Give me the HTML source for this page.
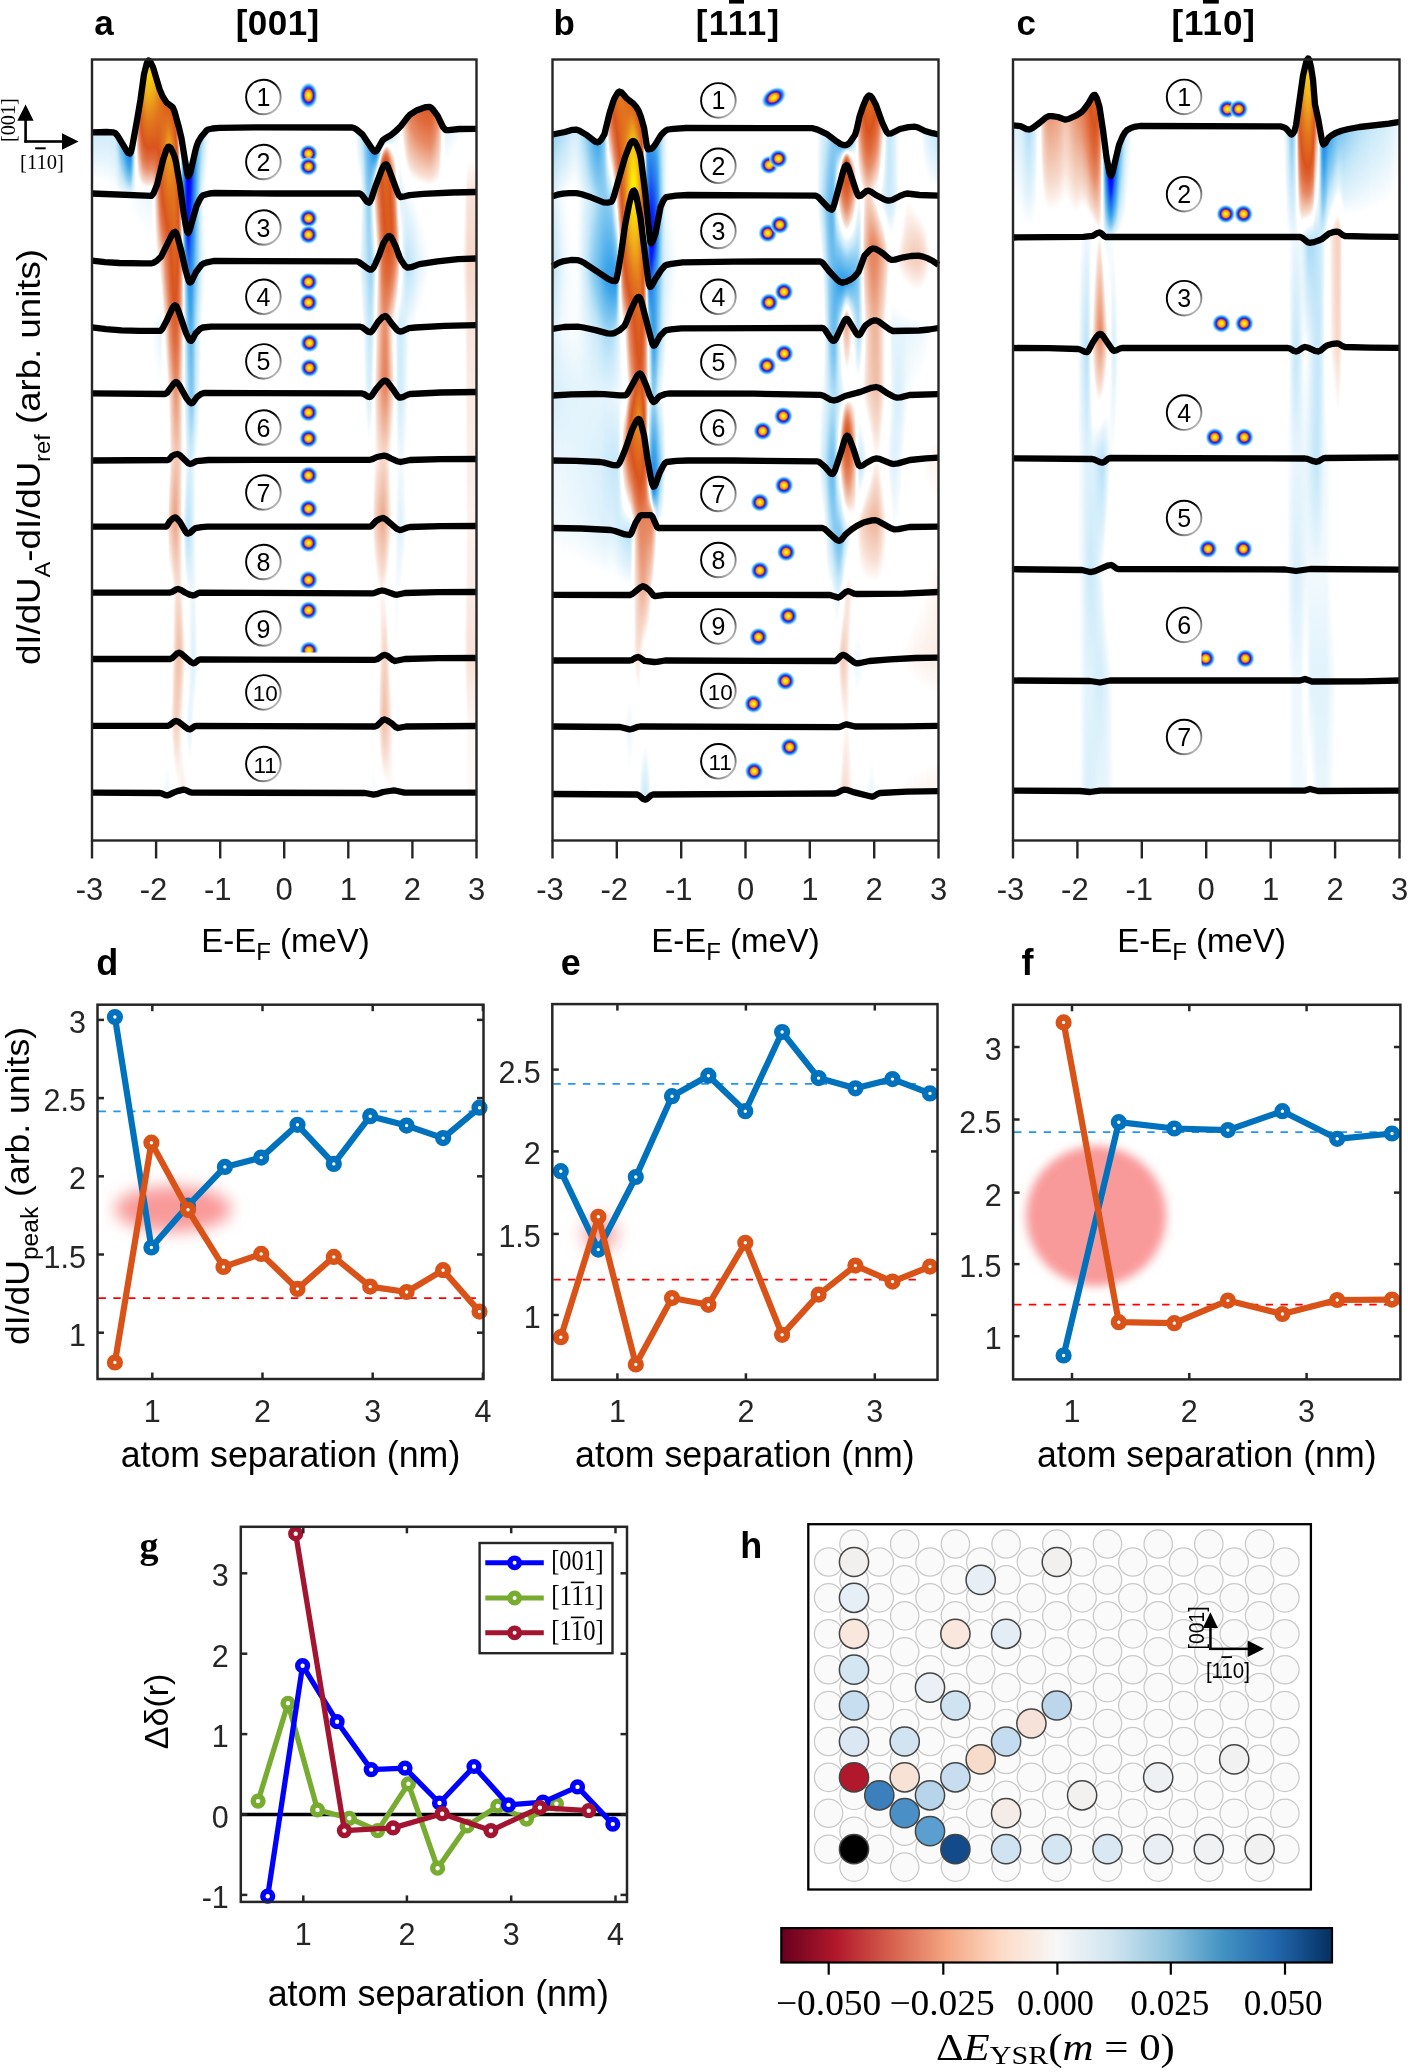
<!DOCTYPE html><html><head><meta charset="utf-8"><style>html,body{margin:0;padding:0;background:#fff}body{width:1408px;height:2072px;position:relative;overflow:hidden}</style></head><body><svg width="1408" height="880" style="position:absolute;left:0;top:0"><defs><clipPath id="fbc0_0"><path d="M93 132.3 L99 132.1 L105 132 L111 132.2 L117 135 L123 144.5 L129 153.5 L135 131 L141 95.9 L147 62.9 L153 67.1 L159 87.3 L165 100.5 L171 105.5 L177 120.2 L183 146.3 L189 175.5 L195 152.1 L201 137.1 L207 130 L213 128.4 L219 127.8 L225 127.7 L231 127.6 L237 127.5 L243 127.4 L249 127.3 L255 127.3 L261 127.2 L267 127.2 L273 127.2 L279 127.2 L285 127.2 L291 127.2 L297 127.2 L303 127.2 L309 127.2 L315 127.2 L321 127.2 L327 127.3 L333 127.3 L339 127.3 L345 127.4 L351 127.4 L357 129.9 L363 135 L369 144 L375 151.6 L381 142.9 L387 137.4 L393 133.5 L399 128 L405 120.6 L411 113.8 L417 110.2 L423 108 L429 106.8 L435 112.3 L441 122.8 L447 130.3 L453 129.7 L459 129 L465 128.9 L471 128.8 L474 128.8 L474 192 L468 192.1 L462 192.2 L456 192.4 L450 192.6 L444 192.8 L438 193.1 L432 193.3 L426 193.7 L420 194.1 L414 194.6 L408 195.4 L402 196.9 L396 188.2 L390 171.9 L384 165.5 L378 179.9 L372 197.1 L366 200.7 L360 193.6 L354 193.5 L348 193.5 L342 193.5 L336 193.5 L330 193.5 L324 193.5 L318 193.5 L312 193.5 L306 193.5 L300 193.5 L294 193.5 L288 193.5 L282 193.5 L276 193.5 L270 193.5 L264 193.4 L258 193.4 L252 193.3 L246 193.2 L240 193.2 L234 193.1 L228 193.1 L222 193 L216 193 L210 193.4 L204 194.9 L198 202.9 L192 222 L186 226.8 L180 185 L174 155 L168 147 L162 163.6 L156 187.6 L150 196 L144 195.8 L138 195.5 L132 195.1 L126 194.8 L120 194.6 L114 194.3 L108 194.1 L102 193.9 L96 193.6 L93 193.5 Z"/></clipPath><linearGradient id="fb0" gradientUnits="userSpaceOnUse" x1="92" x2="476.5" y1="0" y2="0"><stop offset="0.002601" stop-color="#cdebfa"/><stop offset="0.05722" stop-color="#cbeafa"/><stop offset="0.08843" stop-color="#308ced"/><stop offset="0.09623" stop-color="#2777ef"/><stop offset="0.104" stop-color="#3697ec"/><stop offset="0.1118" stop-color="#dbf0fb"/><stop offset="0.1196" stop-color="#e6845c"/><stop offset="0.1274" stop-color="#df6e1e"/><stop offset="0.1352" stop-color="#f2be15"/><stop offset="0.1586" stop-color="#f7cf0e"/><stop offset="0.1899" stop-color="#dc611e"/><stop offset="0.2133" stop-color="#df6738"/><stop offset="0.2211" stop-color="#f0bca5"/><stop offset="0.2289" stop-color="#d5eefb"/><stop offset="0.2367" stop-color="#399fec"/><stop offset="0.2445" stop-color="#0925fa"/><stop offset="0.2523" stop-color="#0000ff"/><stop offset="0.2601" stop-color="#0b29fa"/><stop offset="0.2757" stop-color="#59b4ee"/><stop offset="0.2991" stop-color="#e7f5fc"/><stop offset="0.3069" stop-color="#ffffff"/><stop offset="0.6814" stop-color="#ffffff"/><stop offset="0.7048" stop-color="#aadbf6"/><stop offset="0.7282" stop-color="#3392ed"/><stop offset="0.7438" stop-color="#3391ed"/><stop offset="0.7984" stop-color="#ffffff"/><stop offset="0.8062" stop-color="#fdf6f3"/><stop offset="0.8218" stop-color="#e99371"/><stop offset="0.8687" stop-color="#db5c28"/><stop offset="0.8921" stop-color="#e27348"/><stop offset="0.8999" stop-color="#e9926e"/><stop offset="0.9155" stop-color="#ffffff"/><stop offset="0.9233" stop-color="#e3f4fc"/><stop offset="0.9623" stop-color="#ffffff"/><stop offset="0.9935" stop-color="#ffffff"/></linearGradient><linearGradient id="fb1" gradientUnits="userSpaceOnUse" x1="92" x2="476.5" y1="0" y2="0"><stop offset="0.002601" stop-color="#cdebfa"/><stop offset="0.05722" stop-color="#cbeafa"/><stop offset="0.08843" stop-color="#308ced"/><stop offset="0.09623" stop-color="#2777ef"/><stop offset="0.104" stop-color="#3697ec"/><stop offset="0.1118" stop-color="#dbf0fb"/><stop offset="0.1196" stop-color="#e6845c"/><stop offset="0.1274" stop-color="#df6e1e"/><stop offset="0.143" stop-color="#f1b718"/><stop offset="0.1743" stop-color="#e6891d"/><stop offset="0.2055" stop-color="#d95520"/><stop offset="0.2133" stop-color="#df6738"/><stop offset="0.2211" stop-color="#f0bca5"/><stop offset="0.2289" stop-color="#d5eefb"/><stop offset="0.2367" stop-color="#399fec"/><stop offset="0.2445" stop-color="#0925fa"/><stop offset="0.2523" stop-color="#0000ff"/><stop offset="0.2601" stop-color="#0b29fa"/><stop offset="0.2757" stop-color="#59b4ee"/><stop offset="0.2991" stop-color="#e7f5fc"/><stop offset="0.3069" stop-color="#ffffff"/><stop offset="0.6814" stop-color="#ffffff"/><stop offset="0.7048" stop-color="#aadbf6"/><stop offset="0.7282" stop-color="#3392ed"/><stop offset="0.7438" stop-color="#3391ed"/><stop offset="0.7984" stop-color="#ffffff"/><stop offset="0.8062" stop-color="#fdf6f3"/><stop offset="0.8218" stop-color="#e99371"/><stop offset="0.8687" stop-color="#db5c28"/><stop offset="0.8921" stop-color="#e27348"/><stop offset="0.8999" stop-color="#e9926e"/><stop offset="0.9155" stop-color="#ffffff"/><stop offset="0.9233" stop-color="#e3f4fc"/><stop offset="0.9623" stop-color="#ffffff"/><stop offset="0.9935" stop-color="#ffffff"/></linearGradient><linearGradient id="fb2" gradientUnits="userSpaceOnUse" x1="92" x2="476.5" y1="0" y2="0"><stop offset="0.002601" stop-color="#cdebfa"/><stop offset="0.05722" stop-color="#cbeafa"/><stop offset="0.08843" stop-color="#308ced"/><stop offset="0.09623" stop-color="#2777ef"/><stop offset="0.104" stop-color="#3697ec"/><stop offset="0.1118" stop-color="#dbf0fb"/><stop offset="0.1196" stop-color="#e6845c"/><stop offset="0.1274" stop-color="#dc621e"/><stop offset="0.1508" stop-color="#e8931c"/><stop offset="0.2055" stop-color="#da581e"/><stop offset="0.2133" stop-color="#df6738"/><stop offset="0.2211" stop-color="#f0bca5"/><stop offset="0.2289" stop-color="#d5eefb"/><stop offset="0.2367" stop-color="#399fec"/><stop offset="0.2445" stop-color="#0925fa"/><stop offset="0.2523" stop-color="#0000ff"/><stop offset="0.2601" stop-color="#0b29fa"/><stop offset="0.2757" stop-color="#59b4ee"/><stop offset="0.2991" stop-color="#e7f5fc"/><stop offset="0.3069" stop-color="#ffffff"/><stop offset="0.6814" stop-color="#ffffff"/><stop offset="0.7048" stop-color="#aadbf6"/><stop offset="0.7282" stop-color="#3392ed"/><stop offset="0.7438" stop-color="#3391ed"/><stop offset="0.7984" stop-color="#ffffff"/><stop offset="0.8062" stop-color="#fdf6f3"/><stop offset="0.8218" stop-color="#e99371"/><stop offset="0.8609" stop-color="#dc602e"/><stop offset="0.8921" stop-color="#e27348"/><stop offset="0.8999" stop-color="#e9926e"/><stop offset="0.9155" stop-color="#ffffff"/><stop offset="0.9233" stop-color="#e3f4fc"/><stop offset="0.9623" stop-color="#ffffff"/><stop offset="0.9935" stop-color="#ffffff"/></linearGradient><linearGradient id="fb3" gradientUnits="userSpaceOnUse" x1="92" x2="476.5" y1="0" y2="0"><stop offset="0.002601" stop-color="#cdebfa"/><stop offset="0.05722" stop-color="#cbeafa"/><stop offset="0.08843" stop-color="#308ced"/><stop offset="0.09623" stop-color="#2777ef"/><stop offset="0.104" stop-color="#3697ec"/><stop offset="0.1118" stop-color="#dbf0fb"/><stop offset="0.1196" stop-color="#ea9776"/><stop offset="0.1274" stop-color="#db5a25"/><stop offset="0.2055" stop-color="#e1741e"/><stop offset="0.2133" stop-color="#db5e1e"/><stop offset="0.2289" stop-color="#d5eefb"/><stop offset="0.2367" stop-color="#399fec"/><stop offset="0.2445" stop-color="#0925fa"/><stop offset="0.2523" stop-color="#0000ff"/><stop offset="0.2601" stop-color="#0b29fa"/><stop offset="0.2757" stop-color="#59b4ee"/><stop offset="0.2991" stop-color="#e7f5fc"/><stop offset="0.3069" stop-color="#ffffff"/><stop offset="0.6814" stop-color="#ffffff"/><stop offset="0.7048" stop-color="#aadbf6"/><stop offset="0.7282" stop-color="#3392ed"/><stop offset="0.7438" stop-color="#3391ed"/><stop offset="0.7984" stop-color="#ffffff"/><stop offset="0.8062" stop-color="#ffffff"/><stop offset="0.8296" stop-color="#e88f6c"/><stop offset="0.8843" stop-color="#e2764b"/><stop offset="0.8999" stop-color="#eca385"/><stop offset="0.9155" stop-color="#ffffff"/><stop offset="0.9233" stop-color="#e3f4fc"/><stop offset="0.9623" stop-color="#ffffff"/><stop offset="0.9935" stop-color="#ffffff"/></linearGradient><linearGradient id="fb4" gradientUnits="userSpaceOnUse" x1="92" x2="476.5" y1="0" y2="0"><stop offset="0.002601" stop-color="#daf0fb"/><stop offset="0.05722" stop-color="#d6eefb"/><stop offset="0.08843" stop-color="#308ced"/><stop offset="0.09623" stop-color="#2777ef"/><stop offset="0.104" stop-color="#3697ec"/><stop offset="0.1118" stop-color="#e1f3fc"/><stop offset="0.1274" stop-color="#e3784d"/><stop offset="0.1508" stop-color="#d9551e"/><stop offset="0.1821" stop-color="#df6b1e"/><stop offset="0.1977" stop-color="#eda51a"/><stop offset="0.2211" stop-color="#de6534"/><stop offset="0.2289" stop-color="#ffffff"/><stop offset="0.2367" stop-color="#399fec"/><stop offset="0.2445" stop-color="#0925fa"/><stop offset="0.2523" stop-color="#0000ff"/><stop offset="0.2601" stop-color="#0b29fa"/><stop offset="0.2757" stop-color="#5db6ee"/><stop offset="0.2991" stop-color="#f0f9fd"/><stop offset="0.3069" stop-color="#ffffff"/><stop offset="0.6814" stop-color="#ffffff"/><stop offset="0.697" stop-color="#dbf0fb"/><stop offset="0.7282" stop-color="#3392ed"/><stop offset="0.7438" stop-color="#3391ed"/><stop offset="0.7594" stop-color="#ffffff"/><stop offset="0.7672" stop-color="#fdf3ef"/><stop offset="0.775" stop-color="#ffffff"/><stop offset="0.8062" stop-color="#ffffff"/><stop offset="0.8375" stop-color="#edab8f"/><stop offset="0.8843" stop-color="#e99574"/><stop offset="0.9155" stop-color="#ffffff"/><stop offset="0.9233" stop-color="#f2fafe"/><stop offset="0.9389" stop-color="#ffffff"/><stop offset="0.9935" stop-color="#ffffff"/></linearGradient><linearGradient id="fb5" gradientUnits="userSpaceOnUse" x1="92" x2="476.5" y1="0" y2="0"><stop offset="0.002601" stop-color="#eef8fd"/><stop offset="0.05722" stop-color="#e5f5fc"/><stop offset="0.08062" stop-color="#87caf2"/><stop offset="0.09623" stop-color="#399fec"/><stop offset="0.104" stop-color="#6abcef"/><stop offset="0.1118" stop-color="#e8f6fc"/><stop offset="0.1196" stop-color="#fae8e0"/><stop offset="0.1352" stop-color="#e78b66"/><stop offset="0.1743" stop-color="#dc602d"/><stop offset="0.1977" stop-color="#eda61a"/><stop offset="0.2211" stop-color="#db5e1e"/><stop offset="0.2289" stop-color="#f9e1d6"/><stop offset="0.2367" stop-color="#3fa6eb"/><stop offset="0.2445" stop-color="#0925fa"/><stop offset="0.2523" stop-color="#0000ff"/><stop offset="0.2601" stop-color="#0b2afa"/><stop offset="0.2757" stop-color="#6fbeef"/><stop offset="0.2913" stop-color="#ddf1fb"/><stop offset="0.2991" stop-color="#ffffff"/><stop offset="0.6892" stop-color="#ffffff"/><stop offset="0.7048" stop-color="#caeafa"/><stop offset="0.7204" stop-color="#64b9ef"/><stop offset="0.736" stop-color="#72c0f0"/><stop offset="0.7438" stop-color="#ebf7fd"/><stop offset="0.7516" stop-color="#e3794f"/><stop offset="0.7594" stop-color="#dd651e"/><stop offset="0.775" stop-color="#e06a3c"/><stop offset="0.7906" stop-color="#ffffff"/><stop offset="0.814" stop-color="#ffffff"/><stop offset="0.8531" stop-color="#f3cbb8"/><stop offset="0.8921" stop-color="#f5d0bf"/><stop offset="0.9077" stop-color="#ffffff"/><stop offset="0.9935" stop-color="#ffffff"/></linearGradient><linearGradient id="fb6" gradientUnits="userSpaceOnUse" x1="92" x2="476.5" y1="0" y2="0"><stop offset="0.002601" stop-color="#ffffff"/><stop offset="0.05722" stop-color="#ffffff"/><stop offset="0.09623" stop-color="#acdcf6"/><stop offset="0.1118" stop-color="#f1f9fd"/><stop offset="0.1196" stop-color="#ffffff"/><stop offset="0.1274" stop-color="#ffffff"/><stop offset="0.1586" stop-color="#f8e0d5"/><stop offset="0.1664" stop-color="#f0baa3"/><stop offset="0.1743" stop-color="#e06d3f"/><stop offset="0.1977" stop-color="#eda61a"/><stop offset="0.2211" stop-color="#dc601e"/><stop offset="0.2289" stop-color="#edac91"/><stop offset="0.2367" stop-color="#4cadec"/><stop offset="0.2445" stop-color="#0c2ef9"/><stop offset="0.2523" stop-color="#0105fe"/><stop offset="0.2679" stop-color="#3595ec"/><stop offset="0.2835" stop-color="#cceafa"/><stop offset="0.2913" stop-color="#f1f9fd"/><stop offset="0.2991" stop-color="#ffffff"/><stop offset="0.697" stop-color="#ffffff"/><stop offset="0.7204" stop-color="#7dc5f1"/><stop offset="0.7282" stop-color="#a4d8f5"/><stop offset="0.736" stop-color="#fbeae2"/><stop offset="0.7438" stop-color="#e47c53"/><stop offset="0.7516" stop-color="#d9541f"/><stop offset="0.775" stop-color="#d95520"/><stop offset="0.7828" stop-color="#e47d54"/><stop offset="0.7906" stop-color="#f6d6c7"/><stop offset="0.7984" stop-color="#f6fbfe"/><stop offset="0.8062" stop-color="#edf8fd"/><stop offset="0.814" stop-color="#ffffff"/><stop offset="0.9701" stop-color="#ffffff"/><stop offset="0.9779" stop-color="#fbebe3"/><stop offset="0.9935" stop-color="#fae9e1"/></linearGradient><linearGradient id="fb7" gradientUnits="userSpaceOnUse" x1="92" x2="476.5" y1="0" y2="0"><stop offset="0.002601" stop-color="#ffffff"/><stop offset="0.1118" stop-color="#ffffff"/><stop offset="0.143" stop-color="#edf7fd"/><stop offset="0.1508" stop-color="#ecf7fd"/><stop offset="0.1586" stop-color="#ffffff"/><stop offset="0.1664" stop-color="#f3c8b5"/><stop offset="0.1743" stop-color="#e06d3f"/><stop offset="0.1977" stop-color="#eda61a"/><stop offset="0.2211" stop-color="#dc601e"/><stop offset="0.2289" stop-color="#edab8f"/><stop offset="0.2367" stop-color="#59b3ee"/><stop offset="0.2445" stop-color="#103af7"/><stop offset="0.2523" stop-color="#0513fd"/><stop offset="0.2679" stop-color="#3ba2eb"/><stop offset="0.2835" stop-color="#daf0fb"/><stop offset="0.2913" stop-color="#ffffff"/><stop offset="0.697" stop-color="#ffffff"/><stop offset="0.7204" stop-color="#98d2f3"/><stop offset="0.7282" stop-color="#ddf1fb"/><stop offset="0.7438" stop-color="#e47c53"/><stop offset="0.7516" stop-color="#d9541f"/><stop offset="0.775" stop-color="#d95520"/><stop offset="0.7828" stop-color="#e47d54"/><stop offset="0.7984" stop-color="#f3fafe"/><stop offset="0.814" stop-color="#e8f6fc"/><stop offset="0.8296" stop-color="#ffffff"/><stop offset="0.9701" stop-color="#ffffff"/><stop offset="0.9779" stop-color="#f9e5db"/><stop offset="0.9935" stop-color="#f9e3d9"/></linearGradient><linearGradient id="fb8" gradientUnits="userSpaceOnUse" x1="92" x2="476.5" y1="0" y2="0"><stop offset="0.002601" stop-color="#ffffff"/><stop offset="0.1118" stop-color="#ffffff"/><stop offset="0.143" stop-color="#edf7fd"/><stop offset="0.1508" stop-color="#ecf7fd"/><stop offset="0.1586" stop-color="#ffffff"/><stop offset="0.1664" stop-color="#f3c8b5"/><stop offset="0.1743" stop-color="#e06d3f"/><stop offset="0.1977" stop-color="#eda61a"/><stop offset="0.2211" stop-color="#dc601e"/><stop offset="0.2289" stop-color="#edab8f"/><stop offset="0.2367" stop-color="#5cb5ee"/><stop offset="0.2445" stop-color="#1546f6"/><stop offset="0.2523" stop-color="#0820fb"/><stop offset="0.2679" stop-color="#40a7eb"/><stop offset="0.2835" stop-color="#daf0fb"/><stop offset="0.2913" stop-color="#ffffff"/><stop offset="0.697" stop-color="#ffffff"/><stop offset="0.7204" stop-color="#98d2f3"/><stop offset="0.7282" stop-color="#ddf1fb"/><stop offset="0.7438" stop-color="#e47c53"/><stop offset="0.7516" stop-color="#d9541f"/><stop offset="0.775" stop-color="#d95520"/><stop offset="0.7828" stop-color="#e47d54"/><stop offset="0.7984" stop-color="#f3fafe"/><stop offset="0.814" stop-color="#e8f6fc"/><stop offset="0.8296" stop-color="#ffffff"/><stop offset="0.9701" stop-color="#ffffff"/><stop offset="0.9779" stop-color="#f9e5db"/><stop offset="0.9935" stop-color="#f9e3d9"/></linearGradient><clipPath id="fbc0_1"><path d="M93 193.5 L99 193.7 L105 194 L111 194.2 L117 194.4 L123 194.7 L129 195 L135 195.3 L141 195.6 L147 195.9 L153 194.3 L159 177.6 L165 153.8 L171 148.5 L177 167.2 L183 208.3 L189 231.8 L195 211.1 L201 197.4 L207 194 L213 193.1 L219 193 L225 193 L231 193.1 L237 193.1 L243 193.2 L249 193.3 L255 193.3 L261 193.4 L267 193.4 L273 193.5 L279 193.5 L285 193.5 L291 193.5 L297 193.5 L303 193.5 L309 193.5 L315 193.5 L321 193.5 L327 193.5 L333 193.5 L339 193.5 L345 193.5 L351 193.5 L357 193.5 L363 196.4 L369 202.7 L375 187.6 L381 171.6 L387 165.1 L393 180 L399 195.5 L405 196.2 L411 194.9 L417 194.3 L423 193.9 L429 193.5 L435 193.2 L441 193 L447 192.7 L453 192.5 L459 192.3 L465 192.2 L471 192.1 L474 192 L474 258.5 L468 258.7 L462 258.9 L456 259.4 L450 259.9 L444 260.6 L438 261.3 L432 262.1 L426 263 L420 264 L414 266.1 L408 267.7 L402 261.6 L396 247.2 L390 236.2 L384 242 L378 258 L372 269.4 L366 267.4 L360 262.8 L354 261.3 L348 261.3 L342 261.2 L336 261.2 L330 261.2 L324 261.1 L318 261.1 L312 261.1 L306 261.1 L300 261.1 L294 261.1 L288 261 L282 261 L276 261 L270 261 L264 261 L258 261 L252 261 L246 261 L240 261 L234 261 L228 261 L222 261 L216 261 L210 261.5 L204 263.3 L198 269.2 L192 280.5 L186 272 L180 246.1 L174 232.2 L168 243.1 L162 255.2 L156 261.4 L150 263.4 L144 263.4 L138 263.4 L132 263.3 L126 263.2 L120 263 L114 262.7 L108 262.3 L102 261.8 L96 261.1 L93 260.7 Z"/></clipPath><linearGradient id="fb9" gradientUnits="userSpaceOnUse" x1="92" x2="476.5" y1="0" y2="0"><stop offset="0.002601" stop-color="#ffffff"/><stop offset="0.1118" stop-color="#ffffff"/><stop offset="0.143" stop-color="#edf7fd"/><stop offset="0.1508" stop-color="#ecf7fd"/><stop offset="0.1586" stop-color="#ffffff"/><stop offset="0.1664" stop-color="#f3c8b5"/><stop offset="0.1743" stop-color="#e06d3f"/><stop offset="0.1977" stop-color="#ea9b1b"/><stop offset="0.2211" stop-color="#dc601e"/><stop offset="0.2289" stop-color="#edab8f"/><stop offset="0.2367" stop-color="#5cb5ee"/><stop offset="0.2445" stop-color="#1649f5"/><stop offset="0.2523" stop-color="#0a27fa"/><stop offset="0.2679" stop-color="#40a7eb"/><stop offset="0.2835" stop-color="#daf0fb"/><stop offset="0.2913" stop-color="#ffffff"/><stop offset="0.697" stop-color="#ffffff"/><stop offset="0.7204" stop-color="#98d2f3"/><stop offset="0.7282" stop-color="#ddf1fb"/><stop offset="0.7438" stop-color="#e47c53"/><stop offset="0.7516" stop-color="#d9541f"/><stop offset="0.775" stop-color="#d95520"/><stop offset="0.7828" stop-color="#e47d54"/><stop offset="0.7984" stop-color="#f3fafe"/><stop offset="0.814" stop-color="#e8f6fc"/><stop offset="0.8296" stop-color="#ffffff"/><stop offset="0.9701" stop-color="#ffffff"/><stop offset="0.9779" stop-color="#f9e5db"/><stop offset="0.9935" stop-color="#f9e3d9"/></linearGradient><linearGradient id="fb10" gradientUnits="userSpaceOnUse" x1="92" x2="476.5" y1="0" y2="0"><stop offset="0.002601" stop-color="#ffffff"/><stop offset="0.1118" stop-color="#ffffff"/><stop offset="0.143" stop-color="#edf7fd"/><stop offset="0.1508" stop-color="#ecf7fd"/><stop offset="0.1586" stop-color="#ffffff"/><stop offset="0.1664" stop-color="#f3c8b5"/><stop offset="0.1743" stop-color="#e06d3f"/><stop offset="0.1977" stop-color="#e5841d"/><stop offset="0.2211" stop-color="#dc601e"/><stop offset="0.2289" stop-color="#edab8f"/><stop offset="0.2367" stop-color="#5cb5ee"/><stop offset="0.2445" stop-color="#1649f5"/><stop offset="0.2523" stop-color="#0a27fa"/><stop offset="0.2679" stop-color="#40a7eb"/><stop offset="0.2835" stop-color="#daf0fb"/><stop offset="0.2913" stop-color="#ffffff"/><stop offset="0.697" stop-color="#ffffff"/><stop offset="0.7204" stop-color="#98d2f3"/><stop offset="0.7282" stop-color="#ddf1fb"/><stop offset="0.7438" stop-color="#e47c53"/><stop offset="0.7516" stop-color="#da5722"/><stop offset="0.775" stop-color="#d9551f"/><stop offset="0.7828" stop-color="#e47d54"/><stop offset="0.7984" stop-color="#f3fafe"/><stop offset="0.814" stop-color="#e8f6fc"/><stop offset="0.8296" stop-color="#ffffff"/><stop offset="0.9701" stop-color="#ffffff"/><stop offset="0.9779" stop-color="#f9e5db"/><stop offset="0.9935" stop-color="#f9e3d9"/></linearGradient><linearGradient id="fb11" gradientUnits="userSpaceOnUse" x1="92" x2="476.5" y1="0" y2="0"><stop offset="0.002601" stop-color="#ffffff"/><stop offset="0.1118" stop-color="#ffffff"/><stop offset="0.143" stop-color="#edf7fd"/><stop offset="0.1508" stop-color="#ecf7fd"/><stop offset="0.1586" stop-color="#ffffff"/><stop offset="0.1821" stop-color="#d9551f"/><stop offset="0.2133" stop-color="#e1741e"/><stop offset="0.2211" stop-color="#dc601e"/><stop offset="0.2289" stop-color="#eb9f7f"/><stop offset="0.2367" stop-color="#5cb5ee"/><stop offset="0.2445" stop-color="#1649f5"/><stop offset="0.2523" stop-color="#0a27fa"/><stop offset="0.2679" stop-color="#40a7eb"/><stop offset="0.2835" stop-color="#daf0fb"/><stop offset="0.2913" stop-color="#ffffff"/><stop offset="0.697" stop-color="#ffffff"/><stop offset="0.7204" stop-color="#98d2f3"/><stop offset="0.7282" stop-color="#ddf1fb"/><stop offset="0.7438" stop-color="#e78a65"/><stop offset="0.7594" stop-color="#db5b1e"/><stop offset="0.775" stop-color="#da561e"/><stop offset="0.7828" stop-color="#e17245"/><stop offset="0.7984" stop-color="#f3fafe"/><stop offset="0.814" stop-color="#e8f6fc"/><stop offset="0.8296" stop-color="#ffffff"/><stop offset="0.9701" stop-color="#ffffff"/><stop offset="0.9779" stop-color="#f9e4da"/><stop offset="0.9935" stop-color="#f9e2d8"/></linearGradient><linearGradient id="fb12" gradientUnits="userSpaceOnUse" x1="92" x2="476.5" y1="0" y2="0"><stop offset="0.002601" stop-color="#ffffff"/><stop offset="0.1352" stop-color="#ffffff"/><stop offset="0.1508" stop-color="#f4fbfe"/><stop offset="0.1586" stop-color="#ffffff"/><stop offset="0.1664" stop-color="#f8ddd1"/><stop offset="0.1821" stop-color="#df693a"/><stop offset="0.2133" stop-color="#df6d1e"/><stop offset="0.2211" stop-color="#dc601e"/><stop offset="0.2289" stop-color="#e78a65"/><stop offset="0.2367" stop-color="#70bff0"/><stop offset="0.2445" stop-color="#1649f5"/><stop offset="0.2523" stop-color="#0a27fa"/><stop offset="0.2679" stop-color="#43a8ec"/><stop offset="0.2835" stop-color="#d9f0fb"/><stop offset="0.2913" stop-color="#ffffff"/><stop offset="0.697" stop-color="#ffffff"/><stop offset="0.7204" stop-color="#9ad3f4"/><stop offset="0.736" stop-color="#fdf5f2"/><stop offset="0.7516" stop-color="#e06b3d"/><stop offset="0.775" stop-color="#da591e"/><stop offset="0.7828" stop-color="#de6737"/><stop offset="0.7984" stop-color="#ffffff"/><stop offset="0.814" stop-color="#e1f3fc"/><stop offset="0.8453" stop-color="#ffffff"/><stop offset="0.9623" stop-color="#ffffff"/><stop offset="0.9701" stop-color="#fdf6f3"/><stop offset="0.9857" stop-color="#f8ded2"/><stop offset="0.9935" stop-color="#f8ded2"/></linearGradient><linearGradient id="fb13" gradientUnits="userSpaceOnUse" x1="92" x2="476.5" y1="0" y2="0"><stop offset="0.002601" stop-color="#ffffff"/><stop offset="0.1586" stop-color="#ffffff"/><stop offset="0.1664" stop-color="#fcf2ee"/><stop offset="0.1899" stop-color="#df6a3b"/><stop offset="0.2211" stop-color="#dc5f1e"/><stop offset="0.2289" stop-color="#e47c53"/><stop offset="0.2367" stop-color="#c0e5f9"/><stop offset="0.2445" stop-color="#1e60f2"/><stop offset="0.2523" stop-color="#0b2afa"/><stop offset="0.2679" stop-color="#52b0ed"/><stop offset="0.2835" stop-color="#d8effb"/><stop offset="0.2913" stop-color="#f5fbfe"/><stop offset="0.2991" stop-color="#ffffff"/><stop offset="0.697" stop-color="#ffffff"/><stop offset="0.7204" stop-color="#9ed5f4"/><stop offset="0.736" stop-color="#ffffff"/><stop offset="0.7516" stop-color="#e47c53"/><stop offset="0.7672" stop-color="#da591e"/><stop offset="0.7828" stop-color="#dc5e2c"/><stop offset="0.7906" stop-color="#e78863"/><stop offset="0.7984" stop-color="#fdf3ef"/><stop offset="0.8062" stop-color="#ffffff"/><stop offset="0.8218" stop-color="#d5eefb"/><stop offset="0.8609" stop-color="#ffffff"/><stop offset="0.9623" stop-color="#ffffff"/><stop offset="0.9857" stop-color="#f7dbce"/><stop offset="0.9935" stop-color="#f7dacd"/></linearGradient><linearGradient id="fb14" gradientUnits="userSpaceOnUse" x1="92" x2="476.5" y1="0" y2="0"><stop offset="0.002601" stop-color="#ffffff"/><stop offset="0.1664" stop-color="#ffffff"/><stop offset="0.1977" stop-color="#de6434"/><stop offset="0.2211" stop-color="#dc5f1e"/><stop offset="0.2289" stop-color="#e27448"/><stop offset="0.2367" stop-color="#ffffff"/><stop offset="0.2445" stop-color="#3697ec"/><stop offset="0.2523" stop-color="#1c5af3"/><stop offset="0.2679" stop-color="#61b7ee"/><stop offset="0.2835" stop-color="#d7effb"/><stop offset="0.2991" stop-color="#ffffff"/><stop offset="0.697" stop-color="#ffffff"/><stop offset="0.7204" stop-color="#a1d7f5"/><stop offset="0.7282" stop-color="#b2dff7"/><stop offset="0.736" stop-color="#f1f9fd"/><stop offset="0.7438" stop-color="#f9e2d8"/><stop offset="0.7516" stop-color="#e78b66"/><stop offset="0.7672" stop-color="#da581e"/><stop offset="0.7828" stop-color="#db5b27"/><stop offset="0.7906" stop-color="#e47b51"/><stop offset="0.7984" stop-color="#f5d1c1"/><stop offset="0.8062" stop-color="#ffffff"/><stop offset="0.8218" stop-color="#c8e8f9"/><stop offset="0.8687" stop-color="#ffffff"/><stop offset="0.9623" stop-color="#ffffff"/><stop offset="0.9857" stop-color="#f6d7c9"/><stop offset="0.9935" stop-color="#f6d7c8"/></linearGradient><linearGradient id="fb15" gradientUnits="userSpaceOnUse" x1="92" x2="476.5" y1="0" y2="0"><stop offset="0.002601" stop-color="#ffffff"/><stop offset="0.1664" stop-color="#ffffff"/><stop offset="0.1743" stop-color="#fcf0ea"/><stop offset="0.1977" stop-color="#de6434"/><stop offset="0.2211" stop-color="#dc5f1e"/><stop offset="0.2289" stop-color="#e27448"/><stop offset="0.2367" stop-color="#ffffff"/><stop offset="0.2523" stop-color="#2d84ee"/><stop offset="0.2601" stop-color="#3596ec"/><stop offset="0.2835" stop-color="#d6eefb"/><stop offset="0.2991" stop-color="#ffffff"/><stop offset="0.697" stop-color="#ffffff"/><stop offset="0.7204" stop-color="#a5d8f5"/><stop offset="0.7282" stop-color="#a3d8f5"/><stop offset="0.7438" stop-color="#fbeee8"/><stop offset="0.7516" stop-color="#e78b66"/><stop offset="0.7672" stop-color="#da581e"/><stop offset="0.7828" stop-color="#db5b27"/><stop offset="0.7906" stop-color="#e47b51"/><stop offset="0.8062" stop-color="#ffffff"/><stop offset="0.8218" stop-color="#bbe3f8"/><stop offset="0.8765" stop-color="#ffffff"/><stop offset="0.9623" stop-color="#ffffff"/><stop offset="0.9857" stop-color="#f6d6c8"/><stop offset="0.9935" stop-color="#f6d6c7"/></linearGradient><clipPath id="fbc0_2"><path d="M93 260.7 L99 261.5 L105 262.1 L111 262.5 L117 262.9 L123 263.1 L129 263.3 L135 263.3 L141 263.4 L147 263.4 L153 263 L159 258.9 L165 249 L171 236.7 L177 234.9 L183 258.8 L189 281.6 L195 273.8 L201 265.3 L207 262.3 L213 261.1 L219 261 L225 261 L231 261 L237 261 L243 261 L249 261 L255 261 L261 261 L267 261 L273 261 L279 261 L285 261 L291 261.1 L297 261.1 L303 261.1 L309 261.1 L315 261.1 L321 261.1 L327 261.2 L333 261.2 L339 261.2 L345 261.2 L351 261.3 L357 261.3 L363 265.3 L369 269.3 L375 264.7 L381 249.6 L387 237.6 L393 240.8 L399 255.6 L405 265.9 L411 267.2 L417 264.8 L423 263.5 L429 262.6 L435 261.7 L441 260.9 L447 260.2 L453 259.6 L459 259.1 L465 258.8 L471 258.6 L474 258.5 L474 325.2 L468 325.2 L462 325.3 L456 325.4 L450 325.6 L444 325.8 L438 326.1 L432 326.4 L426 326.7 L420 327.2 L414 327.6 L408 328.5 L402 331.3 L396 328.8 L390 321.3 L384 316.2 L378 322 L372 331.2 L366 330.2 L360 326.6 L354 326.6 L348 326.6 L342 326.6 L336 326.6 L330 326.6 L324 326.6 L318 326.6 L312 326.6 L306 326.6 L300 326.6 L294 326.6 L288 326.6 L282 326.6 L276 326.6 L270 326.6 L264 326.6 L258 326.6 L252 326.6 L246 326.6 L240 326.6 L234 326.6 L228 326.6 L222 326.6 L216 326.6 L210 326.8 L204 327.4 L198 330.9 L192 340.2 L186 333 L180 315.3 L174 305.9 L168 318 L162 329.4 L156 331 L150 331 L144 331 L138 330.9 L132 330.7 L126 330.6 L120 330.3 L114 329.9 L108 329.4 L102 328.8 L96 328 L93 327.6 Z"/></clipPath><linearGradient id="fb16" gradientUnits="userSpaceOnUse" x1="92" x2="476.5" y1="0" y2="0"><stop offset="0.002601" stop-color="#ffffff"/><stop offset="0.1664" stop-color="#ffffff"/><stop offset="0.1743" stop-color="#fcf0ea"/><stop offset="0.1977" stop-color="#de6434"/><stop offset="0.2211" stop-color="#db5e1e"/><stop offset="0.2289" stop-color="#e27448"/><stop offset="0.2367" stop-color="#ffffff"/><stop offset="0.2445" stop-color="#82c8f1"/><stop offset="0.2523" stop-color="#3697ec"/><stop offset="0.2601" stop-color="#389dec"/><stop offset="0.2835" stop-color="#d6eefb"/><stop offset="0.2991" stop-color="#ffffff"/><stop offset="0.697" stop-color="#ffffff"/><stop offset="0.7204" stop-color="#a5d8f5"/><stop offset="0.7282" stop-color="#a3d8f5"/><stop offset="0.7438" stop-color="#fbeee8"/><stop offset="0.7516" stop-color="#e78b66"/><stop offset="0.7672" stop-color="#da561e"/><stop offset="0.7828" stop-color="#db5b28"/><stop offset="0.7906" stop-color="#e47b51"/><stop offset="0.8062" stop-color="#ffffff"/><stop offset="0.8218" stop-color="#bbe3f8"/><stop offset="0.8765" stop-color="#ffffff"/><stop offset="0.9623" stop-color="#ffffff"/><stop offset="0.9857" stop-color="#f6d6c8"/><stop offset="0.9935" stop-color="#f6d6c7"/></linearGradient><linearGradient id="fb17" gradientUnits="userSpaceOnUse" x1="92" x2="476.5" y1="0" y2="0"><stop offset="0.002601" stop-color="#ffffff"/><stop offset="0.1664" stop-color="#ffffff"/><stop offset="0.1743" stop-color="#fcf0eb"/><stop offset="0.1977" stop-color="#e06c3e"/><stop offset="0.2211" stop-color="#da591e"/><stop offset="0.2289" stop-color="#e3784e"/><stop offset="0.2367" stop-color="#ffffff"/><stop offset="0.2445" stop-color="#82c8f1"/><stop offset="0.2523" stop-color="#3697ec"/><stop offset="0.2601" stop-color="#389dec"/><stop offset="0.2835" stop-color="#d6eefb"/><stop offset="0.2991" stop-color="#ffffff"/><stop offset="0.697" stop-color="#ffffff"/><stop offset="0.7204" stop-color="#a5d8f5"/><stop offset="0.7282" stop-color="#a3d8f5"/><stop offset="0.7438" stop-color="#fbede7"/><stop offset="0.7516" stop-color="#e88f6b"/><stop offset="0.7672" stop-color="#dc5d2a"/><stop offset="0.7906" stop-color="#e78b66"/><stop offset="0.8062" stop-color="#ffffff"/><stop offset="0.8218" stop-color="#bbe3f8"/><stop offset="0.8765" stop-color="#ffffff"/><stop offset="0.9623" stop-color="#ffffff"/><stop offset="0.9857" stop-color="#f6d6c8"/><stop offset="0.9935" stop-color="#f6d6c7"/></linearGradient><linearGradient id="fb18" gradientUnits="userSpaceOnUse" x1="92" x2="476.5" y1="0" y2="0"><stop offset="0.002601" stop-color="#ffffff"/><stop offset="0.1743" stop-color="#ffffff"/><stop offset="0.2055" stop-color="#dc5d2a"/><stop offset="0.2211" stop-color="#d9541e"/><stop offset="0.2289" stop-color="#e47e56"/><stop offset="0.2367" stop-color="#ffffff"/><stop offset="0.2523" stop-color="#3697ec"/><stop offset="0.2601" stop-color="#389dec"/><stop offset="0.2835" stop-color="#dbf0fb"/><stop offset="0.2913" stop-color="#f5fbfe"/><stop offset="0.2991" stop-color="#ffffff"/><stop offset="0.697" stop-color="#ffffff"/><stop offset="0.7282" stop-color="#aadbf6"/><stop offset="0.736" stop-color="#e6f5fc"/><stop offset="0.7438" stop-color="#fae6dd"/><stop offset="0.7516" stop-color="#ea9978"/><stop offset="0.7672" stop-color="#df6a3b"/><stop offset="0.7828" stop-color="#e68660"/><stop offset="0.7984" stop-color="#fdf6f3"/><stop offset="0.8062" stop-color="#ffffff"/><stop offset="0.8218" stop-color="#c5e7f9"/><stop offset="0.8687" stop-color="#ffffff"/><stop offset="0.9623" stop-color="#ffffff"/><stop offset="0.9857" stop-color="#f7dacc"/><stop offset="0.9935" stop-color="#f7d9cc"/></linearGradient><linearGradient id="fb19" gradientUnits="userSpaceOnUse" x1="92" x2="476.5" y1="0" y2="0"><stop offset="0.002601" stop-color="#ffffff"/><stop offset="0.1821" stop-color="#ffffff"/><stop offset="0.2055" stop-color="#de6636"/><stop offset="0.2211" stop-color="#db5a26"/><stop offset="0.2289" stop-color="#e6855e"/><stop offset="0.2367" stop-color="#ffffff"/><stop offset="0.2523" stop-color="#3aa1eb"/><stop offset="0.2601" stop-color="#3ca5eb"/><stop offset="0.2835" stop-color="#e3f4fc"/><stop offset="0.2913" stop-color="#ffffff"/><stop offset="0.697" stop-color="#ffffff"/><stop offset="0.7282" stop-color="#b9e2f8"/><stop offset="0.736" stop-color="#f6fbfe"/><stop offset="0.7594" stop-color="#e5825a"/><stop offset="0.775" stop-color="#e88c67"/><stop offset="0.7984" stop-color="#ffffff"/><stop offset="0.8218" stop-color="#d4edfa"/><stop offset="0.8531" stop-color="#ffffff"/><stop offset="0.9623" stop-color="#ffffff"/><stop offset="0.9701" stop-color="#fdf5f1"/><stop offset="0.9857" stop-color="#f8ddd1"/><stop offset="0.9935" stop-color="#f8ddd0"/></linearGradient><linearGradient id="fb20" gradientUnits="userSpaceOnUse" x1="92" x2="476.5" y1="0" y2="0"><stop offset="0.002601" stop-color="#ffffff"/><stop offset="0.1821" stop-color="#ffffff"/><stop offset="0.2055" stop-color="#e06e40"/><stop offset="0.2211" stop-color="#dc5f2c"/><stop offset="0.2289" stop-color="#e78b66"/><stop offset="0.2367" stop-color="#fdf7f5"/><stop offset="0.2523" stop-color="#4eaeed"/><stop offset="0.2601" stop-color="#4eaeed"/><stop offset="0.2835" stop-color="#eef8fd"/><stop offset="0.2913" stop-color="#ffffff"/><stop offset="0.697" stop-color="#ffffff"/><stop offset="0.7048" stop-color="#f4fbfe"/><stop offset="0.7204" stop-color="#c0e5f8"/><stop offset="0.7282" stop-color="#c7e8f9"/><stop offset="0.736" stop-color="#ffffff"/><stop offset="0.7594" stop-color="#e9916e"/><stop offset="0.775" stop-color="#f0baa3"/><stop offset="0.7906" stop-color="#ffffff"/><stop offset="0.814" stop-color="#dcf1fb"/><stop offset="0.8453" stop-color="#ffffff"/><stop offset="0.9701" stop-color="#ffffff"/><stop offset="0.9779" stop-color="#f9e2d8"/><stop offset="0.9935" stop-color="#f9e1d6"/></linearGradient><linearGradient id="fb21" gradientUnits="userSpaceOnUse" x1="92" x2="476.5" y1="0" y2="0"><stop offset="0.002601" stop-color="#ffffff"/><stop offset="0.1586" stop-color="#ffffff"/><stop offset="0.1743" stop-color="#e9f6fd"/><stop offset="0.1821" stop-color="#ffffff"/><stop offset="0.1899" stop-color="#fbebe3"/><stop offset="0.2055" stop-color="#e06e40"/><stop offset="0.2211" stop-color="#dc5f2c"/><stop offset="0.2289" stop-color="#e78c67"/><stop offset="0.2367" stop-color="#fdf7f4"/><stop offset="0.2523" stop-color="#67baef"/><stop offset="0.2601" stop-color="#60b7ee"/><stop offset="0.2835" stop-color="#ffffff"/><stop offset="0.7048" stop-color="#ffffff"/><stop offset="0.7204" stop-color="#c9e9f9"/><stop offset="0.736" stop-color="#ffffff"/><stop offset="0.7594" stop-color="#e99573"/><stop offset="0.7672" stop-color="#eb9f80"/><stop offset="0.7828" stop-color="#ffffff"/><stop offset="0.8062" stop-color="#d2edfa"/><stop offset="0.8296" stop-color="#ffffff"/><stop offset="0.9701" stop-color="#ffffff"/><stop offset="0.9779" stop-color="#fae5dc"/><stop offset="0.9935" stop-color="#f9e5db"/></linearGradient><clipPath id="fbc0_3"><path d="M93 327.6 L99 328.4 L105 329.1 L111 329.7 L117 330.1 L123 330.4 L129 330.7 L135 330.8 L141 330.9 L147 331 L153 331 L159 331 L165 323.8 L171 310.9 L177 307.2 L183 324.1 L189 339.2 L195 334.5 L201 328.3 L207 327 L213 326.6 L219 326.6 L225 326.6 L231 326.6 L237 326.6 L243 326.6 L249 326.6 L255 326.6 L261 326.6 L267 326.6 L273 326.6 L279 326.6 L285 326.6 L291 326.6 L297 326.6 L303 326.6 L309 326.6 L315 326.6 L321 326.6 L327 326.6 L333 326.6 L339 326.6 L345 326.6 L351 326.6 L357 326.6 L363 327.8 L369 332.1 L375 326.6 L381 318.7 L387 317.1 L393 325.1 L399 331.4 L405 329.9 L411 327.9 L417 327.4 L423 326.9 L429 326.5 L435 326.2 L441 325.9 L447 325.7 L453 325.5 L459 325.4 L465 325.3 L471 325.2 L474 325.2 L474 392 L468 392 L462 392.1 L456 392.1 L450 392.3 L444 392.4 L438 392.6 L432 392.8 L426 393.1 L420 393.4 L414 393.7 L408 394.5 L402 397.3 L396 394 L390 385.3 L384 380.8 L378 386.9 L372 395.2 L366 395.4 L360 393.4 L354 393.3 L348 393.3 L342 393.3 L336 393.2 L330 393.2 L324 393.2 L318 393.2 L312 393.1 L306 393.1 L300 393.1 L294 393.1 L288 393.1 L282 393.1 L276 393 L270 393 L264 393 L258 393 L252 393 L246 393 L240 393 L234 393 L228 393 L222 393 L216 393 L210 393 L204 393 L198 396.2 L192 403.3 L186 397.5 L180 386.6 L174 383.3 L168 391.5 L162 394 L156 394 L150 394 L144 394 L138 394 L132 393.9 L126 393.9 L120 393.9 L114 393.8 L108 393.7 L102 393.6 L96 393.5 L93 393.4 Z"/></clipPath><linearGradient id="fb22" gradientUnits="userSpaceOnUse" x1="92" x2="476.5" y1="0" y2="0"><stop offset="0.002601" stop-color="#ffffff"/><stop offset="0.1586" stop-color="#ffffff"/><stop offset="0.1743" stop-color="#e9f6fd"/><stop offset="0.1821" stop-color="#ffffff"/><stop offset="0.1899" stop-color="#fbebe3"/><stop offset="0.2055" stop-color="#e17246"/><stop offset="0.2211" stop-color="#dd6231"/><stop offset="0.2289" stop-color="#e78c67"/><stop offset="0.2367" stop-color="#fdf7f4"/><stop offset="0.2523" stop-color="#72c0f0"/><stop offset="0.2601" stop-color="#68bbef"/><stop offset="0.2835" stop-color="#ffffff"/><stop offset="0.7048" stop-color="#ffffff"/><stop offset="0.7204" stop-color="#cae9fa"/><stop offset="0.736" stop-color="#ffffff"/><stop offset="0.7594" stop-color="#e99573"/><stop offset="0.7672" stop-color="#eb9f80"/><stop offset="0.7828" stop-color="#ffffff"/><stop offset="0.8062" stop-color="#d2edfa"/><stop offset="0.8296" stop-color="#ffffff"/><stop offset="0.9701" stop-color="#ffffff"/><stop offset="0.9779" stop-color="#fae5dc"/><stop offset="0.9935" stop-color="#f9e5db"/></linearGradient><linearGradient id="fb23" gradientUnits="userSpaceOnUse" x1="92" x2="476.5" y1="0" y2="0"><stop offset="0.002601" stop-color="#ffffff"/><stop offset="0.1586" stop-color="#ffffff"/><stop offset="0.1743" stop-color="#eaf7fd"/><stop offset="0.1821" stop-color="#ffffff"/><stop offset="0.1899" stop-color="#fdf6f2"/><stop offset="0.2055" stop-color="#e6845d"/><stop offset="0.2211" stop-color="#e06b3d"/><stop offset="0.2289" stop-color="#ea9a79"/><stop offset="0.2367" stop-color="#ffffff"/><stop offset="0.2523" stop-color="#72c0f0"/><stop offset="0.2601" stop-color="#68bbef"/><stop offset="0.2835" stop-color="#ffffff"/><stop offset="0.7048" stop-color="#ffffff"/><stop offset="0.7204" stop-color="#caeafa"/><stop offset="0.736" stop-color="#ffffff"/><stop offset="0.7594" stop-color="#e88f6b"/><stop offset="0.7672" stop-color="#ea9978"/><stop offset="0.7828" stop-color="#ffffff"/><stop offset="0.7906" stop-color="#f1f9fd"/><stop offset="0.8062" stop-color="#d3edfa"/><stop offset="0.8296" stop-color="#ffffff"/><stop offset="0.9701" stop-color="#ffffff"/><stop offset="0.9779" stop-color="#fae6dd"/><stop offset="0.9935" stop-color="#fae5dc"/></linearGradient><linearGradient id="fb24" gradientUnits="userSpaceOnUse" x1="92" x2="476.5" y1="0" y2="0"><stop offset="0.002601" stop-color="#ffffff"/><stop offset="0.1664" stop-color="#ffffff"/><stop offset="0.1743" stop-color="#f2fafe"/><stop offset="0.1821" stop-color="#ffffff"/><stop offset="0.1899" stop-color="#ffffff"/><stop offset="0.2133" stop-color="#e47b51"/><stop offset="0.2211" stop-color="#e37a51"/><stop offset="0.2289" stop-color="#eda98c"/><stop offset="0.2367" stop-color="#ffffff"/><stop offset="0.2523" stop-color="#7cc5f1"/><stop offset="0.2601" stop-color="#70bff0"/><stop offset="0.2835" stop-color="#ffffff"/><stop offset="0.7048" stop-color="#ffffff"/><stop offset="0.7204" stop-color="#cfecfa"/><stop offset="0.736" stop-color="#ffffff"/><stop offset="0.7594" stop-color="#e78b66"/><stop offset="0.7672" stop-color="#e9926f"/><stop offset="0.7828" stop-color="#fdf6f3"/><stop offset="0.7906" stop-color="#ffffff"/><stop offset="0.7984" stop-color="#d3edfa"/><stop offset="0.814" stop-color="#e2f3fc"/><stop offset="0.8218" stop-color="#ffffff"/><stop offset="0.9701" stop-color="#ffffff"/><stop offset="0.9779" stop-color="#fae8df"/><stop offset="0.9935" stop-color="#fae7de"/></linearGradient><linearGradient id="fb25" gradientUnits="userSpaceOnUse" x1="92" x2="476.5" y1="0" y2="0"><stop offset="0.002601" stop-color="#ffffff"/><stop offset="0.1899" stop-color="#ffffff"/><stop offset="0.1977" stop-color="#fbebe4"/><stop offset="0.2133" stop-color="#e88e6a"/><stop offset="0.2211" stop-color="#e78a64"/><stop offset="0.2367" stop-color="#ffffff"/><stop offset="0.2523" stop-color="#89cbf2"/><stop offset="0.2601" stop-color="#7ac4f0"/><stop offset="0.2835" stop-color="#ffffff"/><stop offset="0.7048" stop-color="#ffffff"/><stop offset="0.7204" stop-color="#d4eefb"/><stop offset="0.736" stop-color="#ffffff"/><stop offset="0.7594" stop-color="#e68761"/><stop offset="0.7672" stop-color="#e88c67"/><stop offset="0.7828" stop-color="#fbebe3"/><stop offset="0.7906" stop-color="#ffffff"/><stop offset="0.7984" stop-color="#d4edfa"/><stop offset="0.814" stop-color="#e4f4fc"/><stop offset="0.8218" stop-color="#ffffff"/><stop offset="0.9701" stop-color="#ffffff"/><stop offset="0.9779" stop-color="#fae9e1"/><stop offset="0.9935" stop-color="#fae9e1"/></linearGradient><linearGradient id="fb26" gradientUnits="userSpaceOnUse" x1="92" x2="476.5" y1="0" y2="0"><stop offset="0.002601" stop-color="#ffffff"/><stop offset="0.1977" stop-color="#ffffff"/><stop offset="0.2133" stop-color="#eb9d7d"/><stop offset="0.2211" stop-color="#e9926f"/><stop offset="0.2367" stop-color="#ffffff"/><stop offset="0.2601" stop-color="#84c9f1"/><stop offset="0.2835" stop-color="#ffffff"/><stop offset="0.7048" stop-color="#ffffff"/><stop offset="0.7204" stop-color="#daf0fb"/><stop offset="0.736" stop-color="#ffffff"/><stop offset="0.7516" stop-color="#ea9c7c"/><stop offset="0.7672" stop-color="#e78a65"/><stop offset="0.7906" stop-color="#ffffff"/><stop offset="0.7984" stop-color="#d5eefb"/><stop offset="0.8218" stop-color="#ffffff"/><stop offset="0.9701" stop-color="#ffffff"/><stop offset="0.9779" stop-color="#fbebe3"/><stop offset="0.9935" stop-color="#fbeae3"/></linearGradient><clipPath id="fbc0_4"><path d="M93 393.4 L99 393.6 L105 393.7 L111 393.8 L117 393.8 L123 393.9 L129 393.9 L135 394 L141 394 L147 394 L153 394 L159 394 L165 394 L171 387.7 L177 382.4 L183 391.7 L189 401.6 L195 399.6 L201 394 L207 393 L213 393 L219 393 L225 393 L231 393 L237 393 L243 393 L249 393 L255 393 L261 393 L267 393 L273 393 L279 393.1 L285 393.1 L291 393.1 L297 393.1 L303 393.1 L309 393.1 L315 393.1 L321 393.2 L327 393.2 L333 393.2 L339 393.3 L345 393.3 L351 393.3 L357 393.4 L363 393.6 L369 397 L375 390.7 L381 383.3 L387 381.5 L393 389.3 L399 397.4 L405 395.9 L411 393.9 L417 393.5 L423 393.2 L429 392.9 L435 392.7 L441 392.5 L447 392.3 L453 392.2 L459 392.1 L465 392 L471 392 L474 392 L474 459 L468 459 L462 459 L456 459.1 L450 459.1 L444 459.2 L438 459.3 L432 459.4 L426 459.5 L420 459.7 L414 459.9 L408 460.3 L402 461.9 L396 460.8 L390 458 L384 455.6 L378 456.7 L372 459.3 L366 459.8 L360 459.8 L354 459.8 L348 459.9 L342 459.9 L336 459.9 L330 459.9 L324 459.9 L318 459.9 L312 459.9 L306 459.9 L300 459.9 L294 459.9 L288 459.9 L282 459.9 L276 459.9 L270 459.9 L264 459.9 L258 459.9 L252 459.9 L246 459.9 L240 459.9 L234 459.9 L228 460 L222 460 L216 460 L210 460 L204 460.2 L198 460.9 L192 463.5 L186 461.1 L180 455.3 L174 454.9 L168 460 L162 460.1 L156 460.2 L150 460.3 L144 460.3 L138 460.4 L132 460.4 L126 460.4 L120 460.5 L114 460.5 L108 460.5 L102 460.5 L96 460.5 L93 460.5 Z"/></clipPath><linearGradient id="fb27" gradientUnits="userSpaceOnUse" x1="92" x2="476.5" y1="0" y2="0"><stop offset="0.002601" stop-color="#ffffff"/><stop offset="0.1977" stop-color="#ffffff"/><stop offset="0.2133" stop-color="#eba183"/><stop offset="0.2211" stop-color="#ea9775"/><stop offset="0.2367" stop-color="#ffffff"/><stop offset="0.2601" stop-color="#89ccf2"/><stop offset="0.2835" stop-color="#ffffff"/><stop offset="0.7048" stop-color="#ffffff"/><stop offset="0.7204" stop-color="#daf0fb"/><stop offset="0.736" stop-color="#ffffff"/><stop offset="0.7516" stop-color="#eba283"/><stop offset="0.7672" stop-color="#e9916e"/><stop offset="0.7906" stop-color="#ffffff"/><stop offset="0.7984" stop-color="#d6eefb"/><stop offset="0.8218" stop-color="#ffffff"/><stop offset="0.9701" stop-color="#ffffff"/><stop offset="0.9779" stop-color="#fbebe3"/><stop offset="0.9935" stop-color="#fbeae3"/></linearGradient><linearGradient id="fb28" gradientUnits="userSpaceOnUse" x1="92" x2="476.5" y1="0" y2="0"><stop offset="0.002601" stop-color="#ffffff"/><stop offset="0.1977" stop-color="#ffffff"/><stop offset="0.2133" stop-color="#eeae93"/><stop offset="0.2211" stop-color="#eca486"/><stop offset="0.2367" stop-color="#ffffff"/><stop offset="0.2601" stop-color="#8ccdf2"/><stop offset="0.2757" stop-color="#e7f5fc"/><stop offset="0.2835" stop-color="#ffffff"/><stop offset="0.7048" stop-color="#ffffff"/><stop offset="0.7204" stop-color="#e0f3fc"/><stop offset="0.7282" stop-color="#ffffff"/><stop offset="0.736" stop-color="#ffffff"/><stop offset="0.7516" stop-color="#eeb197"/><stop offset="0.7672" stop-color="#eca588"/><stop offset="0.7828" stop-color="#fbeee8"/><stop offset="0.7906" stop-color="#ffffff"/><stop offset="0.7984" stop-color="#d9f0fb"/><stop offset="0.8218" stop-color="#ffffff"/><stop offset="0.9701" stop-color="#ffffff"/><stop offset="0.9779" stop-color="#fbebe4"/><stop offset="0.9935" stop-color="#fbebe3"/></linearGradient><linearGradient id="fb29" gradientUnits="userSpaceOnUse" x1="92" x2="476.5" y1="0" y2="0"><stop offset="0.002601" stop-color="#ffffff"/><stop offset="0.1977" stop-color="#ffffff"/><stop offset="0.2133" stop-color="#f0baa3"/><stop offset="0.2211" stop-color="#eeb096"/><stop offset="0.2367" stop-color="#ffffff"/><stop offset="0.2601" stop-color="#a6d9f5"/><stop offset="0.2757" stop-color="#eff9fd"/><stop offset="0.2835" stop-color="#ffffff"/><stop offset="0.7126" stop-color="#ffffff"/><stop offset="0.7204" stop-color="#eff8fd"/><stop offset="0.7282" stop-color="#ffffff"/><stop offset="0.736" stop-color="#ffffff"/><stop offset="0.7594" stop-color="#eeb299"/><stop offset="0.775" stop-color="#f6d5c7"/><stop offset="0.7828" stop-color="#ffffff"/><stop offset="0.7906" stop-color="#ffffff"/><stop offset="0.7984" stop-color="#e0f2fc"/><stop offset="0.8218" stop-color="#ffffff"/><stop offset="0.9701" stop-color="#ffffff"/><stop offset="0.9779" stop-color="#fbece5"/><stop offset="0.9935" stop-color="#fbebe4"/></linearGradient><linearGradient id="fb30" gradientUnits="userSpaceOnUse" x1="92" x2="476.5" y1="0" y2="0"><stop offset="0.002601" stop-color="#ffffff"/><stop offset="0.1977" stop-color="#ffffff"/><stop offset="0.2211" stop-color="#f0bda6"/><stop offset="0.2367" stop-color="#ffffff"/><stop offset="0.2445" stop-color="#eef8fd"/><stop offset="0.2601" stop-color="#c0e5f8"/><stop offset="0.2757" stop-color="#ffffff"/><stop offset="0.736" stop-color="#ffffff"/><stop offset="0.7594" stop-color="#f2c7b3"/><stop offset="0.7828" stop-color="#ffffff"/><stop offset="0.7906" stop-color="#ffffff"/><stop offset="0.7984" stop-color="#e7f5fc"/><stop offset="0.8218" stop-color="#ffffff"/><stop offset="0.9701" stop-color="#ffffff"/><stop offset="0.9779" stop-color="#fbece5"/><stop offset="0.9935" stop-color="#fbece5"/></linearGradient><linearGradient id="fb31" gradientUnits="userSpaceOnUse" x1="92" x2="476.5" y1="0" y2="0"><stop offset="0.002601" stop-color="#ffffff"/><stop offset="0.1977" stop-color="#ffffff"/><stop offset="0.2211" stop-color="#f3c9b6"/><stop offset="0.2367" stop-color="#ffffff"/><stop offset="0.2445" stop-color="#ffffff"/><stop offset="0.2523" stop-color="#d4eefb"/><stop offset="0.2757" stop-color="#ffffff"/><stop offset="0.736" stop-color="#ffffff"/><stop offset="0.7594" stop-color="#f7dacd"/><stop offset="0.775" stop-color="#ffffff"/><stop offset="0.7906" stop-color="#ffffff"/><stop offset="0.8062" stop-color="#f0f9fd"/><stop offset="0.814" stop-color="#ffffff"/><stop offset="0.9701" stop-color="#ffffff"/><stop offset="0.9779" stop-color="#fbede6"/><stop offset="0.9935" stop-color="#fbede6"/></linearGradient><clipPath id="fbc0_5"><path d="M93 460.5 L99 460.5 L105 460.5 L111 460.5 L117 460.5 L123 460.5 L129 460.4 L135 460.4 L141 460.4 L147 460.3 L153 460.2 L159 460.1 L165 460.1 L171 456.9 L177 454 L183 458 L189 463.8 L195 461.7 L201 460.5 L207 460.1 L213 460 L219 460 L225 460 L231 459.9 L237 459.9 L243 459.9 L249 459.9 L255 459.9 L261 459.9 L267 459.9 L273 459.9 L279 459.9 L285 459.9 L291 459.9 L297 459.9 L303 459.9 L309 459.9 L315 459.9 L321 459.9 L327 459.9 L333 459.9 L339 459.9 L345 459.9 L351 459.9 L357 459.8 L363 459.8 L369 459.8 L375 457.8 L381 456 L387 456.3 L393 459.4 L399 461.8 L405 461.2 L411 460 L417 459.8 L423 459.6 L429 459.5 L435 459.3 L441 459.2 L447 459.2 L453 459.1 L459 459 L465 459 L471 459 L474 459 L474 526 L468 526 L462 526 L456 526.1 L450 526.1 L444 526.2 L438 526.3 L432 526.4 L426 526.5 L420 526.7 L414 526.9 L408 527.4 L402 529.7 L396 528.2 L390 523 L384 518.2 L378 519.8 L372 525.4 L366 526.6 L360 526.6 L354 526.6 L348 526.6 L342 526.6 L336 526.6 L330 526.6 L324 526.6 L318 526.6 L312 526.6 L306 526.6 L300 526.6 L294 526.6 L288 526.6 L282 526.6 L276 526.6 L270 526.6 L264 526.6 L258 526.6 L252 526.6 L246 526.6 L240 526.6 L234 526.6 L228 526.6 L222 526.6 L216 526.6 L210 526.6 L204 526.9 L198 527.6 L192 531 L186 532.3 L180 522 L174 517.7 L168 524.3 L162 526.6 L156 526.6 L150 526.6 L144 526.6 L138 526.6 L132 526.6 L126 526.6 L120 526.6 L114 526.6 L108 526.6 L102 526.6 L96 526.6 L93 526.6 Z"/></clipPath><linearGradient id="fb32" gradientUnits="userSpaceOnUse" x1="92" x2="476.5" y1="0" y2="0"><stop offset="0.002601" stop-color="#ffffff"/><stop offset="0.1977" stop-color="#ffffff"/><stop offset="0.2211" stop-color="#f2c5b0"/><stop offset="0.2367" stop-color="#ffffff"/><stop offset="0.2445" stop-color="#ffffff"/><stop offset="0.2523" stop-color="#dbf0fb"/><stop offset="0.2757" stop-color="#ffffff"/><stop offset="0.736" stop-color="#ffffff"/><stop offset="0.7516" stop-color="#f7d9cb"/><stop offset="0.7672" stop-color="#f8dfd4"/><stop offset="0.775" stop-color="#ffffff"/><stop offset="0.7906" stop-color="#ffffff"/><stop offset="0.8062" stop-color="#f3fafe"/><stop offset="0.814" stop-color="#ffffff"/><stop offset="0.9701" stop-color="#ffffff"/><stop offset="0.9779" stop-color="#fbede7"/><stop offset="0.9935" stop-color="#fbede7"/></linearGradient><linearGradient id="fb33" gradientUnits="userSpaceOnUse" x1="92" x2="476.5" y1="0" y2="0"><stop offset="0.002601" stop-color="#ffffff"/><stop offset="0.1977" stop-color="#ffffff"/><stop offset="0.2133" stop-color="#f1bea8"/><stop offset="0.2289" stop-color="#f6d7c9"/><stop offset="0.2367" stop-color="#ffffff"/><stop offset="0.2523" stop-color="#d2edfa"/><stop offset="0.2757" stop-color="#ffffff"/><stop offset="0.7282" stop-color="#ffffff"/><stop offset="0.7594" stop-color="#f2c6b2"/><stop offset="0.775" stop-color="#fdf5f2"/><stop offset="0.7828" stop-color="#ffffff"/><stop offset="0.7906" stop-color="#ffffff"/><stop offset="0.8062" stop-color="#eef8fd"/><stop offset="0.814" stop-color="#ffffff"/><stop offset="0.9701" stop-color="#ffffff"/><stop offset="0.9779" stop-color="#fcefe9"/><stop offset="0.9935" stop-color="#fcefe9"/></linearGradient><linearGradient id="fb34" gradientUnits="userSpaceOnUse" x1="92" x2="476.5" y1="0" y2="0"><stop offset="0.002601" stop-color="#ffffff"/><stop offset="0.1977" stop-color="#ffffff"/><stop offset="0.2133" stop-color="#eeb096"/><stop offset="0.2289" stop-color="#f6d7c9"/><stop offset="0.2367" stop-color="#ffffff"/><stop offset="0.2523" stop-color="#c8e9f9"/><stop offset="0.2679" stop-color="#f6fbfe"/><stop offset="0.2757" stop-color="#ffffff"/><stop offset="0.7282" stop-color="#ffffff"/><stop offset="0.7516" stop-color="#f0b9a2"/><stop offset="0.7672" stop-color="#f4ccba"/><stop offset="0.7828" stop-color="#ffffff"/><stop offset="0.7906" stop-color="#ffffff"/><stop offset="0.7984" stop-color="#e8f6fc"/><stop offset="0.814" stop-color="#ffffff"/><stop offset="0.9701" stop-color="#ffffff"/><stop offset="0.9857" stop-color="#fcf0eb"/><stop offset="0.9935" stop-color="#fcf0eb"/></linearGradient><linearGradient id="fb35" gradientUnits="userSpaceOnUse" x1="92" x2="476.5" y1="0" y2="0"><stop offset="0.002601" stop-color="#ffffff"/><stop offset="0.1977" stop-color="#ffffff"/><stop offset="0.2055" stop-color="#f1c1ac"/><stop offset="0.2133" stop-color="#eca689"/><stop offset="0.2289" stop-color="#f6d7c9"/><stop offset="0.2367" stop-color="#ffffff"/><stop offset="0.2523" stop-color="#bee4f8"/><stop offset="0.2679" stop-color="#ffffff"/><stop offset="0.7282" stop-color="#ffffff"/><stop offset="0.7516" stop-color="#eeae93"/><stop offset="0.7672" stop-color="#f2c4b0"/><stop offset="0.7828" stop-color="#ffffff"/><stop offset="0.7906" stop-color="#ffffff"/><stop offset="0.7984" stop-color="#e2f3fc"/><stop offset="0.8218" stop-color="#ffffff"/><stop offset="0.9701" stop-color="#ffffff"/><stop offset="0.9857" stop-color="#fcf2ed"/><stop offset="0.9935" stop-color="#fcf2ed"/></linearGradient><clipPath id="fbc0_6"><path d="M93 526.6 L99 526.6 L105 526.6 L111 526.6 L117 526.6 L123 526.6 L129 526.6 L135 526.6 L141 526.6 L147 526.6 L153 526.6 L159 526.6 L165 526.6 L171 520 L177 518.4 L183 527 L189 533.5 L195 528.4 L201 527.2 L207 526.7 L213 526.6 L219 526.6 L225 526.6 L231 526.6 L237 526.6 L243 526.6 L249 526.6 L255 526.6 L261 526.6 L267 526.6 L273 526.6 L279 526.6 L285 526.6 L291 526.6 L297 526.6 L303 526.6 L309 526.6 L315 526.6 L321 526.6 L327 526.6 L333 526.6 L339 526.6 L345 526.6 L351 526.6 L357 526.6 L363 526.6 L369 526.6 L375 521.8 L381 518.4 L387 520.3 L393 525.6 L399 529.9 L405 528.5 L411 527 L417 526.8 L423 526.6 L429 526.4 L435 526.3 L441 526.2 L447 526.1 L453 526.1 L459 526 L465 526 L471 526 L474 526 L474 592 L468 592 L462 592 L456 592.1 L450 592.1 L444 592.2 L438 592.2 L432 592.3 L426 592.4 L420 592.6 L414 592.7 L408 592.9 L402 593.6 L396 594.7 L390 593 L384 590.8 L378 591.5 L372 593.4 L366 593.4 L360 593.4 L354 593.4 L348 593.4 L342 593.3 L336 593.3 L330 593.3 L324 593.2 L318 593.2 L312 593.2 L306 593.1 L300 593.1 L294 593.1 L288 593 L282 593 L276 592.9 L270 592.9 L264 592.8 L258 592.8 L252 592.8 L246 592.7 L240 592.7 L234 592.7 L228 592.7 L222 592.6 L216 592.6 L210 592.6 L204 592.6 L198 593.2 L192 595.4 L186 593 L180 589.5 L174 590.8 L168 592.6 L162 592.6 L156 592.6 L150 592.6 L144 592.6 L138 592.6 L132 592.6 L126 592.6 L120 592.6 L114 592.6 L108 592.6 L102 592.6 L96 592.6 L93 592.6 Z"/></clipPath><linearGradient id="fb36" gradientUnits="userSpaceOnUse" x1="92" x2="476.5" y1="0" y2="0"><stop offset="0.002601" stop-color="#ffffff"/><stop offset="0.1977" stop-color="#ffffff"/><stop offset="0.2133" stop-color="#eeb096"/><stop offset="0.2289" stop-color="#f7d8ca"/><stop offset="0.2367" stop-color="#ffffff"/><stop offset="0.2523" stop-color="#b8e1f7"/><stop offset="0.2679" stop-color="#ffffff"/><stop offset="0.7282" stop-color="#ffffff"/><stop offset="0.7516" stop-color="#efb69d"/><stop offset="0.7672" stop-color="#f3cab8"/><stop offset="0.7828" stop-color="#ffffff"/><stop offset="0.7906" stop-color="#ffffff"/><stop offset="0.7984" stop-color="#e1f3fc"/><stop offset="0.8218" stop-color="#ffffff"/><stop offset="0.9701" stop-color="#ffffff"/><stop offset="0.9857" stop-color="#fcf2ed"/><stop offset="0.9935" stop-color="#fcf2ed"/></linearGradient><linearGradient id="fb37" gradientUnits="userSpaceOnUse" x1="92" x2="476.5" y1="0" y2="0"><stop offset="0.002601" stop-color="#ffffff"/><stop offset="0.1977" stop-color="#ffffff"/><stop offset="0.2133" stop-color="#f2c5b1"/><stop offset="0.2289" stop-color="#f7dccf"/><stop offset="0.2367" stop-color="#ffffff"/><stop offset="0.2523" stop-color="#c7e8f9"/><stop offset="0.2679" stop-color="#f6fbfe"/><stop offset="0.2757" stop-color="#ffffff"/><stop offset="0.7282" stop-color="#ffffff"/><stop offset="0.7594" stop-color="#f3c8b5"/><stop offset="0.775" stop-color="#ffffff"/><stop offset="0.7906" stop-color="#ffffff"/><stop offset="0.7984" stop-color="#e7f5fc"/><stop offset="0.814" stop-color="#ffffff"/><stop offset="0.9701" stop-color="#ffffff"/><stop offset="0.9779" stop-color="#fcf0ea"/><stop offset="0.9935" stop-color="#fcf0ea"/></linearGradient><linearGradient id="fb38" gradientUnits="userSpaceOnUse" x1="92" x2="476.5" y1="0" y2="0"><stop offset="0.002601" stop-color="#ffffff"/><stop offset="0.1977" stop-color="#ffffff"/><stop offset="0.2055" stop-color="#fcf3ef"/><stop offset="0.2211" stop-color="#f5d0bf"/><stop offset="0.2367" stop-color="#ffffff"/><stop offset="0.2523" stop-color="#daf0fb"/><stop offset="0.2757" stop-color="#ffffff"/><stop offset="0.736" stop-color="#ffffff"/><stop offset="0.7516" stop-color="#f7dacc"/><stop offset="0.775" stop-color="#ffffff"/><stop offset="0.7906" stop-color="#ffffff"/><stop offset="0.7984" stop-color="#eff8fd"/><stop offset="0.8062" stop-color="#ffffff"/><stop offset="0.9701" stop-color="#ffffff"/><stop offset="0.9779" stop-color="#fbeee8"/><stop offset="0.9935" stop-color="#fbeee8"/></linearGradient><linearGradient id="fb39" gradientUnits="userSpaceOnUse" x1="92" x2="476.5" y1="0" y2="0"><stop offset="0.002601" stop-color="#ffffff"/><stop offset="0.2055" stop-color="#ffffff"/><stop offset="0.2211" stop-color="#f8ddd1"/><stop offset="0.2367" stop-color="#ffffff"/><stop offset="0.2445" stop-color="#ffffff"/><stop offset="0.2601" stop-color="#e8f6fc"/><stop offset="0.2757" stop-color="#ffffff"/><stop offset="0.7438" stop-color="#ffffff"/><stop offset="0.7516" stop-color="#fcf2ed"/><stop offset="0.7672" stop-color="#ffffff"/><stop offset="0.9701" stop-color="#ffffff"/><stop offset="0.9779" stop-color="#fbece5"/><stop offset="0.9935" stop-color="#fbece5"/></linearGradient><clipPath id="fbc0_7"><path d="M93 592.6 L99 592.6 L105 592.6 L111 592.6 L117 592.6 L123 592.6 L129 592.6 L135 592.6 L141 592.6 L147 592.6 L153 592.6 L159 592.6 L165 592.6 L171 592.4 L177 589.2 L183 591.2 L189 594.4 L195 594.9 L201 592.6 L207 592.6 L213 592.6 L219 592.6 L225 592.6 L231 592.7 L237 592.7 L243 592.7 L249 592.8 L255 592.8 L261 592.8 L267 592.9 L273 592.9 L279 593 L285 593 L291 593 L297 593.1 L303 593.1 L309 593.2 L315 593.2 L321 593.2 L327 593.3 L333 593.3 L339 593.3 L345 593.3 L351 593.4 L357 593.4 L363 593.4 L369 593.4 L375 592.8 L381 590.6 L387 591.9 L393 594 L399 594.5 L405 593 L411 592.8 L417 592.6 L423 592.5 L429 592.4 L435 592.3 L441 592.2 L447 592.1 L453 592.1 L459 592 L465 592 L471 592 L474 592 L474 658 L468 658 L462 658 L456 658.1 L450 658.1 L444 658.2 L438 658.2 L432 658.3 L426 658.4 L420 658.6 L414 658.7 L408 658.9 L402 659.5 L396 660.9 L390 658 L384 654.9 L378 658.7 L372 659.8 L366 659.8 L360 659.8 L354 659.8 L348 659.8 L342 659.8 L336 659.8 L330 659.8 L324 659.7 L318 659.7 L312 659.7 L306 659.7 L300 659.7 L294 659.7 L288 659.7 L282 659.6 L276 659.6 L270 659.6 L264 659.6 L258 659.6 L252 659.6 L246 659.6 L240 659.5 L234 659.5 L228 659.5 L222 659.5 L216 659.5 L210 659.5 L204 659.5 L198 660.4 L192 662.8 L186 658 L180 653 L174 656.3 L168 659 L162 659 L156 659 L150 659 L144 659 L138 659 L132 659 L126 659 L120 659 L114 659 L108 659 L102 659 L96 659 L93 659 Z"/></clipPath><linearGradient id="fb40" gradientUnits="userSpaceOnUse" x1="92" x2="476.5" y1="0" y2="0"><stop offset="0.002601" stop-color="#ffffff"/><stop offset="0.2133" stop-color="#ffffff"/><stop offset="0.2211" stop-color="#f8dccf"/><stop offset="0.2289" stop-color="#f8dfd3"/><stop offset="0.2367" stop-color="#ffffff"/><stop offset="0.2523" stop-color="#ffffff"/><stop offset="0.2601" stop-color="#ecf7fd"/><stop offset="0.2757" stop-color="#ffffff"/><stop offset="0.7438" stop-color="#ffffff"/><stop offset="0.7594" stop-color="#fdf7f4"/><stop offset="0.7672" stop-color="#ffffff"/><stop offset="0.9701" stop-color="#ffffff"/><stop offset="0.9779" stop-color="#fbebe3"/><stop offset="0.9935" stop-color="#fbeae3"/></linearGradient><linearGradient id="fb41" gradientUnits="userSpaceOnUse" x1="92" x2="476.5" y1="0" y2="0"><stop offset="0.002601" stop-color="#ffffff"/><stop offset="0.2055" stop-color="#ffffff"/><stop offset="0.2133" stop-color="#fdf4f0"/><stop offset="0.2289" stop-color="#f6d4c5"/><stop offset="0.2367" stop-color="#fcf2ed"/><stop offset="0.2445" stop-color="#ffffff"/><stop offset="0.2523" stop-color="#ffffff"/><stop offset="0.2601" stop-color="#e9f6fd"/><stop offset="0.2757" stop-color="#ffffff"/><stop offset="0.7438" stop-color="#ffffff"/><stop offset="0.7594" stop-color="#fbebe4"/><stop offset="0.7672" stop-color="#ffffff"/><stop offset="0.9701" stop-color="#ffffff"/><stop offset="0.9779" stop-color="#fae7df"/><stop offset="0.9935" stop-color="#fae7df"/></linearGradient><linearGradient id="fb42" gradientUnits="userSpaceOnUse" x1="92" x2="476.5" y1="0" y2="0"><stop offset="0.002601" stop-color="#ffffff"/><stop offset="0.2055" stop-color="#ffffff"/><stop offset="0.2133" stop-color="#fcefe9"/><stop offset="0.2289" stop-color="#f3cab7"/><stop offset="0.2445" stop-color="#ffffff"/><stop offset="0.2523" stop-color="#ffffff"/><stop offset="0.2601" stop-color="#e6f5fc"/><stop offset="0.2757" stop-color="#ffffff"/><stop offset="0.7438" stop-color="#ffffff"/><stop offset="0.7594" stop-color="#f8dfd3"/><stop offset="0.775" stop-color="#ffffff"/><stop offset="0.9701" stop-color="#ffffff"/><stop offset="0.9779" stop-color="#f9e4db"/><stop offset="0.9935" stop-color="#f9e4db"/></linearGradient><linearGradient id="fb43" gradientUnits="userSpaceOnUse" x1="92" x2="476.5" y1="0" y2="0"><stop offset="0.002601" stop-color="#ffffff"/><stop offset="0.2055" stop-color="#ffffff"/><stop offset="0.2211" stop-color="#f2c4b0"/><stop offset="0.2367" stop-color="#f7dbce"/><stop offset="0.2445" stop-color="#ffffff"/><stop offset="0.2523" stop-color="#ffffff"/><stop offset="0.2601" stop-color="#e3f4fc"/><stop offset="0.2679" stop-color="#e3f4fc"/><stop offset="0.2757" stop-color="#ffffff"/><stop offset="0.7438" stop-color="#ffffff"/><stop offset="0.7594" stop-color="#f6d7c8"/><stop offset="0.775" stop-color="#ffffff"/><stop offset="0.9623" stop-color="#ffffff"/><stop offset="0.9701" stop-color="#fdf7f5"/><stop offset="0.9857" stop-color="#f9e1d7"/><stop offset="0.9935" stop-color="#f9e1d7"/></linearGradient><clipPath id="fbc0_8"><path d="M93 659 L99 659 L105 659 L111 659 L117 659 L123 659 L129 659 L135 659 L141 659 L147 659 L153 659 L159 659 L165 659 L171 658.8 L177 653.4 L183 655.3 L189 660.6 L195 662.9 L201 659.5 L207 659.5 L213 659.5 L219 659.5 L225 659.5 L231 659.5 L237 659.5 L243 659.5 L249 659.6 L255 659.6 L261 659.6 L267 659.6 L273 659.6 L279 659.6 L285 659.6 L291 659.7 L297 659.7 L303 659.7 L309 659.7 L315 659.7 L321 659.7 L327 659.7 L333 659.8 L339 659.8 L345 659.8 L351 659.8 L357 659.8 L363 659.8 L369 659.8 L375 659.8 L381 656.6 L387 655.6 L393 660.2 L399 660.3 L405 659 L411 658.8 L417 658.6 L423 658.5 L429 658.4 L435 658.3 L441 658.2 L447 658.1 L453 658.1 L459 658 L465 658 L471 658 L474 658 L474 726 L468 726 L462 726 L456 726 L450 726 L444 726.1 L438 726.1 L432 726.2 L426 726.2 L420 726.3 L414 726.4 L408 726.5 L402 727.3 L396 727.3 L390 722.3 L384 719.4 L378 724.8 L372 726.5 L366 726.5 L360 726.5 L354 726.5 L348 726.5 L342 726.5 L336 726.4 L330 726.4 L324 726.4 L318 726.4 L312 726.4 L306 726.3 L300 726.3 L294 726.3 L288 726.3 L282 726.2 L276 726.2 L270 726.2 L264 726.2 L258 726.1 L252 726.1 L246 726.1 L240 726.1 L234 726.1 L228 726 L222 726 L216 726 L210 726 L204 726 L198 726 L192 728.2 L186 727.5 L180 722.8 L174 721.7 L168 725.8 L162 725.8 L156 725.8 L150 725.8 L144 725.8 L138 725.8 L132 725.8 L126 725.8 L120 725.8 L114 725.8 L108 725.8 L102 725.8 L96 725.8 L93 725.8 Z"/></clipPath><linearGradient id="fb44" gradientUnits="userSpaceOnUse" x1="92" x2="476.5" y1="0" y2="0"><stop offset="0.002601" stop-color="#ffffff"/><stop offset="0.2055" stop-color="#ffffff"/><stop offset="0.2211" stop-color="#f2c6b2"/><stop offset="0.2367" stop-color="#f8ded1"/><stop offset="0.2445" stop-color="#ffffff"/><stop offset="0.2523" stop-color="#ffffff"/><stop offset="0.2601" stop-color="#e2f3fc"/><stop offset="0.2679" stop-color="#e1f3fc"/><stop offset="0.2757" stop-color="#ffffff"/><stop offset="0.7438" stop-color="#ffffff"/><stop offset="0.7594" stop-color="#f5d3c4"/><stop offset="0.775" stop-color="#ffffff"/><stop offset="0.9623" stop-color="#ffffff"/><stop offset="0.9701" stop-color="#fef8f6"/><stop offset="0.9857" stop-color="#f9e2d8"/><stop offset="0.9935" stop-color="#f9e2d8"/></linearGradient><linearGradient id="fb45" gradientUnits="userSpaceOnUse" x1="92" x2="476.5" y1="0" y2="0"><stop offset="0.002601" stop-color="#ffffff"/><stop offset="0.2055" stop-color="#ffffff"/><stop offset="0.2211" stop-color="#f3c9b7"/><stop offset="0.2445" stop-color="#ffffff"/><stop offset="0.2523" stop-color="#ffffff"/><stop offset="0.2601" stop-color="#e6f5fc"/><stop offset="0.2757" stop-color="#ffffff"/><stop offset="0.7438" stop-color="#ffffff"/><stop offset="0.7594" stop-color="#f4ccba"/><stop offset="0.775" stop-color="#fdf7f4"/><stop offset="0.7828" stop-color="#ffffff"/><stop offset="0.9701" stop-color="#ffffff"/><stop offset="0.9779" stop-color="#fae9e1"/><stop offset="0.9935" stop-color="#fae9e0"/></linearGradient><linearGradient id="fb46" gradientUnits="userSpaceOnUse" x1="92" x2="476.5" y1="0" y2="0"><stop offset="0.002601" stop-color="#ffffff"/><stop offset="0.2055" stop-color="#ffffff"/><stop offset="0.2211" stop-color="#f4cdbb"/><stop offset="0.2367" stop-color="#ffffff"/><stop offset="0.2445" stop-color="#ffffff"/><stop offset="0.2601" stop-color="#ebf7fd"/><stop offset="0.2679" stop-color="#ffffff"/><stop offset="0.7438" stop-color="#ffffff"/><stop offset="0.7594" stop-color="#f2c5b1"/><stop offset="0.7828" stop-color="#ffffff"/><stop offset="0.9701" stop-color="#ffffff"/><stop offset="0.9779" stop-color="#fcefe9"/><stop offset="0.9935" stop-color="#fcefe9"/></linearGradient><linearGradient id="fb47" gradientUnits="userSpaceOnUse" x1="92" x2="476.5" y1="0" y2="0"><stop offset="0.002601" stop-color="#ffffff"/><stop offset="0.2055" stop-color="#ffffff"/><stop offset="0.2211" stop-color="#f5d0c0"/><stop offset="0.2367" stop-color="#ffffff"/><stop offset="0.2445" stop-color="#ffffff"/><stop offset="0.2523" stop-color="#e7f5fc"/><stop offset="0.2679" stop-color="#ffffff"/><stop offset="0.7438" stop-color="#ffffff"/><stop offset="0.7594" stop-color="#f1bea8"/><stop offset="0.7828" stop-color="#ffffff"/><stop offset="0.9701" stop-color="#ffffff"/><stop offset="0.9857" stop-color="#fdf6f2"/><stop offset="0.9935" stop-color="#fdf6f2"/></linearGradient><clipPath id="fbc0_9"><path d="M93 725.8 L99 725.8 L105 725.8 L111 725.8 L117 725.8 L123 725.8 L129 725.8 L135 725.8 L141 725.8 L147 725.8 L153 725.8 L159 725.8 L165 725.8 L171 724.2 L177 721 L183 725 L189 729.4 L195 726.2 L201 726 L207 726 L213 726 L219 726 L225 726 L231 726 L237 726.1 L243 726.1 L249 726.1 L255 726.1 L261 726.1 L267 726.2 L273 726.2 L279 726.2 L285 726.2 L291 726.3 L297 726.3 L303 726.3 L309 726.3 L315 726.4 L321 726.4 L327 726.4 L333 726.4 L339 726.4 L345 726.5 L351 726.5 L357 726.5 L363 726.5 L369 726.5 L375 726.5 L381 721.5 L387 720.3 L393 724.6 L399 727.9 L405 726.6 L411 726.4 L417 726.3 L423 726.2 L429 726.2 L435 726.1 L441 726.1 L447 726.1 L453 726 L459 726 L465 726 L471 726 L474 726 L474 792.6 L468 792.6 L462 792.6 L456 792.6 L450 792.6 L444 792.6 L438 792.6 L432 792.6 L426 792.6 L420 792.6 L414 792.6 L408 792.6 L402 792.2 L396 790.7 L390 790.7 L384 791.8 L378 793.7 L372 794.5 L366 793.1 L360 793 L354 792.9 L348 792.9 L342 792.9 L336 792.9 L330 792.9 L324 792.8 L318 792.8 L312 792.8 L306 792.8 L300 792.8 L294 792.8 L288 792.8 L282 792.8 L276 792.8 L270 792.8 L264 792.8 L258 792.8 L252 792.8 L246 792.8 L240 792.8 L234 792.8 L228 792.8 L222 792.7 L216 792.7 L210 792.7 L204 792.7 L198 792.6 L192 792.6 L186 790.2 L180 790.3 L174 792.4 L168 795.2 L162 793.5 L156 792.9 L150 792.9 L144 792.8 L138 792.7 L132 792.7 L126 792.7 L120 792.6 L114 792.6 L108 792.6 L102 792.6 L96 792.6 L93 792.6 Z"/></clipPath><linearGradient id="fb48" gradientUnits="userSpaceOnUse" x1="92" x2="476.5" y1="0" y2="0"><stop offset="0.002601" stop-color="#ffffff"/><stop offset="0.2055" stop-color="#ffffff"/><stop offset="0.2211" stop-color="#f6d5c6"/><stop offset="0.2367" stop-color="#ffffff"/><stop offset="0.2445" stop-color="#ffffff"/><stop offset="0.2523" stop-color="#e3f3fc"/><stop offset="0.2679" stop-color="#ffffff"/><stop offset="0.7438" stop-color="#ffffff"/><stop offset="0.7594" stop-color="#f3c7b3"/><stop offset="0.7828" stop-color="#ffffff"/><stop offset="0.9701" stop-color="#ffffff"/><stop offset="0.9857" stop-color="#fdf8f5"/><stop offset="0.9935" stop-color="#fdf8f5"/></linearGradient><linearGradient id="fb49" gradientUnits="userSpaceOnUse" x1="92" x2="476.5" y1="0" y2="0"><stop offset="0.002601" stop-color="#ffffff"/><stop offset="0.2055" stop-color="#ffffff"/><stop offset="0.2211" stop-color="#f9e2d7"/><stop offset="0.2367" stop-color="#ffffff"/><stop offset="0.2445" stop-color="#ffffff"/><stop offset="0.2523" stop-color="#f5fbfe"/><stop offset="0.2601" stop-color="#ffffff"/><stop offset="0.7438" stop-color="#ffffff"/><stop offset="0.7672" stop-color="#f7dbce"/><stop offset="0.7828" stop-color="#ffffff"/><stop offset="0.9701" stop-color="#ffffff"/><stop offset="0.9857" stop-color="#fdf8f5"/><stop offset="0.9935" stop-color="#fdf8f5"/></linearGradient><linearGradient id="fb50" gradientUnits="userSpaceOnUse" x1="92" x2="476.5" y1="0" y2="0"><stop offset="0.002601" stop-color="#ffffff"/><stop offset="0.2133" stop-color="#ffffff"/><stop offset="0.2289" stop-color="#fcf1ec"/><stop offset="0.2445" stop-color="#ffffff"/><stop offset="0.7516" stop-color="#ffffff"/><stop offset="0.7672" stop-color="#fbede6"/><stop offset="0.7828" stop-color="#ffffff"/><stop offset="0.9701" stop-color="#ffffff"/><stop offset="0.9935" stop-color="#fef8f6"/></linearGradient><linearGradient id="fb51" gradientUnits="userSpaceOnUse" x1="92" x2="476.5" y1="0" y2="0"><stop offset="0.002601" stop-color="#ffffff"/><stop offset="0.1821" stop-color="#ffffff"/><stop offset="0.1977" stop-color="#f2fafe"/><stop offset="0.2055" stop-color="#ffffff"/><stop offset="0.2211" stop-color="#ffffff"/><stop offset="0.2367" stop-color="#fcefe9"/><stop offset="0.2445" stop-color="#ffffff"/><stop offset="0.9701" stop-color="#ffffff"/><stop offset="0.9935" stop-color="#fef8f6"/></linearGradient><clipPath id="fbc1_0"><path d="M553.5 134.3 L559.5 133.2 L565.5 131.9 L571.5 130 L577.5 130 L583.5 133.2 L589.5 137.4 L595.5 141.8 L601.5 139.2 L607.5 121.8 L613.5 100.8 L619.5 91.5 L625.5 97.1 L631.5 101.9 L637.5 108.8 L643.5 125.6 L649.5 149.3 L655.5 144.2 L661.5 134.6 L667.5 129.6 L673.5 128.8 L679.5 128.3 L685.5 128.1 L691.5 128 L697.5 128 L703.5 128 L709.5 128 L715.5 128 L721.5 128 L727.5 128 L733.5 128 L739.5 128 L745.5 128 L751.5 128 L757.5 128 L763.5 128 L769.5 128 L775.5 128 L781.5 128 L787.5 128.1 L793.5 128.1 L799.5 128.1 L805.5 128.1 L811.5 128.1 L817.5 129.6 L823.5 132.3 L829.5 135.8 L835.5 140.6 L841.5 144.4 L847.5 144.4 L853.5 137.5 L859.5 116.6 L865.5 100 L871.5 97 L877.5 108.7 L883.5 125.4 L889.5 133.8 L895.5 131.1 L901.5 128.6 L907.5 127.4 L913.5 126.7 L919.5 128.2 L925.5 131.2 L931.5 132.9 L937.5 134.3 L937.5 134.3 L937.5 195.6 L931.5 195.5 L925.5 195.3 L919.5 195 L913.5 194.1 L907.5 193.5 L901.5 195.4 L895.5 198.3 L889.5 200.6 L883.5 199.1 L877.5 195.8 L871.5 192 L865.5 191.6 L859.5 196.3 L853.5 182.3 L847.5 165.8 L841.5 177.1 L835.5 199.5 L829.5 208.9 L823.5 202.6 L817.5 196.6 L811.5 195.6 L805.5 195.5 L799.5 195.4 L793.5 195.4 L787.5 195.3 L781.5 195.3 L775.5 195.2 L769.5 195.2 L763.5 195.1 L757.5 195.1 L751.5 195.1 L745.5 195.1 L739.5 195 L733.5 195 L727.5 195 L721.5 195 L715.5 195 L709.5 195 L703.5 195 L697.5 195 L691.5 195 L685.5 195.1 L679.5 195.3 L673.5 195.9 L667.5 196.8 L661.5 204.6 L655.5 233.4 L649.5 235.4 L643.5 177.5 L637.5 146.9 L631.5 141.9 L625.5 156 L619.5 177 L613.5 197.4 L607.5 202.7 L601.5 201.7 L595.5 199.2 L589.5 196.8 L583.5 194.8 L577.5 193.2 L571.5 193 L565.5 193.4 L559.5 194.2 L553.5 195.9 L553.5 195.9 Z"/></clipPath><linearGradient id="fb52" gradientUnits="userSpaceOnUse" x1="552.5" x2="938.5" y1="0" y2="0"><stop offset="0.002591" stop-color="#96d1f3"/><stop offset="0.06477" stop-color="#cfebfa"/><stop offset="0.1192" stop-color="#45aaec"/><stop offset="0.1347" stop-color="#99d3f4"/><stop offset="0.1425" stop-color="#f9e5db"/><stop offset="0.1503" stop-color="#e06c3e"/><stop offset="0.1736" stop-color="#e1751e"/><stop offset="0.2202" stop-color="#dc5f2d"/><stop offset="0.228" stop-color="#e6845d"/><stop offset="0.2358" stop-color="#fdf7f5"/><stop offset="0.2435" stop-color="#4fafed"/><stop offset="0.2591" stop-color="#379aec"/><stop offset="0.2979" stop-color="#ffffff"/><stop offset="0.6865" stop-color="#ffffff"/><stop offset="0.7565" stop-color="#44a9ec"/><stop offset="0.7798" stop-color="#93d0f3"/><stop offset="0.7876" stop-color="#eff8fd"/><stop offset="0.7953" stop-color="#e78b67"/><stop offset="0.8031" stop-color="#db5b27"/><stop offset="0.842" stop-color="#dc5f2c"/><stop offset="0.8575" stop-color="#fdf4f0"/><stop offset="0.8731" stop-color="#c7e8f9"/><stop offset="0.8964" stop-color="#ffffff"/><stop offset="0.9508" stop-color="#ffffff"/><stop offset="0.9974" stop-color="#c0e5f8"/></linearGradient><linearGradient id="fb53" gradientUnits="userSpaceOnUse" x1="552.5" x2="938.5" y1="0" y2="0"><stop offset="0.002591" stop-color="#96d1f3"/><stop offset="0.06477" stop-color="#cfebfa"/><stop offset="0.1192" stop-color="#45aaec"/><stop offset="0.1347" stop-color="#99d3f4"/><stop offset="0.1425" stop-color="#f9e5db"/><stop offset="0.1503" stop-color="#e47e55"/><stop offset="0.1658" stop-color="#db5d1e"/><stop offset="0.2124" stop-color="#e27a1e"/><stop offset="0.228" stop-color="#e17246"/><stop offset="0.2358" stop-color="#fdf7f5"/><stop offset="0.2435" stop-color="#4fafed"/><stop offset="0.2591" stop-color="#379aec"/><stop offset="0.2979" stop-color="#ffffff"/><stop offset="0.6865" stop-color="#ffffff"/><stop offset="0.7565" stop-color="#44a9ec"/><stop offset="0.7798" stop-color="#93d0f3"/><stop offset="0.7876" stop-color="#eff8fd"/><stop offset="0.7953" stop-color="#e88f6b"/><stop offset="0.8109" stop-color="#da561e"/><stop offset="0.842" stop-color="#df693a"/><stop offset="0.8497" stop-color="#eb9d7d"/><stop offset="0.8575" stop-color="#fdf4f0"/><stop offset="0.8731" stop-color="#c7e8f9"/><stop offset="0.8964" stop-color="#ffffff"/><stop offset="0.9508" stop-color="#ffffff"/><stop offset="0.9974" stop-color="#c0e5f8"/></linearGradient><linearGradient id="fb54" gradientUnits="userSpaceOnUse" x1="552.5" x2="938.5" y1="0" y2="0"><stop offset="0.002591" stop-color="#9bd4f4"/><stop offset="0.06477" stop-color="#d4eefb"/><stop offset="0.1192" stop-color="#45aaec"/><stop offset="0.1347" stop-color="#98d2f3"/><stop offset="0.1425" stop-color="#ffffff"/><stop offset="0.158" stop-color="#e3794f"/><stop offset="0.1736" stop-color="#dc5f1e"/><stop offset="0.2124" stop-color="#f1b718"/><stop offset="0.228" stop-color="#dd621e"/><stop offset="0.2358" stop-color="#f2c5b1"/><stop offset="0.2435" stop-color="#4fafed"/><stop offset="0.2591" stop-color="#379aec"/><stop offset="0.2979" stop-color="#ffffff"/><stop offset="0.6865" stop-color="#ffffff"/><stop offset="0.7565" stop-color="#44a9ec"/><stop offset="0.7798" stop-color="#99d3f4"/><stop offset="0.7876" stop-color="#ffffff"/><stop offset="0.8031" stop-color="#e47e56"/><stop offset="0.8264" stop-color="#dd612f"/><stop offset="0.842" stop-color="#e6845d"/><stop offset="0.8575" stop-color="#ffffff"/><stop offset="0.8731" stop-color="#c7e8f9"/><stop offset="0.8964" stop-color="#ffffff"/><stop offset="0.9585" stop-color="#ffffff"/><stop offset="0.9896" stop-color="#cceafa"/><stop offset="0.9974" stop-color="#c5e7f9"/></linearGradient><linearGradient id="fb55" gradientUnits="userSpaceOnUse" x1="552.5" x2="938.5" y1="0" y2="0"><stop offset="0.002591" stop-color="#b2dff7"/><stop offset="0.06477" stop-color="#e1f3fc"/><stop offset="0.1192" stop-color="#5bb5ee"/><stop offset="0.1347" stop-color="#92d0f3"/><stop offset="0.1425" stop-color="#edf8fd"/><stop offset="0.1503" stop-color="#fbece5"/><stop offset="0.1658" stop-color="#e27347"/><stop offset="0.1736" stop-color="#d9551f"/><stop offset="0.2124" stop-color="#f3c014"/><stop offset="0.228" stop-color="#e6871d"/><stop offset="0.2358" stop-color="#e78a65"/><stop offset="0.2435" stop-color="#5cb5ee"/><stop offset="0.2513" stop-color="#2f89ee"/><stop offset="0.2668" stop-color="#389dec"/><stop offset="0.2902" stop-color="#def1fb"/><stop offset="0.2979" stop-color="#ffffff"/><stop offset="0.6865" stop-color="#ffffff"/><stop offset="0.7254" stop-color="#80c7f1"/><stop offset="0.7409" stop-color="#a7daf5"/><stop offset="0.7487" stop-color="#e3f4fc"/><stop offset="0.7642" stop-color="#e8906d"/><stop offset="0.772" stop-color="#fbebe4"/><stop offset="0.7798" stop-color="#ffffff"/><stop offset="0.7876" stop-color="#ffffff"/><stop offset="0.8109" stop-color="#e5825b"/><stop offset="0.8342" stop-color="#e88e6a"/><stop offset="0.8575" stop-color="#ffffff"/><stop offset="0.8731" stop-color="#c7e8f9"/><stop offset="0.8964" stop-color="#ffffff"/><stop offset="0.9585" stop-color="#ffffff"/><stop offset="0.9974" stop-color="#d8effb"/></linearGradient><linearGradient id="fb56" gradientUnits="userSpaceOnUse" x1="552.5" x2="938.5" y1="0" y2="0"><stop offset="0.002591" stop-color="#c8e9f9"/><stop offset="0.05699" stop-color="#f5fbfe"/><stop offset="0.08808" stop-color="#c6e8f9"/><stop offset="0.1192" stop-color="#77c3f0"/><stop offset="0.1347" stop-color="#8dcef2"/><stop offset="0.1503" stop-color="#f3fafe"/><stop offset="0.158" stop-color="#fdf4f0"/><stop offset="0.1658" stop-color="#ea9c7c"/><stop offset="0.1736" stop-color="#de6535"/><stop offset="0.2124" stop-color="#f3c014"/><stop offset="0.2358" stop-color="#df6838"/><stop offset="0.2435" stop-color="#6fbfef"/><stop offset="0.2513" stop-color="#2573f0"/><stop offset="0.2668" stop-color="#2d84ee"/><stop offset="0.2746" stop-color="#4eaeed"/><stop offset="0.2902" stop-color="#def1fb"/><stop offset="0.2979" stop-color="#ffffff"/><stop offset="0.6865" stop-color="#ffffff"/><stop offset="0.7254" stop-color="#76c2f0"/><stop offset="0.7409" stop-color="#ffffff"/><stop offset="0.7487" stop-color="#df693b"/><stop offset="0.772" stop-color="#da5721"/><stop offset="0.7876" stop-color="#ffffff"/><stop offset="0.7953" stop-color="#ffffff"/><stop offset="0.8109" stop-color="#efb49b"/><stop offset="0.8264" stop-color="#eeb399"/><stop offset="0.8497" stop-color="#ffffff"/><stop offset="0.8575" stop-color="#f4fbfe"/><stop offset="0.8731" stop-color="#c8e9f9"/><stop offset="0.8964" stop-color="#ffffff"/><stop offset="0.9741" stop-color="#ffffff"/><stop offset="0.9974" stop-color="#edf8fd"/></linearGradient><linearGradient id="fb57" gradientUnits="userSpaceOnUse" x1="552.5" x2="938.5" y1="0" y2="0"><stop offset="0.002591" stop-color="#daf0fb"/><stop offset="0.02591" stop-color="#ffffff"/><stop offset="0.07254" stop-color="#ffffff"/><stop offset="0.1347" stop-color="#89ccf2"/><stop offset="0.158" stop-color="#e3f4fc"/><stop offset="0.1736" stop-color="#de6636"/><stop offset="0.2124" stop-color="#f3c014"/><stop offset="0.2358" stop-color="#de6636"/><stop offset="0.2435" stop-color="#82c8f1"/><stop offset="0.2513" stop-color="#1b57f3"/><stop offset="0.2668" stop-color="#2169f1"/><stop offset="0.2746" stop-color="#3aa1eb"/><stop offset="0.2902" stop-color="#def1fb"/><stop offset="0.2979" stop-color="#ffffff"/><stop offset="0.6865" stop-color="#ffffff"/><stop offset="0.7176" stop-color="#72c0f0"/><stop offset="0.7254" stop-color="#6cbdef"/><stop offset="0.7332" stop-color="#cdebfa"/><stop offset="0.7409" stop-color="#f1c0aa"/><stop offset="0.7487" stop-color="#de6434"/><stop offset="0.772" stop-color="#da5721"/><stop offset="0.7798" stop-color="#e5825a"/><stop offset="0.7876" stop-color="#fbece5"/><stop offset="0.7953" stop-color="#ffffff"/><stop offset="0.8031" stop-color="#ffffff"/><stop offset="0.8187" stop-color="#f7d9cc"/><stop offset="0.8342" stop-color="#ffffff"/><stop offset="0.842" stop-color="#ffffff"/><stop offset="0.8731" stop-color="#c9e9f9"/><stop offset="0.8964" stop-color="#ffffff"/><stop offset="0.9974" stop-color="#ffffff"/></linearGradient><linearGradient id="fb58" gradientUnits="userSpaceOnUse" x1="552.5" x2="938.5" y1="0" y2="0"><stop offset="0.002591" stop-color="#dbf0fb"/><stop offset="0.02591" stop-color="#ffffff"/><stop offset="0.07254" stop-color="#ffffff"/><stop offset="0.1425" stop-color="#8accf2"/><stop offset="0.1503" stop-color="#98d2f3"/><stop offset="0.158" stop-color="#daf0fb"/><stop offset="0.1736" stop-color="#de6636"/><stop offset="0.2124" stop-color="#f3c014"/><stop offset="0.2358" stop-color="#de6636"/><stop offset="0.2435" stop-color="#8dcef2"/><stop offset="0.2513" stop-color="#103af7"/><stop offset="0.2591" stop-color="#0a26fa"/><stop offset="0.2746" stop-color="#3493ed"/><stop offset="0.2902" stop-color="#ddf1fb"/><stop offset="0.2979" stop-color="#ffffff"/><stop offset="0.6865" stop-color="#ffffff"/><stop offset="0.7176" stop-color="#66baef"/><stop offset="0.7254" stop-color="#64b9ef"/><stop offset="0.7332" stop-color="#d5eefb"/><stop offset="0.7409" stop-color="#f1c0aa"/><stop offset="0.7487" stop-color="#de6434"/><stop offset="0.772" stop-color="#da5721"/><stop offset="0.7798" stop-color="#e5825a"/><stop offset="0.7876" stop-color="#fbece5"/><stop offset="0.7953" stop-color="#ffffff"/><stop offset="0.8031" stop-color="#ffffff"/><stop offset="0.8187" stop-color="#f7d9cc"/><stop offset="0.8342" stop-color="#ffffff"/><stop offset="0.842" stop-color="#ffffff"/><stop offset="0.8731" stop-color="#c9e9f9"/><stop offset="0.8964" stop-color="#ffffff"/><stop offset="0.9974" stop-color="#ffffff"/></linearGradient><linearGradient id="fb59" gradientUnits="userSpaceOnUse" x1="552.5" x2="938.5" y1="0" y2="0"><stop offset="0.002591" stop-color="#dbf0fb"/><stop offset="0.02591" stop-color="#ffffff"/><stop offset="0.07254" stop-color="#ffffff"/><stop offset="0.1425" stop-color="#8accf2"/><stop offset="0.1503" stop-color="#98d2f3"/><stop offset="0.158" stop-color="#daf0fb"/><stop offset="0.1736" stop-color="#de6636"/><stop offset="0.2124" stop-color="#f3c014"/><stop offset="0.2358" stop-color="#de6636"/><stop offset="0.2435" stop-color="#8dcef2"/><stop offset="0.2513" stop-color="#0822fb"/><stop offset="0.2668" stop-color="#0a28fa"/><stop offset="0.2746" stop-color="#3290ed"/><stop offset="0.2902" stop-color="#ddf1fb"/><stop offset="0.2979" stop-color="#ffffff"/><stop offset="0.6865" stop-color="#ffffff"/><stop offset="0.7176" stop-color="#66baef"/><stop offset="0.7254" stop-color="#64b9ef"/><stop offset="0.7332" stop-color="#d5eefb"/><stop offset="0.7409" stop-color="#f1c0aa"/><stop offset="0.7487" stop-color="#de6434"/><stop offset="0.772" stop-color="#da5721"/><stop offset="0.7798" stop-color="#e5825a"/><stop offset="0.7876" stop-color="#fbece5"/><stop offset="0.7953" stop-color="#ffffff"/><stop offset="0.8031" stop-color="#ffffff"/><stop offset="0.8187" stop-color="#f7d9cc"/><stop offset="0.8342" stop-color="#ffffff"/><stop offset="0.842" stop-color="#ffffff"/><stop offset="0.8731" stop-color="#c9e9f9"/><stop offset="0.8964" stop-color="#ffffff"/><stop offset="0.9974" stop-color="#ffffff"/></linearGradient><clipPath id="fbc1_1"><path d="M553.5 195.9 L559.5 194.2 L565.5 193.4 L571.5 193 L577.5 193.2 L583.5 194.8 L589.5 196.8 L595.5 199.2 L601.5 201.7 L607.5 202.7 L613.5 197.4 L619.5 177 L625.5 156 L631.5 141.9 L637.5 146.9 L643.5 177.5 L649.5 235.4 L655.5 233.4 L661.5 204.6 L667.5 196.8 L673.5 195.9 L679.5 195.3 L685.5 195.1 L691.5 195 L697.5 195 L703.5 195 L709.5 195 L715.5 195 L721.5 195 L727.5 195 L733.5 195 L739.5 195 L745.5 195.1 L751.5 195.1 L757.5 195.1 L763.5 195.1 L769.5 195.2 L775.5 195.2 L781.5 195.3 L787.5 195.3 L793.5 195.4 L799.5 195.4 L805.5 195.5 L811.5 195.6 L817.5 196.6 L823.5 202.6 L829.5 208.9 L835.5 199.5 L841.5 177.1 L847.5 165.8 L853.5 182.3 L859.5 196.3 L865.5 191.6 L871.5 192 L877.5 195.8 L883.5 199.1 L889.5 200.6 L895.5 198.3 L901.5 195.4 L907.5 193.5 L913.5 194.1 L919.5 195 L925.5 195.3 L931.5 195.5 L937.5 195.6 L937.5 195.6 L937.5 264.1 L931.5 260.2 L925.5 257.4 L919.5 255.8 L913.5 255.7 L907.5 256.6 L901.5 257.8 L895.5 259.5 L889.5 259.1 L883.5 253.9 L877.5 249.9 L871.5 249 L865.5 254.4 L859.5 269.4 L853.5 277.6 L847.5 281.2 L841.5 282.5 L835.5 278 L829.5 271.5 L823.5 263.9 L817.5 261.3 L811.5 261.3 L805.5 261.3 L799.5 261.3 L793.5 261.3 L787.5 261.3 L781.5 261.3 L775.5 261.4 L769.5 261.4 L763.5 261.4 L757.5 261.4 L751.5 261.5 L745.5 261.5 L739.5 261.5 L733.5 261.6 L727.5 261.6 L721.5 261.7 L715.5 261.7 L709.5 261.8 L703.5 261.8 L697.5 261.9 L691.5 262 L685.5 262.1 L679.5 262.6 L673.5 263.4 L667.5 264.7 L661.5 269.6 L655.5 278.8 L649.5 286.1 L643.5 242.9 L637.5 201.5 L631.5 194.4 L625.5 222.6 L619.5 262.8 L613.5 281 L607.5 278.5 L601.5 274.3 L595.5 270.3 L589.5 266.5 L583.5 262.5 L577.5 260.1 L571.5 260 L565.5 260.7 L559.5 262.5 L553.5 265.6 L553.5 265.6 Z"/></clipPath><linearGradient id="fb60" gradientUnits="userSpaceOnUse" x1="552.5" x2="938.5" y1="0" y2="0"><stop offset="0.002591" stop-color="#dbf0fb"/><stop offset="0.02591" stop-color="#ffffff"/><stop offset="0.07254" stop-color="#ffffff"/><stop offset="0.1425" stop-color="#8accf2"/><stop offset="0.1503" stop-color="#98d2f3"/><stop offset="0.158" stop-color="#daf0fb"/><stop offset="0.1736" stop-color="#de6636"/><stop offset="0.2124" stop-color="#f5ca10"/><stop offset="0.2358" stop-color="#de6636"/><stop offset="0.2435" stop-color="#8dcef2"/><stop offset="0.2513" stop-color="#081ffb"/><stop offset="0.2591" stop-color="#0206fe"/><stop offset="0.2668" stop-color="#0a27fa"/><stop offset="0.2746" stop-color="#3290ed"/><stop offset="0.2902" stop-color="#ddf1fb"/><stop offset="0.2979" stop-color="#ffffff"/><stop offset="0.6865" stop-color="#ffffff"/><stop offset="0.7176" stop-color="#66baef"/><stop offset="0.7254" stop-color="#64b9ef"/><stop offset="0.7332" stop-color="#d5eefb"/><stop offset="0.7409" stop-color="#f1c0aa"/><stop offset="0.7487" stop-color="#de6434"/><stop offset="0.772" stop-color="#da5721"/><stop offset="0.7798" stop-color="#e5825a"/><stop offset="0.7876" stop-color="#fbece5"/><stop offset="0.7953" stop-color="#ffffff"/><stop offset="0.8031" stop-color="#ffffff"/><stop offset="0.8187" stop-color="#f7d9cc"/><stop offset="0.8342" stop-color="#ffffff"/><stop offset="0.842" stop-color="#ffffff"/><stop offset="0.8731" stop-color="#c9e9f9"/><stop offset="0.8964" stop-color="#ffffff"/><stop offset="0.9974" stop-color="#ffffff"/></linearGradient><linearGradient id="fb61" gradientUnits="userSpaceOnUse" x1="552.5" x2="938.5" y1="0" y2="0"><stop offset="0.002591" stop-color="#dbf0fb"/><stop offset="0.02591" stop-color="#ffffff"/><stop offset="0.07254" stop-color="#ffffff"/><stop offset="0.1425" stop-color="#8accf2"/><stop offset="0.1503" stop-color="#98d2f3"/><stop offset="0.158" stop-color="#daf0fb"/><stop offset="0.1736" stop-color="#de6636"/><stop offset="0.1891" stop-color="#e6881d"/><stop offset="0.2124" stop-color="#fbde07"/><stop offset="0.2358" stop-color="#de6636"/><stop offset="0.2435" stop-color="#8dcef2"/><stop offset="0.2513" stop-color="#081ffb"/><stop offset="0.2591" stop-color="#0206fe"/><stop offset="0.2668" stop-color="#0a27fa"/><stop offset="0.2746" stop-color="#3290ed"/><stop offset="0.2902" stop-color="#ddf1fb"/><stop offset="0.2979" stop-color="#ffffff"/><stop offset="0.6865" stop-color="#ffffff"/><stop offset="0.7176" stop-color="#66baef"/><stop offset="0.7254" stop-color="#64b9ef"/><stop offset="0.7332" stop-color="#d5eefb"/><stop offset="0.7409" stop-color="#f1c0aa"/><stop offset="0.7487" stop-color="#de6434"/><stop offset="0.772" stop-color="#da5721"/><stop offset="0.7798" stop-color="#e5825a"/><stop offset="0.7876" stop-color="#fbece5"/><stop offset="0.7953" stop-color="#ffffff"/><stop offset="0.8031" stop-color="#ffffff"/><stop offset="0.8187" stop-color="#f7d9cc"/><stop offset="0.8342" stop-color="#ffffff"/><stop offset="0.842" stop-color="#ffffff"/><stop offset="0.8731" stop-color="#c9e9f9"/><stop offset="0.8964" stop-color="#ffffff"/><stop offset="0.9974" stop-color="#ffffff"/></linearGradient><linearGradient id="fb62" gradientUnits="userSpaceOnUse" x1="552.5" x2="938.5" y1="0" y2="0"><stop offset="0.002591" stop-color="#dbf0fb"/><stop offset="0.02591" stop-color="#ffffff"/><stop offset="0.07254" stop-color="#ffffff"/><stop offset="0.1425" stop-color="#8accf2"/><stop offset="0.1503" stop-color="#98d2f3"/><stop offset="0.158" stop-color="#daf0fb"/><stop offset="0.1736" stop-color="#e17144"/><stop offset="0.1813" stop-color="#dc601e"/><stop offset="0.2047" stop-color="#fde604"/><stop offset="0.2124" stop-color="#fff000"/><stop offset="0.2358" stop-color="#de6535"/><stop offset="0.2435" stop-color="#8dcef2"/><stop offset="0.2513" stop-color="#081ffb"/><stop offset="0.2591" stop-color="#0206fe"/><stop offset="0.2668" stop-color="#0a27fa"/><stop offset="0.2746" stop-color="#3290ed"/><stop offset="0.2902" stop-color="#ddf1fb"/><stop offset="0.2979" stop-color="#ffffff"/><stop offset="0.6865" stop-color="#ffffff"/><stop offset="0.7176" stop-color="#66baef"/><stop offset="0.7254" stop-color="#64b9ef"/><stop offset="0.7332" stop-color="#d5eefb"/><stop offset="0.7487" stop-color="#e3774c"/><stop offset="0.7642" stop-color="#db5a27"/><stop offset="0.7798" stop-color="#e78b66"/><stop offset="0.7876" stop-color="#fbece5"/><stop offset="0.7953" stop-color="#ffffff"/><stop offset="0.8031" stop-color="#ffffff"/><stop offset="0.8187" stop-color="#f7d9cc"/><stop offset="0.8342" stop-color="#ffffff"/><stop offset="0.842" stop-color="#ffffff"/><stop offset="0.8731" stop-color="#c9e9f9"/><stop offset="0.8964" stop-color="#ffffff"/><stop offset="0.9974" stop-color="#ffffff"/></linearGradient><linearGradient id="fb63" gradientUnits="userSpaceOnUse" x1="552.5" x2="938.5" y1="0" y2="0"><stop offset="0.002591" stop-color="#d6eefb"/><stop offset="0.03368" stop-color="#ffffff"/><stop offset="0.06477" stop-color="#ffffff"/><stop offset="0.1425" stop-color="#87cbf2"/><stop offset="0.1503" stop-color="#92d0f3"/><stop offset="0.1658" stop-color="#ffffff"/><stop offset="0.1736" stop-color="#e88c68"/><stop offset="0.1813" stop-color="#da591e"/><stop offset="0.2047" stop-color="#feed01"/><stop offset="0.2202" stop-color="#f8d50b"/><stop offset="0.2358" stop-color="#de6433"/><stop offset="0.2435" stop-color="#8dcef2"/><stop offset="0.2513" stop-color="#081ffb"/><stop offset="0.2591" stop-color="#0206fe"/><stop offset="0.2668" stop-color="#0a27fa"/><stop offset="0.2746" stop-color="#3290ed"/><stop offset="0.2902" stop-color="#ddf1fb"/><stop offset="0.3057" stop-color="#ffffff"/><stop offset="0.6865" stop-color="#ffffff"/><stop offset="0.7176" stop-color="#66baef"/><stop offset="0.7254" stop-color="#64b9ef"/><stop offset="0.7332" stop-color="#cceafa"/><stop offset="0.7409" stop-color="#ffffff"/><stop offset="0.7487" stop-color="#efb49b"/><stop offset="0.7565" stop-color="#e78862"/><stop offset="0.772" stop-color="#eb9d7d"/><stop offset="0.7876" stop-color="#ffffff"/><stop offset="0.7953" stop-color="#f3fafe"/><stop offset="0.8031" stop-color="#ffffff"/><stop offset="0.8187" stop-color="#f3cab7"/><stop offset="0.842" stop-color="#ffffff"/><stop offset="0.8497" stop-color="#ffffff"/><stop offset="0.8731" stop-color="#cfecfa"/><stop offset="0.8964" stop-color="#ffffff"/><stop offset="0.9974" stop-color="#ffffff"/></linearGradient><linearGradient id="fb64" gradientUnits="userSpaceOnUse" x1="552.5" x2="938.5" y1="0" y2="0"><stop offset="0.002591" stop-color="#cdebfa"/><stop offset="0.03368" stop-color="#ffffff"/><stop offset="0.06477" stop-color="#ffffff"/><stop offset="0.1425" stop-color="#71bff0"/><stop offset="0.158" stop-color="#98d2f3"/><stop offset="0.1658" stop-color="#e3f3fc"/><stop offset="0.1813" stop-color="#da5823"/><stop offset="0.2047" stop-color="#feed01"/><stop offset="0.2202" stop-color="#f8d50b"/><stop offset="0.2358" stop-color="#dd6332"/><stop offset="0.2435" stop-color="#9fd6f4"/><stop offset="0.2513" stop-color="#081ffb"/><stop offset="0.2591" stop-color="#0206fe"/><stop offset="0.2668" stop-color="#0a27fa"/><stop offset="0.2746" stop-color="#3595ec"/><stop offset="0.2902" stop-color="#daf0fb"/><stop offset="0.3057" stop-color="#ffffff"/><stop offset="0.6865" stop-color="#ffffff"/><stop offset="0.7021" stop-color="#c6e8f9"/><stop offset="0.7176" stop-color="#6ebeef"/><stop offset="0.7254" stop-color="#66baef"/><stop offset="0.7409" stop-color="#e3f4fc"/><stop offset="0.7487" stop-color="#ffffff"/><stop offset="0.7642" stop-color="#f5d2c2"/><stop offset="0.7798" stop-color="#ffffff"/><stop offset="0.7953" stop-color="#ddf1fb"/><stop offset="0.8031" stop-color="#ffffff"/><stop offset="0.8187" stop-color="#efb69d"/><stop offset="0.842" stop-color="#f4cdbc"/><stop offset="0.8575" stop-color="#ffffff"/><stop offset="0.8653" stop-color="#ffffff"/><stop offset="0.8731" stop-color="#ecf7fd"/><stop offset="0.8886" stop-color="#ffffff"/><stop offset="0.9041" stop-color="#ffffff"/><stop offset="0.9352" stop-color="#fbebe4"/><stop offset="0.9585" stop-color="#ffffff"/><stop offset="0.9974" stop-color="#ffffff"/></linearGradient><linearGradient id="fb65" gradientUnits="userSpaceOnUse" x1="552.5" x2="938.5" y1="0" y2="0"><stop offset="0.002591" stop-color="#c4e7f9"/><stop offset="0.04145" stop-color="#ffffff"/><stop offset="0.06477" stop-color="#ffffff"/><stop offset="0.1425" stop-color="#5bb4ee"/><stop offset="0.158" stop-color="#6fbfef"/><stop offset="0.1736" stop-color="#fbeee7"/><stop offset="0.1813" stop-color="#dd6231"/><stop offset="0.2047" stop-color="#feed01"/><stop offset="0.2202" stop-color="#f8d50b"/><stop offset="0.2358" stop-color="#dd6230"/><stop offset="0.2435" stop-color="#b2dff7"/><stop offset="0.2513" stop-color="#0925fa"/><stop offset="0.2591" stop-color="#0206fe"/><stop offset="0.2668" stop-color="#123ef7"/><stop offset="0.2746" stop-color="#3ca5eb"/><stop offset="0.2902" stop-color="#d7effb"/><stop offset="0.3135" stop-color="#ffffff"/><stop offset="0.6943" stop-color="#ffffff"/><stop offset="0.7254" stop-color="#68bbef"/><stop offset="0.7565" stop-color="#e0f2fc"/><stop offset="0.7642" stop-color="#eaf6fd"/><stop offset="0.7953" stop-color="#cbeafa"/><stop offset="0.8031" stop-color="#ffffff"/><stop offset="0.8187" stop-color="#eba183"/><stop offset="0.8342" stop-color="#e88d68"/><stop offset="0.8653" stop-color="#ffffff"/><stop offset="0.8964" stop-color="#ffffff"/><stop offset="0.9352" stop-color="#f6d7c9"/><stop offset="0.9663" stop-color="#fcefe9"/><stop offset="0.9741" stop-color="#ffffff"/><stop offset="0.9896" stop-color="#ffffff"/><stop offset="0.9974" stop-color="#f4fbfe"/></linearGradient><linearGradient id="fb66" gradientUnits="userSpaceOnUse" x1="552.5" x2="938.5" y1="0" y2="0"><stop offset="0.002591" stop-color="#b9e2f8"/><stop offset="0.04145" stop-color="#ffffff"/><stop offset="0.06477" stop-color="#ffffff"/><stop offset="0.1503" stop-color="#40a7eb"/><stop offset="0.1658" stop-color="#6dbeef"/><stop offset="0.1736" stop-color="#ffffff"/><stop offset="0.1813" stop-color="#de6433"/><stop offset="0.2047" stop-color="#feed01"/><stop offset="0.2202" stop-color="#f8d50b"/><stop offset="0.2358" stop-color="#dd6230"/><stop offset="0.2435" stop-color="#c4e7f9"/><stop offset="0.2513" stop-color="#164bf5"/><stop offset="0.2591" stop-color="#0d30f9"/><stop offset="0.2746" stop-color="#58b3ed"/><stop offset="0.2902" stop-color="#d4eefb"/><stop offset="0.3212" stop-color="#ffffff"/><stop offset="0.6943" stop-color="#ffffff"/><stop offset="0.7021" stop-color="#e7f5fc"/><stop offset="0.7254" stop-color="#6bbcef"/><stop offset="0.7876" stop-color="#8ccdf2"/><stop offset="0.8031" stop-color="#ffffff"/><stop offset="0.8187" stop-color="#e99674"/><stop offset="0.842" stop-color="#e78a65"/><stop offset="0.8731" stop-color="#fef8f6"/><stop offset="0.8808" stop-color="#ffffff"/><stop offset="0.8886" stop-color="#ffffff"/><stop offset="0.9352" stop-color="#f3cab7"/><stop offset="0.9741" stop-color="#fcf1ec"/><stop offset="0.9819" stop-color="#ffffff"/><stop offset="0.9896" stop-color="#ffffff"/><stop offset="0.9974" stop-color="#ecf7fd"/></linearGradient><linearGradient id="fb67" gradientUnits="userSpaceOnUse" x1="552.5" x2="938.5" y1="0" y2="0"><stop offset="0.002591" stop-color="#b4e0f7"/><stop offset="0.04145" stop-color="#ffffff"/><stop offset="0.06477" stop-color="#ffffff"/><stop offset="0.1425" stop-color="#389dec"/><stop offset="0.1658" stop-color="#3ca5eb"/><stop offset="0.1736" stop-color="#f5fbfe"/><stop offset="0.1813" stop-color="#de6433"/><stop offset="0.2047" stop-color="#feed01"/><stop offset="0.2202" stop-color="#f8d50b"/><stop offset="0.2358" stop-color="#dd6230"/><stop offset="0.2435" stop-color="#caeafa"/><stop offset="0.2513" stop-color="#2471f0"/><stop offset="0.2591" stop-color="#2573f0"/><stop offset="0.2902" stop-color="#d3edfa"/><stop offset="0.3212" stop-color="#ffffff"/><stop offset="0.6943" stop-color="#ffffff"/><stop offset="0.7021" stop-color="#edf8fd"/><stop offset="0.7332" stop-color="#4cadec"/><stop offset="0.7798" stop-color="#50afed"/><stop offset="0.7953" stop-color="#a9daf6"/><stop offset="0.8031" stop-color="#ffffff"/><stop offset="0.8187" stop-color="#e99674"/><stop offset="0.842" stop-color="#e78a65"/><stop offset="0.8731" stop-color="#fef8f6"/><stop offset="0.8808" stop-color="#ffffff"/><stop offset="0.8886" stop-color="#ffffff"/><stop offset="0.9352" stop-color="#f3cab7"/><stop offset="0.9741" stop-color="#fcf1ec"/><stop offset="0.9819" stop-color="#ffffff"/><stop offset="0.9896" stop-color="#ffffff"/><stop offset="0.9974" stop-color="#e9f6fd"/></linearGradient><clipPath id="fbc1_2"><path d="M553.5 265.6 L559.5 262.5 L565.5 260.7 L571.5 260 L577.5 260.1 L583.5 262.5 L589.5 266.5 L595.5 270.3 L601.5 274.3 L607.5 278.5 L613.5 281 L619.5 262.8 L625.5 222.6 L631.5 194.4 L637.5 201.5 L643.5 242.9 L649.5 286.1 L655.5 278.8 L661.5 269.6 L667.5 264.7 L673.5 263.4 L679.5 262.6 L685.5 262.1 L691.5 262 L697.5 261.9 L703.5 261.8 L709.5 261.8 L715.5 261.7 L721.5 261.7 L727.5 261.6 L733.5 261.6 L739.5 261.5 L745.5 261.5 L751.5 261.5 L757.5 261.4 L763.5 261.4 L769.5 261.4 L775.5 261.4 L781.5 261.3 L787.5 261.3 L793.5 261.3 L799.5 261.3 L805.5 261.3 L811.5 261.3 L817.5 261.3 L823.5 263.9 L829.5 271.5 L835.5 278 L841.5 282.5 L847.5 281.2 L853.5 277.6 L859.5 269.4 L865.5 254.4 L871.5 249 L877.5 249.9 L883.5 253.9 L889.5 259.1 L895.5 259.5 L901.5 257.8 L907.5 256.6 L913.5 255.7 L919.5 255.8 L925.5 257.4 L931.5 260.2 L937.5 264.1 L937.5 264.1 L937.5 328.2 L931.5 329.2 L925.5 329.9 L919.5 330.4 L913.5 330.7 L907.5 330.9 L901.5 331 L895.5 331 L889.5 329.3 L883.5 325 L877.5 320.9 L871.5 321.2 L865.5 325.5 L859.5 334.9 L853.5 328.4 L847.5 319.2 L841.5 326.9 L835.5 339.4 L829.5 336.8 L823.5 328.3 L817.5 328 L811.5 328 L805.5 328 L799.5 328 L793.5 328 L787.5 328 L781.5 328 L775.5 328 L769.5 328 L763.5 328 L757.5 328 L751.5 328 L745.5 328 L739.5 328 L733.5 328 L727.5 328 L721.5 328 L715.5 328 L709.5 328 L703.5 328 L697.5 328 L691.5 328 L685.5 328.1 L679.5 328.4 L673.5 329 L667.5 330 L661.5 334.3 L655.5 344.3 L649.5 333.2 L643.5 309.4 L637.5 297.4 L631.5 309 L625.5 324.1 L619.5 330.3 L613.5 333.4 L607.5 333.4 L601.5 331.8 L595.5 330.1 L589.5 328.8 L583.5 327.5 L577.5 326.7 L571.5 326.6 L565.5 326.9 L559.5 327.5 L553.5 328.6 L553.5 328.6 Z"/></clipPath><linearGradient id="fb68" gradientUnits="userSpaceOnUse" x1="552.5" x2="938.5" y1="0" y2="0"><stop offset="0.002591" stop-color="#b4e0f7"/><stop offset="0.04145" stop-color="#ffffff"/><stop offset="0.06477" stop-color="#ffffff"/><stop offset="0.1425" stop-color="#389cec"/><stop offset="0.1658" stop-color="#3ba2eb"/><stop offset="0.1736" stop-color="#f5fbfe"/><stop offset="0.1813" stop-color="#de6433"/><stop offset="0.2047" stop-color="#fce405"/><stop offset="0.2202" stop-color="#f8d50b"/><stop offset="0.2358" stop-color="#dd6230"/><stop offset="0.2435" stop-color="#caeafa"/><stop offset="0.2513" stop-color="#2b81ee"/><stop offset="0.2668" stop-color="#43a9ec"/><stop offset="0.2902" stop-color="#d3edfa"/><stop offset="0.3212" stop-color="#ffffff"/><stop offset="0.6943" stop-color="#ffffff"/><stop offset="0.7021" stop-color="#edf8fd"/><stop offset="0.7332" stop-color="#4bacec"/><stop offset="0.772" stop-color="#3ba4eb"/><stop offset="0.7876" stop-color="#6ebeef"/><stop offset="0.8031" stop-color="#ffffff"/><stop offset="0.8187" stop-color="#e99674"/><stop offset="0.842" stop-color="#e78a65"/><stop offset="0.8731" stop-color="#fef8f6"/><stop offset="0.8808" stop-color="#ffffff"/><stop offset="0.8886" stop-color="#ffffff"/><stop offset="0.9352" stop-color="#f3cab7"/><stop offset="0.9741" stop-color="#fcf1ec"/><stop offset="0.9819" stop-color="#ffffff"/><stop offset="0.9896" stop-color="#ffffff"/><stop offset="0.9974" stop-color="#e9f6fd"/></linearGradient><linearGradient id="fb69" gradientUnits="userSpaceOnUse" x1="552.5" x2="938.5" y1="0" y2="0"><stop offset="0.002591" stop-color="#b4e0f7"/><stop offset="0.04145" stop-color="#ffffff"/><stop offset="0.06477" stop-color="#ffffff"/><stop offset="0.1425" stop-color="#389cec"/><stop offset="0.1658" stop-color="#3ba2eb"/><stop offset="0.1736" stop-color="#f5fbfe"/><stop offset="0.1813" stop-color="#de6433"/><stop offset="0.2047" stop-color="#f5c910"/><stop offset="0.2202" stop-color="#f4c213"/><stop offset="0.2358" stop-color="#dd6230"/><stop offset="0.2435" stop-color="#caeafa"/><stop offset="0.2513" stop-color="#2b81ee"/><stop offset="0.2668" stop-color="#43a9ec"/><stop offset="0.2902" stop-color="#d3edfa"/><stop offset="0.3212" stop-color="#ffffff"/><stop offset="0.6943" stop-color="#ffffff"/><stop offset="0.7021" stop-color="#edf8fd"/><stop offset="0.7332" stop-color="#4bacec"/><stop offset="0.772" stop-color="#3ba4eb"/><stop offset="0.7876" stop-color="#6ebeef"/><stop offset="0.8031" stop-color="#ffffff"/><stop offset="0.8187" stop-color="#e99674"/><stop offset="0.842" stop-color="#e78a65"/><stop offset="0.8731" stop-color="#fef8f6"/><stop offset="0.8808" stop-color="#ffffff"/><stop offset="0.8886" stop-color="#ffffff"/><stop offset="0.9352" stop-color="#f3cab7"/><stop offset="0.9741" stop-color="#fcf1ec"/><stop offset="0.9819" stop-color="#ffffff"/><stop offset="0.9896" stop-color="#ffffff"/><stop offset="0.9974" stop-color="#e9f6fd"/></linearGradient><linearGradient id="fb70" gradientUnits="userSpaceOnUse" x1="552.5" x2="938.5" y1="0" y2="0"><stop offset="0.002591" stop-color="#b4e0f7"/><stop offset="0.04145" stop-color="#ffffff"/><stop offset="0.06477" stop-color="#ffffff"/><stop offset="0.1425" stop-color="#389cec"/><stop offset="0.1658" stop-color="#3ba2eb"/><stop offset="0.1736" stop-color="#f5fbfe"/><stop offset="0.1813" stop-color="#de6433"/><stop offset="0.2124" stop-color="#f1b817"/><stop offset="0.2358" stop-color="#dd6230"/><stop offset="0.2435" stop-color="#caeafa"/><stop offset="0.2513" stop-color="#2b81ee"/><stop offset="0.2668" stop-color="#43a9ec"/><stop offset="0.2902" stop-color="#d3edfa"/><stop offset="0.3212" stop-color="#ffffff"/><stop offset="0.6943" stop-color="#ffffff"/><stop offset="0.7021" stop-color="#edf8fd"/><stop offset="0.7332" stop-color="#4bacec"/><stop offset="0.772" stop-color="#3ba4eb"/><stop offset="0.7876" stop-color="#6ebeef"/><stop offset="0.8031" stop-color="#ffffff"/><stop offset="0.8187" stop-color="#e99674"/><stop offset="0.842" stop-color="#e78a65"/><stop offset="0.8731" stop-color="#fef8f6"/><stop offset="0.8808" stop-color="#ffffff"/><stop offset="0.8886" stop-color="#ffffff"/><stop offset="0.9352" stop-color="#f3cab7"/><stop offset="0.9741" stop-color="#fcf1ec"/><stop offset="0.9819" stop-color="#ffffff"/><stop offset="0.9896" stop-color="#ffffff"/><stop offset="0.9974" stop-color="#e9f6fd"/></linearGradient><linearGradient id="fb71" gradientUnits="userSpaceOnUse" x1="552.5" x2="938.5" y1="0" y2="0"><stop offset="0.002591" stop-color="#b4e0f7"/><stop offset="0.04145" stop-color="#ffffff"/><stop offset="0.06477" stop-color="#ffffff"/><stop offset="0.1425" stop-color="#389cec"/><stop offset="0.1658" stop-color="#3ba2eb"/><stop offset="0.1736" stop-color="#f5fbfe"/><stop offset="0.1813" stop-color="#e27448"/><stop offset="0.1969" stop-color="#e2761e"/><stop offset="0.2202" stop-color="#e9961b"/><stop offset="0.2358" stop-color="#dd6230"/><stop offset="0.2435" stop-color="#caeafa"/><stop offset="0.2513" stop-color="#2b81ee"/><stop offset="0.2668" stop-color="#43a9ec"/><stop offset="0.2902" stop-color="#d3edfa"/><stop offset="0.3212" stop-color="#ffffff"/><stop offset="0.6943" stop-color="#ffffff"/><stop offset="0.7021" stop-color="#edf8fd"/><stop offset="0.7332" stop-color="#4bacec"/><stop offset="0.772" stop-color="#3ba4eb"/><stop offset="0.7876" stop-color="#6ebeef"/><stop offset="0.8031" stop-color="#ffffff"/><stop offset="0.8187" stop-color="#ea9c7c"/><stop offset="0.842" stop-color="#e88d69"/><stop offset="0.8731" stop-color="#fef8f6"/><stop offset="0.8808" stop-color="#ffffff"/><stop offset="0.8886" stop-color="#ffffff"/><stop offset="0.9352" stop-color="#f4cdbb"/><stop offset="0.9741" stop-color="#fcf1ec"/><stop offset="0.9819" stop-color="#ffffff"/><stop offset="0.9896" stop-color="#ffffff"/><stop offset="0.9974" stop-color="#e9f6fd"/></linearGradient><linearGradient id="fb72" gradientUnits="userSpaceOnUse" x1="552.5" x2="938.5" y1="0" y2="0"><stop offset="0.002591" stop-color="#bde4f8"/><stop offset="0.04145" stop-color="#ffffff"/><stop offset="0.06477" stop-color="#ffffff"/><stop offset="0.1425" stop-color="#389cec"/><stop offset="0.1658" stop-color="#3ba2eb"/><stop offset="0.1736" stop-color="#f1f9fd"/><stop offset="0.1813" stop-color="#e8906d"/><stop offset="0.1891" stop-color="#db5c28"/><stop offset="0.228" stop-color="#e1721e"/><stop offset="0.2358" stop-color="#dd6230"/><stop offset="0.2435" stop-color="#e4f4fc"/><stop offset="0.2513" stop-color="#2b81ee"/><stop offset="0.2668" stop-color="#43a9ec"/><stop offset="0.2902" stop-color="#d6eefb"/><stop offset="0.3135" stop-color="#ffffff"/><stop offset="0.6943" stop-color="#ffffff"/><stop offset="0.7021" stop-color="#f3fafe"/><stop offset="0.7332" stop-color="#4bacec"/><stop offset="0.772" stop-color="#3ba4eb"/><stop offset="0.7953" stop-color="#abdbf6"/><stop offset="0.8031" stop-color="#ffffff"/><stop offset="0.8187" stop-color="#edac91"/><stop offset="0.842" stop-color="#ea9b7b"/><stop offset="0.8731" stop-color="#ffffff"/><stop offset="0.9119" stop-color="#ffffff"/><stop offset="0.943" stop-color="#fae7df"/><stop offset="0.9741" stop-color="#ffffff"/><stop offset="0.9896" stop-color="#ffffff"/><stop offset="0.9974" stop-color="#f1f9fd"/></linearGradient><linearGradient id="fb73" gradientUnits="userSpaceOnUse" x1="552.5" x2="938.5" y1="0" y2="0"><stop offset="0.002591" stop-color="#cbeafa"/><stop offset="0.04145" stop-color="#ffffff"/><stop offset="0.06477" stop-color="#ffffff"/><stop offset="0.158" stop-color="#46aaec"/><stop offset="0.1658" stop-color="#62b8ee"/><stop offset="0.1736" stop-color="#edf8fd"/><stop offset="0.1891" stop-color="#e47d54"/><stop offset="0.2047" stop-color="#db5a1e"/><stop offset="0.2358" stop-color="#dd6230"/><stop offset="0.2435" stop-color="#ffffff"/><stop offset="0.2513" stop-color="#3698ec"/><stop offset="0.2668" stop-color="#46aaec"/><stop offset="0.2902" stop-color="#daf0fb"/><stop offset="0.3135" stop-color="#ffffff"/><stop offset="0.7021" stop-color="#ffffff"/><stop offset="0.7254" stop-color="#6fbeef"/><stop offset="0.7487" stop-color="#63b8ee"/><stop offset="0.7642" stop-color="#a3d8f5"/><stop offset="0.7876" stop-color="#89ccf2"/><stop offset="0.8031" stop-color="#ffffff"/><stop offset="0.8264" stop-color="#eda88b"/><stop offset="0.8497" stop-color="#f0bea7"/><stop offset="0.8653" stop-color="#fdf4f0"/><stop offset="0.8731" stop-color="#ffffff"/><stop offset="0.9974" stop-color="#ffffff"/></linearGradient><linearGradient id="fb74" gradientUnits="userSpaceOnUse" x1="552.5" x2="938.5" y1="0" y2="0"><stop offset="0.002591" stop-color="#d6eefb"/><stop offset="0.04145" stop-color="#ffffff"/><stop offset="0.06477" stop-color="#ffffff"/><stop offset="0.1503" stop-color="#76c2f0"/><stop offset="0.1658" stop-color="#93d0f3"/><stop offset="0.1736" stop-color="#e8f6fc"/><stop offset="0.1813" stop-color="#fdf4f0"/><stop offset="0.2047" stop-color="#dc602e"/><stop offset="0.2358" stop-color="#dd6230"/><stop offset="0.2435" stop-color="#f3c7b4"/><stop offset="0.2513" stop-color="#73c0f0"/><stop offset="0.2591" stop-color="#399eec"/><stop offset="0.2746" stop-color="#80c7f1"/><stop offset="0.2902" stop-color="#def2fb"/><stop offset="0.3057" stop-color="#ffffff"/><stop offset="0.7021" stop-color="#ffffff"/><stop offset="0.7254" stop-color="#71bff0"/><stop offset="0.7409" stop-color="#8dcef2"/><stop offset="0.7487" stop-color="#d3edfa"/><stop offset="0.7565" stop-color="#f9e3d9"/><stop offset="0.7642" stop-color="#f3c7b4"/><stop offset="0.772" stop-color="#ffffff"/><stop offset="0.7876" stop-color="#aadbf6"/><stop offset="0.7953" stop-color="#b3dff7"/><stop offset="0.8031" stop-color="#ffffff"/><stop offset="0.8342" stop-color="#eeb096"/><stop offset="0.8653" stop-color="#ffffff"/><stop offset="0.8731" stop-color="#ffffff"/><stop offset="0.8886" stop-color="#f4fbfe"/><stop offset="0.8964" stop-color="#ffffff"/><stop offset="0.9974" stop-color="#ffffff"/></linearGradient><linearGradient id="fb75" gradientUnits="userSpaceOnUse" x1="552.5" x2="938.5" y1="0" y2="0"><stop offset="0.002591" stop-color="#def2fb"/><stop offset="0.04145" stop-color="#ffffff"/><stop offset="0.06477" stop-color="#ffffff"/><stop offset="0.1503" stop-color="#aadbf6"/><stop offset="0.1813" stop-color="#ffffff"/><stop offset="0.1891" stop-color="#f8dfd4"/><stop offset="0.1969" stop-color="#e78963"/><stop offset="0.2124" stop-color="#dc5e1e"/><stop offset="0.2358" stop-color="#dd6230"/><stop offset="0.2435" stop-color="#f0b9a2"/><stop offset="0.2513" stop-color="#cceafa"/><stop offset="0.2591" stop-color="#45a9ec"/><stop offset="0.2668" stop-color="#4cadec"/><stop offset="0.2902" stop-color="#e2f3fc"/><stop offset="0.3057" stop-color="#ffffff"/><stop offset="0.7021" stop-color="#ffffff"/><stop offset="0.7254" stop-color="#73c0f0"/><stop offset="0.7332" stop-color="#7ac4f0"/><stop offset="0.7487" stop-color="#ffffff"/><stop offset="0.7565" stop-color="#efb79f"/><stop offset="0.7642" stop-color="#eca88b"/><stop offset="0.7798" stop-color="#ffffff"/><stop offset="0.7953" stop-color="#b8e1f7"/><stop offset="0.8031" stop-color="#ecf7fd"/><stop offset="0.8109" stop-color="#fdf6f3"/><stop offset="0.8342" stop-color="#efb49b"/><stop offset="0.8653" stop-color="#ffffff"/><stop offset="0.8731" stop-color="#ffffff"/><stop offset="0.8886" stop-color="#e4f4fc"/><stop offset="0.9663" stop-color="#f4fbfe"/><stop offset="0.9741" stop-color="#ffffff"/><stop offset="0.9974" stop-color="#ffffff"/></linearGradient><clipPath id="fbc1_3"><path d="M553.5 328.6 L559.5 327.5 L565.5 326.9 L571.5 326.6 L577.5 326.7 L583.5 327.5 L589.5 328.8 L595.5 330.1 L601.5 331.8 L607.5 333.4 L613.5 333.4 L619.5 330.3 L625.5 324.1 L631.5 309 L637.5 297.4 L643.5 309.4 L649.5 333.2 L655.5 344.3 L661.5 334.3 L667.5 330 L673.5 329 L679.5 328.4 L685.5 328.1 L691.5 328 L697.5 328 L703.5 328 L709.5 328 L715.5 328 L721.5 328 L727.5 328 L733.5 328 L739.5 328 L745.5 328 L751.5 328 L757.5 328 L763.5 328 L769.5 328 L775.5 328 L781.5 328 L787.5 328 L793.5 328 L799.5 328 L805.5 328 L811.5 328 L817.5 328 L823.5 328.3 L829.5 336.8 L835.5 339.4 L841.5 326.9 L847.5 319.2 L853.5 328.4 L859.5 334.9 L865.5 325.5 L871.5 321.2 L877.5 320.9 L883.5 325 L889.5 329.3 L895.5 331 L901.5 331 L907.5 330.9 L913.5 330.7 L919.5 330.4 L925.5 329.9 L931.5 329.2 L937.5 328.2 L937.5 328.2 L937.5 394.1 L931.5 394.2 L925.5 394.3 L919.5 394.5 L913.5 394.8 L907.5 395.4 L901.5 397.1 L895.5 397.4 L889.5 394.4 L883.5 390.7 L877.5 387.1 L871.5 387.8 L865.5 390 L859.5 392.1 L853.5 393.7 L847.5 395.2 L841.5 397.6 L835.5 400.3 L829.5 399.2 L823.5 395.8 L817.5 394.7 L811.5 394.6 L805.5 394.5 L799.5 394.3 L793.5 394.2 L787.5 394.1 L781.5 394 L775.5 394 L769.5 393.9 L763.5 393.8 L757.5 393.7 L751.5 393.7 L745.5 393.6 L739.5 393.6 L733.5 393.6 L727.5 393.5 L721.5 393.5 L715.5 393.5 L709.5 393.4 L703.5 393.4 L697.5 393.4 L691.5 393.4 L685.5 393.4 L679.5 393.4 L673.5 393.4 L667.5 393.6 L661.5 395.4 L655.5 401 L649.5 394.9 L643.5 378.9 L637.5 375.2 L631.5 385.8 L625.5 395.4 L619.5 395.3 L613.5 394.8 L607.5 394.3 L601.5 394 L595.5 394 L589.5 394 L583.5 394.1 L577.5 394.2 L571.5 394.3 L565.5 394.6 L559.5 394.9 L553.5 395.4 L553.5 395.4 Z"/></clipPath><linearGradient id="fb76" gradientUnits="userSpaceOnUse" x1="552.5" x2="938.5" y1="0" y2="0"><stop offset="0.002591" stop-color="#def2fb"/><stop offset="0.04145" stop-color="#ffffff"/><stop offset="0.06477" stop-color="#ffffff"/><stop offset="0.1503" stop-color="#aadbf6"/><stop offset="0.1813" stop-color="#ffffff"/><stop offset="0.1891" stop-color="#f8dfd4"/><stop offset="0.1969" stop-color="#e78963"/><stop offset="0.2124" stop-color="#db5d1e"/><stop offset="0.2358" stop-color="#dd6230"/><stop offset="0.2435" stop-color="#f0b9a2"/><stop offset="0.2513" stop-color="#cceafa"/><stop offset="0.2591" stop-color="#50afed"/><stop offset="0.2668" stop-color="#4daeed"/><stop offset="0.2902" stop-color="#e2f3fc"/><stop offset="0.3057" stop-color="#ffffff"/><stop offset="0.7021" stop-color="#ffffff"/><stop offset="0.7254" stop-color="#73c1f0"/><stop offset="0.7332" stop-color="#7ec6f1"/><stop offset="0.7487" stop-color="#ffffff"/><stop offset="0.7565" stop-color="#efb79f"/><stop offset="0.7642" stop-color="#eca88b"/><stop offset="0.7798" stop-color="#ffffff"/><stop offset="0.7953" stop-color="#b8e1f7"/><stop offset="0.8031" stop-color="#ecf7fd"/><stop offset="0.8109" stop-color="#fdf6f3"/><stop offset="0.8342" stop-color="#efb49b"/><stop offset="0.8653" stop-color="#ffffff"/><stop offset="0.8731" stop-color="#ffffff"/><stop offset="0.8886" stop-color="#e4f4fc"/><stop offset="0.9663" stop-color="#f4fbfe"/><stop offset="0.9741" stop-color="#ffffff"/><stop offset="0.9974" stop-color="#ffffff"/></linearGradient><linearGradient id="fb77" gradientUnits="userSpaceOnUse" x1="552.5" x2="938.5" y1="0" y2="0"><stop offset="0.002591" stop-color="#def2fb"/><stop offset="0.04145" stop-color="#ffffff"/><stop offset="0.06477" stop-color="#ffffff"/><stop offset="0.1503" stop-color="#aadbf6"/><stop offset="0.1813" stop-color="#ffffff"/><stop offset="0.1891" stop-color="#f8dfd4"/><stop offset="0.1969" stop-color="#e8906c"/><stop offset="0.2124" stop-color="#d9551e"/><stop offset="0.2358" stop-color="#de6534"/><stop offset="0.2435" stop-color="#f0b9a1"/><stop offset="0.2513" stop-color="#cceafa"/><stop offset="0.2591" stop-color="#50afed"/><stop offset="0.2668" stop-color="#4daeed"/><stop offset="0.2902" stop-color="#e2f3fc"/><stop offset="0.3057" stop-color="#ffffff"/><stop offset="0.7021" stop-color="#ffffff"/><stop offset="0.7254" stop-color="#73c1f0"/><stop offset="0.7332" stop-color="#7ec6f1"/><stop offset="0.7487" stop-color="#ffffff"/><stop offset="0.7565" stop-color="#f0bba4"/><stop offset="0.7642" stop-color="#eeae93"/><stop offset="0.7798" stop-color="#ffffff"/><stop offset="0.7953" stop-color="#b8e1f7"/><stop offset="0.8031" stop-color="#ecf7fd"/><stop offset="0.8109" stop-color="#fdf6f3"/><stop offset="0.8342" stop-color="#efb59c"/><stop offset="0.8653" stop-color="#ffffff"/><stop offset="0.8731" stop-color="#ffffff"/><stop offset="0.8886" stop-color="#e4f4fc"/><stop offset="0.9663" stop-color="#f4fbfe"/><stop offset="0.9741" stop-color="#ffffff"/><stop offset="0.9974" stop-color="#ffffff"/></linearGradient><linearGradient id="fb78" gradientUnits="userSpaceOnUse" x1="552.5" x2="938.5" y1="0" y2="0"><stop offset="0.002591" stop-color="#dcf1fb"/><stop offset="0.06477" stop-color="#f3fafe"/><stop offset="0.1503" stop-color="#b2dff7"/><stop offset="0.1813" stop-color="#ffffff"/><stop offset="0.1891" stop-color="#fdf5f1"/><stop offset="0.2047" stop-color="#e3774c"/><stop offset="0.228" stop-color="#da591e"/><stop offset="0.2358" stop-color="#df6839"/><stop offset="0.2435" stop-color="#efb9a1"/><stop offset="0.2513" stop-color="#d1ecfa"/><stop offset="0.2591" stop-color="#50afed"/><stop offset="0.2668" stop-color="#4daeed"/><stop offset="0.2902" stop-color="#e6f5fc"/><stop offset="0.2979" stop-color="#ffffff"/><stop offset="0.7021" stop-color="#ffffff"/><stop offset="0.7254" stop-color="#73c1f0"/><stop offset="0.7332" stop-color="#7fc6f1"/><stop offset="0.7487" stop-color="#ffffff"/><stop offset="0.7642" stop-color="#f3c9b6"/><stop offset="0.7798" stop-color="#ffffff"/><stop offset="0.7953" stop-color="#c4e7f9"/><stop offset="0.8031" stop-color="#ffffff"/><stop offset="0.8109" stop-color="#fcf2ed"/><stop offset="0.8342" stop-color="#efb8a0"/><stop offset="0.8653" stop-color="#ffffff"/><stop offset="0.8731" stop-color="#ffffff"/><stop offset="0.8886" stop-color="#e3f4fc"/><stop offset="0.9585" stop-color="#f4fafe"/><stop offset="0.9663" stop-color="#ffffff"/><stop offset="0.9974" stop-color="#ffffff"/></linearGradient><linearGradient id="fb79" gradientUnits="userSpaceOnUse" x1="552.5" x2="938.5" y1="0" y2="0"><stop offset="0.002591" stop-color="#daf0fb"/><stop offset="0.07254" stop-color="#ebf7fd"/><stop offset="0.158" stop-color="#cceafa"/><stop offset="0.1813" stop-color="#ffffff"/><stop offset="0.1891" stop-color="#ffffff"/><stop offset="0.2047" stop-color="#e78862"/><stop offset="0.228" stop-color="#d9551f"/><stop offset="0.2358" stop-color="#e06d3f"/><stop offset="0.2513" stop-color="#ddf1fb"/><stop offset="0.2591" stop-color="#65b9ef"/><stop offset="0.2668" stop-color="#63b8ee"/><stop offset="0.2824" stop-color="#d4edfa"/><stop offset="0.2979" stop-color="#ffffff"/><stop offset="0.7021" stop-color="#ffffff"/><stop offset="0.7254" stop-color="#84c9f1"/><stop offset="0.7332" stop-color="#8ccdf2"/><stop offset="0.7487" stop-color="#ffffff"/><stop offset="0.7642" stop-color="#fae6dd"/><stop offset="0.772" stop-color="#ffffff"/><stop offset="0.7798" stop-color="#ffffff"/><stop offset="0.7953" stop-color="#dff2fb"/><stop offset="0.8031" stop-color="#ffffff"/><stop offset="0.8342" stop-color="#f0bca5"/><stop offset="0.8653" stop-color="#ffffff"/><stop offset="0.8731" stop-color="#ffffff"/><stop offset="0.8886" stop-color="#e1f3fc"/><stop offset="0.943" stop-color="#f4fbfe"/><stop offset="0.9508" stop-color="#ffffff"/><stop offset="0.9974" stop-color="#ffffff"/></linearGradient><linearGradient id="fb80" gradientUnits="userSpaceOnUse" x1="552.5" x2="938.5" y1="0" y2="0"><stop offset="0.002591" stop-color="#d8effb"/><stop offset="0.09585" stop-color="#e2f3fc"/><stop offset="0.1658" stop-color="#e1f3fc"/><stop offset="0.1813" stop-color="#ffffff"/><stop offset="0.1891" stop-color="#ffffff"/><stop offset="0.2124" stop-color="#e37a50"/><stop offset="0.228" stop-color="#db5c29"/><stop offset="0.2358" stop-color="#e27347"/><stop offset="0.2513" stop-color="#ebf7fd"/><stop offset="0.2591" stop-color="#7fc6f1"/><stop offset="0.2668" stop-color="#7ec6f1"/><stop offset="0.2824" stop-color="#e1f3fc"/><stop offset="0.2902" stop-color="#ffffff"/><stop offset="0.7021" stop-color="#ffffff"/><stop offset="0.7254" stop-color="#98d3f3"/><stop offset="0.7565" stop-color="#ffffff"/><stop offset="0.8031" stop-color="#ffffff"/><stop offset="0.8342" stop-color="#f1bfa9"/><stop offset="0.8653" stop-color="#ffffff"/><stop offset="0.8731" stop-color="#ffffff"/><stop offset="0.8964" stop-color="#ddf1fb"/><stop offset="0.9275" stop-color="#ffffff"/><stop offset="0.9974" stop-color="#ffffff"/></linearGradient><linearGradient id="fb81" gradientUnits="userSpaceOnUse" x1="552.5" x2="938.5" y1="0" y2="0"><stop offset="0.002591" stop-color="#d6eefb"/><stop offset="0.1813" stop-color="#f6fbfe"/><stop offset="0.1891" stop-color="#ffffff"/><stop offset="0.1969" stop-color="#ffffff"/><stop offset="0.2124" stop-color="#e57f57"/><stop offset="0.228" stop-color="#db5c29"/><stop offset="0.2358" stop-color="#e27549"/><stop offset="0.2513" stop-color="#ffffff"/><stop offset="0.2591" stop-color="#9ed5f4"/><stop offset="0.2668" stop-color="#9ed6f4"/><stop offset="0.2824" stop-color="#f4fafe"/><stop offset="0.2902" stop-color="#ffffff"/><stop offset="0.6943" stop-color="#ffffff"/><stop offset="0.7332" stop-color="#b2dff7"/><stop offset="0.7642" stop-color="#ffffff"/><stop offset="0.7953" stop-color="#ffffff"/><stop offset="0.8031" stop-color="#fdf7f5"/><stop offset="0.842" stop-color="#f1c2ac"/><stop offset="0.8653" stop-color="#ffffff"/><stop offset="0.8731" stop-color="#ffffff"/><stop offset="0.8964" stop-color="#daf0fb"/><stop offset="0.9275" stop-color="#ffffff"/><stop offset="0.9974" stop-color="#ffffff"/></linearGradient><clipPath id="fbc1_4"><path d="M553.5 395.4 L559.5 394.9 L565.5 394.6 L571.5 394.3 L577.5 394.2 L583.5 394.1 L589.5 394 L595.5 394 L601.5 394 L607.5 394.3 L613.5 394.8 L619.5 395.3 L625.5 395.4 L631.5 385.8 L637.5 375.2 L643.5 378.9 L649.5 394.9 L655.5 401 L661.5 395.4 L667.5 393.6 L673.5 393.4 L679.5 393.4 L685.5 393.4 L691.5 393.4 L697.5 393.4 L703.5 393.4 L709.5 393.4 L715.5 393.5 L721.5 393.5 L727.5 393.5 L733.5 393.6 L739.5 393.6 L745.5 393.6 L751.5 393.7 L757.5 393.7 L763.5 393.8 L769.5 393.9 L775.5 394 L781.5 394 L787.5 394.1 L793.5 394.2 L799.5 394.3 L805.5 394.5 L811.5 394.6 L817.5 394.7 L823.5 395.8 L829.5 399.2 L835.5 400.3 L841.5 397.6 L847.5 395.2 L853.5 393.7 L859.5 392.1 L865.5 390 L871.5 387.8 L877.5 387.1 L883.5 390.7 L889.5 394.4 L895.5 397.4 L901.5 397.1 L907.5 395.4 L913.5 394.8 L919.5 394.5 L925.5 394.3 L931.5 394.2 L937.5 394.1 L937.5 394.1 L937.5 457.7 L931.5 457.9 L925.5 458.3 L919.5 458.9 L913.5 459.6 L907.5 460.5 L901.5 462.3 L895.5 463.9 L889.5 463 L883.5 460.5 L877.5 458.5 L871.5 460.1 L865.5 463.5 L859.5 466 L853.5 449.3 L847.5 435.8 L841.5 450.4 L835.5 468.9 L829.5 472.2 L823.5 465.7 L817.5 461.4 L811.5 461.2 L805.5 461.1 L799.5 461 L793.5 460.9 L787.5 460.9 L781.5 460.8 L775.5 460.8 L769.5 460.7 L763.5 460.7 L757.5 460.6 L751.5 460.6 L745.5 460.6 L739.5 460.6 L733.5 460.5 L727.5 460.5 L721.5 460.5 L715.5 460.5 L709.5 460.5 L703.5 460.5 L697.5 460.5 L691.5 460.5 L685.5 460.5 L679.5 460.7 L673.5 461.2 L667.5 461.9 L661.5 469 L655.5 484.5 L649.5 470.6 L643.5 432.8 L637.5 419.6 L631.5 431.1 L625.5 448.8 L619.5 462.9 L613.5 465.2 L607.5 463.6 L601.5 462.2 L595.5 461.7 L589.5 461.4 L583.5 461.1 L577.5 460.9 L571.5 460.7 L565.5 460.6 L559.5 460.5 L553.5 460.5 L553.5 460.5 Z"/></clipPath><linearGradient id="fb82" gradientUnits="userSpaceOnUse" x1="552.5" x2="938.5" y1="0" y2="0"><stop offset="0.002591" stop-color="#d5eefb"/><stop offset="0.1813" stop-color="#f5fbfe"/><stop offset="0.1891" stop-color="#ffffff"/><stop offset="0.1969" stop-color="#ffffff"/><stop offset="0.2124" stop-color="#e2774c"/><stop offset="0.2202" stop-color="#d9551e"/><stop offset="0.2358" stop-color="#e06e40"/><stop offset="0.2513" stop-color="#ffffff"/><stop offset="0.2591" stop-color="#b0def7"/><stop offset="0.2746" stop-color="#def1fb"/><stop offset="0.2824" stop-color="#ffffff"/><stop offset="0.6943" stop-color="#ffffff"/><stop offset="0.7332" stop-color="#bbe3f8"/><stop offset="0.7642" stop-color="#ffffff"/><stop offset="0.7953" stop-color="#ffffff"/><stop offset="0.8031" stop-color="#fdf7f5"/><stop offset="0.842" stop-color="#f1c2ac"/><stop offset="0.8653" stop-color="#ffffff"/><stop offset="0.8731" stop-color="#ffffff"/><stop offset="0.8964" stop-color="#d9f0fb"/><stop offset="0.9197" stop-color="#ffffff"/><stop offset="0.9974" stop-color="#ffffff"/></linearGradient><linearGradient id="fb83" gradientUnits="userSpaceOnUse" x1="552.5" x2="938.5" y1="0" y2="0"><stop offset="0.002591" stop-color="#d7effb"/><stop offset="0.1736" stop-color="#eff9fd"/><stop offset="0.1813" stop-color="#ffffff"/><stop offset="0.1891" stop-color="#ffffff"/><stop offset="0.2047" stop-color="#e17043"/><stop offset="0.2202" stop-color="#e06f1e"/><stop offset="0.2358" stop-color="#db5b28"/><stop offset="0.2513" stop-color="#f3fafe"/><stop offset="0.2591" stop-color="#afddf6"/><stop offset="0.2902" stop-color="#ffffff"/><stop offset="0.6943" stop-color="#ffffff"/><stop offset="0.7332" stop-color="#bbe3f8"/><stop offset="0.7565" stop-color="#ffffff"/><stop offset="0.7642" stop-color="#fdf6f3"/><stop offset="0.772" stop-color="#ffffff"/><stop offset="0.8031" stop-color="#ffffff"/><stop offset="0.842" stop-color="#f4ccba"/><stop offset="0.8575" stop-color="#fdf7f4"/><stop offset="0.8653" stop-color="#ffffff"/><stop offset="0.8731" stop-color="#ffffff"/><stop offset="0.8964" stop-color="#daf0fb"/><stop offset="0.9197" stop-color="#ffffff"/><stop offset="0.9974" stop-color="#ffffff"/></linearGradient><linearGradient id="fb84" gradientUnits="userSpaceOnUse" x1="552.5" x2="938.5" y1="0" y2="0"><stop offset="0.002591" stop-color="#ddf1fb"/><stop offset="0.1658" stop-color="#ddf1fb"/><stop offset="0.1813" stop-color="#ffffff"/><stop offset="0.1891" stop-color="#f7d8ca"/><stop offset="0.1969" stop-color="#e57f57"/><stop offset="0.2047" stop-color="#db5a1e"/><stop offset="0.2202" stop-color="#e8901c"/><stop offset="0.2358" stop-color="#db5b1e"/><stop offset="0.2513" stop-color="#d8effb"/><stop offset="0.2591" stop-color="#7fc7f1"/><stop offset="0.2668" stop-color="#81c7f1"/><stop offset="0.2902" stop-color="#ffffff"/><stop offset="0.6943" stop-color="#ffffff"/><stop offset="0.7254" stop-color="#a1d7f5"/><stop offset="0.7487" stop-color="#ffffff"/><stop offset="0.7565" stop-color="#ea9a7a"/><stop offset="0.7642" stop-color="#e2754a"/><stop offset="0.7876" stop-color="#ffffff"/><stop offset="0.8187" stop-color="#ffffff"/><stop offset="0.8342" stop-color="#f7dacc"/><stop offset="0.8497" stop-color="#fae8df"/><stop offset="0.8575" stop-color="#ffffff"/><stop offset="0.8731" stop-color="#ffffff"/><stop offset="0.8886" stop-color="#def2fb"/><stop offset="0.9197" stop-color="#ffffff"/><stop offset="0.9974" stop-color="#ffffff"/></linearGradient><linearGradient id="fb85" gradientUnits="userSpaceOnUse" x1="552.5" x2="938.5" y1="0" y2="0"><stop offset="0.002591" stop-color="#e2f3fc"/><stop offset="0.1658" stop-color="#d4edfa"/><stop offset="0.1813" stop-color="#fdf7f3"/><stop offset="0.1969" stop-color="#db5b27"/><stop offset="0.228" stop-color="#e6891d"/><stop offset="0.2358" stop-color="#dd641e"/><stop offset="0.2435" stop-color="#edab8f"/><stop offset="0.2513" stop-color="#c0e5f8"/><stop offset="0.2591" stop-color="#5ab4ee"/><stop offset="0.2668" stop-color="#5cb5ee"/><stop offset="0.2902" stop-color="#f0f9fd"/><stop offset="0.2979" stop-color="#ffffff"/><stop offset="0.6865" stop-color="#ffffff"/><stop offset="0.7021" stop-color="#daf0fb"/><stop offset="0.7254" stop-color="#8accf2"/><stop offset="0.7332" stop-color="#aeddf6"/><stop offset="0.7409" stop-color="#ffffff"/><stop offset="0.7565" stop-color="#dc5e2b"/><stop offset="0.772" stop-color="#dd6332"/><stop offset="0.7876" stop-color="#ffffff"/><stop offset="0.7953" stop-color="#e6f5fc"/><stop offset="0.8109" stop-color="#ffffff"/><stop offset="0.8264" stop-color="#ffffff"/><stop offset="0.842" stop-color="#fae9e1"/><stop offset="0.8575" stop-color="#ffffff"/><stop offset="0.8653" stop-color="#ffffff"/><stop offset="0.8886" stop-color="#dff2fc"/><stop offset="0.9119" stop-color="#ffffff"/><stop offset="0.9974" stop-color="#ffffff"/></linearGradient><linearGradient id="fb86" gradientUnits="userSpaceOnUse" x1="552.5" x2="938.5" y1="0" y2="0"><stop offset="0.002591" stop-color="#eaf6fd"/><stop offset="0.1658" stop-color="#cae9fa"/><stop offset="0.1736" stop-color="#e7f5fc"/><stop offset="0.1813" stop-color="#f7dbcd"/><stop offset="0.1969" stop-color="#da5925"/><stop offset="0.228" stop-color="#e6891d"/><stop offset="0.2358" stop-color="#dd641e"/><stop offset="0.2435" stop-color="#eca88b"/><stop offset="0.2513" stop-color="#a1d7f5"/><stop offset="0.2591" stop-color="#3aa1eb"/><stop offset="0.2668" stop-color="#3ba2eb"/><stop offset="0.2902" stop-color="#e7f5fc"/><stop offset="0.2979" stop-color="#ffffff"/><stop offset="0.6865" stop-color="#ffffff"/><stop offset="0.7098" stop-color="#b2dff7"/><stop offset="0.7254" stop-color="#79c4f0"/><stop offset="0.7409" stop-color="#ffffff"/><stop offset="0.7487" stop-color="#ea9876"/><stop offset="0.7565" stop-color="#db5a27"/><stop offset="0.772" stop-color="#dc5f2c"/><stop offset="0.7798" stop-color="#e88c67"/><stop offset="0.7876" stop-color="#ffffff"/><stop offset="0.7953" stop-color="#d3edfa"/><stop offset="0.8187" stop-color="#ffffff"/><stop offset="0.8653" stop-color="#ffffff"/><stop offset="0.8886" stop-color="#e1f3fc"/><stop offset="0.9119" stop-color="#ffffff"/><stop offset="0.9663" stop-color="#ffffff"/><stop offset="0.9974" stop-color="#fcf1ec"/></linearGradient><linearGradient id="fb87" gradientUnits="userSpaceOnUse" x1="552.5" x2="938.5" y1="0" y2="0"><stop offset="0.002591" stop-color="#ebf7fd"/><stop offset="0.1658" stop-color="#c6e8f9"/><stop offset="0.1736" stop-color="#e6f5fc"/><stop offset="0.1813" stop-color="#f7dbcd"/><stop offset="0.1969" stop-color="#da5925"/><stop offset="0.228" stop-color="#e6891d"/><stop offset="0.2358" stop-color="#dd641e"/><stop offset="0.2435" stop-color="#eca88b"/><stop offset="0.2513" stop-color="#8ccdf2"/><stop offset="0.2591" stop-color="#318ced"/><stop offset="0.2746" stop-color="#58b3ed"/><stop offset="0.2902" stop-color="#e4f4fc"/><stop offset="0.2979" stop-color="#ffffff"/><stop offset="0.6865" stop-color="#ffffff"/><stop offset="0.7021" stop-color="#cdebfa"/><stop offset="0.7254" stop-color="#6abcef"/><stop offset="0.7409" stop-color="#ffffff"/><stop offset="0.7487" stop-color="#ea9876"/><stop offset="0.7565" stop-color="#db5a27"/><stop offset="0.772" stop-color="#dc5f2c"/><stop offset="0.7798" stop-color="#e88c67"/><stop offset="0.7876" stop-color="#ffffff"/><stop offset="0.7953" stop-color="#cae9fa"/><stop offset="0.8187" stop-color="#ffffff"/><stop offset="0.8653" stop-color="#ffffff"/><stop offset="0.8886" stop-color="#e1f3fc"/><stop offset="0.9041" stop-color="#ffffff"/><stop offset="0.9663" stop-color="#ffffff"/><stop offset="0.9974" stop-color="#fcf1eb"/></linearGradient><clipPath id="fbc1_5"><path d="M553.5 460.5 L559.5 460.5 L565.5 460.6 L571.5 460.7 L577.5 460.9 L583.5 461.1 L589.5 461.4 L595.5 461.7 L601.5 462.2 L607.5 463.6 L613.5 465.2 L619.5 462.9 L625.5 448.8 L631.5 431.1 L637.5 419.6 L643.5 432.8 L649.5 470.6 L655.5 484.5 L661.5 469 L667.5 461.9 L673.5 461.2 L679.5 460.7 L685.5 460.5 L691.5 460.5 L697.5 460.5 L703.5 460.5 L709.5 460.5 L715.5 460.5 L721.5 460.5 L727.5 460.5 L733.5 460.5 L739.5 460.6 L745.5 460.6 L751.5 460.6 L757.5 460.6 L763.5 460.7 L769.5 460.7 L775.5 460.8 L781.5 460.8 L787.5 460.9 L793.5 460.9 L799.5 461 L805.5 461.1 L811.5 461.2 L817.5 461.4 L823.5 465.7 L829.5 472.2 L835.5 468.9 L841.5 450.4 L847.5 435.8 L853.5 449.3 L859.5 466 L865.5 463.5 L871.5 460.1 L877.5 458.5 L883.5 460.5 L889.5 463 L895.5 463.9 L901.5 462.3 L907.5 460.5 L913.5 459.6 L919.5 458.9 L925.5 458.3 L931.5 457.9 L937.5 457.7 L937.5 457.7 L937.5 526.6 L931.5 526.6 L925.5 526.7 L919.5 526.8 L913.5 526.9 L907.5 527.2 L901.5 528.5 L895.5 529.4 L889.5 527.5 L883.5 524.2 L877.5 520.7 L871.5 520.5 L865.5 521.9 L859.5 524.4 L853.5 528.1 L847.5 532.7 L841.5 539.6 L835.5 539 L829.5 533.6 L823.5 528.2 L817.5 528 L811.5 528 L805.5 528 L799.5 528 L793.5 528 L787.5 528 L781.5 528 L775.5 528 L769.5 528 L763.5 528 L757.5 528 L751.5 528 L745.5 528 L739.5 528 L733.5 528 L727.5 528 L721.5 528 L715.5 528 L709.5 528 L703.5 528 L697.5 528 L691.5 528 L685.5 528 L679.5 528 L673.5 528 L667.5 528 L661.5 528 L655.5 523.1 L649.5 515.2 L643.5 515.2 L637.5 519.4 L631.5 532.7 L625.5 534.5 L619.5 532.6 L613.5 530.6 L607.5 529.8 L601.5 529.4 L595.5 529.1 L589.5 528.8 L583.5 528.6 L577.5 528.4 L571.5 528.2 L565.5 528.1 L559.5 528 L553.5 528 L553.5 528 Z"/></clipPath><linearGradient id="fb88" gradientUnits="userSpaceOnUse" x1="552.5" x2="938.5" y1="0" y2="0"><stop offset="0.002591" stop-color="#ebf7fd"/><stop offset="0.1658" stop-color="#c6e8f9"/><stop offset="0.1736" stop-color="#e6f5fc"/><stop offset="0.1813" stop-color="#f7dbcd"/><stop offset="0.1969" stop-color="#da5925"/><stop offset="0.228" stop-color="#e4811d"/><stop offset="0.2358" stop-color="#dd641e"/><stop offset="0.2435" stop-color="#eca88b"/><stop offset="0.2513" stop-color="#8ccdf2"/><stop offset="0.2591" stop-color="#2c82ee"/><stop offset="0.2668" stop-color="#2d84ee"/><stop offset="0.2902" stop-color="#e4f4fc"/><stop offset="0.2979" stop-color="#ffffff"/><stop offset="0.6865" stop-color="#ffffff"/><stop offset="0.7021" stop-color="#cdebfa"/><stop offset="0.7254" stop-color="#6abcef"/><stop offset="0.7409" stop-color="#ffffff"/><stop offset="0.7487" stop-color="#ea9876"/><stop offset="0.7565" stop-color="#db5a27"/><stop offset="0.772" stop-color="#dc5f2c"/><stop offset="0.7798" stop-color="#e88c67"/><stop offset="0.7876" stop-color="#ffffff"/><stop offset="0.7953" stop-color="#cae9fa"/><stop offset="0.8187" stop-color="#ffffff"/><stop offset="0.8653" stop-color="#ffffff"/><stop offset="0.8886" stop-color="#e1f3fc"/><stop offset="0.9041" stop-color="#ffffff"/><stop offset="0.9663" stop-color="#ffffff"/><stop offset="0.9974" stop-color="#fcf1eb"/></linearGradient><linearGradient id="fb89" gradientUnits="userSpaceOnUse" x1="552.5" x2="938.5" y1="0" y2="0"><stop offset="0.002591" stop-color="#ebf7fd"/><stop offset="0.1658" stop-color="#c6e8f9"/><stop offset="0.1736" stop-color="#e6f5fc"/><stop offset="0.1813" stop-color="#f7dbcd"/><stop offset="0.1891" stop-color="#e78963"/><stop offset="0.2047" stop-color="#db5b1e"/><stop offset="0.2358" stop-color="#db5e1e"/><stop offset="0.2435" stop-color="#eca88b"/><stop offset="0.2513" stop-color="#8ccdf2"/><stop offset="0.2591" stop-color="#2c82ee"/><stop offset="0.2668" stop-color="#2d84ee"/><stop offset="0.2902" stop-color="#e4f4fc"/><stop offset="0.2979" stop-color="#ffffff"/><stop offset="0.6865" stop-color="#ffffff"/><stop offset="0.7021" stop-color="#cdebfa"/><stop offset="0.7254" stop-color="#6abcef"/><stop offset="0.7409" stop-color="#ffffff"/><stop offset="0.7487" stop-color="#ea9876"/><stop offset="0.7565" stop-color="#dd612f"/><stop offset="0.772" stop-color="#dd6332"/><stop offset="0.7798" stop-color="#e88c67"/><stop offset="0.7876" stop-color="#ffffff"/><stop offset="0.7953" stop-color="#cae9fa"/><stop offset="0.8187" stop-color="#ffffff"/><stop offset="0.8653" stop-color="#ffffff"/><stop offset="0.8886" stop-color="#e1f3fc"/><stop offset="0.9041" stop-color="#ffffff"/><stop offset="0.9663" stop-color="#ffffff"/><stop offset="0.9974" stop-color="#fcf1eb"/></linearGradient><linearGradient id="fb90" gradientUnits="userSpaceOnUse" x1="552.5" x2="938.5" y1="0" y2="0"><stop offset="0.002591" stop-color="#ebf7fd"/><stop offset="0.1658" stop-color="#c6e8f9"/><stop offset="0.1736" stop-color="#e6f5fc"/><stop offset="0.1813" stop-color="#fae7df"/><stop offset="0.1969" stop-color="#e3794f"/><stop offset="0.2202" stop-color="#dc621e"/><stop offset="0.2358" stop-color="#d9551e"/><stop offset="0.2435" stop-color="#eba081"/><stop offset="0.2513" stop-color="#8ccdf2"/><stop offset="0.2591" stop-color="#2c82ee"/><stop offset="0.2668" stop-color="#2d84ee"/><stop offset="0.2902" stop-color="#e4f4fc"/><stop offset="0.2979" stop-color="#ffffff"/><stop offset="0.6865" stop-color="#ffffff"/><stop offset="0.7021" stop-color="#cdebfa"/><stop offset="0.7254" stop-color="#6abcef"/><stop offset="0.7409" stop-color="#ffffff"/><stop offset="0.7565" stop-color="#e47b52"/><stop offset="0.772" stop-color="#e3794f"/><stop offset="0.7798" stop-color="#eba182"/><stop offset="0.7876" stop-color="#ffffff"/><stop offset="0.7953" stop-color="#cae9fa"/><stop offset="0.8187" stop-color="#ffffff"/><stop offset="0.8342" stop-color="#ffffff"/><stop offset="0.842" stop-color="#fdf7f4"/><stop offset="0.8497" stop-color="#ffffff"/><stop offset="0.8653" stop-color="#ffffff"/><stop offset="0.8886" stop-color="#e1f3fc"/><stop offset="0.9041" stop-color="#ffffff"/><stop offset="0.9663" stop-color="#ffffff"/><stop offset="0.9974" stop-color="#fcf2ee"/></linearGradient><linearGradient id="fb91" gradientUnits="userSpaceOnUse" x1="552.5" x2="938.5" y1="0" y2="0"><stop offset="0.002591" stop-color="#edf8fd"/><stop offset="0.1658" stop-color="#c9e9fa"/><stop offset="0.1813" stop-color="#ffffff"/><stop offset="0.2124" stop-color="#de6535"/><stop offset="0.2358" stop-color="#dc5f2d"/><stop offset="0.2435" stop-color="#e99370"/><stop offset="0.2513" stop-color="#cdebfa"/><stop offset="0.2591" stop-color="#2c82ee"/><stop offset="0.2668" stop-color="#2d84ee"/><stop offset="0.2902" stop-color="#eff9fd"/><stop offset="0.2979" stop-color="#ffffff"/><stop offset="0.6943" stop-color="#ffffff"/><stop offset="0.7254" stop-color="#6fbfef"/><stop offset="0.7409" stop-color="#eef8fd"/><stop offset="0.7487" stop-color="#fcf0eb"/><stop offset="0.7565" stop-color="#eda98d"/><stop offset="0.7642" stop-color="#e88c67"/><stop offset="0.7798" stop-color="#f0bea7"/><stop offset="0.7876" stop-color="#ffffff"/><stop offset="0.7953" stop-color="#e2f3fc"/><stop offset="0.8109" stop-color="#ffffff"/><stop offset="0.8187" stop-color="#ffffff"/><stop offset="0.842" stop-color="#f8e0d4"/><stop offset="0.8575" stop-color="#ffffff"/><stop offset="0.8731" stop-color="#ffffff"/><stop offset="0.8808" stop-color="#e8f5fc"/><stop offset="0.9041" stop-color="#ffffff"/><stop offset="0.9974" stop-color="#ffffff"/></linearGradient><linearGradient id="fb92" gradientUnits="userSpaceOnUse" x1="552.5" x2="938.5" y1="0" y2="0"><stop offset="0.002591" stop-color="#eff9fd"/><stop offset="0.1736" stop-color="#daf0fb"/><stop offset="0.1813" stop-color="#ffffff"/><stop offset="0.1891" stop-color="#ffffff"/><stop offset="0.2202" stop-color="#e06e40"/><stop offset="0.2358" stop-color="#e06c3e"/><stop offset="0.2435" stop-color="#e78964"/><stop offset="0.2513" stop-color="#f9e3d8"/><stop offset="0.2591" stop-color="#88cbf2"/><stop offset="0.2668" stop-color="#61b8ee"/><stop offset="0.2902" stop-color="#ffffff"/><stop offset="0.6943" stop-color="#ffffff"/><stop offset="0.7098" stop-color="#cae9fa"/><stop offset="0.7254" stop-color="#7ec6f1"/><stop offset="0.7487" stop-color="#ffffff"/><stop offset="0.7642" stop-color="#f3c7b3"/><stop offset="0.7798" stop-color="#f7dacd"/><stop offset="0.7876" stop-color="#ffffff"/><stop offset="0.8109" stop-color="#ffffff"/><stop offset="0.8342" stop-color="#f4ccba"/><stop offset="0.8497" stop-color="#f8dfd3"/><stop offset="0.8575" stop-color="#ffffff"/><stop offset="0.8731" stop-color="#ffffff"/><stop offset="0.8886" stop-color="#eef8fd"/><stop offset="0.9041" stop-color="#ffffff"/><stop offset="0.9974" stop-color="#ffffff"/></linearGradient><linearGradient id="fb93" gradientUnits="userSpaceOnUse" x1="552.5" x2="938.5" y1="0" y2="0"><stop offset="0.002591" stop-color="#f1f9fd"/><stop offset="0.1813" stop-color="#e1f3fc"/><stop offset="0.1969" stop-color="#ffffff"/><stop offset="0.2047" stop-color="#ffffff"/><stop offset="0.2202" stop-color="#ea9877"/><stop offset="0.2435" stop-color="#e5825a"/><stop offset="0.2591" stop-color="#eca486"/><stop offset="0.2668" stop-color="#ffffff"/><stop offset="0.2746" stop-color="#dbf0fb"/><stop offset="0.2824" stop-color="#f4fbfe"/><stop offset="0.2902" stop-color="#ffffff"/><stop offset="0.7021" stop-color="#ffffff"/><stop offset="0.7254" stop-color="#8ccdf2"/><stop offset="0.7487" stop-color="#c9e9f9"/><stop offset="0.7565" stop-color="#ffffff"/><stop offset="0.7953" stop-color="#ffffff"/><stop offset="0.8187" stop-color="#f3c7b3"/><stop offset="0.842" stop-color="#f1bfa8"/><stop offset="0.8653" stop-color="#ffffff"/><stop offset="0.8808" stop-color="#ffffff"/><stop offset="0.8886" stop-color="#f6fbfe"/><stop offset="0.8964" stop-color="#ffffff"/><stop offset="0.9974" stop-color="#ffffff"/></linearGradient><linearGradient id="fb94" gradientUnits="userSpaceOnUse" x1="552.5" x2="938.5" y1="0" y2="0"><stop offset="0.002591" stop-color="#f3fafe"/><stop offset="0.1736" stop-color="#cfecfa"/><stop offset="0.2047" stop-color="#d4edfa"/><stop offset="0.2124" stop-color="#fcf2ed"/><stop offset="0.2202" stop-color="#eda98d"/><stop offset="0.228" stop-color="#e5835b"/><stop offset="0.2591" stop-color="#e88c67"/><stop offset="0.2746" stop-color="#ffffff"/><stop offset="0.7021" stop-color="#ffffff"/><stop offset="0.7176" stop-color="#c7e8f9"/><stop offset="0.7409" stop-color="#80c7f1"/><stop offset="0.772" stop-color="#f0f9fd"/><stop offset="0.7798" stop-color="#ffffff"/><stop offset="0.7876" stop-color="#ffffff"/><stop offset="0.8187" stop-color="#f0bda7"/><stop offset="0.842" stop-color="#efb9a1"/><stop offset="0.8653" stop-color="#ffffff"/><stop offset="0.9974" stop-color="#ffffff"/></linearGradient><clipPath id="fbc1_6"><path d="M553.5 528 L559.5 528 L565.5 528.1 L571.5 528.2 L577.5 528.4 L583.5 528.6 L589.5 528.8 L595.5 529.1 L601.5 529.4 L607.5 529.8 L613.5 530.6 L619.5 532.6 L625.5 534.5 L631.5 532.7 L637.5 519.4 L643.5 515.2 L649.5 515.2 L655.5 523.1 L661.5 528 L667.5 528 L673.5 528 L679.5 528 L685.5 528 L691.5 528 L697.5 528 L703.5 528 L709.5 528 L715.5 528 L721.5 528 L727.5 528 L733.5 528 L739.5 528 L745.5 528 L751.5 528 L757.5 528 L763.5 528 L769.5 528 L775.5 528 L781.5 528 L787.5 528 L793.5 528 L799.5 528 L805.5 528 L811.5 528 L817.5 528 L823.5 528.2 L829.5 533.6 L835.5 539 L841.5 539.6 L847.5 532.7 L853.5 528.1 L859.5 524.4 L865.5 521.9 L871.5 520.5 L877.5 520.7 L883.5 524.2 L889.5 527.5 L895.5 529.4 L901.5 528.5 L907.5 527.2 L913.5 526.9 L919.5 526.8 L925.5 526.7 L931.5 526.6 L937.5 526.6 L937.5 526.6 L937.5 592.1 L931.5 592.5 L925.5 592.8 L919.5 593.1 L913.5 593.3 L907.5 593.5 L901.5 593.7 L895.5 593.8 L889.5 593.9 L883.5 593.9 L877.5 594 L871.5 594 L865.5 594 L859.5 594 L853.5 593.4 L847.5 591.2 L841.5 595.8 L835.5 597 L829.5 595 L823.5 595 L817.5 595 L811.5 594.9 L805.5 594.9 L799.5 594.9 L793.5 594.9 L787.5 594.9 L781.5 594.9 L775.5 594.9 L769.5 594.9 L763.5 594.8 L757.5 594.8 L751.5 594.8 L745.5 594.8 L739.5 594.8 L733.5 594.8 L727.5 594.8 L721.5 594.8 L715.5 594.8 L709.5 594.8 L703.5 594.8 L697.5 594.8 L691.5 594.8 L685.5 594.8 L679.5 594.8 L673.5 594.8 L667.5 594.8 L661.5 595.2 L655.5 596.2 L649.5 590.4 L643.5 586.3 L637.5 589.6 L631.5 594.6 L625.5 595 L619.5 595 L613.5 595 L607.5 595 L601.5 595 L595.5 595 L589.5 595 L583.5 595 L577.5 594.9 L571.5 594.9 L565.5 594.9 L559.5 594.8 L553.5 594.8 L553.5 594.8 Z"/></clipPath><linearGradient id="fb95" gradientUnits="userSpaceOnUse" x1="552.5" x2="938.5" y1="0" y2="0"><stop offset="0.002591" stop-color="#f3fafe"/><stop offset="0.1736" stop-color="#cfebfa"/><stop offset="0.1969" stop-color="#b6e1f7"/><stop offset="0.2124" stop-color="#fcf2ed"/><stop offset="0.2202" stop-color="#edab90"/><stop offset="0.228" stop-color="#e68660"/><stop offset="0.2591" stop-color="#e99573"/><stop offset="0.2746" stop-color="#ffffff"/><stop offset="0.7021" stop-color="#ffffff"/><stop offset="0.7254" stop-color="#a5d9f5"/><stop offset="0.7409" stop-color="#71c0f0"/><stop offset="0.772" stop-color="#f0f9fd"/><stop offset="0.7798" stop-color="#ffffff"/><stop offset="0.7876" stop-color="#ffffff"/><stop offset="0.8187" stop-color="#f1bfa9"/><stop offset="0.8497" stop-color="#f4ccba"/><stop offset="0.8653" stop-color="#ffffff"/><stop offset="0.9974" stop-color="#ffffff"/></linearGradient><linearGradient id="fb96" gradientUnits="userSpaceOnUse" x1="552.5" x2="938.5" y1="0" y2="0"><stop offset="0.002591" stop-color="#ffffff"/><stop offset="0.04145" stop-color="#ffffff"/><stop offset="0.06477" stop-color="#f3fafe"/><stop offset="0.1736" stop-color="#d5eefb"/><stop offset="0.1969" stop-color="#bee4f8"/><stop offset="0.2124" stop-color="#fcf2ed"/><stop offset="0.228" stop-color="#e88f6b"/><stop offset="0.2591" stop-color="#eeb095"/><stop offset="0.2668" stop-color="#fae7de"/><stop offset="0.2746" stop-color="#ffffff"/><stop offset="0.7021" stop-color="#ffffff"/><stop offset="0.7098" stop-color="#eff9fd"/><stop offset="0.7409" stop-color="#71c0f0"/><stop offset="0.7487" stop-color="#7dc5f1"/><stop offset="0.772" stop-color="#ffffff"/><stop offset="0.7876" stop-color="#ffffff"/><stop offset="0.8264" stop-color="#f3cab8"/><stop offset="0.8575" stop-color="#fbece5"/><stop offset="0.8653" stop-color="#ffffff"/><stop offset="0.9974" stop-color="#ffffff"/></linearGradient><linearGradient id="fb97" gradientUnits="userSpaceOnUse" x1="552.5" x2="938.5" y1="0" y2="0"><stop offset="0.002591" stop-color="#ffffff"/><stop offset="0.1036" stop-color="#ffffff"/><stop offset="0.1347" stop-color="#f0f9fd"/><stop offset="0.1736" stop-color="#e3f3fc"/><stop offset="0.2047" stop-color="#e6f5fc"/><stop offset="0.2124" stop-color="#fcf3ee"/><stop offset="0.228" stop-color="#ea9c7c"/><stop offset="0.2513" stop-color="#eeae93"/><stop offset="0.2668" stop-color="#ffffff"/><stop offset="0.7098" stop-color="#ffffff"/><stop offset="0.7409" stop-color="#8dcdf2"/><stop offset="0.7642" stop-color="#ffffff"/><stop offset="0.7953" stop-color="#ffffff"/><stop offset="0.8187" stop-color="#f8dfd3"/><stop offset="0.8497" stop-color="#fae8e0"/><stop offset="0.8653" stop-color="#ffffff"/><stop offset="0.9974" stop-color="#ffffff"/></linearGradient><linearGradient id="fb98" gradientUnits="userSpaceOnUse" x1="552.5" x2="938.5" y1="0" y2="0"><stop offset="0.002591" stop-color="#ffffff"/><stop offset="0.1658" stop-color="#ffffff"/><stop offset="0.1969" stop-color="#e9f6fd"/><stop offset="0.2047" stop-color="#ffffff"/><stop offset="0.2124" stop-color="#fcf3ef"/><stop offset="0.228" stop-color="#edaa8d"/><stop offset="0.2435" stop-color="#eeaf94"/><stop offset="0.2668" stop-color="#ffffff"/><stop offset="0.7098" stop-color="#ffffff"/><stop offset="0.7409" stop-color="#b5e0f7"/><stop offset="0.7565" stop-color="#ffffff"/><stop offset="0.8109" stop-color="#ffffff"/><stop offset="0.8342" stop-color="#fcf1ec"/><stop offset="0.8497" stop-color="#ffffff"/><stop offset="0.9974" stop-color="#ffffff"/></linearGradient><linearGradient id="fb99" gradientUnits="userSpaceOnUse" x1="552.5" x2="938.5" y1="0" y2="0"><stop offset="0.002591" stop-color="#ffffff"/><stop offset="0.2047" stop-color="#ffffff"/><stop offset="0.2124" stop-color="#fdf4f0"/><stop offset="0.2358" stop-color="#edaa8e"/><stop offset="0.2591" stop-color="#ffffff"/><stop offset="0.7254" stop-color="#ffffff"/><stop offset="0.7409" stop-color="#d8effb"/><stop offset="0.7565" stop-color="#ffffff"/><stop offset="0.7642" stop-color="#fae9e2"/><stop offset="0.7798" stop-color="#ffffff"/><stop offset="0.9819" stop-color="#ffffff"/><stop offset="0.9974" stop-color="#fdf3ef"/></linearGradient><clipPath id="fbc1_7"><path d="M553.5 594.8 L559.5 594.8 L565.5 594.9 L571.5 594.9 L577.5 594.9 L583.5 595 L589.5 595 L595.5 595 L601.5 595 L607.5 595 L613.5 595 L619.5 595 L625.5 595 L631.5 594.6 L637.5 589.6 L643.5 586.3 L649.5 590.4 L655.5 596.2 L661.5 595.2 L667.5 594.8 L673.5 594.8 L679.5 594.8 L685.5 594.8 L691.5 594.8 L697.5 594.8 L703.5 594.8 L709.5 594.8 L715.5 594.8 L721.5 594.8 L727.5 594.8 L733.5 594.8 L739.5 594.8 L745.5 594.8 L751.5 594.8 L757.5 594.8 L763.5 594.8 L769.5 594.9 L775.5 594.9 L781.5 594.9 L787.5 594.9 L793.5 594.9 L799.5 594.9 L805.5 594.9 L811.5 594.9 L817.5 595 L823.5 595 L829.5 595 L835.5 597 L841.5 595.8 L847.5 591.2 L853.5 593.4 L859.5 594 L865.5 594 L871.5 594 L877.5 594 L883.5 593.9 L889.5 593.9 L895.5 593.8 L901.5 593.7 L907.5 593.5 L913.5 593.3 L919.5 593.1 L925.5 592.8 L931.5 592.5 L937.5 592.1 L937.5 592.1 L937.5 657.6 L931.5 657.6 L925.5 657.7 L919.5 657.9 L913.5 658.1 L907.5 658.4 L901.5 658.7 L895.5 659.1 L889.5 659.5 L883.5 659.9 L877.5 660.4 L871.5 660.9 L865.5 661.8 L859.5 663.1 L853.5 661.9 L847.5 657.1 L841.5 655.4 L835.5 660.9 L829.5 661 L823.5 661 L817.5 661 L811.5 661 L805.5 661 L799.5 660.9 L793.5 660.9 L787.5 660.9 L781.5 660.9 L775.5 660.9 L769.5 660.8 L763.5 660.8 L757.5 660.8 L751.5 660.8 L745.5 660.7 L739.5 660.7 L733.5 660.7 L727.5 660.7 L721.5 660.6 L715.5 660.6 L709.5 660.6 L703.5 660.6 L697.5 660.5 L691.5 660.5 L685.5 660.5 L679.5 660.5 L673.5 660.5 L667.5 660.5 L661.5 660.9 L655.5 662 L649.5 661.7 L643.5 660.4 L637.5 657 L631.5 660.2 L625.5 660.5 L619.5 660.5 L613.5 660.5 L607.5 660.5 L601.5 660.5 L595.5 660.5 L589.5 660.5 L583.5 660.5 L577.5 660.5 L571.5 660.5 L565.5 660.5 L559.5 660.5 L553.5 660.5 L553.5 660.5 Z"/></clipPath><linearGradient id="fb100" gradientUnits="userSpaceOnUse" x1="552.5" x2="938.5" y1="0" y2="0"><stop offset="0.002591" stop-color="#ffffff"/><stop offset="0.2047" stop-color="#ffffff"/><stop offset="0.2124" stop-color="#fdf4f0"/><stop offset="0.2358" stop-color="#efb79e"/><stop offset="0.2591" stop-color="#ffffff"/><stop offset="0.7254" stop-color="#ffffff"/><stop offset="0.7409" stop-color="#e8f6fc"/><stop offset="0.7487" stop-color="#ffffff"/><stop offset="0.7565" stop-color="#ffffff"/><stop offset="0.7642" stop-color="#f9e5db"/><stop offset="0.7798" stop-color="#ffffff"/><stop offset="0.9819" stop-color="#ffffff"/><stop offset="0.9974" stop-color="#fcf2ee"/></linearGradient><linearGradient id="fb101" gradientUnits="userSpaceOnUse" x1="552.5" x2="938.5" y1="0" y2="0"><stop offset="0.002591" stop-color="#ffffff"/><stop offset="0.2047" stop-color="#ffffff"/><stop offset="0.2124" stop-color="#fdf6f3"/><stop offset="0.228" stop-color="#f4cbb9"/><stop offset="0.2591" stop-color="#ffffff"/><stop offset="0.7487" stop-color="#ffffff"/><stop offset="0.7642" stop-color="#f9e5db"/><stop offset="0.772" stop-color="#fdf8f5"/><stop offset="0.7798" stop-color="#ffffff"/><stop offset="0.9663" stop-color="#ffffff"/><stop offset="0.9974" stop-color="#fcf0eb"/></linearGradient><linearGradient id="fb102" gradientUnits="userSpaceOnUse" x1="552.5" x2="938.5" y1="0" y2="0"><stop offset="0.002591" stop-color="#ffffff"/><stop offset="0.2047" stop-color="#ffffff"/><stop offset="0.2124" stop-color="#fdf8f5"/><stop offset="0.228" stop-color="#f7dbcd"/><stop offset="0.2435" stop-color="#ffffff"/><stop offset="0.7409" stop-color="#ffffff"/><stop offset="0.7565" stop-color="#f7dacd"/><stop offset="0.772" stop-color="#ffffff"/><stop offset="0.943" stop-color="#ffffff"/><stop offset="0.9896" stop-color="#fcf0ea"/><stop offset="0.9974" stop-color="#fcefe9"/></linearGradient><linearGradient id="fb103" gradientUnits="userSpaceOnUse" x1="552.5" x2="938.5" y1="0" y2="0"><stop offset="0.002591" stop-color="#ffffff"/><stop offset="0.2124" stop-color="#ffffff"/><stop offset="0.2202" stop-color="#f9e2d7"/><stop offset="0.2358" stop-color="#ffffff"/><stop offset="0.7409" stop-color="#ffffff"/><stop offset="0.7487" stop-color="#f5d1c0"/><stop offset="0.7642" stop-color="#f9e5db"/><stop offset="0.772" stop-color="#ffffff"/><stop offset="0.7798" stop-color="#ffffff"/><stop offset="0.7876" stop-color="#f2fafe"/><stop offset="0.8031" stop-color="#ffffff"/><stop offset="0.9197" stop-color="#ffffff"/><stop offset="0.9741" stop-color="#fcefe9"/><stop offset="0.9974" stop-color="#fbede6"/></linearGradient><clipPath id="fbc1_8"><path d="M553.5 660.5 L559.5 660.5 L565.5 660.5 L571.5 660.5 L577.5 660.5 L583.5 660.5 L589.5 660.5 L595.5 660.5 L601.5 660.5 L607.5 660.5 L613.5 660.5 L619.5 660.5 L625.5 660.5 L631.5 660.2 L637.5 657 L643.5 660.4 L649.5 661.7 L655.5 662 L661.5 660.9 L667.5 660.5 L673.5 660.5 L679.5 660.5 L685.5 660.5 L691.5 660.5 L697.5 660.5 L703.5 660.6 L709.5 660.6 L715.5 660.6 L721.5 660.6 L727.5 660.7 L733.5 660.7 L739.5 660.7 L745.5 660.7 L751.5 660.8 L757.5 660.8 L763.5 660.8 L769.5 660.8 L775.5 660.9 L781.5 660.9 L787.5 660.9 L793.5 660.9 L799.5 660.9 L805.5 661 L811.5 661 L817.5 661 L823.5 661 L829.5 661 L835.5 660.9 L841.5 655.4 L847.5 657.1 L853.5 661.9 L859.5 663.1 L865.5 661.8 L871.5 660.9 L877.5 660.4 L883.5 659.9 L889.5 659.5 L895.5 659.1 L901.5 658.7 L907.5 658.4 L913.5 658.1 L919.5 657.9 L925.5 657.7 L931.5 657.6 L937.5 657.6 L937.5 657.6 L937.5 725.8 L931.5 726 L925.5 726.1 L919.5 726.2 L913.5 726.3 L907.5 726.3 L901.5 726.4 L895.5 726.4 L889.5 726.5 L883.5 726.5 L877.5 726.5 L871.5 726.5 L865.5 726.5 L859.5 726.5 L853.5 726.3 L847.5 724.5 L841.5 726.2 L835.5 727.2 L829.5 727.2 L823.5 727.2 L817.5 727.2 L811.5 727.2 L805.5 727.1 L799.5 727.1 L793.5 727.1 L787.5 727.1 L781.5 727.1 L775.5 727 L769.5 727 L763.5 727 L757.5 726.9 L751.5 726.9 L745.5 726.9 L739.5 726.9 L733.5 726.8 L727.5 726.8 L721.5 726.8 L715.5 726.7 L709.5 726.7 L703.5 726.7 L697.5 726.6 L691.5 726.6 L685.5 726.6 L679.5 726.6 L673.5 726.6 L667.5 726.5 L661.5 726.5 L655.5 726.5 L649.5 726.5 L643.5 726.5 L637.5 726.9 L631.5 729.1 L625.5 728.5 L619.5 727 L613.5 726.9 L607.5 726.8 L601.5 726.7 L595.5 726.7 L589.5 726.6 L583.5 726.6 L577.5 726.5 L571.5 726.5 L565.5 726.5 L559.5 726.5 L553.5 726.5 L553.5 726.5 Z"/></clipPath><linearGradient id="fb104" gradientUnits="userSpaceOnUse" x1="552.5" x2="938.5" y1="0" y2="0"><stop offset="0.002591" stop-color="#ffffff"/><stop offset="0.2124" stop-color="#ffffff"/><stop offset="0.2202" stop-color="#faeae2"/><stop offset="0.2358" stop-color="#ffffff"/><stop offset="0.7409" stop-color="#ffffff"/><stop offset="0.7487" stop-color="#f6d5c7"/><stop offset="0.7642" stop-color="#fae7de"/><stop offset="0.772" stop-color="#ffffff"/><stop offset="0.7798" stop-color="#ffffff"/><stop offset="0.7876" stop-color="#ebf7fd"/><stop offset="0.8031" stop-color="#ffffff"/><stop offset="0.9275" stop-color="#ffffff"/><stop offset="0.9663" stop-color="#fcf2ee"/><stop offset="0.9974" stop-color="#fcf0ea"/></linearGradient><linearGradient id="fb105" gradientUnits="userSpaceOnUse" x1="552.5" x2="938.5" y1="0" y2="0"><stop offset="0.002591" stop-color="#ffffff"/><stop offset="0.7409" stop-color="#ffffff"/><stop offset="0.7565" stop-color="#f7dccf"/><stop offset="0.772" stop-color="#ffffff"/><stop offset="0.9974" stop-color="#ffffff"/></linearGradient><linearGradient id="fb106" gradientUnits="userSpaceOnUse" x1="552.5" x2="938.5" y1="0" y2="0"><stop offset="0.002591" stop-color="#ffffff"/><stop offset="0.7487" stop-color="#ffffff"/><stop offset="0.7565" stop-color="#fbeae3"/><stop offset="0.772" stop-color="#ffffff"/><stop offset="0.9974" stop-color="#ffffff"/></linearGradient><linearGradient id="fb107" gradientUnits="userSpaceOnUse" x1="552.5" x2="938.5" y1="0" y2="0"><stop offset="0.002591" stop-color="#ffffff"/><stop offset="0.1891" stop-color="#ffffff"/><stop offset="0.1969" stop-color="#f2fafe"/><stop offset="0.2124" stop-color="#ffffff"/><stop offset="0.7565" stop-color="#ffffff"/><stop offset="0.7642" stop-color="#fdf7f4"/><stop offset="0.772" stop-color="#ffffff"/><stop offset="0.9974" stop-color="#ffffff"/></linearGradient><clipPath id="fbc1_9"><path d="M553.5 726.5 L559.5 726.5 L565.5 726.5 L571.5 726.5 L577.5 726.5 L583.5 726.6 L589.5 726.6 L595.5 726.7 L601.5 726.7 L607.5 726.8 L613.5 726.9 L619.5 727 L625.5 728.5 L631.5 729.1 L637.5 726.9 L643.5 726.5 L649.5 726.5 L655.5 726.5 L661.5 726.5 L667.5 726.5 L673.5 726.6 L679.5 726.6 L685.5 726.6 L691.5 726.6 L697.5 726.6 L703.5 726.7 L709.5 726.7 L715.5 726.7 L721.5 726.8 L727.5 726.8 L733.5 726.8 L739.5 726.9 L745.5 726.9 L751.5 726.9 L757.5 726.9 L763.5 727 L769.5 727 L775.5 727 L781.5 727.1 L787.5 727.1 L793.5 727.1 L799.5 727.1 L805.5 727.1 L811.5 727.2 L817.5 727.2 L823.5 727.2 L829.5 727.2 L835.5 727.2 L841.5 726.2 L847.5 724.5 L853.5 726.3 L859.5 726.5 L865.5 726.5 L871.5 726.5 L877.5 726.5 L883.5 726.5 L889.5 726.5 L895.5 726.4 L901.5 726.4 L907.5 726.3 L913.5 726.3 L919.5 726.2 L925.5 726.1 L931.5 726 L937.5 725.8 L937.5 725.8 L937.5 791.2 L931.5 791.2 L925.5 791.3 L919.5 791.3 L913.5 791.5 L907.5 791.6 L901.5 791.8 L895.5 792.1 L889.5 792.4 L883.5 792.8 L877.5 794 L871.5 796.8 L865.5 795.1 L859.5 793.6 L853.5 792.1 L847.5 790.1 L841.5 790.6 L835.5 793.5 L829.5 793.6 L823.5 793.7 L817.5 793.7 L811.5 793.8 L805.5 793.8 L799.5 793.9 L793.5 793.9 L787.5 793.9 L781.5 793.9 L775.5 794 L769.5 794 L763.5 794 L757.5 794 L751.5 794 L745.5 794 L739.5 794 L733.5 794 L727.5 794 L721.5 794 L715.5 794 L709.5 794 L703.5 794.1 L697.5 794.1 L691.5 794.1 L685.5 794.1 L679.5 794.2 L673.5 794.2 L667.5 794.3 L661.5 794.4 L655.5 794.5 L649.5 796.7 L643.5 799.1 L637.5 794.6 L631.5 794.4 L625.5 794.3 L619.5 794.3 L613.5 794.2 L607.5 794.2 L601.5 794.1 L595.5 794.1 L589.5 794.1 L583.5 794 L577.5 794 L571.5 794 L565.5 794 L559.5 794 L553.5 794 L553.5 794 Z"/></clipPath><linearGradient id="fb108" gradientUnits="userSpaceOnUse" x1="552.5" x2="938.5" y1="0" y2="0"><stop offset="0.002591" stop-color="#ffffff"/><stop offset="0.1891" stop-color="#ffffff"/><stop offset="0.1969" stop-color="#eef8fd"/><stop offset="0.2124" stop-color="#ffffff"/><stop offset="0.7565" stop-color="#ffffff"/><stop offset="0.7642" stop-color="#fdf5f1"/><stop offset="0.772" stop-color="#ffffff"/><stop offset="0.9974" stop-color="#ffffff"/></linearGradient><linearGradient id="fb109" gradientUnits="userSpaceOnUse" x1="552.5" x2="938.5" y1="0" y2="0"><stop offset="0.002591" stop-color="#ffffff"/><stop offset="0.7487" stop-color="#ffffff"/><stop offset="0.7565" stop-color="#fbeee8"/><stop offset="0.7642" stop-color="#fbeee8"/><stop offset="0.772" stop-color="#ffffff"/><stop offset="0.9974" stop-color="#ffffff"/></linearGradient><linearGradient id="fb110" gradientUnits="userSpaceOnUse" x1="552.5" x2="938.5" y1="0" y2="0"><stop offset="0.002591" stop-color="#ffffff"/><stop offset="0.228" stop-color="#ffffff"/><stop offset="0.2358" stop-color="#e4f4fc"/><stop offset="0.2435" stop-color="#e3f3fc"/><stop offset="0.2513" stop-color="#ffffff"/><stop offset="0.7409" stop-color="#ffffff"/><stop offset="0.7642" stop-color="#fae7de"/><stop offset="0.7798" stop-color="#ffffff"/><stop offset="0.9974" stop-color="#ffffff"/></linearGradient><linearGradient id="fb111" gradientUnits="userSpaceOnUse" x1="552.5" x2="938.5" y1="0" y2="0"><stop offset="0.002591" stop-color="#ffffff"/><stop offset="0.2202" stop-color="#ffffff"/><stop offset="0.2435" stop-color="#d3edfa"/><stop offset="0.2591" stop-color="#ffffff"/><stop offset="0.7409" stop-color="#ffffff"/><stop offset="0.7565" stop-color="#f7dbce"/><stop offset="0.7798" stop-color="#ffffff"/><stop offset="0.8109" stop-color="#ffffff"/><stop offset="0.8264" stop-color="#ecf7fd"/><stop offset="0.8342" stop-color="#ffffff"/><stop offset="0.9197" stop-color="#ffffff"/><stop offset="0.9508" stop-color="#fdf5f1"/><stop offset="0.9974" stop-color="#fcf2ee"/></linearGradient><clipPath id="fbc2_0"><path d="M1014 125.3 L1020 126 L1026 128.9 L1032 128.3 L1038 124 L1044 119 L1050 116 L1056 116.6 L1062 118.6 L1068 119.1 L1074 116.6 L1080 113.2 L1086 106.7 L1092 97 L1098 101.7 L1104 137.5 L1110 174.4 L1116 158 L1122 137.6 L1128 129.4 L1134 127 L1140 126 L1146 126 L1152 126 L1158 126 L1164 126 L1170 126 L1176 126 L1182 126 L1188 126 L1194 126 L1200 126 L1206 126 L1212 126.1 L1218 126.1 L1224 126.1 L1230 126.1 L1236 126.1 L1242 126.2 L1248 126.2 L1254 126.2 L1260 126.3 L1266 126.3 L1272 126.3 L1278 126.4 L1284 127.5 L1290 133.4 L1296 125.3 L1302 81.5 L1308 58.5 L1314 93 L1320 129.3 L1326 142 L1332 135 L1338 131.9 L1344 130 L1350 128.7 L1356 127.6 L1362 126.7 L1368 125.9 L1374 125.1 L1380 124.6 L1386 124 L1392 123.2 L1398 122.1 L1398 122.1 L1398 236.9 L1392 236.9 L1386 236.9 L1380 236.8 L1374 236.8 L1368 236.7 L1362 236.5 L1356 236.4 L1350 236.2 L1344 235.8 L1338 231.8 L1332 232.5 L1326 235.5 L1320 240 L1314 242.1 L1308 242.5 L1302 237.7 L1296 237 L1290 237 L1284 237 L1278 237 L1272 237 L1266 237 L1260 237 L1254 237 L1248 237 L1242 237 L1236 237 L1230 237 L1224 237 L1218 237 L1212 237 L1206 237 L1200 237 L1194 237 L1188 237 L1182 237 L1176 237 L1170 237 L1164 237 L1158 237 L1152 237 L1146 237 L1140 237 L1134 237 L1128 237 L1122 237 L1116 237 L1110 237 L1104 236 L1098 232.8 L1092 236 L1086 236.7 L1080 237 L1074 237.1 L1068 237.2 L1062 237.3 L1056 237.3 L1050 237.4 L1044 237.4 L1038 237.4 L1032 237.5 L1026 237.5 L1020 237.5 L1014 237.5 L1014 237.5 Z"/></clipPath><linearGradient id="fb112" gradientUnits="userSpaceOnUse" x1="1013" x2="1399.5" y1="0" y2="0"><stop offset="0.002587" stop-color="#e1f3fc"/><stop offset="0.04916" stop-color="#c0e5f9"/><stop offset="0.06468" stop-color="#ffffff"/><stop offset="0.07245" stop-color="#fcf1eb"/><stop offset="0.08797" stop-color="#eca284"/><stop offset="0.1268" stop-color="#efb79f"/><stop offset="0.1501" stop-color="#eeaf94"/><stop offset="0.2044" stop-color="#dc601e"/><stop offset="0.2199" stop-color="#d9551f"/><stop offset="0.2277" stop-color="#efb49b"/><stop offset="0.2354" stop-color="#63b9ee"/><stop offset="0.2432" stop-color="#0e32f9"/><stop offset="0.251" stop-color="#0000ff"/><stop offset="0.2587" stop-color="#0209fe"/><stop offset="0.2743" stop-color="#3aa0eb"/><stop offset="0.2898" stop-color="#c0e5f9"/><stop offset="0.3053" stop-color="#f3fafe"/><stop offset="0.3131" stop-color="#ffffff"/><stop offset="0.6934" stop-color="#ffffff"/><stop offset="0.7012" stop-color="#f6fbfe"/><stop offset="0.7167" stop-color="#9bd4f4"/><stop offset="0.7245" stop-color="#90cff3"/><stop offset="0.7322" stop-color="#ffffff"/><stop offset="0.74" stop-color="#db5b28"/><stop offset="0.7555" stop-color="#f5c811"/><stop offset="0.771" stop-color="#f5c711"/><stop offset="0.7788" stop-color="#df6c1e"/><stop offset="0.7865" stop-color="#eb9e7e"/><stop offset="0.7943" stop-color="#bde4f8"/><stop offset="0.8021" stop-color="#318ced"/><stop offset="0.903" stop-color="#b4e0f7"/><stop offset="0.9961" stop-color="#ebf7fd"/></linearGradient><linearGradient id="fb113" gradientUnits="userSpaceOnUse" x1="1013" x2="1399.5" y1="0" y2="0"><stop offset="0.002587" stop-color="#e1f3fc"/><stop offset="0.04916" stop-color="#c0e5f9"/><stop offset="0.06468" stop-color="#ffffff"/><stop offset="0.07245" stop-color="#fcf1eb"/><stop offset="0.08797" stop-color="#eca284"/><stop offset="0.1268" stop-color="#efb79f"/><stop offset="0.1501" stop-color="#eeaf94"/><stop offset="0.2044" stop-color="#dc601e"/><stop offset="0.2199" stop-color="#d9551f"/><stop offset="0.2277" stop-color="#efb49b"/><stop offset="0.2354" stop-color="#63b9ee"/><stop offset="0.2432" stop-color="#0e32f9"/><stop offset="0.251" stop-color="#0000ff"/><stop offset="0.2587" stop-color="#0209fe"/><stop offset="0.2743" stop-color="#3aa0eb"/><stop offset="0.2898" stop-color="#c0e5f9"/><stop offset="0.3053" stop-color="#f3fafe"/><stop offset="0.3131" stop-color="#ffffff"/><stop offset="0.6934" stop-color="#ffffff"/><stop offset="0.7012" stop-color="#f6fbfe"/><stop offset="0.7167" stop-color="#9bd4f4"/><stop offset="0.7245" stop-color="#90cff3"/><stop offset="0.7322" stop-color="#ffffff"/><stop offset="0.74" stop-color="#db5b28"/><stop offset="0.7633" stop-color="#f3c014"/><stop offset="0.771" stop-color="#efb019"/><stop offset="0.7788" stop-color="#df6c1e"/><stop offset="0.7865" stop-color="#eb9e7e"/><stop offset="0.7943" stop-color="#bde4f8"/><stop offset="0.8021" stop-color="#318ced"/><stop offset="0.903" stop-color="#b4e0f7"/><stop offset="0.9961" stop-color="#ebf7fd"/></linearGradient><linearGradient id="fb114" gradientUnits="userSpaceOnUse" x1="1013" x2="1399.5" y1="0" y2="0"><stop offset="0.002587" stop-color="#e1f3fc"/><stop offset="0.04916" stop-color="#c0e5f9"/><stop offset="0.06468" stop-color="#ffffff"/><stop offset="0.07245" stop-color="#fcf1eb"/><stop offset="0.08797" stop-color="#eca284"/><stop offset="0.1268" stop-color="#efb79f"/><stop offset="0.1501" stop-color="#eeaf94"/><stop offset="0.2044" stop-color="#db5b1e"/><stop offset="0.2199" stop-color="#da5823"/><stop offset="0.2277" stop-color="#efb49b"/><stop offset="0.2354" stop-color="#63b9ee"/><stop offset="0.2432" stop-color="#0e32f9"/><stop offset="0.251" stop-color="#0000ff"/><stop offset="0.2587" stop-color="#0209fe"/><stop offset="0.2743" stop-color="#3aa0eb"/><stop offset="0.2898" stop-color="#c0e5f9"/><stop offset="0.3053" stop-color="#f3fafe"/><stop offset="0.3131" stop-color="#ffffff"/><stop offset="0.6934" stop-color="#ffffff"/><stop offset="0.7012" stop-color="#f6fbfe"/><stop offset="0.7167" stop-color="#9bd4f4"/><stop offset="0.7245" stop-color="#90cff3"/><stop offset="0.7322" stop-color="#ffffff"/><stop offset="0.74" stop-color="#dc5d2a"/><stop offset="0.7633" stop-color="#eda51a"/><stop offset="0.7788" stop-color="#dd631e"/><stop offset="0.7865" stop-color="#eb9e7e"/><stop offset="0.7943" stop-color="#bde4f8"/><stop offset="0.8021" stop-color="#318ced"/><stop offset="0.903" stop-color="#b4e0f7"/><stop offset="0.9961" stop-color="#ebf7fd"/></linearGradient><linearGradient id="fb115" gradientUnits="userSpaceOnUse" x1="1013" x2="1399.5" y1="0" y2="0"><stop offset="0.002587" stop-color="#e1f3fc"/><stop offset="0.04916" stop-color="#c0e5f9"/><stop offset="0.06468" stop-color="#ffffff"/><stop offset="0.07245" stop-color="#fcf2ed"/><stop offset="0.08797" stop-color="#eda98d"/><stop offset="0.1423" stop-color="#f1c1ab"/><stop offset="0.2122" stop-color="#d9551e"/><stop offset="0.2199" stop-color="#dd6332"/><stop offset="0.2277" stop-color="#f0baa2"/><stop offset="0.2354" stop-color="#63b9ee"/><stop offset="0.2432" stop-color="#0e32f9"/><stop offset="0.251" stop-color="#0000ff"/><stop offset="0.2587" stop-color="#0209fe"/><stop offset="0.2743" stop-color="#3aa0eb"/><stop offset="0.2898" stop-color="#c0e5f9"/><stop offset="0.3053" stop-color="#f3fafe"/><stop offset="0.3131" stop-color="#ffffff"/><stop offset="0.6934" stop-color="#ffffff"/><stop offset="0.7012" stop-color="#f6fbfe"/><stop offset="0.7167" stop-color="#9bd4f4"/><stop offset="0.7245" stop-color="#90cff3"/><stop offset="0.7322" stop-color="#ffffff"/><stop offset="0.74" stop-color="#df693a"/><stop offset="0.771" stop-color="#e37b1e"/><stop offset="0.7788" stop-color="#da561e"/><stop offset="0.7865" stop-color="#edad91"/><stop offset="0.7943" stop-color="#bde4f8"/><stop offset="0.8021" stop-color="#318ced"/><stop offset="0.903" stop-color="#b4e0f7"/><stop offset="0.9961" stop-color="#ecf7fd"/></linearGradient><linearGradient id="fb116" gradientUnits="userSpaceOnUse" x1="1013" x2="1399.5" y1="0" y2="0"><stop offset="0.002587" stop-color="#e6f5fc"/><stop offset="0.04916" stop-color="#c9e9f9"/><stop offset="0.06468" stop-color="#ffffff"/><stop offset="0.07245" stop-color="#ffffff"/><stop offset="0.08021" stop-color="#f4ccba"/><stop offset="0.1113" stop-color="#efb8a0"/><stop offset="0.1423" stop-color="#f4cdbb"/><stop offset="0.2122" stop-color="#dd612f"/><stop offset="0.2199" stop-color="#e16f42"/><stop offset="0.2277" stop-color="#f2c5b1"/><stop offset="0.2354" stop-color="#69bcef"/><stop offset="0.2432" stop-color="#0e32f9"/><stop offset="0.251" stop-color="#0000ff"/><stop offset="0.2587" stop-color="#0209fe"/><stop offset="0.2743" stop-color="#3aa0eb"/><stop offset="0.2898" stop-color="#c7e8f9"/><stop offset="0.3053" stop-color="#ffffff"/><stop offset="0.7012" stop-color="#ffffff"/><stop offset="0.7167" stop-color="#a4d8f5"/><stop offset="0.7245" stop-color="#99d3f4"/><stop offset="0.7322" stop-color="#ffffff"/><stop offset="0.74" stop-color="#e47c53"/><stop offset="0.7477" stop-color="#db5b1e"/><stop offset="0.7788" stop-color="#de6433"/><stop offset="0.7865" stop-color="#f3c7b4"/><stop offset="0.7943" stop-color="#bfe5f8"/><stop offset="0.8021" stop-color="#318ced"/><stop offset="0.8719" stop-color="#aadbf6"/><stop offset="0.9961" stop-color="#f2fafe"/></linearGradient><linearGradient id="fb117" gradientUnits="userSpaceOnUse" x1="1013" x2="1399.5" y1="0" y2="0"><stop offset="0.002587" stop-color="#edf8fd"/><stop offset="0.04916" stop-color="#d4edfa"/><stop offset="0.06468" stop-color="#ffffff"/><stop offset="0.07245" stop-color="#ffffff"/><stop offset="0.08797" stop-color="#f3cab8"/><stop offset="0.1501" stop-color="#f5d1c0"/><stop offset="0.1966" stop-color="#e88e6a"/><stop offset="0.2122" stop-color="#e27347"/><stop offset="0.2199" stop-color="#e5835b"/><stop offset="0.2277" stop-color="#f5d0c0"/><stop offset="0.2354" stop-color="#81c7f1"/><stop offset="0.2432" stop-color="#0e34f8"/><stop offset="0.251" stop-color="#0000ff"/><stop offset="0.2587" stop-color="#0209fe"/><stop offset="0.2743" stop-color="#53b0ed"/><stop offset="0.2898" stop-color="#d3edfa"/><stop offset="0.3053" stop-color="#ffffff"/><stop offset="0.7012" stop-color="#ffffff"/><stop offset="0.7245" stop-color="#acdcf6"/><stop offset="0.7322" stop-color="#ffffff"/><stop offset="0.74" stop-color="#e99371"/><stop offset="0.7477" stop-color="#dc5f2c"/><stop offset="0.771" stop-color="#d9551e"/><stop offset="0.7788" stop-color="#e47e55"/><stop offset="0.7865" stop-color="#f9e2d8"/><stop offset="0.7943" stop-color="#c2e6f9"/><stop offset="0.8021" stop-color="#399fec"/><stop offset="0.8486" stop-color="#b5e0f7"/><stop offset="0.9884" stop-color="#f3fafe"/><stop offset="0.9961" stop-color="#ffffff"/></linearGradient><linearGradient id="fb118" gradientUnits="userSpaceOnUse" x1="1013" x2="1399.5" y1="0" y2="0"><stop offset="0.002587" stop-color="#f4fafe"/><stop offset="0.04916" stop-color="#def1fb"/><stop offset="0.06468" stop-color="#ffffff"/><stop offset="0.07245" stop-color="#ffffff"/><stop offset="0.09573" stop-color="#f6d7c8"/><stop offset="0.1423" stop-color="#fae9e1"/><stop offset="0.1966" stop-color="#eeb298"/><stop offset="0.2122" stop-color="#e88c68"/><stop offset="0.2199" stop-color="#ea9b7a"/><stop offset="0.2277" stop-color="#f7dbce"/><stop offset="0.2354" stop-color="#9cd5f4"/><stop offset="0.2432" stop-color="#226df0"/><stop offset="0.251" stop-color="#0104fe"/><stop offset="0.2587" stop-color="#0820fb"/><stop offset="0.2743" stop-color="#78c3f0"/><stop offset="0.2898" stop-color="#dff2fc"/><stop offset="0.2975" stop-color="#f5fbfe"/><stop offset="0.3053" stop-color="#ffffff"/><stop offset="0.7012" stop-color="#ffffff"/><stop offset="0.7245" stop-color="#bfe5f8"/><stop offset="0.7322" stop-color="#f4fbfe"/><stop offset="0.7477" stop-color="#e3794f"/><stop offset="0.771" stop-color="#e16f42"/><stop offset="0.7865" stop-color="#ffffff"/><stop offset="0.7943" stop-color="#c5e7f9"/><stop offset="0.8021" stop-color="#56b2ed"/><stop offset="0.8409" stop-color="#d9effb"/><stop offset="0.9728" stop-color="#f3fafe"/><stop offset="0.9806" stop-color="#ffffff"/><stop offset="0.9961" stop-color="#ffffff"/></linearGradient><linearGradient id="fb119" gradientUnits="userSpaceOnUse" x1="1013" x2="1399.5" y1="0" y2="0"><stop offset="0.002587" stop-color="#ffffff"/><stop offset="0.01811" stop-color="#ffffff"/><stop offset="0.0414" stop-color="#e3f4fc"/><stop offset="0.05692" stop-color="#ffffff"/><stop offset="0.08021" stop-color="#ffffff"/><stop offset="0.09573" stop-color="#fbede7"/><stop offset="0.119" stop-color="#fcf3ee"/><stop offset="0.1268" stop-color="#ffffff"/><stop offset="0.1423" stop-color="#ffffff"/><stop offset="0.1656" stop-color="#faeae2"/><stop offset="0.1889" stop-color="#fae6dd"/><stop offset="0.2199" stop-color="#f0bba4"/><stop offset="0.2277" stop-color="#fbeae3"/><stop offset="0.2354" stop-color="#bde4f8"/><stop offset="0.2432" stop-color="#3799ec"/><stop offset="0.251" stop-color="#174cf5"/><stop offset="0.2665" stop-color="#4aacec"/><stop offset="0.2743" stop-color="#a5d9f5"/><stop offset="0.2898" stop-color="#edf8fd"/><stop offset="0.2975" stop-color="#ffffff"/><stop offset="0.7012" stop-color="#ffffff"/><stop offset="0.7245" stop-color="#ceebfa"/><stop offset="0.7322" stop-color="#f2fafe"/><stop offset="0.7477" stop-color="#eca88b"/><stop offset="0.771" stop-color="#eca78b"/><stop offset="0.7865" stop-color="#ffffff"/><stop offset="0.8021" stop-color="#7bc5f1"/><stop offset="0.8331" stop-color="#f2fafe"/><stop offset="0.8409" stop-color="#ffffff"/><stop offset="0.8642" stop-color="#e4f4fc"/><stop offset="0.934" stop-color="#f6fbfe"/><stop offset="0.9418" stop-color="#ffffff"/><stop offset="0.9961" stop-color="#ffffff"/></linearGradient><linearGradient id="fb120" gradientUnits="userSpaceOnUse" x1="1013" x2="1399.5" y1="0" y2="0"><stop offset="0.002587" stop-color="#ffffff"/><stop offset="0.03364" stop-color="#ffffff"/><stop offset="0.0414" stop-color="#f5fbfe"/><stop offset="0.04916" stop-color="#ffffff"/><stop offset="0.1966" stop-color="#ffffff"/><stop offset="0.2199" stop-color="#f7dbce"/><stop offset="0.2277" stop-color="#ffffff"/><stop offset="0.2354" stop-color="#d7effb"/><stop offset="0.251" stop-color="#3aa1eb"/><stop offset="0.2665" stop-color="#96d2f3"/><stop offset="0.2743" stop-color="#d4eefb"/><stop offset="0.2898" stop-color="#ffffff"/><stop offset="0.7089" stop-color="#ffffff"/><stop offset="0.7245" stop-color="#ddf1fb"/><stop offset="0.74" stop-color="#ffffff"/><stop offset="0.7477" stop-color="#fae7de"/><stop offset="0.7633" stop-color="#fcefe9"/><stop offset="0.771" stop-color="#ffffff"/><stop offset="0.7788" stop-color="#ffffff"/><stop offset="0.8021" stop-color="#a8daf6"/><stop offset="0.8176" stop-color="#f5fbfe"/><stop offset="0.8254" stop-color="#ffffff"/><stop offset="0.9961" stop-color="#ffffff"/></linearGradient><linearGradient id="fb121" gradientUnits="userSpaceOnUse" x1="1013" x2="1399.5" y1="0" y2="0"><stop offset="0.002587" stop-color="#ffffff"/><stop offset="0.1811" stop-color="#ffffff"/><stop offset="0.1889" stop-color="#f5fbfe"/><stop offset="0.1966" stop-color="#ffffff"/><stop offset="0.2277" stop-color="#ffffff"/><stop offset="0.2354" stop-color="#f5fbfe"/><stop offset="0.251" stop-color="#d2edfa"/><stop offset="0.2743" stop-color="#ffffff"/><stop offset="0.7167" stop-color="#ffffff"/><stop offset="0.7245" stop-color="#eef8fd"/><stop offset="0.74" stop-color="#ffffff"/><stop offset="0.7865" stop-color="#cae9fa"/><stop offset="0.8021" stop-color="#d6eefb"/><stop offset="0.8098" stop-color="#ffffff"/><stop offset="0.8176" stop-color="#ffffff"/><stop offset="0.8409" stop-color="#f5d0c0"/><stop offset="0.8564" stop-color="#ffffff"/><stop offset="0.9961" stop-color="#ffffff"/></linearGradient><clipPath id="fbc2_1"><path d="M1014 237.5 L1020 237.5 L1026 237.5 L1032 237.5 L1038 237.4 L1044 237.4 L1050 237.4 L1056 237.3 L1062 237.3 L1068 237.2 L1074 237.1 L1080 237 L1086 236.7 L1092 236 L1098 232.8 L1104 236 L1110 237 L1116 237 L1122 237 L1128 237 L1134 237 L1140 237 L1146 237 L1152 237 L1158 237 L1164 237 L1170 237 L1176 237 L1182 237 L1188 237 L1194 237 L1200 237 L1206 237 L1212 237 L1218 237 L1224 237 L1230 237 L1236 237 L1242 237 L1248 237 L1254 237 L1260 237 L1266 237 L1272 237 L1278 237 L1284 237 L1290 237 L1296 237 L1302 237.7 L1308 242.5 L1314 242.1 L1320 240 L1326 235.5 L1332 232.5 L1338 231.8 L1344 235.8 L1350 236.2 L1356 236.4 L1362 236.5 L1368 236.7 L1374 236.8 L1380 236.8 L1386 236.9 L1392 236.9 L1398 236.9 L1398 236.9 L1398 347.8 L1392 347.8 L1386 347.8 L1380 347.7 L1374 347.7 L1368 347.6 L1362 347.5 L1356 347.3 L1350 347.2 L1344 346.8 L1338 343.5 L1332 344 L1326 346 L1320 350.9 L1314 350.5 L1308 347.6 L1302 348.2 L1296 351.5 L1290 348.5 L1284 348 L1278 348 L1272 348 L1266 348 L1260 348 L1254 348 L1248 348 L1242 348 L1236 348 L1230 348 L1224 348 L1218 348 L1212 348 L1206 348 L1200 348 L1194 348 L1188 348 L1182 348 L1176 348 L1170 348 L1164 348 L1158 348 L1152 348 L1146 348 L1140 348 L1134 348 L1128 348 L1122 348 L1116 350.5 L1110 346.4 L1104 337.5 L1098 335 L1092 343.6 L1086 352.1 L1080 349.5 L1074 348.9 L1068 348.7 L1062 348.5 L1056 348.4 L1050 348.3 L1044 348.2 L1038 348.1 L1032 348.1 L1026 348 L1020 348 L1014 348 L1014 348 Z"/></clipPath><linearGradient id="fb122" gradientUnits="userSpaceOnUse" x1="1013" x2="1399.5" y1="0" y2="0"><stop offset="0.002587" stop-color="#ffffff"/><stop offset="0.1734" stop-color="#ffffff"/><stop offset="0.1889" stop-color="#ecf7fd"/><stop offset="0.2044" stop-color="#ffffff"/><stop offset="0.2354" stop-color="#ffffff"/><stop offset="0.2432" stop-color="#edf8fd"/><stop offset="0.2587" stop-color="#ffffff"/><stop offset="0.7167" stop-color="#ffffff"/><stop offset="0.7322" stop-color="#edf8fd"/><stop offset="0.7477" stop-color="#e4f4fc"/><stop offset="0.771" stop-color="#a8daf6"/><stop offset="0.8098" stop-color="#ffffff"/><stop offset="0.8176" stop-color="#ffffff"/><stop offset="0.8409" stop-color="#f5d1c0"/><stop offset="0.8564" stop-color="#ffffff"/><stop offset="0.9961" stop-color="#ffffff"/></linearGradient><linearGradient id="fb123" gradientUnits="userSpaceOnUse" x1="1013" x2="1399.5" y1="0" y2="0"><stop offset="0.002587" stop-color="#ffffff"/><stop offset="0.1734" stop-color="#ffffff"/><stop offset="0.1889" stop-color="#e3f4fc"/><stop offset="0.2044" stop-color="#ffffff"/><stop offset="0.2122" stop-color="#ffffff"/><stop offset="0.2199" stop-color="#f9e3d8"/><stop offset="0.2277" stop-color="#f9e2d8"/><stop offset="0.2354" stop-color="#ffffff"/><stop offset="0.7167" stop-color="#ffffff"/><stop offset="0.7322" stop-color="#e5f4fc"/><stop offset="0.7477" stop-color="#e6f5fc"/><stop offset="0.771" stop-color="#b1def7"/><stop offset="0.8021" stop-color="#e1f3fc"/><stop offset="0.8098" stop-color="#ffffff"/><stop offset="0.8176" stop-color="#ffffff"/><stop offset="0.8409" stop-color="#f5d2c2"/><stop offset="0.8564" stop-color="#ffffff"/><stop offset="0.9961" stop-color="#ffffff"/></linearGradient><linearGradient id="fb124" gradientUnits="userSpaceOnUse" x1="1013" x2="1399.5" y1="0" y2="0"><stop offset="0.002587" stop-color="#ffffff"/><stop offset="0.1734" stop-color="#ffffff"/><stop offset="0.1889" stop-color="#dcf1fb"/><stop offset="0.2044" stop-color="#ffffff"/><stop offset="0.2122" stop-color="#ffffff"/><stop offset="0.2199" stop-color="#f5d0c0"/><stop offset="0.2277" stop-color="#f4cdbc"/><stop offset="0.2354" stop-color="#ffffff"/><stop offset="0.251" stop-color="#ffffff"/><stop offset="0.2587" stop-color="#f2fafe"/><stop offset="0.2665" stop-color="#ffffff"/><stop offset="0.7167" stop-color="#ffffff"/><stop offset="0.7322" stop-color="#dff2fc"/><stop offset="0.7477" stop-color="#e7f5fc"/><stop offset="0.7865" stop-color="#c1e6f9"/><stop offset="0.8098" stop-color="#ffffff"/><stop offset="0.8176" stop-color="#ffffff"/><stop offset="0.8409" stop-color="#f5d3c4"/><stop offset="0.8564" stop-color="#ffffff"/><stop offset="0.9961" stop-color="#ffffff"/></linearGradient><linearGradient id="fb125" gradientUnits="userSpaceOnUse" x1="1013" x2="1399.5" y1="0" y2="0"><stop offset="0.002587" stop-color="#ffffff"/><stop offset="0.1734" stop-color="#ffffff"/><stop offset="0.1889" stop-color="#d5eefb"/><stop offset="0.2044" stop-color="#ffffff"/><stop offset="0.2199" stop-color="#f1bfa9"/><stop offset="0.2277" stop-color="#f0baa2"/><stop offset="0.2432" stop-color="#ffffff"/><stop offset="0.251" stop-color="#ffffff"/><stop offset="0.2587" stop-color="#edf8fd"/><stop offset="0.2665" stop-color="#ffffff"/><stop offset="0.7089" stop-color="#ffffff"/><stop offset="0.7322" stop-color="#daf0fb"/><stop offset="0.7555" stop-color="#dff2fc"/><stop offset="0.7943" stop-color="#cceafa"/><stop offset="0.8098" stop-color="#ffffff"/><stop offset="0.8176" stop-color="#ffffff"/><stop offset="0.8409" stop-color="#f6d4c5"/><stop offset="0.8564" stop-color="#ffffff"/><stop offset="0.9961" stop-color="#ffffff"/></linearGradient><linearGradient id="fb126" gradientUnits="userSpaceOnUse" x1="1013" x2="1399.5" y1="0" y2="0"><stop offset="0.002587" stop-color="#ffffff"/><stop offset="0.1656" stop-color="#ffffff"/><stop offset="0.1889" stop-color="#ceebfa"/><stop offset="0.2044" stop-color="#ffffff"/><stop offset="0.2199" stop-color="#eeae93"/><stop offset="0.2277" stop-color="#eca688"/><stop offset="0.2432" stop-color="#ffffff"/><stop offset="0.251" stop-color="#ffffff"/><stop offset="0.2587" stop-color="#e8f6fc"/><stop offset="0.2743" stop-color="#ffffff"/><stop offset="0.7089" stop-color="#ffffff"/><stop offset="0.7322" stop-color="#d4edfa"/><stop offset="0.7555" stop-color="#e7f5fc"/><stop offset="0.7943" stop-color="#cceafa"/><stop offset="0.8098" stop-color="#ffffff"/><stop offset="0.8176" stop-color="#ffffff"/><stop offset="0.8409" stop-color="#f6d6c7"/><stop offset="0.8564" stop-color="#ffffff"/><stop offset="0.9961" stop-color="#ffffff"/></linearGradient><linearGradient id="fb127" gradientUnits="userSpaceOnUse" x1="1013" x2="1399.5" y1="0" y2="0"><stop offset="0.002587" stop-color="#ffffff"/><stop offset="0.1656" stop-color="#ffffff"/><stop offset="0.1889" stop-color="#c7e8f9"/><stop offset="0.2044" stop-color="#ffffff"/><stop offset="0.2199" stop-color="#eb9d7d"/><stop offset="0.2277" stop-color="#e9926f"/><stop offset="0.2432" stop-color="#fdf7f4"/><stop offset="0.251" stop-color="#ffffff"/><stop offset="0.2587" stop-color="#e3f4fc"/><stop offset="0.2743" stop-color="#ffffff"/><stop offset="0.7089" stop-color="#ffffff"/><stop offset="0.7167" stop-color="#f3fafe"/><stop offset="0.7322" stop-color="#ceebfa"/><stop offset="0.7555" stop-color="#f1f9fd"/><stop offset="0.7943" stop-color="#cceafa"/><stop offset="0.8098" stop-color="#ffffff"/><stop offset="0.8176" stop-color="#ffffff"/><stop offset="0.8409" stop-color="#f6d7c8"/><stop offset="0.8564" stop-color="#ffffff"/><stop offset="0.9961" stop-color="#ffffff"/></linearGradient><linearGradient id="fb128" gradientUnits="userSpaceOnUse" x1="1013" x2="1399.5" y1="0" y2="0"><stop offset="0.002587" stop-color="#ffffff"/><stop offset="0.1656" stop-color="#ffffff"/><stop offset="0.1889" stop-color="#bee4f8"/><stop offset="0.2044" stop-color="#ffffff"/><stop offset="0.2199" stop-color="#e99472"/><stop offset="0.2277" stop-color="#e78b66"/><stop offset="0.2432" stop-color="#fae8e0"/><stop offset="0.251" stop-color="#ffffff"/><stop offset="0.2587" stop-color="#e0f2fc"/><stop offset="0.2743" stop-color="#ffffff"/><stop offset="0.7089" stop-color="#ffffff"/><stop offset="0.7167" stop-color="#f2fafe"/><stop offset="0.7322" stop-color="#c9e9f9"/><stop offset="0.7555" stop-color="#ffffff"/><stop offset="0.7943" stop-color="#cceafa"/><stop offset="0.8098" stop-color="#ffffff"/><stop offset="0.8176" stop-color="#ffffff"/><stop offset="0.8409" stop-color="#f7d8ca"/><stop offset="0.8564" stop-color="#ffffff"/><stop offset="0.9961" stop-color="#ffffff"/></linearGradient><clipPath id="fbc2_2"><path d="M1014 348 L1020 348 L1026 348 L1032 348.1 L1038 348.1 L1044 348.2 L1050 348.3 L1056 348.4 L1062 348.5 L1068 348.7 L1074 348.9 L1080 349.5 L1086 352.1 L1092 343.6 L1098 335 L1104 337.5 L1110 346.4 L1116 350.5 L1122 348 L1128 348 L1134 348 L1140 348 L1146 348 L1152 348 L1158 348 L1164 348 L1170 348 L1176 348 L1182 348 L1188 348 L1194 348 L1200 348 L1206 348 L1212 348 L1218 348 L1224 348 L1230 348 L1236 348 L1242 348 L1248 348 L1254 348 L1260 348 L1266 348 L1272 348 L1278 348 L1284 348 L1290 348.5 L1296 351.5 L1302 348.2 L1308 347.6 L1314 350.5 L1320 350.9 L1326 346 L1332 344 L1338 343.5 L1344 346.8 L1350 347.2 L1356 347.3 L1362 347.5 L1368 347.6 L1374 347.7 L1380 347.7 L1386 347.8 L1392 347.8 L1398 347.8 L1398 347.8 L1398 457.3 L1392 457.3 L1386 457.3 L1380 457.3 L1374 457.3 L1368 457.4 L1362 457.4 L1356 457.5 L1350 457.5 L1344 457.6 L1338 457.7 L1332 457.8 L1326 458 L1320 460.5 L1314 461.4 L1308 459.1 L1302 458.5 L1296 458.4 L1290 458.4 L1284 458.4 L1278 458.3 L1272 458.3 L1266 458.3 L1260 458.2 L1254 458.2 L1248 458.2 L1242 458.2 L1236 458.2 L1230 458.1 L1224 458.1 L1218 458.1 L1212 458.1 L1206 458.1 L1200 458.1 L1194 458.1 L1188 458 L1182 458 L1176 458 L1170 458 L1164 458 L1158 458 L1152 458 L1146 458 L1140 458 L1134 458 L1128 458 L1122 458 L1116 458 L1110 458 L1104 462.1 L1098 461.3 L1092 459 L1086 458.9 L1080 458.8 L1074 458.7 L1068 458.6 L1062 458.6 L1056 458.5 L1050 458.5 L1044 458.5 L1038 458.4 L1032 458.4 L1026 458.4 L1020 458.4 L1014 458.4 L1014 458.4 Z"/></clipPath><linearGradient id="fb129" gradientUnits="userSpaceOnUse" x1="1013" x2="1399.5" y1="0" y2="0"><stop offset="0.002587" stop-color="#ffffff"/><stop offset="0.1656" stop-color="#ffffff"/><stop offset="0.1889" stop-color="#bae2f8"/><stop offset="0.2044" stop-color="#ffffff"/><stop offset="0.2199" stop-color="#eba182"/><stop offset="0.2277" stop-color="#ea9877"/><stop offset="0.2432" stop-color="#fae9e1"/><stop offset="0.251" stop-color="#ffffff"/><stop offset="0.2587" stop-color="#def2fb"/><stop offset="0.2743" stop-color="#ffffff"/><stop offset="0.7089" stop-color="#ffffff"/><stop offset="0.7167" stop-color="#f2fafe"/><stop offset="0.7322" stop-color="#c6e8f9"/><stop offset="0.7555" stop-color="#ffffff"/><stop offset="0.7943" stop-color="#cceafa"/><stop offset="0.8098" stop-color="#ffffff"/><stop offset="0.8176" stop-color="#ffffff"/><stop offset="0.8409" stop-color="#f7d8ca"/><stop offset="0.8564" stop-color="#ffffff"/><stop offset="0.9961" stop-color="#ffffff"/></linearGradient><linearGradient id="fb130" gradientUnits="userSpaceOnUse" x1="1013" x2="1399.5" y1="0" y2="0"><stop offset="0.002587" stop-color="#ffffff"/><stop offset="0.1656" stop-color="#ffffff"/><stop offset="0.1889" stop-color="#bee4f8"/><stop offset="0.2044" stop-color="#ffffff"/><stop offset="0.2199" stop-color="#f0bca5"/><stop offset="0.2354" stop-color="#f5d1c1"/><stop offset="0.2432" stop-color="#ffffff"/><stop offset="0.251" stop-color="#ffffff"/><stop offset="0.2587" stop-color="#e1f3fc"/><stop offset="0.2743" stop-color="#ffffff"/><stop offset="0.7089" stop-color="#ffffff"/><stop offset="0.7167" stop-color="#f2fafe"/><stop offset="0.7322" stop-color="#c9e9f9"/><stop offset="0.7555" stop-color="#ffffff"/><stop offset="0.7943" stop-color="#cdebfa"/><stop offset="0.8098" stop-color="#ffffff"/><stop offset="0.8254" stop-color="#ffffff"/><stop offset="0.8409" stop-color="#f8e0d5"/><stop offset="0.8564" stop-color="#ffffff"/><stop offset="0.9961" stop-color="#ffffff"/></linearGradient><linearGradient id="fb131" gradientUnits="userSpaceOnUse" x1="1013" x2="1399.5" y1="0" y2="0"><stop offset="0.002587" stop-color="#ffffff"/><stop offset="0.1656" stop-color="#ffffff"/><stop offset="0.1889" stop-color="#c5e8f9"/><stop offset="0.2044" stop-color="#ffffff"/><stop offset="0.2122" stop-color="#fcf3ee"/><stop offset="0.2277" stop-color="#f6d5c6"/><stop offset="0.2432" stop-color="#ffffff"/><stop offset="0.251" stop-color="#ffffff"/><stop offset="0.2587" stop-color="#e6f5fc"/><stop offset="0.2743" stop-color="#ffffff"/><stop offset="0.7089" stop-color="#ffffff"/><stop offset="0.7322" stop-color="#cfebfa"/><stop offset="0.7555" stop-color="#ffffff"/><stop offset="0.7943" stop-color="#ceebfa"/><stop offset="0.8098" stop-color="#ffffff"/><stop offset="0.8254" stop-color="#ffffff"/><stop offset="0.8409" stop-color="#fbebe4"/><stop offset="0.8486" stop-color="#ffffff"/><stop offset="0.9961" stop-color="#ffffff"/></linearGradient><linearGradient id="fb132" gradientUnits="userSpaceOnUse" x1="1013" x2="1399.5" y1="0" y2="0"><stop offset="0.002587" stop-color="#ffffff"/><stop offset="0.1656" stop-color="#ffffff"/><stop offset="0.1889" stop-color="#cbeafa"/><stop offset="0.2044" stop-color="#ffffff"/><stop offset="0.251" stop-color="#ffffff"/><stop offset="0.2587" stop-color="#ebf7fd"/><stop offset="0.2743" stop-color="#ffffff"/><stop offset="0.7089" stop-color="#ffffff"/><stop offset="0.7322" stop-color="#d5eefb"/><stop offset="0.7555" stop-color="#f4fafe"/><stop offset="0.7943" stop-color="#cfebfa"/><stop offset="0.8098" stop-color="#ffffff"/><stop offset="0.8331" stop-color="#ffffff"/><stop offset="0.8409" stop-color="#fdf6f3"/><stop offset="0.8486" stop-color="#ffffff"/><stop offset="0.9961" stop-color="#ffffff"/></linearGradient><linearGradient id="fb133" gradientUnits="userSpaceOnUse" x1="1013" x2="1399.5" y1="0" y2="0"><stop offset="0.002587" stop-color="#ffffff"/><stop offset="0.1656" stop-color="#ffffff"/><stop offset="0.1966" stop-color="#dbf0fb"/><stop offset="0.2044" stop-color="#ffffff"/><stop offset="0.251" stop-color="#ffffff"/><stop offset="0.2587" stop-color="#f1f9fd"/><stop offset="0.2665" stop-color="#ffffff"/><stop offset="0.7089" stop-color="#ffffff"/><stop offset="0.7322" stop-color="#daf0fb"/><stop offset="0.7555" stop-color="#f0f9fd"/><stop offset="0.7943" stop-color="#d0ecfa"/><stop offset="0.8098" stop-color="#ffffff"/><stop offset="0.9961" stop-color="#ffffff"/></linearGradient><linearGradient id="fb134" gradientUnits="userSpaceOnUse" x1="1013" x2="1399.5" y1="0" y2="0"><stop offset="0.002587" stop-color="#ffffff"/><stop offset="0.1656" stop-color="#ffffff"/><stop offset="0.1966" stop-color="#ddf1fb"/><stop offset="0.2122" stop-color="#f1f9fd"/><stop offset="0.2432" stop-color="#ebf7fd"/><stop offset="0.251" stop-color="#ffffff"/><stop offset="0.7089" stop-color="#ffffff"/><stop offset="0.74" stop-color="#e3f4fc"/><stop offset="0.7633" stop-color="#e4f4fc"/><stop offset="0.7943" stop-color="#d0ecfa"/><stop offset="0.8098" stop-color="#f6fbfe"/><stop offset="0.8176" stop-color="#ffffff"/><stop offset="0.9961" stop-color="#ffffff"/></linearGradient><linearGradient id="fb135" gradientUnits="userSpaceOnUse" x1="1013" x2="1399.5" y1="0" y2="0"><stop offset="0.002587" stop-color="#ffffff"/><stop offset="0.1734" stop-color="#ffffff"/><stop offset="0.1889" stop-color="#def1fb"/><stop offset="0.2354" stop-color="#c8e9f9"/><stop offset="0.251" stop-color="#f4fafe"/><stop offset="0.2587" stop-color="#ffffff"/><stop offset="0.7089" stop-color="#ffffff"/><stop offset="0.74" stop-color="#e7f5fc"/><stop offset="0.7633" stop-color="#e2f3fc"/><stop offset="0.7943" stop-color="#d1ecfa"/><stop offset="0.8176" stop-color="#ffffff"/><stop offset="0.9961" stop-color="#ffffff"/></linearGradient><clipPath id="fbc2_3"><path d="M1014 458.4 L1020 458.4 L1026 458.4 L1032 458.4 L1038 458.4 L1044 458.5 L1050 458.5 L1056 458.5 L1062 458.6 L1068 458.6 L1074 458.7 L1080 458.8 L1086 458.9 L1092 459 L1098 461.3 L1104 462.1 L1110 458 L1116 458 L1122 458 L1128 458 L1134 458 L1140 458 L1146 458 L1152 458 L1158 458 L1164 458 L1170 458 L1176 458 L1182 458 L1188 458 L1194 458.1 L1200 458.1 L1206 458.1 L1212 458.1 L1218 458.1 L1224 458.1 L1230 458.1 L1236 458.2 L1242 458.2 L1248 458.2 L1254 458.2 L1260 458.2 L1266 458.3 L1272 458.3 L1278 458.3 L1284 458.4 L1290 458.4 L1296 458.4 L1302 458.5 L1308 459.1 L1314 461.4 L1320 460.5 L1326 458 L1332 457.8 L1338 457.7 L1344 457.6 L1350 457.5 L1356 457.5 L1362 457.4 L1368 457.4 L1374 457.3 L1380 457.3 L1386 457.3 L1392 457.3 L1398 457.3 L1398 457.3 L1398 569.6 L1392 569.5 L1386 569.4 L1380 569.3 L1374 569.2 L1368 569.2 L1362 569.1 L1356 569.1 L1350 569.1 L1344 569 L1338 569 L1332 569 L1326 569 L1320 569 L1314 569 L1308 569.1 L1302 570.2 L1296 571 L1290 570.2 L1284 569.5 L1278 569.4 L1272 569.4 L1266 569.4 L1260 569.3 L1254 569.3 L1248 569.3 L1242 569.3 L1236 569.3 L1230 569.3 L1224 569.3 L1218 569.3 L1212 569.3 L1206 569.3 L1200 569.3 L1194 569.3 L1188 569.3 L1182 569.2 L1176 569.2 L1170 569.2 L1164 569.2 L1158 569.2 L1152 569.2 L1146 569.2 L1140 569.1 L1134 569.1 L1128 569.1 L1122 569 L1116 568.2 L1110 565.1 L1104 567.2 L1098 569.8 L1092 571.9 L1086 570.9 L1080 569.9 L1074 569.8 L1068 569.7 L1062 569.5 L1056 569.5 L1050 569.4 L1044 569.3 L1038 569.3 L1032 569.2 L1026 569.2 L1020 569.2 L1014 569.2 L1014 569.2 Z"/></clipPath><linearGradient id="fb136" gradientUnits="userSpaceOnUse" x1="1013" x2="1399.5" y1="0" y2="0"><stop offset="0.002587" stop-color="#ffffff"/><stop offset="0.1734" stop-color="#ffffff"/><stop offset="0.1966" stop-color="#def1fb"/><stop offset="0.2354" stop-color="#bfe5f8"/><stop offset="0.251" stop-color="#ffffff"/><stop offset="0.7089" stop-color="#ffffff"/><stop offset="0.74" stop-color="#e7f5fc"/><stop offset="0.771" stop-color="#d6eefb"/><stop offset="0.7943" stop-color="#d3edfa"/><stop offset="0.8176" stop-color="#ffffff"/><stop offset="0.9961" stop-color="#ffffff"/></linearGradient><linearGradient id="fb137" gradientUnits="userSpaceOnUse" x1="1013" x2="1399.5" y1="0" y2="0"><stop offset="0.002587" stop-color="#ffffff"/><stop offset="0.1734" stop-color="#ffffff"/><stop offset="0.1966" stop-color="#dbf0fb"/><stop offset="0.2354" stop-color="#cceafa"/><stop offset="0.251" stop-color="#ffffff"/><stop offset="0.7089" stop-color="#ffffff"/><stop offset="0.74" stop-color="#e5f4fc"/><stop offset="0.771" stop-color="#dbf0fb"/><stop offset="0.7943" stop-color="#d8effb"/><stop offset="0.8176" stop-color="#ffffff"/><stop offset="0.9961" stop-color="#ffffff"/></linearGradient><linearGradient id="fb138" gradientUnits="userSpaceOnUse" x1="1013" x2="1399.5" y1="0" y2="0"><stop offset="0.002587" stop-color="#ffffff"/><stop offset="0.1734" stop-color="#ffffff"/><stop offset="0.1966" stop-color="#d8effb"/><stop offset="0.2354" stop-color="#d8effb"/><stop offset="0.2432" stop-color="#f3fafe"/><stop offset="0.251" stop-color="#ffffff"/><stop offset="0.7089" stop-color="#ffffff"/><stop offset="0.74" stop-color="#e2f3fc"/><stop offset="0.7788" stop-color="#d8effb"/><stop offset="0.8176" stop-color="#ffffff"/><stop offset="0.9961" stop-color="#ffffff"/></linearGradient><linearGradient id="fb139" gradientUnits="userSpaceOnUse" x1="1013" x2="1399.5" y1="0" y2="0"><stop offset="0.002587" stop-color="#ffffff"/><stop offset="0.1734" stop-color="#ffffff"/><stop offset="0.1966" stop-color="#d5eefb"/><stop offset="0.2354" stop-color="#e3f4fc"/><stop offset="0.2432" stop-color="#ffffff"/><stop offset="0.7089" stop-color="#ffffff"/><stop offset="0.7322" stop-color="#dff2fc"/><stop offset="0.771" stop-color="#e4f4fc"/><stop offset="0.8098" stop-color="#f1f9fd"/><stop offset="0.8176" stop-color="#ffffff"/><stop offset="0.9961" stop-color="#ffffff"/></linearGradient><linearGradient id="fb140" gradientUnits="userSpaceOnUse" x1="1013" x2="1399.5" y1="0" y2="0"><stop offset="0.002587" stop-color="#ffffff"/><stop offset="0.1734" stop-color="#ffffff"/><stop offset="0.2044" stop-color="#d0ecfa"/><stop offset="0.2432" stop-color="#ffffff"/><stop offset="0.7089" stop-color="#ffffff"/><stop offset="0.7322" stop-color="#ddf1fb"/><stop offset="0.771" stop-color="#eaf6fd"/><stop offset="0.8098" stop-color="#f2fafe"/><stop offset="0.8176" stop-color="#ffffff"/><stop offset="0.9961" stop-color="#ffffff"/></linearGradient><linearGradient id="fb141" gradientUnits="userSpaceOnUse" x1="1013" x2="1399.5" y1="0" y2="0"><stop offset="0.002587" stop-color="#ffffff"/><stop offset="0.1734" stop-color="#ffffff"/><stop offset="0.2044" stop-color="#cdebfa"/><stop offset="0.2354" stop-color="#ffffff"/><stop offset="0.7089" stop-color="#ffffff"/><stop offset="0.7322" stop-color="#daf0fb"/><stop offset="0.7788" stop-color="#eff9fd"/><stop offset="0.8098" stop-color="#f2fafe"/><stop offset="0.8176" stop-color="#ffffff"/><stop offset="0.9961" stop-color="#ffffff"/></linearGradient><clipPath id="fbc2_4"><path d="M1014 569.2 L1020 569.2 L1026 569.2 L1032 569.2 L1038 569.3 L1044 569.3 L1050 569.4 L1056 569.5 L1062 569.5 L1068 569.7 L1074 569.8 L1080 569.9 L1086 570.9 L1092 571.9 L1098 569.8 L1104 567.2 L1110 565.1 L1116 568.2 L1122 569 L1128 569.1 L1134 569.1 L1140 569.1 L1146 569.2 L1152 569.2 L1158 569.2 L1164 569.2 L1170 569.2 L1176 569.2 L1182 569.2 L1188 569.3 L1194 569.3 L1200 569.3 L1206 569.3 L1212 569.3 L1218 569.3 L1224 569.3 L1230 569.3 L1236 569.3 L1242 569.3 L1248 569.3 L1254 569.3 L1260 569.3 L1266 569.4 L1272 569.4 L1278 569.4 L1284 569.5 L1290 570.2 L1296 571 L1302 570.2 L1308 569.1 L1314 569 L1320 569 L1326 569 L1332 569 L1338 569 L1344 569 L1350 569.1 L1356 569.1 L1362 569.1 L1368 569.2 L1374 569.2 L1380 569.3 L1386 569.4 L1392 569.5 L1398 569.6 L1398 569.6 L1398 680.6 L1392 680.7 L1386 680.9 L1380 681 L1374 681.1 L1368 681.2 L1362 681.3 L1356 681.4 L1350 681.4 L1344 681.5 L1338 681.5 L1332 681.5 L1326 681.5 L1320 681.5 L1314 681.5 L1308 680 L1302 680 L1296 680.5 L1290 680.5 L1284 680.5 L1278 680.5 L1272 680.5 L1266 680.5 L1260 680.5 L1254 680.5 L1248 680.5 L1242 680.5 L1236 680.5 L1230 680.5 L1224 680.5 L1218 680.5 L1212 680.5 L1206 680.5 L1200 680.5 L1194 680.5 L1188 680.5 L1182 680.5 L1176 680.5 L1170 680.5 L1164 680.5 L1158 680.5 L1152 680.5 L1146 680.5 L1140 680.5 L1134 680.5 L1128 680.5 L1122 680.5 L1116 680.5 L1110 680.5 L1104 681.8 L1098 682.3 L1092 681.2 L1086 680.9 L1080 680.9 L1074 680.8 L1068 680.7 L1062 680.7 L1056 680.6 L1050 680.6 L1044 680.6 L1038 680.5 L1032 680.5 L1026 680.5 L1020 680.5 L1014 680.5 L1014 680.5 Z"/></clipPath><linearGradient id="fb142" gradientUnits="userSpaceOnUse" x1="1013" x2="1399.5" y1="0" y2="0"><stop offset="0.002587" stop-color="#ffffff"/><stop offset="0.1734" stop-color="#ffffff"/><stop offset="0.2044" stop-color="#cceafa"/><stop offset="0.2354" stop-color="#ffffff"/><stop offset="0.7089" stop-color="#ffffff"/><stop offset="0.7322" stop-color="#daf0fb"/><stop offset="0.7788" stop-color="#f1f9fd"/><stop offset="0.8098" stop-color="#f1f9fd"/><stop offset="0.8176" stop-color="#ffffff"/><stop offset="0.9961" stop-color="#ffffff"/></linearGradient><linearGradient id="fb143" gradientUnits="userSpaceOnUse" x1="1013" x2="1399.5" y1="0" y2="0"><stop offset="0.002587" stop-color="#ffffff"/><stop offset="0.1734" stop-color="#ffffff"/><stop offset="0.2044" stop-color="#d0ecfa"/><stop offset="0.2354" stop-color="#ffffff"/><stop offset="0.7089" stop-color="#ffffff"/><stop offset="0.7322" stop-color="#ddf1fb"/><stop offset="0.7633" stop-color="#f2fafe"/><stop offset="0.8098" stop-color="#eef8fd"/><stop offset="0.8176" stop-color="#ffffff"/><stop offset="0.9961" stop-color="#ffffff"/></linearGradient><linearGradient id="fb144" gradientUnits="userSpaceOnUse" x1="1013" x2="1399.5" y1="0" y2="0"><stop offset="0.002587" stop-color="#ffffff"/><stop offset="0.1734" stop-color="#ffffff"/><stop offset="0.2044" stop-color="#d4edfa"/><stop offset="0.2432" stop-color="#ffffff"/><stop offset="0.7089" stop-color="#ffffff"/><stop offset="0.74" stop-color="#e2f3fc"/><stop offset="0.7555" stop-color="#f5fbfe"/><stop offset="0.8176" stop-color="#f3fafe"/><stop offset="0.8254" stop-color="#ffffff"/><stop offset="0.9961" stop-color="#ffffff"/></linearGradient><linearGradient id="fb145" gradientUnits="userSpaceOnUse" x1="1013" x2="1399.5" y1="0" y2="0"><stop offset="0.002587" stop-color="#ffffff"/><stop offset="0.1734" stop-color="#ffffff"/><stop offset="0.2044" stop-color="#d8effb"/><stop offset="0.2354" stop-color="#ecf7fd"/><stop offset="0.2432" stop-color="#ffffff"/><stop offset="0.7089" stop-color="#ffffff"/><stop offset="0.74" stop-color="#e5f4fc"/><stop offset="0.7555" stop-color="#ffffff"/><stop offset="0.7865" stop-color="#e8f5fc"/><stop offset="0.8176" stop-color="#f0f9fd"/><stop offset="0.8254" stop-color="#ffffff"/><stop offset="0.9961" stop-color="#ffffff"/></linearGradient><linearGradient id="fb146" gradientUnits="userSpaceOnUse" x1="1013" x2="1399.5" y1="0" y2="0"><stop offset="0.002587" stop-color="#ffffff"/><stop offset="0.1734" stop-color="#ffffff"/><stop offset="0.2044" stop-color="#dcf1fb"/><stop offset="0.2432" stop-color="#f1f9fd"/><stop offset="0.251" stop-color="#ffffff"/><stop offset="0.7167" stop-color="#ffffff"/><stop offset="0.7322" stop-color="#e8f6fc"/><stop offset="0.7555" stop-color="#ffffff"/><stop offset="0.7788" stop-color="#e4f4fc"/><stop offset="0.8254" stop-color="#f6fbfe"/><stop offset="0.8331" stop-color="#ffffff"/><stop offset="0.9961" stop-color="#ffffff"/></linearGradient><linearGradient id="fb147" gradientUnits="userSpaceOnUse" x1="1013" x2="1399.5" y1="0" y2="0"><stop offset="0.002587" stop-color="#ffffff"/><stop offset="0.1734" stop-color="#ffffff"/><stop offset="0.2044" stop-color="#dff2fc"/><stop offset="0.2432" stop-color="#e8f5fc"/><stop offset="0.251" stop-color="#ffffff"/><stop offset="0.7167" stop-color="#ffffff"/><stop offset="0.7322" stop-color="#edf8fd"/><stop offset="0.7555" stop-color="#ffffff"/><stop offset="0.7788" stop-color="#e2f3fc"/><stop offset="0.8254" stop-color="#f2fafe"/><stop offset="0.8331" stop-color="#ffffff"/><stop offset="0.9961" stop-color="#ffffff"/></linearGradient><clipPath id="fbc2_5"><path d="M1014 680.5 L1020 680.5 L1026 680.5 L1032 680.5 L1038 680.5 L1044 680.6 L1050 680.6 L1056 680.6 L1062 680.7 L1068 680.7 L1074 680.8 L1080 680.9 L1086 680.9 L1092 681.2 L1098 682.3 L1104 681.8 L1110 680.5 L1116 680.5 L1122 680.5 L1128 680.5 L1134 680.5 L1140 680.5 L1146 680.5 L1152 680.5 L1158 680.5 L1164 680.5 L1170 680.5 L1176 680.5 L1182 680.5 L1188 680.5 L1194 680.5 L1200 680.5 L1206 680.5 L1212 680.5 L1218 680.5 L1224 680.5 L1230 680.5 L1236 680.5 L1242 680.5 L1248 680.5 L1254 680.5 L1260 680.5 L1266 680.5 L1272 680.5 L1278 680.5 L1284 680.5 L1290 680.5 L1296 680.5 L1302 680 L1308 680 L1314 681.5 L1320 681.5 L1326 681.5 L1332 681.5 L1338 681.5 L1344 681.5 L1350 681.4 L1356 681.4 L1362 681.3 L1368 681.2 L1374 681.1 L1380 681 L1386 680.9 L1392 680.7 L1398 680.6 L1398 680.6 L1398 790.7 L1392 790.8 L1386 790.8 L1380 790.9 L1374 790.9 L1368 790.9 L1362 791 L1356 791 L1350 791 L1344 791 L1338 791 L1332 791 L1326 791 L1320 791 L1314 790 L1308 789.5 L1302 790.5 L1296 790.5 L1290 790.5 L1284 790.5 L1278 790.6 L1272 790.6 L1266 790.6 L1260 790.6 L1254 790.6 L1248 790.6 L1242 790.6 L1236 790.6 L1230 790.6 L1224 790.6 L1218 790.6 L1212 790.6 L1206 790.6 L1200 790.6 L1194 790.6 L1188 790.6 L1182 790.6 L1176 790.6 L1170 790.6 L1164 790.6 L1158 790.6 L1152 790.6 L1146 790.6 L1140 790.6 L1134 790.6 L1128 790.6 L1122 790.7 L1116 790.7 L1110 790.7 L1104 790.7 L1098 790.8 L1092 791.9 L1086 791.7 L1080 791 L1074 790.9 L1068 790.9 L1062 790.8 L1056 790.8 L1050 790.8 L1044 790.7 L1038 790.7 L1032 790.7 L1026 790.7 L1020 790.7 L1014 790.7 L1014 790.7 Z"/></clipPath><linearGradient id="fb148" gradientUnits="userSpaceOnUse" x1="1013" x2="1399.5" y1="0" y2="0"><stop offset="0.002587" stop-color="#ffffff"/><stop offset="0.1734" stop-color="#ffffff"/><stop offset="0.2044" stop-color="#e1f3fc"/><stop offset="0.2432" stop-color="#e4f4fc"/><stop offset="0.2587" stop-color="#ffffff"/><stop offset="0.7167" stop-color="#ffffff"/><stop offset="0.7322" stop-color="#eff8fd"/><stop offset="0.7555" stop-color="#ffffff"/><stop offset="0.7633" stop-color="#ffffff"/><stop offset="0.771" stop-color="#e4f4fc"/><stop offset="0.8254" stop-color="#f1f9fd"/><stop offset="0.8331" stop-color="#ffffff"/><stop offset="0.9961" stop-color="#ffffff"/></linearGradient><linearGradient id="fb149" gradientUnits="userSpaceOnUse" x1="1013" x2="1399.5" y1="0" y2="0"><stop offset="0.002587" stop-color="#ffffff"/><stop offset="0.1734" stop-color="#ffffff"/><stop offset="0.1966" stop-color="#e1f3fc"/><stop offset="0.2432" stop-color="#e5f4fc"/><stop offset="0.2587" stop-color="#ffffff"/><stop offset="0.7167" stop-color="#ffffff"/><stop offset="0.7322" stop-color="#eff8fd"/><stop offset="0.7555" stop-color="#ffffff"/><stop offset="0.7633" stop-color="#ffffff"/><stop offset="0.7788" stop-color="#e5f4fc"/><stop offset="0.8254" stop-color="#f3fafe"/><stop offset="0.8331" stop-color="#ffffff"/><stop offset="0.9961" stop-color="#ffffff"/></linearGradient><linearGradient id="fb150" gradientUnits="userSpaceOnUse" x1="1013" x2="1399.5" y1="0" y2="0"><stop offset="0.002587" stop-color="#ffffff"/><stop offset="0.1734" stop-color="#ffffff"/><stop offset="0.1966" stop-color="#dff2fc"/><stop offset="0.251" stop-color="#f1f9fd"/><stop offset="0.2587" stop-color="#ffffff"/><stop offset="0.7167" stop-color="#ffffff"/><stop offset="0.7322" stop-color="#eff8fd"/><stop offset="0.7555" stop-color="#ffffff"/><stop offset="0.7633" stop-color="#ffffff"/><stop offset="0.7943" stop-color="#e3f4fc"/><stop offset="0.8331" stop-color="#ffffff"/><stop offset="0.9961" stop-color="#ffffff"/></linearGradient><linearGradient id="fb151" gradientUnits="userSpaceOnUse" x1="1013" x2="1399.5" y1="0" y2="0"><stop offset="0.002587" stop-color="#ffffff"/><stop offset="0.1734" stop-color="#ffffff"/><stop offset="0.1966" stop-color="#def1fb"/><stop offset="0.251" stop-color="#f1f9fd"/><stop offset="0.2587" stop-color="#ffffff"/><stop offset="0.7167" stop-color="#ffffff"/><stop offset="0.7322" stop-color="#eff9fd"/><stop offset="0.7555" stop-color="#ffffff"/><stop offset="0.771" stop-color="#ffffff"/><stop offset="0.7943" stop-color="#e5f4fc"/><stop offset="0.8176" stop-color="#edf8fd"/><stop offset="0.8254" stop-color="#ffffff"/><stop offset="0.9961" stop-color="#ffffff"/></linearGradient><linearGradient id="fb152" gradientUnits="userSpaceOnUse" x1="1013" x2="1399.5" y1="0" y2="0"><stop offset="0.002587" stop-color="#ffffff"/><stop offset="0.1734" stop-color="#ffffff"/><stop offset="0.1966" stop-color="#dcf1fb"/><stop offset="0.251" stop-color="#f1f9fd"/><stop offset="0.2587" stop-color="#ffffff"/><stop offset="0.7167" stop-color="#ffffff"/><stop offset="0.7322" stop-color="#eff9fd"/><stop offset="0.7633" stop-color="#ffffff"/><stop offset="0.771" stop-color="#ffffff"/><stop offset="0.7943" stop-color="#e6f5fc"/><stop offset="0.8176" stop-color="#eff8fd"/><stop offset="0.8254" stop-color="#ffffff"/><stop offset="0.9961" stop-color="#ffffff"/></linearGradient><linearGradient id="fb153" gradientUnits="userSpaceOnUse" x1="1013" x2="1399.5" y1="0" y2="0"><stop offset="0.002587" stop-color="#ffffff"/><stop offset="0.1734" stop-color="#ffffff"/><stop offset="0.1966" stop-color="#daf0fb"/><stop offset="0.251" stop-color="#f1f9fd"/><stop offset="0.2587" stop-color="#ffffff"/><stop offset="0.7167" stop-color="#ffffff"/><stop offset="0.7322" stop-color="#f0f9fd"/><stop offset="0.7555" stop-color="#f2fafe"/><stop offset="0.7633" stop-color="#ffffff"/><stop offset="0.771" stop-color="#ffffff"/><stop offset="0.8021" stop-color="#e8f6fc"/><stop offset="0.8254" stop-color="#ffffff"/><stop offset="0.9961" stop-color="#ffffff"/></linearGradient><filter id="fbblur" x="0" y="-20%" width="100%" height="140%"><feGaussianBlur stdDeviation="0 4"/></filter></defs><g clip-path="url(#fbc0_0)"><g filter="url(#fbblur)"><rect x="92" y="61" width="384.5" height="19.9" fill="url(#fb0)"/><rect x="92" y="79.9" width="384.5" height="19.9" fill="url(#fb1)"/><rect x="92" y="98.8" width="384.5" height="19.9" fill="url(#fb2)"/><rect x="92" y="117.8" width="384.5" height="19.9" fill="url(#fb3)"/><rect x="92" y="136.7" width="384.5" height="19.9" fill="url(#fb4)"/><rect x="92" y="155.6" width="384.5" height="19.9" fill="url(#fb5)"/><rect x="92" y="174.6" width="384.5" height="19.9" fill="url(#fb6)"/><rect x="92" y="193.5" width="384.5" height="19.9" fill="url(#fb7)"/><rect x="92" y="212.4" width="384.5" height="19.9" fill="url(#fb8)"/></g></g><g clip-path="url(#fbc0_1)"><g filter="url(#fbblur)"><rect x="92" y="146.5" width="384.5" height="20.2" fill="url(#fb9)"/><rect x="92" y="165.7" width="384.5" height="20.2" fill="url(#fb10)"/><rect x="92" y="185" width="384.5" height="20.2" fill="url(#fb11)"/><rect x="92" y="204.2" width="384.5" height="20.2" fill="url(#fb12)"/><rect x="92" y="223.4" width="384.5" height="20.2" fill="url(#fb13)"/><rect x="92" y="242.6" width="384.5" height="20.2" fill="url(#fb14)"/><rect x="92" y="261.8" width="384.5" height="20.2" fill="url(#fb15)"/></g></g><g clip-path="url(#fbc0_2)"><g filter="url(#fbblur)"><rect x="92" y="231.7" width="384.5" height="19" fill="url(#fb16)"/><rect x="92" y="249.7" width="384.5" height="19" fill="url(#fb17)"/><rect x="92" y="267.7" width="384.5" height="19" fill="url(#fb18)"/><rect x="92" y="285.7" width="384.5" height="19" fill="url(#fb19)"/><rect x="92" y="303.7" width="384.5" height="19" fill="url(#fb20)"/><rect x="92" y="321.7" width="384.5" height="19" fill="url(#fb21)"/></g></g><g clip-path="url(#fbc0_3)"><g filter="url(#fbblur)"><rect x="92" y="305.4" width="384.5" height="20.5" fill="url(#fb22)"/><rect x="92" y="324.8" width="384.5" height="20.5" fill="url(#fb23)"/><rect x="92" y="344.3" width="384.5" height="20.5" fill="url(#fb24)"/><rect x="92" y="363.8" width="384.5" height="20.5" fill="url(#fb25)"/><rect x="92" y="383.3" width="384.5" height="20.5" fill="url(#fb26)"/></g></g><g clip-path="url(#fbc0_4)"><g filter="url(#fbblur)"><rect x="92" y="380.3" width="384.5" height="17.6" fill="url(#fb27)"/><rect x="92" y="396.9" width="384.5" height="17.6" fill="url(#fb28)"/><rect x="92" y="413.5" width="384.5" height="17.6" fill="url(#fb29)"/><rect x="92" y="430.1" width="384.5" height="17.6" fill="url(#fb30)"/><rect x="92" y="446.7" width="384.5" height="17.6" fill="url(#fb31)"/></g></g><g clip-path="url(#fbc0_5)"><g filter="url(#fbblur)"><rect x="92" y="453.5" width="384.5" height="20.9" fill="url(#fb32)"/><rect x="92" y="473.4" width="384.5" height="20.9" fill="url(#fb33)"/><rect x="92" y="493.2" width="384.5" height="20.9" fill="url(#fb34)"/><rect x="92" y="513.1" width="384.5" height="20.9" fill="url(#fb35)"/></g></g><g clip-path="url(#fbc0_6)"><g filter="url(#fbblur)"><rect x="92" y="517.2" width="384.5" height="20.4" fill="url(#fb36)"/><rect x="92" y="536.6" width="384.5" height="20.4" fill="url(#fb37)"/><rect x="92" y="556" width="384.5" height="20.4" fill="url(#fb38)"/><rect x="92" y="575.5" width="384.5" height="20.4" fill="url(#fb39)"/></g></g><g clip-path="url(#fbc0_7)"><g filter="url(#fbblur)"><rect x="92" y="588.7" width="384.5" height="19.4" fill="url(#fb40)"/><rect x="92" y="607.1" width="384.5" height="19.4" fill="url(#fb41)"/><rect x="92" y="625.5" width="384.5" height="19.4" fill="url(#fb42)"/><rect x="92" y="643.9" width="384.5" height="19.4" fill="url(#fb43)"/></g></g><g clip-path="url(#fbc0_8)"><g filter="url(#fbblur)"><rect x="92" y="652.5" width="384.5" height="20.1" fill="url(#fb44)"/><rect x="92" y="671.6" width="384.5" height="20.1" fill="url(#fb45)"/><rect x="92" y="690.7" width="384.5" height="20.1" fill="url(#fb46)"/><rect x="92" y="709.8" width="384.5" height="20.1" fill="url(#fb47)"/></g></g><g clip-path="url(#fbc0_9)"><g filter="url(#fbblur)"><rect x="92" y="718.9" width="384.5" height="19.9" fill="url(#fb48)"/><rect x="92" y="737.9" width="384.5" height="19.9" fill="url(#fb49)"/><rect x="92" y="756.8" width="384.5" height="19.9" fill="url(#fb50)"/><rect x="92" y="775.8" width="384.5" height="19.9" fill="url(#fb51)"/></g></g><g clip-path="url(#fbc1_0)"><g filter="url(#fbblur)"><rect x="552.5" y="91" width="386" height="19.7" fill="url(#fb52)"/><rect x="552.5" y="109.8" width="386" height="19.7" fill="url(#fb53)"/><rect x="552.5" y="128.5" width="386" height="19.7" fill="url(#fb54)"/><rect x="552.5" y="147.3" width="386" height="19.7" fill="url(#fb55)"/><rect x="552.5" y="166" width="386" height="19.7" fill="url(#fb56)"/><rect x="552.5" y="184.8" width="386" height="19.7" fill="url(#fb57)"/><rect x="552.5" y="203.5" width="386" height="19.7" fill="url(#fb58)"/><rect x="552.5" y="222.3" width="386" height="19.7" fill="url(#fb59)"/></g></g><g clip-path="url(#fbc1_1)"><g filter="url(#fbblur)"><rect x="552.5" y="141.1" width="386" height="19.1" fill="url(#fb60)"/><rect x="552.5" y="159.2" width="386" height="19.1" fill="url(#fb61)"/><rect x="552.5" y="177.2" width="386" height="19.1" fill="url(#fb62)"/><rect x="552.5" y="195.3" width="386" height="19.1" fill="url(#fb63)"/><rect x="552.5" y="213.4" width="386" height="19.1" fill="url(#fb64)"/><rect x="552.5" y="231.4" width="386" height="19.1" fill="url(#fb65)"/><rect x="552.5" y="249.5" width="386" height="19.1" fill="url(#fb66)"/><rect x="552.5" y="267.6" width="386" height="19.1" fill="url(#fb67)"/></g></g><g clip-path="url(#fbc1_2)"><g filter="url(#fbblur)"><rect x="552.5" y="190.6" width="386" height="20.1" fill="url(#fb68)"/><rect x="552.5" y="209.7" width="386" height="20.1" fill="url(#fb69)"/><rect x="552.5" y="228.9" width="386" height="20.1" fill="url(#fb70)"/><rect x="552.5" y="248" width="386" height="20.1" fill="url(#fb71)"/><rect x="552.5" y="267.2" width="386" height="20.1" fill="url(#fb72)"/><rect x="552.5" y="286.3" width="386" height="20.1" fill="url(#fb73)"/><rect x="552.5" y="305.5" width="386" height="20.1" fill="url(#fb74)"/><rect x="552.5" y="324.6" width="386" height="20.1" fill="url(#fb75)"/></g></g><g clip-path="url(#fbc1_3)"><g filter="url(#fbblur)"><rect x="552.5" y="296.9" width="386" height="18.3" fill="url(#fb76)"/><rect x="552.5" y="314.2" width="386" height="18.3" fill="url(#fb77)"/><rect x="552.5" y="331.5" width="386" height="18.3" fill="url(#fb78)"/><rect x="552.5" y="348.7" width="386" height="18.3" fill="url(#fb79)"/><rect x="552.5" y="366" width="386" height="18.3" fill="url(#fb80)"/><rect x="552.5" y="383.3" width="386" height="18.3" fill="url(#fb81)"/></g></g><g clip-path="url(#fbc1_4)"><g filter="url(#fbblur)"><rect x="552.5" y="373.2" width="386" height="19.5" fill="url(#fb82)"/><rect x="552.5" y="391.8" width="386" height="19.5" fill="url(#fb83)"/><rect x="552.5" y="410.3" width="386" height="19.5" fill="url(#fb84)"/><rect x="552.5" y="428.9" width="386" height="19.5" fill="url(#fb85)"/><rect x="552.5" y="447.4" width="386" height="19.5" fill="url(#fb86)"/><rect x="552.5" y="466" width="386" height="19.5" fill="url(#fb87)"/></g></g><g clip-path="url(#fbc1_5)"><g filter="url(#fbblur)"><rect x="552.5" y="419.1" width="386" height="18.3" fill="url(#fb88)"/><rect x="552.5" y="436.4" width="386" height="18.3" fill="url(#fb89)"/><rect x="552.5" y="453.7" width="386" height="18.3" fill="url(#fb90)"/><rect x="552.5" y="471" width="386" height="18.3" fill="url(#fb91)"/><rect x="552.5" y="488.3" width="386" height="18.3" fill="url(#fb92)"/><rect x="552.5" y="505.6" width="386" height="18.3" fill="url(#fb93)"/><rect x="552.5" y="522.9" width="386" height="18.3" fill="url(#fb94)"/></g></g><g clip-path="url(#fbc1_6)"><g filter="url(#fbblur)"><rect x="552.5" y="514.7" width="386" height="17.5" fill="url(#fb95)"/><rect x="552.5" y="531.2" width="386" height="17.5" fill="url(#fb96)"/><rect x="552.5" y="547.6" width="386" height="17.5" fill="url(#fb97)"/><rect x="552.5" y="564.1" width="386" height="17.5" fill="url(#fb98)"/><rect x="552.5" y="580.6" width="386" height="17.5" fill="url(#fb99)"/></g></g><g clip-path="url(#fbc1_7)"><g filter="url(#fbblur)"><rect x="552.5" y="585.8" width="386" height="20.3" fill="url(#fb100)"/><rect x="552.5" y="605" width="386" height="20.3" fill="url(#fb101)"/><rect x="552.5" y="624.3" width="386" height="20.3" fill="url(#fb102)"/><rect x="552.5" y="643.5" width="386" height="20.3" fill="url(#fb103)"/></g></g><g clip-path="url(#fbc1_8)"><g filter="url(#fbblur)"><rect x="552.5" y="654.6" width="386" height="19.5" fill="url(#fb104)"/><rect x="552.5" y="673.2" width="386" height="19.5" fill="url(#fb105)"/><rect x="552.5" y="691.7" width="386" height="19.5" fill="url(#fb106)"/><rect x="552.5" y="710.3" width="386" height="19.5" fill="url(#fb107)"/></g></g><g clip-path="url(#fbc1_9)"><g filter="url(#fbblur)"><rect x="552.5" y="724" width="386" height="19.7" fill="url(#fb108)"/><rect x="552.5" y="742.7" width="386" height="19.7" fill="url(#fb109)"/><rect x="552.5" y="761.4" width="386" height="19.7" fill="url(#fb110)"/><rect x="552.5" y="780.1" width="386" height="19.7" fill="url(#fb111)"/></g></g><g clip-path="url(#fbc2_0)"><g filter="url(#fbblur)"><rect x="1013" y="60" width="386.5" height="19.2" fill="url(#fb112)"/><rect x="1013" y="78.2" width="386.5" height="19.2" fill="url(#fb113)"/><rect x="1013" y="96.4" width="386.5" height="19.2" fill="url(#fb114)"/><rect x="1013" y="114.7" width="386.5" height="19.2" fill="url(#fb115)"/><rect x="1013" y="132.9" width="386.5" height="19.2" fill="url(#fb116)"/><rect x="1013" y="151.1" width="386.5" height="19.2" fill="url(#fb117)"/><rect x="1013" y="169.3" width="386.5" height="19.2" fill="url(#fb118)"/><rect x="1013" y="187.5" width="386.5" height="19.2" fill="url(#fb119)"/><rect x="1013" y="205.8" width="386.5" height="19.2" fill="url(#fb120)"/><rect x="1013" y="224" width="386.5" height="19.2" fill="url(#fb121)"/></g></g><g clip-path="url(#fbc2_1)"><g filter="url(#fbblur)"><rect x="1013" y="231.3" width="386.5" height="18.2" fill="url(#fb122)"/><rect x="1013" y="248.5" width="386.5" height="18.2" fill="url(#fb123)"/><rect x="1013" y="265.7" width="386.5" height="18.2" fill="url(#fb124)"/><rect x="1013" y="282.9" width="386.5" height="18.2" fill="url(#fb125)"/><rect x="1013" y="300.1" width="386.5" height="18.2" fill="url(#fb126)"/><rect x="1013" y="317.3" width="386.5" height="18.2" fill="url(#fb127)"/><rect x="1013" y="334.4" width="386.5" height="18.2" fill="url(#fb128)"/></g></g><g clip-path="url(#fbc2_2)"><g filter="url(#fbblur)"><rect x="1013" y="333.5" width="386.5" height="19.4" fill="url(#fb129)"/><rect x="1013" y="351.8" width="386.5" height="19.4" fill="url(#fb130)"/><rect x="1013" y="370.2" width="386.5" height="19.4" fill="url(#fb131)"/><rect x="1013" y="388.6" width="386.5" height="19.4" fill="url(#fb132)"/><rect x="1013" y="406.9" width="386.5" height="19.4" fill="url(#fb133)"/><rect x="1013" y="425.3" width="386.5" height="19.4" fill="url(#fb134)"/><rect x="1013" y="443.7" width="386.5" height="19.4" fill="url(#fb135)"/></g></g><g clip-path="url(#fbc2_3)"><g filter="url(#fbblur)"><rect x="1013" y="456.8" width="386.5" height="20.1" fill="url(#fb136)"/><rect x="1013" y="475.9" width="386.5" height="20.1" fill="url(#fb137)"/><rect x="1013" y="495" width="386.5" height="20.1" fill="url(#fb138)"/><rect x="1013" y="514.1" width="386.5" height="20.1" fill="url(#fb139)"/><rect x="1013" y="533.2" width="386.5" height="20.1" fill="url(#fb140)"/><rect x="1013" y="552.3" width="386.5" height="20.1" fill="url(#fb141)"/></g></g><g clip-path="url(#fbc2_4)"><g filter="url(#fbblur)"><rect x="1013" y="564.6" width="386.5" height="20.6" fill="url(#fb142)"/><rect x="1013" y="584.1" width="386.5" height="20.6" fill="url(#fb143)"/><rect x="1013" y="603.7" width="386.5" height="20.6" fill="url(#fb144)"/><rect x="1013" y="623.2" width="386.5" height="20.6" fill="url(#fb145)"/><rect x="1013" y="642.8" width="386.5" height="20.6" fill="url(#fb146)"/><rect x="1013" y="662.4" width="386.5" height="20.6" fill="url(#fb147)"/></g></g><g clip-path="url(#fbc2_5)"><g filter="url(#fbblur)"><rect x="1013" y="678.5" width="386.5" height="19.8" fill="url(#fb148)"/><rect x="1013" y="697.3" width="386.5" height="19.8" fill="url(#fb149)"/><rect x="1013" y="716.2" width="386.5" height="19.8" fill="url(#fb150)"/><rect x="1013" y="735" width="386.5" height="19.8" fill="url(#fb151)"/><rect x="1013" y="753.8" width="386.5" height="19.8" fill="url(#fb152)"/><rect x="1013" y="772.6" width="386.5" height="19.8" fill="url(#fb153)"/></g></g></svg><canvas id="cv" width="1408" height="880" style="position:absolute;left:0;top:0"></canvas><svg width="1408" height="2072" viewBox="0 0 1408 2072" style="position:absolute;left:0;top:0">
<defs>
<radialGradient id="dot" cx="0.5" cy="0.5" r="0.5"><stop offset="0" stop-color="#ffff10"/><stop offset="0.22" stop-color="#f8d010"/><stop offset="0.38" stop-color="#f08018"/><stop offset="0.46" stop-color="#a83060"/><stop offset="0.54" stop-color="#2020e0"/><stop offset="0.66" stop-color="#2070ff"/><stop offset="0.78" stop-color="#60c0f0"/><stop offset="0.9" stop-color="#b8e4f8" stop-opacity="0.6"/><stop offset="1" stop-color="#ffffff" stop-opacity="0"/></radialGradient>
<clipPath id="clipc6"><rect x="1201.5" y="640" width="60" height="40"/></clipPath>
<clipPath id="clipa9"><rect x="290" y="630" width="40" height="22.5"/></clipPath>
<linearGradient id="cgr" x1="0" y1="0" x2="1" y2="1"><stop offset="0" stop-color="#000"/><stop offset="0.45" stop-color="#000"/><stop offset="0.72" stop-color="#777"/><stop offset="1" stop-color="#f4f4f4"/></linearGradient>
</defs>
<ellipse cx="308.5" cy="95.4" rx="9.6" ry="13.6" fill="url(#dot)"/>
<ellipse cx="0" cy="0" rx="14" ry="9.6" fill="url(#dot)" transform="translate(773.8 97.6) rotate(-33)"/>
<circle cx="308.5" cy="153.7" r="9.8" fill="url(#dot)"/>
<circle cx="308.5" cy="166.5" r="9.8" fill="url(#dot)"/>
<circle cx="308.5" cy="218.3" r="9.8" fill="url(#dot)"/>
<circle cx="308.5" cy="234.7" r="9.8" fill="url(#dot)"/>
<circle cx="308.5" cy="281.9" r="9.8" fill="url(#dot)"/>
<circle cx="308.5" cy="302.5" r="9.8" fill="url(#dot)"/>
<circle cx="309.5" cy="343" r="9.8" fill="url(#dot)"/>
<circle cx="309.5" cy="367.8" r="9.8" fill="url(#dot)"/>
<circle cx="308.5" cy="412.5" r="9.8" fill="url(#dot)"/>
<circle cx="308.5" cy="438.5" r="9.8" fill="url(#dot)"/>
<circle cx="308.5" cy="475.5" r="9.8" fill="url(#dot)"/>
<circle cx="308.5" cy="508.8" r="9.8" fill="url(#dot)"/>
<circle cx="308.5" cy="543" r="9.8" fill="url(#dot)"/>
<circle cx="308.5" cy="580" r="9.8" fill="url(#dot)"/>
<circle cx="308.5" cy="610.4" r="9.8" fill="url(#dot)"/>
<circle cx="309" cy="650.5" r="9.8" fill="url(#dot)" clip-path="url(#clipa9)"/>
<circle cx="769.1" cy="165" r="9.8" fill="url(#dot)"/>
<circle cx="778.4" cy="158.7" r="9.8" fill="url(#dot)"/>
<circle cx="767.7" cy="233.2" r="9.8" fill="url(#dot)"/>
<circle cx="779.8" cy="224.7" r="9.8" fill="url(#dot)"/>
<circle cx="769.1" cy="302.5" r="9.8" fill="url(#dot)"/>
<circle cx="784" cy="291.8" r="9.8" fill="url(#dot)"/>
<circle cx="767" cy="365.7" r="9.8" fill="url(#dot)"/>
<circle cx="784.3" cy="353.6" r="9.8" fill="url(#dot)"/>
<circle cx="762.7" cy="431" r="9.8" fill="url(#dot)"/>
<circle cx="783.3" cy="416.1" r="9.8" fill="url(#dot)"/>
<circle cx="759.9" cy="502.4" r="9.8" fill="url(#dot)"/>
<circle cx="784" cy="485.4" r="9.8" fill="url(#dot)"/>
<circle cx="759.9" cy="570.6" r="9.8" fill="url(#dot)"/>
<circle cx="786.2" cy="552.2" r="9.8" fill="url(#dot)"/>
<circle cx="758.5" cy="637" r="9.8" fill="url(#dot)"/>
<circle cx="788.3" cy="616" r="9.8" fill="url(#dot)"/>
<circle cx="753.5" cy="703.8" r="9.8" fill="url(#dot)"/>
<circle cx="785.5" cy="681" r="9.8" fill="url(#dot)"/>
<circle cx="754.2" cy="771.3" r="9.8" fill="url(#dot)"/>
<circle cx="789.7" cy="747.1" r="9.8" fill="url(#dot)"/>
<circle cx="1227.3" cy="109.1" r="9.8" fill="url(#dot)"/>
<circle cx="1238.7" cy="109.1" r="9.8" fill="url(#dot)"/>
<circle cx="1225.8" cy="214" r="9.8" fill="url(#dot)"/>
<circle cx="1243.6" cy="214" r="9.8" fill="url(#dot)"/>
<circle cx="1221.4" cy="323.5" r="9.8" fill="url(#dot)"/>
<circle cx="1244.3" cy="323.5" r="9.8" fill="url(#dot)"/>
<circle cx="1214.8" cy="437.3" r="9.8" fill="url(#dot)"/>
<circle cx="1244.3" cy="437.3" r="9.8" fill="url(#dot)"/>
<circle cx="1208.1" cy="548.9" r="9.8" fill="url(#dot)"/>
<circle cx="1243.3" cy="548.9" r="9.8" fill="url(#dot)"/>
<circle cx="1205.8" cy="658.5" r="9.8" fill="url(#dot)" clip-path="url(#clipc6)"/>
<circle cx="1245.3" cy="658.5" r="9.8" fill="url(#dot)"/>
<circle cx="263.4" cy="97" r="17.3" fill="none" stroke="url(#cgr)" stroke-width="1.9"/>
<text x="263.4" y="106" font-size="25" text-anchor="middle" font-family='"Liberation Sans", sans-serif'>1</text>
<circle cx="263.4" cy="162" r="17.3" fill="none" stroke="url(#cgr)" stroke-width="1.9"/>
<text x="263.4" y="171" font-size="25" text-anchor="middle" font-family='"Liberation Sans", sans-serif'>2</text>
<circle cx="263.4" cy="227.5" r="17.3" fill="none" stroke="url(#cgr)" stroke-width="1.9"/>
<text x="263.4" y="236.5" font-size="25" text-anchor="middle" font-family='"Liberation Sans", sans-serif'>3</text>
<circle cx="263.4" cy="296.8" r="17.3" fill="none" stroke="url(#cgr)" stroke-width="1.9"/>
<text x="263.4" y="305.8" font-size="25" text-anchor="middle" font-family='"Liberation Sans", sans-serif'>4</text>
<circle cx="263.4" cy="361.4" r="17.3" fill="none" stroke="url(#cgr)" stroke-width="1.9"/>
<text x="263.4" y="370.4" font-size="25" text-anchor="middle" font-family='"Liberation Sans", sans-serif'>5</text>
<circle cx="263.4" cy="427.5" r="17.3" fill="none" stroke="url(#cgr)" stroke-width="1.9"/>
<text x="263.4" y="436.5" font-size="25" text-anchor="middle" font-family='"Liberation Sans", sans-serif'>6</text>
<circle cx="263.4" cy="492.5" r="17.3" fill="none" stroke="url(#cgr)" stroke-width="1.9"/>
<text x="263.4" y="501.5" font-size="25" text-anchor="middle" font-family='"Liberation Sans", sans-serif'>7</text>
<circle cx="263.4" cy="562" r="17.3" fill="none" stroke="url(#cgr)" stroke-width="1.9"/>
<text x="263.4" y="571" font-size="25" text-anchor="middle" font-family='"Liberation Sans", sans-serif'>8</text>
<circle cx="263.4" cy="628.5" r="17.3" fill="none" stroke="url(#cgr)" stroke-width="1.9"/>
<text x="263.4" y="637.5" font-size="25" text-anchor="middle" font-family='"Liberation Sans", sans-serif'>9</text>
<circle cx="263.4" cy="692.4" r="17.3" fill="none" stroke="url(#cgr)" stroke-width="1.9"/>
<text x="265.2" y="701.4" font-size="22.5" text-anchor="middle" font-family='"Liberation Sans", sans-serif'>10</text>
<circle cx="263.4" cy="764" r="17.3" fill="none" stroke="url(#cgr)" stroke-width="1.9"/>
<text x="265.2" y="773" font-size="22.5" text-anchor="middle" font-family='"Liberation Sans", sans-serif'>11</text>
<circle cx="718.4" cy="100.4" r="17.3" fill="none" stroke="url(#cgr)" stroke-width="1.9"/>
<text x="718.4" y="109.4" font-size="25" text-anchor="middle" font-family='"Liberation Sans", sans-serif'>1</text>
<circle cx="718.4" cy="165.8" r="17.3" fill="none" stroke="url(#cgr)" stroke-width="1.9"/>
<text x="718.4" y="174.8" font-size="25" text-anchor="middle" font-family='"Liberation Sans", sans-serif'>2</text>
<circle cx="718.4" cy="231" r="17.3" fill="none" stroke="url(#cgr)" stroke-width="1.9"/>
<text x="718.4" y="240" font-size="25" text-anchor="middle" font-family='"Liberation Sans", sans-serif'>3</text>
<circle cx="718.4" cy="296.8" r="17.3" fill="none" stroke="url(#cgr)" stroke-width="1.9"/>
<text x="718.4" y="305.8" font-size="25" text-anchor="middle" font-family='"Liberation Sans", sans-serif'>4</text>
<circle cx="718.4" cy="362.2" r="17.3" fill="none" stroke="url(#cgr)" stroke-width="1.9"/>
<text x="718.4" y="371.2" font-size="25" text-anchor="middle" font-family='"Liberation Sans", sans-serif'>5</text>
<circle cx="718.4" cy="427.5" r="17.3" fill="none" stroke="url(#cgr)" stroke-width="1.9"/>
<text x="718.4" y="436.5" font-size="25" text-anchor="middle" font-family='"Liberation Sans", sans-serif'>6</text>
<circle cx="718.4" cy="494" r="17.3" fill="none" stroke="url(#cgr)" stroke-width="1.9"/>
<text x="718.4" y="503" font-size="25" text-anchor="middle" font-family='"Liberation Sans", sans-serif'>7</text>
<circle cx="718.4" cy="560" r="17.3" fill="none" stroke="url(#cgr)" stroke-width="1.9"/>
<text x="718.4" y="569" font-size="25" text-anchor="middle" font-family='"Liberation Sans", sans-serif'>8</text>
<circle cx="718.4" cy="626.4" r="17.3" fill="none" stroke="url(#cgr)" stroke-width="1.9"/>
<text x="718.4" y="635.4" font-size="25" text-anchor="middle" font-family='"Liberation Sans", sans-serif'>9</text>
<circle cx="718.4" cy="691" r="17.3" fill="none" stroke="url(#cgr)" stroke-width="1.9"/>
<text x="720.2" y="700" font-size="22.5" text-anchor="middle" font-family='"Liberation Sans", sans-serif'>10</text>
<circle cx="718.4" cy="761.3" r="17.3" fill="none" stroke="url(#cgr)" stroke-width="1.9"/>
<text x="720.2" y="770.3" font-size="22.5" text-anchor="middle" font-family='"Liberation Sans", sans-serif'>11</text>
<circle cx="1184.1" cy="96.9" r="17.3" fill="none" stroke="url(#cgr)" stroke-width="1.9"/>
<text x="1184.1" y="105.9" font-size="25" text-anchor="middle" font-family='"Liberation Sans", sans-serif'>1</text>
<circle cx="1184.1" cy="194.2" r="17.3" fill="none" stroke="url(#cgr)" stroke-width="1.9"/>
<text x="1184.1" y="203.2" font-size="25" text-anchor="middle" font-family='"Liberation Sans", sans-serif'>2</text>
<circle cx="1184.1" cy="298.2" r="17.3" fill="none" stroke="url(#cgr)" stroke-width="1.9"/>
<text x="1184.1" y="307.2" font-size="25" text-anchor="middle" font-family='"Liberation Sans", sans-serif'>3</text>
<circle cx="1184.1" cy="412.6" r="17.3" fill="none" stroke="url(#cgr)" stroke-width="1.9"/>
<text x="1184.1" y="421.6" font-size="25" text-anchor="middle" font-family='"Liberation Sans", sans-serif'>4</text>
<circle cx="1184.1" cy="518" r="17.3" fill="none" stroke="url(#cgr)" stroke-width="1.9"/>
<text x="1184.1" y="527" font-size="25" text-anchor="middle" font-family='"Liberation Sans", sans-serif'>5</text>
<circle cx="1184.1" cy="624.9" r="17.3" fill="none" stroke="url(#cgr)" stroke-width="1.9"/>
<text x="1184.1" y="633.9" font-size="25" text-anchor="middle" font-family='"Liberation Sans", sans-serif'>6</text>
<circle cx="1184.1" cy="737" r="17.3" fill="none" stroke="url(#cgr)" stroke-width="1.9"/>
<text x="1184.1" y="746" font-size="25" text-anchor="middle" font-family='"Liberation Sans", sans-serif'>7</text>
<g fill="none" stroke="#000" stroke-width="6.3" stroke-linejoin="round" stroke-linecap="butt">
<path d="M92 132.4 L106.5 132 L113.5 132.4 L115 132.9 L117.5 135.7 L127 151.4 L128.5 153.1 L130 153.6 L131 151.7 L132 147.8 L137 120.4 L140.5 99.4 L144 74.3 L146.5 64.4 L147.5 61.7 L148.5 60.5 L149.5 60.9 L150.5 62.2 L153 67.1 L159.5 88.9 L162.5 96.1 L166.5 102.4 L172.5 106.9 L174.5 111.4 L179 127.6 L181.5 138.3 L187 172.6 L188 176.4 L189 175.5 L190.5 172 L195.5 150.1 L197 144.9 L198.5 141.3 L201.5 136.4 L206.5 130.4 L208 129.5 L212.5 128.5 L219.5 127.8 L255.5 127.3 L352 127.5 L354 128.1 L356.5 129.5 L362.5 134.5 L372.5 149.4 L374 151.1 L375 151.6 L376 151.3 L377.5 149.6 L382.5 140.5 L385 138.5 L391 135.1 L397 130 L401 125.9 L407.5 117.3 L410 114.6 L417 110.2 L426 107.1 L429.5 106.9 L431 107.6 L432.5 109 L437.5 115.7 L443 127 L445.5 130.1 L448.5 130.2 L459.5 129 L476.5 128.8"/>
<path d="M92 193.5 L151.5 195.9 L153.5 193.4 L157 185 L163 160 L166.5 149.6 L168 147 L169 146.6 L170.5 147.8 L172.5 151.5 L174.5 156.4 L176 162.2 L180 185 L183.5 211.9 L185.5 224 L187 231.2 L188 233 L189 231.8 L190 229 L196.5 206.2 L199.5 199.9 L201.5 196.8 L203 195.3 L209.5 193.5 L215 193 L274.5 193.5 L359.5 193.5 L360.5 193.8 L362 195.1 L367 201.8 L369 202.7 L370 201.8 L371.5 198.5 L375 187.6 L382 169.2 L384 165.5 L385.5 164.3 L386.5 164.6 L388 166.8 L397.5 192.3 L399 195.5 L400.5 197 L403 196.7 L409.5 195.1 L423.5 193.8 L452.5 192.5 L476.5 192"/>
<path d="M92 260.6 L105 262.1 L119.5 263 L144 263.4 L151 263.4 L153 263 L156.5 261 L161 256.8 L172 234.7 L173.5 232.6 L175 231.8 L176 232.6 L177.5 236.5 L181.5 251.9 L185.5 270.2 L188.5 280.4 L189.5 282.3 L190 282.6 L191 282 L192 280.5 L196 272 L201.5 264.8 L203 263.7 L206 262.6 L213.5 261 L357 261.3 L359 262.1 L368.5 269 L370 269.7 L371.5 269.7 L373.5 267.6 L375.5 263.6 L379 255.6 L383.5 242.9 L387 237.6 L388.5 236.2 L389.5 236 L391 237.1 L393 240.8 L396 247.2 L399.5 256.9 L401 260 L405 265.9 L407.5 267.7 L411 267.2 L419.5 264.1 L437.5 261.4 L458 259.2 L476.5 258.5"/>
<path d="M92 327.4 L106 329.2 L121.5 330.3 L140 330.9 L160.5 330.9 L162.5 328.6 L166.5 321.1 L172.5 307.9 L174 305.9 L175 305.3 L176.5 306.4 L178 309.5 L186 333 L189 339.2 L190 340.5 L191 340.9 L192.5 339.4 L195.5 333.6 L200.5 328.6 L203 327.5 L211 326.7 L360 326.6 L362.5 327.5 L368 331.6 L370.5 332.3 L372.5 330.6 L378 322 L382.5 317.2 L385 316 L386 316.3 L387.5 317.7 L391.5 323.4 L397 329.9 L398.5 331.1 L400 331.6 L402.5 331.1 L409 328.2 L415.5 327.5 L444.5 325.8 L476.5 325.2"/>
<path d="M92 393.4 L165 394 L167 392.8 L174 383.3 L176 382 L177.5 382.8 L179 384.8 L186.5 398.3 L189.5 402.1 L191.5 403.4 L193 402.5 L197 397 L201 394 L204 393 L362 393.4 L364 394 L368 396.6 L369.5 397 L370.5 396.7 L372 395.2 L376 389.2 L381.5 382.8 L383.5 381.1 L385 380.6 L386 380.8 L387.5 382 L393 389.3 L397.5 396.1 L399 397.4 L400 397.7 L402.5 397.2 L407.5 394.7 L410 394 L441 392.5 L476.5 392"/>
<path d="M92 460.5 L168 460 L169 459.5 L172 456 L175 454.5 L177.5 454 L180 455.3 L188 463.1 L190 464 L192 463.5 L196.5 461.1 L208.5 460 L370 459.8 L372 459.3 L377 457 L384 455.6 L386.5 456.1 L391 458.5 L397 461.2 L400.5 462 L410 460 L440.5 459.2 L476.5 459"/>
<path d="M92 526.6 L166 526.6 L167 525.9 L170 521 L173 518.3 L175 517.4 L176 517.6 L177 518.4 L180 522 L185.5 531.6 L187 533.3 L188 533.7 L190 532.9 L194 529.1 L195.5 528.1 L201.5 527.1 L207.5 526.6 L370 526.6 L371.5 525.9 L376 521 L380 518.7 L383 518 L385.5 519.1 L396.5 528.6 L399.5 530 L402 529.7 L407.5 527.5 L410 527 L440.5 526.2 L476.5 526"/>
<path d="M92 592.6 L170 592.6 L172 592 L176.5 589.3 L178 589 L180.5 589.7 L185 592.5 L189.5 594.6 L193 595.5 L194.5 595.2 L198 593.2 L200 592.6 L372 593.4 L374 593.1 L379.5 591 L382 590.5 L384.5 590.9 L394 594.3 L397 594.8 L405 593 L437.5 592.2 L476.5 592"/>
<path d="M92 659 L170 659 L172 658.2 L177 653.4 L179 652.7 L181.5 653.9 L191 662.2 L193.5 663.3 L195 662.9 L198.5 660 L200 659.5 L375 659.8 L377 659.3 L382.5 655.6 L385 654.8 L387 655.6 L393 660.2 L395 661 L405 659 L438 658.2 L476.5 658"/>
<path d="M92 725.8 L168 725.8 L169.5 725.3 L174 721.7 L176 720.9 L178.5 721.7 L187.5 728.7 L189.5 729.4 L191 728.9 L194.5 726.4 L196 726 L375 726.5 L377.5 725.3 L382.5 720.2 L384.5 719.4 L387.5 720.6 L392 723.7 L396 727.3 L398 728 L406 726.5 L476.5 726"/>
<path d="M92 792.6 L160 793 L161.5 793.3 L165.5 795.2 L167 795.4 L169 794.9 L174 792.4 L178.5 790.8 L183.5 789.7 L185.5 790 L190 792.2 L192 792.6 L365 793 L373.5 794.7 L376.5 794.2 L383 792 L393 790.5 L396 790.7 L404.5 792.6 L476.5 792.6"/>
<path d="M552.5 134.5 L565 132 L572.5 129.8 L576 129.6 L579.5 130.8 L586 134.6 L595 141.6 L597.5 142.3 L599 141.8 L601.5 139.2 L604.5 134.1 L609.5 113.2 L613 102.2 L614.5 98.4 L617 94 L618.5 92 L619.5 91.5 L621.5 92.4 L626.5 98.1 L633.5 103.7 L636.5 107.3 L638.5 110.7 L641 117 L644 127.6 L647 146.9 L648 149.4 L651 149 L652.5 147.9 L655.5 144.2 L661 135.2 L664 132 L666.5 130.1 L668 129.5 L673.5 128.8 L686 128 L812.5 128.2 L817.5 129.6 L826.5 133.8 L837 141.7 L840.5 144 L843.5 145 L846 145.1 L848 144.1 L850 142.3 L855 135 L856.5 130.3 L859.5 116.6 L863 106.3 L866.5 98.1 L868 96.1 L869 95.5 L870.5 96 L872 97.6 L876 105 L882 122 L886 130.7 L887.5 132.9 L888.5 133.7 L891.5 133.3 L900 129 L908.5 127.2 L915 126.7 L918 127.5 L925 131 L932.5 133.2 L938.5 134.5"/>
<path d="M552.5 196.3 L557.5 194.7 L563 193.6 L569.5 193.1 L576.5 193.1 L581 194 L591 197.3 L603.5 202.3 L607.5 202.7 L611.5 201.7 L612.5 200 L614 195.9 L625 157.3 L630 144.4 L631.5 141.9 L633 140.9 L634 141.2 L635 142.2 L637 145.8 L639.5 152.3 L641 159 L645.5 194.6 L649 231.6 L650.5 242.3 L651 243.2 L652 242.4 L653 240.4 L655.5 233.4 L660.5 207.1 L663.5 200.3 L666 197.2 L676 195.6 L688 195 L815 195.6 L816.5 196 L818.5 197.4 L829 208.5 L831.5 209.8 L832.5 209.1 L834 205.2 L843.5 170.1 L845 166.4 L846.5 165 L847.5 165.8 L848.5 167.8 L856.5 191.9 L858 195.2 L859 196.2 L861 195.7 L866 191.3 L868 190.6 L870.5 191.4 L875 194.4 L883.5 199.1 L886 200.1 L888.5 200.6 L892 200 L899.5 196.2 L904.5 194.1 L907 193.5 L919.5 195 L938.5 195.6"/>
<path d="M552.5 266.3 L558 263.1 L564 261.1 L571 260 L578 260.2 L581 261.2 L584.5 263.1 L608.5 279.1 L612.5 280.8 L615.5 281.1 L616.5 279 L618 271.8 L621 254 L625 225.6 L629 204.8 L632 193 L633 191.1 L634 190.6 L635 192 L636.5 196.9 L640.5 218 L648 278.7 L649 284.4 L650 286.9 L651 286.5 L652 285.3 L655.5 278.8 L661 270.3 L665 265.6 L666.5 264.9 L671.5 263.8 L682.5 262.3 L733.5 261.6 L820 261.3 L821.5 262 L823 263.3 L829 271 L837.5 280.1 L840 282 L842.5 282.6 L846 281.8 L850.5 279.7 L853 278 L855.5 275.6 L858 272.6 L859 270.7 L864.5 255.7 L869.5 250.3 L871.5 249 L873 248.5 L875.5 248.9 L878 250.2 L883 253.5 L889 258.7 L891 259.8 L895 259.6 L903.5 257.3 L911 256 L918.5 255.7 L923 256.6 L928 258.4 L933 261.1 L938.5 264.9"/>
<path d="M552.5 328.8 L564 327 L577.5 326.7 L583.5 327.5 L595.5 330.1 L607.5 333.4 L611.5 333.7 L614.5 333.1 L619.5 330.3 L624.5 325.9 L626.5 321.7 L630.5 311.1 L635 301.3 L637 298 L638.5 296.8 L639 296.8 L640 297.9 L641.5 301.9 L651.5 340.7 L652.5 344 L653.5 345.7 L654.5 345.5 L655.5 344.3 L660 336 L665 330.9 L666.5 330.2 L671 329.4 L681.5 328.3 L822.5 328 L823.5 328.3 L825 329.7 L831 339 L832.5 340.5 L833.5 340.9 L834.5 340.6 L836 338.6 L844 321.5 L845.5 319.3 L846.5 318.8 L847.5 319.2 L848.5 320.3 L856 332.9 L857.5 334.7 L858.5 335.2 L859.5 334.9 L860.5 333.8 L864.5 326.8 L866 325 L871 321.5 L874.5 320.3 L876.5 320.5 L878.5 321.4 L890 329.7 L893 331 L919 330.5 L929 329.5 L938.5 328"/>
<path d="M552.5 395.5 L571.5 394.3 L595.5 394 L604 394.1 L619.5 395.3 L625.5 395.4 L626.5 394.6 L628 392.5 L637 375.9 L638.5 374.1 L640 373.5 L641 374.2 L642.5 376.7 L646.5 386.2 L649.5 394.9 L652 400.2 L653.5 402 L655 401.4 L658.5 397.2 L660 396 L665.5 394 L670 393.4 L754 393.7 L820 394.8 L823.5 395.8 L831 399.9 L834 400.5 L837.5 399.6 L845 396 L860.5 391.9 L871.5 387.8 L876 387 L879 387.7 L886 392.4 L892 395.8 L894.5 397 L897 397.7 L900.5 397.4 L909.5 395 L938.5 394.1"/>
<path d="M552.5 460.5 L576 460.9 L600 462 L604 462.6 L613.5 465.2 L617.5 465.3 L619.5 462.9 L621.5 458.7 L626 447.5 L632 430 L636 421.7 L637.5 419.6 L638.5 419 L639.5 419.4 L640.5 421.4 L644 435 L647.5 459 L650.5 476.3 L652 483.4 L653.5 486.7 L654.5 486.3 L655.5 484.5 L659.5 473.1 L663 466.1 L665 463 L666.5 462 L676.5 460.9 L688 460.5 L732.5 460.5 L817 461.3 L818.5 461.7 L820.5 463 L825.5 467.4 L830 472.8 L831.5 473.8 L832.5 474 L833.5 473.2 L835 470.2 L841 452.1 L844.5 440.2 L846 436.7 L847 435.7 L848 436.1 L849.5 438.7 L854 450.7 L858 463.5 L859 465.5 L860 466.2 L862.5 465.5 L867 462.5 L873 459.3 L876 458.4 L879.5 458.9 L890.5 463.4 L893.5 464 L898 463.4 L910 460 L926 458.3 L938.5 457.7"/>
<path d="M552.5 528 L581.5 528.5 L610.5 530 L615 531 L625 534.4 L629.5 535 L630.5 534.4 L631.5 532.7 L635.5 522.9 L640 515.7 L641 515.2 L651 515.2 L652.5 516.7 L657 526.9 L658 528 L822.5 528 L825 529.2 L836 539.4 L838 540.5 L839.5 540.8 L841.5 539.6 L845 535.1 L847.5 532.7 L852 529.1 L856.5 526.1 L863.5 522.5 L872 520.4 L875.5 520.2 L877.5 520.7 L890.5 528.1 L894.5 529.4 L898.5 529.1 L909.5 527 L938.5 526.6"/>
<path d="M552.5 594.8 L630 595 L632.5 593.9 L640.5 587.3 L643 586.2 L645 586.9 L647 588.3 L649.5 590.4 L653.5 595.5 L655 596.2 L665 594.8 L830 595 L838 597.6 L840 596.9 L845.5 592.2 L848 591.2 L849.5 591.5 L854 593.6 L856 594 L903.5 593.6 L938.5 592"/>
<path d="M552.5 660.5 L630 660.5 L631.5 660.2 L636 657.5 L638 657 L640 657.7 L644.5 660.9 L654 662 L657 661.8 L665 660.5 L835 661 L836.5 660.4 L841 655.8 L843 654.8 L845.5 655.7 L854 662.3 L856.5 663.3 L860 663 L869.5 661 L890 659.4 L915.5 658 L938.5 657.6"/>
<path d="M552.5 726.5 L620 727 L629.5 729.4 L632 729 L638 726.8 L640 726.5 L838 727.2 L840 726.8 L844.5 724.8 L846.5 724.4 L855 726.5 L903 726.4 L938.5 725.8"/>
<path d="M552.5 794 L637 794.5 L639 795.3 L643 798.8 L645 799.7 L647 799 L651 795.4 L653 794.5 L835 793.5 L837.5 792.8 L842.5 790.1 L844.5 789.7 L848 790.2 L854.5 792.4 L872 796.8 L874 796.2 L878 793.7 L880 793 L907 791.6 L938.5 791.2"/>
<path d="M1013 125.3 L1020.5 126.1 L1026.5 129.1 L1029 129.5 L1031 128.9 L1033 127.7 L1039.5 122.9 L1045.5 117.8 L1048.5 116.2 L1052 116.1 L1058 117 L1065 119.6 L1068.5 119 L1076.5 115.4 L1081.5 112.1 L1084 109.4 L1088.5 103.3 L1092.5 96.2 L1094 94.8 L1095 94.9 L1097 98.6 L1099.5 107 L1103 130 L1106.5 157.1 L1109.5 172.8 L1110.5 175.4 L1111 175.7 L1112.5 172.5 L1119 145 L1122.5 136.6 L1125 132.3 L1127 130.1 L1131 128 L1135.5 126.6 L1140 126 L1280 126.4 L1282.5 126.9 L1285.5 128.2 L1287 129.5 L1290.5 133.9 L1291.5 134.5 L1292.5 134.2 L1294.5 131 L1296 125.3 L1303 75.6 L1306 62.8 L1307 59.9 L1308 58.5 L1308.5 58.6 L1309.5 60.6 L1311 67 L1313 79.8 L1315 104.5 L1318.5 120.5 L1322 140.7 L1323 143.9 L1323.5 144.5 L1325 143.5 L1328.5 137.8 L1330.5 136.1 L1335.5 133 L1341.5 130.7 L1348.5 129 L1359.5 127 L1389 123.6 L1399.5 121.8"/>
<path d="M1013 237.5 L1083.5 236.9 L1092.5 235.9 L1097.5 233.1 L1099.5 232.5 L1101 233.1 L1104.5 236.4 L1106 237 L1300 237 L1302.5 238 L1307.5 242.2 L1309.5 242.8 L1314 242.1 L1320 240 L1322 238.9 L1329 233.4 L1333 232.2 L1336.5 231.7 L1339 232.2 L1343 235.2 L1345 236 L1369.5 236.7 L1399.5 236.9"/>
<path d="M1013 348 L1048.5 348.2 L1078 349 L1080 349.5 L1085 351.9 L1087 352.2 L1088.5 350.7 L1092.5 342.8 L1096.5 336.8 L1098.5 334.5 L1100 333.8 L1101 334 L1102.5 335.3 L1112 349.3 L1113.5 350.6 L1114.5 350.8 L1116.5 350.3 L1120.5 348.3 L1122 348 L1288 348 L1289.5 348.3 L1294 351 L1296 351.5 L1298 350.9 L1302.5 347.8 L1305 347 L1308.5 347.8 L1315 350.9 L1318 351.5 L1320.5 350.6 L1325.5 346.4 L1327.5 345.2 L1333 343.8 L1337 343.4 L1339 343.8 L1343 346.3 L1345 347 L1369.5 347.6 L1399.5 347.8"/>
<path d="M1013 458.4 L1092 459 L1094.5 459.6 L1100 462.2 L1102.5 462.7 L1104.5 461.8 L1108.5 458.5 L1110 458 L1305 458.5 L1307.5 458.9 L1313.5 461.2 L1316.5 461.8 L1318.5 461.3 L1323 458.6 L1325 458 L1399.5 457.3"/>
<path d="M1013 569.2 L1082 570 L1089 571.8 L1091.5 572 L1095 571.1 L1107.5 565.7 L1111 565 L1112.5 565.5 L1116.5 568.5 L1118 569 L1285 569.5 L1296 571 L1310 569 L1399.5 569.6"/>
<path d="M1013 680.5 L1090 681 L1100 682.5 L1110 680.5 L1300 680.5 L1305 679 L1312 681.5 L1362.5 681.3 L1399.5 680.5"/>
<path d="M1013 790.7 L1080 791 L1090 792 L1100 790.7 L1305 790.5 L1310 789 L1318 791 L1399.5 790.7"/>
</g>
<g fill="none" stroke="#262626" stroke-width="2.4">
<rect x="92" y="59.5" width="384.5" height="781"/>
<line x1="92" y1="840.5" x2="92" y2="858.5"/>
<line x1="156.1" y1="840.5" x2="156.1" y2="858.5"/>
<line x1="220.2" y1="840.5" x2="220.2" y2="858.5"/>
<line x1="284.2" y1="840.5" x2="284.2" y2="858.5"/>
<line x1="348.3" y1="840.5" x2="348.3" y2="858.5"/>
<line x1="412.4" y1="840.5" x2="412.4" y2="858.5"/>
<line x1="476.5" y1="840.5" x2="476.5" y2="858.5"/>
<rect x="552.5" y="59.5" width="386" height="781"/>
<line x1="552.5" y1="840.5" x2="552.5" y2="858.5"/>
<line x1="616.8" y1="840.5" x2="616.8" y2="858.5"/>
<line x1="681.2" y1="840.5" x2="681.2" y2="858.5"/>
<line x1="745.5" y1="840.5" x2="745.5" y2="858.5"/>
<line x1="809.8" y1="840.5" x2="809.8" y2="858.5"/>
<line x1="874.2" y1="840.5" x2="874.2" y2="858.5"/>
<line x1="938.5" y1="840.5" x2="938.5" y2="858.5"/>
<rect x="1013" y="59.5" width="386.5" height="781"/>
<line x1="1013" y1="840.5" x2="1013" y2="858.5"/>
<line x1="1077.4" y1="840.5" x2="1077.4" y2="858.5"/>
<line x1="1141.8" y1="840.5" x2="1141.8" y2="858.5"/>
<line x1="1206.2" y1="840.5" x2="1206.2" y2="858.5"/>
<line x1="1270.7" y1="840.5" x2="1270.7" y2="858.5"/>
<line x1="1335.1" y1="840.5" x2="1335.1" y2="858.5"/>
<line x1="1399.5" y1="840.5" x2="1399.5" y2="858.5"/>
</g>
<g font-family='"Liberation Sans", sans-serif' font-size="31" fill="#262626" text-anchor="middle">
<text x="89.5" y="900">-3</text>
<text x="153.6" y="900">-2</text>
<text x="217.7" y="900">-1</text>
<text x="284.2" y="900">0</text>
<text x="348.3" y="900">1</text>
<text x="412.4" y="900">2</text>
<text x="476.5" y="900">3</text>
<text x="550" y="900">-3</text>
<text x="614.3" y="900">-2</text>
<text x="678.7" y="900">-1</text>
<text x="745.5" y="900">0</text>
<text x="809.8" y="900">1</text>
<text x="874.2" y="900">2</text>
<text x="938.5" y="900">3</text>
<text x="1010.5" y="900">-3</text>
<text x="1074.9" y="900">-2</text>
<text x="1139.3" y="900">-1</text>
<text x="1206.2" y="900">0</text>
<text x="1270.7" y="900">1</text>
<text x="1335.1" y="900">2</text>
<text x="1399.5" y="900">3</text>
</g>
<text x="285.5" y="952" font-family='"Liberation Sans", sans-serif' font-size="33" text-anchor="middle" fill="#000">E-E<tspan font-size="24" dy="8">F</tspan><tspan dy="-8"> (meV)</tspan></text>
<text x="735.5" y="952" font-family='"Liberation Sans", sans-serif' font-size="33" text-anchor="middle" fill="#000">E-E<tspan font-size="24" dy="8">F</tspan><tspan dy="-8"> (meV)</tspan></text>
<text x="1201.6" y="952" font-family='"Liberation Sans", sans-serif' font-size="33" text-anchor="middle" fill="#000">E-E<tspan font-size="24" dy="8">F</tspan><tspan dy="-8"> (meV)</tspan></text>
<text x="94.2" y="34.7" font-family='"Liberation Sans", sans-serif' font-weight="bold" font-size="35">a</text>
<text x="235.7" y="34.8" font-family='"Liberation Sans", sans-serif' font-weight="bold" font-size="35" textLength="83.5" lengthAdjust="spacing">[001]</text>
<text x="553.6" y="34.7" font-family='"Liberation Sans", sans-serif' font-weight="bold" font-size="35">b</text>
<text x="695.7" y="34.8" font-family='"Liberation Sans", sans-serif' font-weight="bold" font-size="35" textLength="83.5" lengthAdjust="spacing">[111]</text>
<rect x="729" y="0" width="15" height="3.6" fill="#000"/>
<text x="1016.5" y="34.7" font-family='"Liberation Sans", sans-serif' font-weight="bold" font-size="35">c</text>
<text x="1171.5" y="34.8" font-family='"Liberation Sans", sans-serif' font-weight="bold" font-size="35" textLength="83.5" lengthAdjust="spacing">[110]</text>
<rect x="1203" y="0" width="15.8" height="3.6" fill="#000"/>
<text transform="translate(40 665) rotate(-90)" font-family='"Liberation Sans", sans-serif' font-size="34" textLength="416" lengthAdjust="spacingAndGlyphs">dI/dU<tspan font-size="22" dy="10">A</tspan><tspan dy="-10">-dI/dU</tspan><tspan font-size="22" dy="10">ref</tspan><tspan dy="-10"> (arb. units)</tspan></text>
<g fill="#000" stroke="none"><rect x="24.3" y="119" width="2.6" height="23.5"/><rect x="24.3" y="140.2" width="39" height="2.6"/><path d="M25.6 104.4 L17.3 120.7 L33.6 120.7 Z"/><path d="M78.6 141.5 L62 133.2 L62 149.8 Z"/><rect x="35.2" y="147.3" width="10.5" height="2"/></g>
<text transform="translate(14.5 142.1) rotate(-90)" font-family='"Liberation Serif", serif' font-size="21" textLength="44" lengthAdjust="spacingAndGlyphs">[001]</text>
<text x="20.1" y="168.5" font-family='"Liberation Serif", serif' font-size="21" textLength="43.8" lengthAdjust="spacingAndGlyphs">[110]</text>
<defs><filter id="bl8" x="-50%" y="-80%" width="200%" height="260%"><feGaussianBlur stdDeviation="8"/></filter><filter id="bl10" x="-100%" y="-100%" width="300%" height="300%"><feGaussianBlur stdDeviation="9"/></filter><filter id="bl6" x="-30%" y="-30%" width="160%" height="160%"><feGaussianBlur stdDeviation="5"/></filter></defs>
<ellipse cx="173" cy="1209" rx="58" ry="23" fill="#f99a9a" filter="url(#bl8)"/>
<g stroke-width="1.8" stroke-dasharray="7.4 7.4">
<line x1="98.5" y1="1111.4" x2="483.5" y2="1111.4" stroke="#2196f3"/>
<line x1="98.5" y1="1298.1" x2="483.5" y2="1298.1" stroke="#f00"/>
</g>
<polyline points="114.9,1017 151.4,1247.5 188,1205.6 224.9,1166.9 261.2,1157.6 297.5,1124.8 333.8,1163.9 370.2,1116.2 406.6,1125.6 443.1,1138.1 479.5,1107.7" fill="none" stroke="#0072bd" stroke-width="6.2" stroke-linejoin="round"/>
<circle cx="114.9" cy="1017" r="4.9" fill="#fff" stroke="#0072bd" stroke-width="6.4"/>
<circle cx="151.4" cy="1247.5" r="4.9" fill="#fff" stroke="#0072bd" stroke-width="6.4"/>
<circle cx="188" cy="1205.6" r="4.9" fill="#fff" stroke="#0072bd" stroke-width="6.4"/>
<circle cx="224.9" cy="1166.9" r="4.9" fill="#fff" stroke="#0072bd" stroke-width="6.4"/>
<circle cx="261.2" cy="1157.6" r="4.9" fill="#fff" stroke="#0072bd" stroke-width="6.4"/>
<circle cx="297.5" cy="1124.8" r="4.9" fill="#fff" stroke="#0072bd" stroke-width="6.4"/>
<circle cx="333.8" cy="1163.9" r="4.9" fill="#fff" stroke="#0072bd" stroke-width="6.4"/>
<circle cx="370.2" cy="1116.2" r="4.9" fill="#fff" stroke="#0072bd" stroke-width="6.4"/>
<circle cx="406.6" cy="1125.6" r="4.9" fill="#fff" stroke="#0072bd" stroke-width="6.4"/>
<circle cx="443.1" cy="1138.1" r="4.9" fill="#fff" stroke="#0072bd" stroke-width="6.4"/>
<circle cx="479.5" cy="1107.7" r="4.9" fill="#fff" stroke="#0072bd" stroke-width="6.4"/>
<polyline points="114.9,1362.5 151.4,1142.7 188,1209.8 223.5,1266.9 261.2,1253.9 297.5,1288.9 333.8,1256.9 370.2,1286.6 406.6,1292 443.1,1270.2 479.5,1311.6" fill="none" stroke="#d95319" stroke-width="6.2" stroke-linejoin="round"/>
<circle cx="114.9" cy="1362.5" r="4.9" fill="#fff" stroke="#d95319" stroke-width="6.4"/>
<circle cx="151.4" cy="1142.7" r="4.9" fill="#fff" stroke="#d95319" stroke-width="6.4"/>
<circle cx="188" cy="1209.8" r="4.9" fill="#fff" stroke="#d95319" stroke-width="6.4"/>
<circle cx="223.5" cy="1266.9" r="4.9" fill="#fff" stroke="#d95319" stroke-width="6.4"/>
<circle cx="261.2" cy="1253.9" r="4.9" fill="#fff" stroke="#d95319" stroke-width="6.4"/>
<circle cx="297.5" cy="1288.9" r="4.9" fill="#fff" stroke="#d95319" stroke-width="6.4"/>
<circle cx="333.8" cy="1256.9" r="4.9" fill="#fff" stroke="#d95319" stroke-width="6.4"/>
<circle cx="370.2" cy="1286.6" r="4.9" fill="#fff" stroke="#d95319" stroke-width="6.4"/>
<circle cx="406.6" cy="1292" r="4.9" fill="#fff" stroke="#d95319" stroke-width="6.4"/>
<circle cx="443.1" cy="1270.2" r="4.9" fill="#fff" stroke="#d95319" stroke-width="6.4"/>
<circle cx="479.5" cy="1311.6" r="4.9" fill="#fff" stroke="#d95319" stroke-width="6.4"/>
<g fill="none" stroke="#262626" stroke-width="2.5">
<rect x="97.5" y="1004.7" width="386" height="374.3"/>
<line x1="152.3" y1="1379" x2="152.3" y2="1372.5"/>
<line x1="152.3" y1="1004.7" x2="152.3" y2="1011.2"/>
<line x1="262.5" y1="1379" x2="262.5" y2="1372.5"/>
<line x1="262.5" y1="1004.7" x2="262.5" y2="1011.2"/>
<line x1="372.7" y1="1379" x2="372.7" y2="1372.5"/>
<line x1="372.7" y1="1004.7" x2="372.7" y2="1011.2"/>
<line x1="482.9" y1="1379" x2="482.9" y2="1372.5"/>
<line x1="482.9" y1="1004.7" x2="482.9" y2="1011.2"/>
<line x1="97.5" y1="1019.9" x2="104" y2="1019.9"/>
<line x1="483.5" y1="1019.9" x2="477" y2="1019.9"/>
<line x1="97.5" y1="1098.1" x2="104" y2="1098.1"/>
<line x1="483.5" y1="1098.1" x2="477" y2="1098.1"/>
<line x1="97.5" y1="1176.3" x2="104" y2="1176.3"/>
<line x1="483.5" y1="1176.3" x2="477" y2="1176.3"/>
<line x1="97.5" y1="1254.5" x2="104" y2="1254.5"/>
<line x1="483.5" y1="1254.5" x2="477" y2="1254.5"/>
<line x1="97.5" y1="1332.7" x2="104" y2="1332.7"/>
<line x1="483.5" y1="1332.7" x2="477" y2="1332.7"/>
</g>
<g font-family='"Liberation Sans", sans-serif' font-size="30.5" fill="#262626">
<text x="86" y="1032.9" text-anchor="end">3</text>
<text x="86" y="1111.1" text-anchor="end">2.5</text>
<text x="86" y="1189.3" text-anchor="end">2</text>
<text x="86" y="1267.5" text-anchor="end">1.5</text>
<text x="86" y="1345.7" text-anchor="end">1</text>
<text x="152.3" y="1421.5" text-anchor="middle">1</text>
<text x="262.5" y="1421.5" text-anchor="middle">2</text>
<text x="372.7" y="1421.5" text-anchor="middle">3</text>
<text x="482.9" y="1421.5" text-anchor="middle">4</text>
</g>
<text x="96.2" y="975.4" font-family='"Liberation Sans", sans-serif' font-weight="bold" font-size="36">d</text>
<text x="290.5" y="1466.7" font-family='"Liberation Sans", sans-serif' font-size="36" text-anchor="middle" textLength="339.6" lengthAdjust="spacingAndGlyphs">atom separation (nm)</text>
<ellipse cx="600" cy="1234" rx="16" ry="16" fill="#f99a9a" filter="url(#bl10)"/>
<g stroke-width="1.8" stroke-dasharray="7.4 7.4">
<line x1="553.3" y1="1083.9" x2="923" y2="1083.9" stroke="#2196f3"/>
<line x1="553.3" y1="1279.6" x2="923" y2="1279.6" stroke="#f00"/>
</g>
<polyline points="560.8,1171.2 598.3,1249.6 635.8,1177 672,1096.2 708.4,1075.7 745.3,1111.2 782.1,1032 818.6,1078.1 855.4,1088.3 892.5,1079.1 930,1093.4" fill="none" stroke="#0072bd" stroke-width="6.2" stroke-linejoin="round"/>
<circle cx="560.8" cy="1171.2" r="4.9" fill="#fff" stroke="#0072bd" stroke-width="6.4"/>
<circle cx="598.3" cy="1249.6" r="4.9" fill="#fff" stroke="#0072bd" stroke-width="6.4"/>
<circle cx="635.8" cy="1177" r="4.9" fill="#fff" stroke="#0072bd" stroke-width="6.4"/>
<circle cx="672" cy="1096.2" r="4.9" fill="#fff" stroke="#0072bd" stroke-width="6.4"/>
<circle cx="708.4" cy="1075.7" r="4.9" fill="#fff" stroke="#0072bd" stroke-width="6.4"/>
<circle cx="745.3" cy="1111.2" r="4.9" fill="#fff" stroke="#0072bd" stroke-width="6.4"/>
<circle cx="782.1" cy="1032" r="4.9" fill="#fff" stroke="#0072bd" stroke-width="6.4"/>
<circle cx="818.6" cy="1078.1" r="4.9" fill="#fff" stroke="#0072bd" stroke-width="6.4"/>
<circle cx="855.4" cy="1088.3" r="4.9" fill="#fff" stroke="#0072bd" stroke-width="6.4"/>
<circle cx="892.5" cy="1079.1" r="4.9" fill="#fff" stroke="#0072bd" stroke-width="6.4"/>
<circle cx="930" cy="1093.4" r="4.9" fill="#fff" stroke="#0072bd" stroke-width="6.4"/>
<polyline points="560.8,1337.2 598.3,1216.8 635.8,1364.5 672,1298 708.4,1304.8 745.3,1242.8 782.1,1334.8 818.6,1294.6 855.4,1265.6 892.5,1281.6 930,1266.6" fill="none" stroke="#d95319" stroke-width="6.2" stroke-linejoin="round"/>
<circle cx="560.8" cy="1337.2" r="4.9" fill="#fff" stroke="#d95319" stroke-width="6.4"/>
<circle cx="598.3" cy="1216.8" r="4.9" fill="#fff" stroke="#d95319" stroke-width="6.4"/>
<circle cx="635.8" cy="1364.5" r="4.9" fill="#fff" stroke="#d95319" stroke-width="6.4"/>
<circle cx="672" cy="1298" r="4.9" fill="#fff" stroke="#d95319" stroke-width="6.4"/>
<circle cx="708.4" cy="1304.8" r="4.9" fill="#fff" stroke="#d95319" stroke-width="6.4"/>
<circle cx="745.3" cy="1242.8" r="4.9" fill="#fff" stroke="#d95319" stroke-width="6.4"/>
<circle cx="782.1" cy="1334.8" r="4.9" fill="#fff" stroke="#d95319" stroke-width="6.4"/>
<circle cx="818.6" cy="1294.6" r="4.9" fill="#fff" stroke="#d95319" stroke-width="6.4"/>
<circle cx="855.4" cy="1265.6" r="4.9" fill="#fff" stroke="#d95319" stroke-width="6.4"/>
<circle cx="892.5" cy="1281.6" r="4.9" fill="#fff" stroke="#d95319" stroke-width="6.4"/>
<circle cx="930" cy="1266.6" r="4.9" fill="#fff" stroke="#d95319" stroke-width="6.4"/>
<g fill="none" stroke="#262626" stroke-width="2.5">
<rect x="552.3" y="1004.1" width="385.2" height="375.7"/>
<line x1="617.4" y1="1379.8" x2="617.4" y2="1373.3"/>
<line x1="617.4" y1="1004.1" x2="617.4" y2="1010.6"/>
<line x1="745.9" y1="1379.8" x2="745.9" y2="1373.3"/>
<line x1="745.9" y1="1004.1" x2="745.9" y2="1010.6"/>
<line x1="874.8" y1="1379.8" x2="874.8" y2="1373.3"/>
<line x1="874.8" y1="1004.1" x2="874.8" y2="1010.6"/>
<line x1="552.3" y1="1069.6" x2="558.8" y2="1069.6"/>
<line x1="937.5" y1="1069.6" x2="931" y2="1069.6"/>
<line x1="552.3" y1="1151.4" x2="558.8" y2="1151.4"/>
<line x1="937.5" y1="1151.4" x2="931" y2="1151.4"/>
<line x1="552.3" y1="1233.9" x2="558.8" y2="1233.9"/>
<line x1="937.5" y1="1233.9" x2="931" y2="1233.9"/>
<line x1="552.3" y1="1315" x2="558.8" y2="1315"/>
<line x1="937.5" y1="1315" x2="931" y2="1315"/>
</g>
<g font-family='"Liberation Sans", sans-serif' font-size="30.5" fill="#262626">
<text x="540.8" y="1082.6" text-anchor="end">2.5</text>
<text x="540.8" y="1164.4" text-anchor="end">2</text>
<text x="540.8" y="1246.9" text-anchor="end">1.5</text>
<text x="540.8" y="1328" text-anchor="end">1</text>
<text x="617.4" y="1421.5" text-anchor="middle">1</text>
<text x="745.9" y="1421.5" text-anchor="middle">2</text>
<text x="874.8" y="1421.5" text-anchor="middle">3</text>
</g>
<text x="560.8" y="975.4" font-family='"Liberation Sans", sans-serif' font-weight="bold" font-size="36">e</text>
<text x="744.9" y="1466.7" font-family='"Liberation Sans", sans-serif' font-size="36" text-anchor="middle" textLength="339.6" lengthAdjust="spacingAndGlyphs">atom separation (nm)</text>
<ellipse cx="1096.2" cy="1215.9" rx="70" ry="70" fill="#f99a9a" filter="url(#bl6)"/>
<g stroke-width="1.8" stroke-dasharray="7.4 7.4">
<line x1="1014.1" y1="1132.1" x2="1400.4" y2="1132.1" stroke="#2196f3"/>
<line x1="1014.1" y1="1304.6" x2="1400.4" y2="1304.6" stroke="#f00"/>
</g>
<polyline points="1063.6,1355.5 1118.8,1122.2 1174.3,1128.5 1227.9,1130.1 1282.4,1111.2 1337.2,1138.8 1392,1133.5" fill="none" stroke="#0072bd" stroke-width="6.2" stroke-linejoin="round"/>
<circle cx="1063.6" cy="1355.5" r="4.9" fill="#fff" stroke="#0072bd" stroke-width="6.4"/>
<circle cx="1118.8" cy="1122.2" r="4.9" fill="#fff" stroke="#0072bd" stroke-width="6.4"/>
<circle cx="1174.3" cy="1128.5" r="4.9" fill="#fff" stroke="#0072bd" stroke-width="6.4"/>
<circle cx="1227.9" cy="1130.1" r="4.9" fill="#fff" stroke="#0072bd" stroke-width="6.4"/>
<circle cx="1282.4" cy="1111.2" r="4.9" fill="#fff" stroke="#0072bd" stroke-width="6.4"/>
<circle cx="1337.2" cy="1138.8" r="4.9" fill="#fff" stroke="#0072bd" stroke-width="6.4"/>
<circle cx="1392" cy="1133.5" r="4.9" fill="#fff" stroke="#0072bd" stroke-width="6.4"/>
<polyline points="1063.6,1022.4 1118.8,1322.2 1174.3,1323.2 1227.9,1300.6 1282.4,1314 1337.2,1300 1392,1299.6" fill="none" stroke="#d95319" stroke-width="6.2" stroke-linejoin="round"/>
<circle cx="1063.6" cy="1022.4" r="4.9" fill="#fff" stroke="#d95319" stroke-width="6.4"/>
<circle cx="1118.8" cy="1322.2" r="4.9" fill="#fff" stroke="#d95319" stroke-width="6.4"/>
<circle cx="1174.3" cy="1323.2" r="4.9" fill="#fff" stroke="#d95319" stroke-width="6.4"/>
<circle cx="1227.9" cy="1300.6" r="4.9" fill="#fff" stroke="#d95319" stroke-width="6.4"/>
<circle cx="1282.4" cy="1314" r="4.9" fill="#fff" stroke="#d95319" stroke-width="6.4"/>
<circle cx="1337.2" cy="1300" r="4.9" fill="#fff" stroke="#d95319" stroke-width="6.4"/>
<circle cx="1392" cy="1299.6" r="4.9" fill="#fff" stroke="#d95319" stroke-width="6.4"/>
<g fill="none" stroke="#262626" stroke-width="2.5">
<rect x="1013.1" y="1004.8" width="387.3" height="374.6"/>
<line x1="1072" y1="1379.4" x2="1072" y2="1372.9"/>
<line x1="1072" y1="1004.8" x2="1072" y2="1011.3"/>
<line x1="1189.3" y1="1379.4" x2="1189.3" y2="1372.9"/>
<line x1="1189.3" y1="1004.8" x2="1189.3" y2="1011.3"/>
<line x1="1306.6" y1="1379.4" x2="1306.6" y2="1372.9"/>
<line x1="1306.6" y1="1004.8" x2="1306.6" y2="1011.3"/>
<line x1="1013.1" y1="1047" x2="1019.6" y2="1047"/>
<line x1="1400.4" y1="1047" x2="1393.9" y2="1047"/>
<line x1="1013.1" y1="1119.5" x2="1019.6" y2="1119.5"/>
<line x1="1400.4" y1="1119.5" x2="1393.9" y2="1119.5"/>
<line x1="1013.1" y1="1192.6" x2="1019.6" y2="1192.6"/>
<line x1="1400.4" y1="1192.6" x2="1393.9" y2="1192.6"/>
<line x1="1013.1" y1="1264.1" x2="1019.6" y2="1264.1"/>
<line x1="1400.4" y1="1264.1" x2="1393.9" y2="1264.1"/>
<line x1="1013.1" y1="1336.2" x2="1019.6" y2="1336.2"/>
<line x1="1400.4" y1="1336.2" x2="1393.9" y2="1336.2"/>
</g>
<g font-family='"Liberation Sans", sans-serif' font-size="30.5" fill="#262626">
<text x="1001.6" y="1060" text-anchor="end">3</text>
<text x="1001.6" y="1132.5" text-anchor="end">2.5</text>
<text x="1001.6" y="1205.6" text-anchor="end">2</text>
<text x="1001.6" y="1277.1" text-anchor="end">1.5</text>
<text x="1001.6" y="1349.2" text-anchor="end">1</text>
<text x="1072" y="1421.5" text-anchor="middle">1</text>
<text x="1189.3" y="1421.5" text-anchor="middle">2</text>
<text x="1306.6" y="1421.5" text-anchor="middle">3</text>
</g>
<text x="1021.4" y="975.4" font-family='"Liberation Sans", sans-serif' font-weight="bold" font-size="36">f</text>
<text x="1206.8" y="1466.7" font-family='"Liberation Sans", sans-serif' font-size="36" text-anchor="middle" textLength="339.6" lengthAdjust="spacingAndGlyphs">atom separation (nm)</text>
<text transform="translate(29 1345) rotate(-90)" font-family='"Liberation Sans", sans-serif' font-size="34" textLength="318" lengthAdjust="spacingAndGlyphs">dI/dU<tspan font-size="23.5" dy="9">peak</tspan><tspan dy="-9"> (arb. units)</tspan></text>
<line x1="240.8" y1="1814.5" x2="627" y2="1814.5" stroke="#000" stroke-width="3.4"/>
<polyline points="258.1,1801.1 288,1703.3 317.5,1809.9 349.3,1818.3 377.7,1830.6 408.4,1783.8 437.6,1868.2 467.1,1826 497.8,1806 526.5,1819.1 556.4,1803.8" fill="none" stroke="#77ac30" stroke-width="5.3" stroke-linejoin="round"/>
<circle cx="258.1" cy="1801.1" r="4.9" fill="#fff" stroke="#77ac30" stroke-width="5.4"/>
<circle cx="288" cy="1703.3" r="4.9" fill="#fff" stroke="#77ac30" stroke-width="5.4"/>
<circle cx="317.5" cy="1809.9" r="4.9" fill="#fff" stroke="#77ac30" stroke-width="5.4"/>
<circle cx="349.3" cy="1818.3" r="4.9" fill="#fff" stroke="#77ac30" stroke-width="5.4"/>
<circle cx="377.7" cy="1830.6" r="4.9" fill="#fff" stroke="#77ac30" stroke-width="5.4"/>
<circle cx="408.4" cy="1783.8" r="4.9" fill="#fff" stroke="#77ac30" stroke-width="5.4"/>
<circle cx="437.6" cy="1868.2" r="4.9" fill="#fff" stroke="#77ac30" stroke-width="5.4"/>
<circle cx="467.1" cy="1826" r="4.9" fill="#fff" stroke="#77ac30" stroke-width="5.4"/>
<circle cx="497.8" cy="1806" r="4.9" fill="#fff" stroke="#77ac30" stroke-width="5.4"/>
<circle cx="526.5" cy="1819.1" r="4.9" fill="#fff" stroke="#77ac30" stroke-width="5.4"/>
<circle cx="556.4" cy="1803.8" r="4.9" fill="#fff" stroke="#77ac30" stroke-width="5.4"/>
<polyline points="267.7,1896.2 302.6,1665.7 337.1,1721.7 371.2,1769.6 405,1768.1 439.5,1803 474,1766.5 508.5,1804.9 543,1802.2 577.5,1786.9 612.8,1824.1" fill="none" stroke="#0000ff" stroke-width="5.3" stroke-linejoin="round"/>
<circle cx="267.7" cy="1896.2" r="4.9" fill="#fff" stroke="#0000ff" stroke-width="5.4"/>
<circle cx="302.6" cy="1665.7" r="4.9" fill="#fff" stroke="#0000ff" stroke-width="5.4"/>
<circle cx="337.1" cy="1721.7" r="4.9" fill="#fff" stroke="#0000ff" stroke-width="5.4"/>
<circle cx="371.2" cy="1769.6" r="4.9" fill="#fff" stroke="#0000ff" stroke-width="5.4"/>
<circle cx="405" cy="1768.1" r="4.9" fill="#fff" stroke="#0000ff" stroke-width="5.4"/>
<circle cx="439.5" cy="1803" r="4.9" fill="#fff" stroke="#0000ff" stroke-width="5.4"/>
<circle cx="474" cy="1766.5" r="4.9" fill="#fff" stroke="#0000ff" stroke-width="5.4"/>
<circle cx="508.5" cy="1804.9" r="4.9" fill="#fff" stroke="#0000ff" stroke-width="5.4"/>
<circle cx="543" cy="1802.2" r="4.9" fill="#fff" stroke="#0000ff" stroke-width="5.4"/>
<circle cx="577.5" cy="1786.9" r="4.9" fill="#fff" stroke="#0000ff" stroke-width="5.4"/>
<circle cx="612.8" cy="1824.1" r="4.9" fill="#fff" stroke="#0000ff" stroke-width="5.4"/>
<polyline points="295.7,1533.7 344.4,1830.6 393.1,1827.9 442.2,1813.7 490.9,1830.6 539.9,1807.6 588.7,1810.7" fill="none" stroke="#a2142f" stroke-width="5.3" stroke-linejoin="round"/>
<circle cx="295.7" cy="1533.7" r="4.9" fill="#fff" stroke="#a2142f" stroke-width="5.4"/>
<circle cx="344.4" cy="1830.6" r="4.9" fill="#fff" stroke="#a2142f" stroke-width="5.4"/>
<circle cx="393.1" cy="1827.9" r="4.9" fill="#fff" stroke="#a2142f" stroke-width="5.4"/>
<circle cx="442.2" cy="1813.7" r="4.9" fill="#fff" stroke="#a2142f" stroke-width="5.4"/>
<circle cx="490.9" cy="1830.6" r="4.9" fill="#fff" stroke="#a2142f" stroke-width="5.4"/>
<circle cx="539.9" cy="1807.6" r="4.9" fill="#fff" stroke="#a2142f" stroke-width="5.4"/>
<circle cx="588.7" cy="1810.7" r="4.9" fill="#fff" stroke="#a2142f" stroke-width="5.4"/>
<g fill="none" stroke="#262626" stroke-width="2.5">
<rect x="240.8" y="1526.8" width="386.2" height="375.1"/>
<line x1="303.3" y1="1901.9" x2="303.3" y2="1895.4"/>
<line x1="303.3" y1="1526.8" x2="303.3" y2="1533.3"/>
<line x1="406.9" y1="1901.9" x2="406.9" y2="1895.4"/>
<line x1="406.9" y1="1526.8" x2="406.9" y2="1533.3"/>
<line x1="511.2" y1="1901.9" x2="511.2" y2="1895.4"/>
<line x1="511.2" y1="1526.8" x2="511.2" y2="1533.3"/>
<line x1="615.5" y1="1901.9" x2="615.5" y2="1895.4"/>
<line x1="615.5" y1="1526.8" x2="615.5" y2="1533.3"/>
<line x1="240.8" y1="1573.3" x2="247.3" y2="1573.3"/>
<line x1="627" y1="1573.3" x2="620.5" y2="1573.3"/>
<line x1="240.8" y1="1653.7" x2="247.3" y2="1653.7"/>
<line x1="627" y1="1653.7" x2="620.5" y2="1653.7"/>
<line x1="240.8" y1="1734.1" x2="247.3" y2="1734.1"/>
<line x1="627" y1="1734.1" x2="620.5" y2="1734.1"/>
<line x1="240.8" y1="1814.5" x2="247.3" y2="1814.5"/>
<line x1="627" y1="1814.5" x2="620.5" y2="1814.5"/>
<line x1="240.8" y1="1894.9" x2="247.3" y2="1894.9"/>
<line x1="627" y1="1894.9" x2="620.5" y2="1894.9"/>
</g>
<g font-family='"Liberation Sans", sans-serif' font-size="30.5" fill="#262626">
<text x="228.8" y="1586.3" text-anchor="end">3</text>
<text x="228.8" y="1666.7" text-anchor="end">2</text>
<text x="228.8" y="1747.1" text-anchor="end">1</text>
<text x="228.8" y="1827.5" text-anchor="end">0</text>
<text x="228.8" y="1907.9" text-anchor="end">-1</text>
<text x="303.3" y="1945" text-anchor="middle">1</text>
<text x="406.9" y="1945" text-anchor="middle">2</text>
<text x="511.2" y="1945" text-anchor="middle">3</text>
<text x="615.5" y="1945" text-anchor="middle">4</text>
</g>
<text x="438.3" y="2006" font-family='"Liberation Sans", sans-serif' font-size="36" text-anchor="middle" textLength="341.3" lengthAdjust="spacingAndGlyphs">atom separation (nm)</text>
<text transform="translate(167.5 1749.3) rotate(-90)" font-family='"Liberation Sans", sans-serif' font-size="34" textLength="75.7" lengthAdjust="spacingAndGlyphs">&#916;&#948;(r)</text>
<text x="139.5" y="1557.5" font-family='"Liberation Serif", serif' font-weight="bold" font-size="38">g</text>
<rect x="479.6" y="1543" width="132.9" height="110.2" fill="#fff" stroke="#262626" stroke-width="2.4"/>
<line x1="485.3" y1="1562.8" x2="543.8" y2="1562.8" stroke="#0000ff" stroke-width="5"/>
<circle cx="514.6" cy="1562.8" r="4.7" fill="#fff" stroke="#0000ff" stroke-width="5.4"/>
<line x1="485.3" y1="1598" x2="543.8" y2="1598" stroke="#77ac30" stroke-width="5"/>
<circle cx="514.6" cy="1598" r="4.7" fill="#fff" stroke="#77ac30" stroke-width="5.4"/>
<line x1="485.3" y1="1632.8" x2="543.8" y2="1632.8" stroke="#a2142f" stroke-width="5"/>
<circle cx="514.6" cy="1632.8" r="4.7" fill="#fff" stroke="#a2142f" stroke-width="5.4"/>
<text x="551.2" y="1569.5" font-family='"Liberation Serif", serif' font-size="29" textLength="52.5" lengthAdjust="spacingAndGlyphs">[001]</text>
<text x="551.2" y="1604.5" font-family='"Liberation Serif", serif' font-size="29" textLength="52.5" lengthAdjust="spacingAndGlyphs">[111]</text>
<text x="551.2" y="1639.5" font-family='"Liberation Serif", serif' font-size="29" textLength="52.5" lengthAdjust="spacingAndGlyphs">[110]</text>
<rect x="570.8" y="1581.6" width="13.4" height="1.6" fill="#000"/>
<rect x="570.8" y="1616.6" width="13.4" height="1.6" fill="#000"/>
<rect x="808.3" y="1524.2" width="502.6" height="365.3" fill="#fff" stroke="#000" stroke-width="2.3"/>
<g fill="#fafafa" stroke="#c9c9c9" stroke-width="1.25">
<circle cx="854" cy="1544" r="14.2"/>
<circle cx="904.7" cy="1544" r="14.2"/>
<circle cx="955.4" cy="1544" r="14.2"/>
<circle cx="1006.1" cy="1544" r="14.2"/>
<circle cx="1056.8" cy="1544" r="14.2"/>
<circle cx="1107.5" cy="1544" r="14.2"/>
<circle cx="1158.2" cy="1544" r="14.2"/>
<circle cx="1208.8" cy="1544" r="14.2"/>
<circle cx="1259.6" cy="1544" r="14.2"/>
<circle cx="828.6" cy="1562" r="14.2"/>
<circle cx="879.3" cy="1562" r="14.2"/>
<circle cx="930" cy="1562" r="14.2"/>
<circle cx="980.7" cy="1562" r="14.2"/>
<circle cx="1031.4" cy="1562" r="14.2"/>
<circle cx="1082.1" cy="1562" r="14.2"/>
<circle cx="1132.8" cy="1562" r="14.2"/>
<circle cx="1183.5" cy="1562" r="14.2"/>
<circle cx="1234.2" cy="1562" r="14.2"/>
<circle cx="1284.9" cy="1562" r="14.2"/>
<circle cx="854" cy="1579.9" r="14.2"/>
<circle cx="904.7" cy="1579.9" r="14.2"/>
<circle cx="955.4" cy="1579.9" r="14.2"/>
<circle cx="1006.1" cy="1579.9" r="14.2"/>
<circle cx="1056.8" cy="1579.9" r="14.2"/>
<circle cx="1107.5" cy="1579.9" r="14.2"/>
<circle cx="1158.2" cy="1579.9" r="14.2"/>
<circle cx="1208.8" cy="1579.9" r="14.2"/>
<circle cx="1259.6" cy="1579.9" r="14.2"/>
<circle cx="828.6" cy="1597.8" r="14.2"/>
<circle cx="879.3" cy="1597.8" r="14.2"/>
<circle cx="930" cy="1597.8" r="14.2"/>
<circle cx="980.7" cy="1597.8" r="14.2"/>
<circle cx="1031.4" cy="1597.8" r="14.2"/>
<circle cx="1082.1" cy="1597.8" r="14.2"/>
<circle cx="1132.8" cy="1597.8" r="14.2"/>
<circle cx="1183.5" cy="1597.8" r="14.2"/>
<circle cx="1234.2" cy="1597.8" r="14.2"/>
<circle cx="1284.9" cy="1597.8" r="14.2"/>
<circle cx="854" cy="1615.8" r="14.2"/>
<circle cx="904.7" cy="1615.8" r="14.2"/>
<circle cx="955.4" cy="1615.8" r="14.2"/>
<circle cx="1006.1" cy="1615.8" r="14.2"/>
<circle cx="1056.8" cy="1615.8" r="14.2"/>
<circle cx="1107.5" cy="1615.8" r="14.2"/>
<circle cx="1158.2" cy="1615.8" r="14.2"/>
<circle cx="1208.8" cy="1615.8" r="14.2"/>
<circle cx="1259.6" cy="1615.8" r="14.2"/>
<circle cx="828.6" cy="1633.8" r="14.2"/>
<circle cx="879.3" cy="1633.8" r="14.2"/>
<circle cx="930" cy="1633.8" r="14.2"/>
<circle cx="980.7" cy="1633.8" r="14.2"/>
<circle cx="1031.4" cy="1633.8" r="14.2"/>
<circle cx="1082.1" cy="1633.8" r="14.2"/>
<circle cx="1132.8" cy="1633.8" r="14.2"/>
<circle cx="1183.5" cy="1633.8" r="14.2"/>
<circle cx="1234.2" cy="1633.8" r="14.2"/>
<circle cx="1284.9" cy="1633.8" r="14.2"/>
<circle cx="854" cy="1651.7" r="14.2"/>
<circle cx="904.7" cy="1651.7" r="14.2"/>
<circle cx="955.4" cy="1651.7" r="14.2"/>
<circle cx="1006.1" cy="1651.7" r="14.2"/>
<circle cx="1056.8" cy="1651.7" r="14.2"/>
<circle cx="1107.5" cy="1651.7" r="14.2"/>
<circle cx="1158.2" cy="1651.7" r="14.2"/>
<circle cx="1208.8" cy="1651.7" r="14.2"/>
<circle cx="1259.6" cy="1651.7" r="14.2"/>
<circle cx="828.6" cy="1669.7" r="14.2"/>
<circle cx="879.3" cy="1669.7" r="14.2"/>
<circle cx="930" cy="1669.7" r="14.2"/>
<circle cx="980.7" cy="1669.7" r="14.2"/>
<circle cx="1031.4" cy="1669.7" r="14.2"/>
<circle cx="1082.1" cy="1669.7" r="14.2"/>
<circle cx="1132.8" cy="1669.7" r="14.2"/>
<circle cx="1183.5" cy="1669.7" r="14.2"/>
<circle cx="1234.2" cy="1669.7" r="14.2"/>
<circle cx="1284.9" cy="1669.7" r="14.2"/>
<circle cx="854" cy="1687.6" r="14.2"/>
<circle cx="904.7" cy="1687.6" r="14.2"/>
<circle cx="955.4" cy="1687.6" r="14.2"/>
<circle cx="1006.1" cy="1687.6" r="14.2"/>
<circle cx="1056.8" cy="1687.6" r="14.2"/>
<circle cx="1107.5" cy="1687.6" r="14.2"/>
<circle cx="1158.2" cy="1687.6" r="14.2"/>
<circle cx="1208.8" cy="1687.6" r="14.2"/>
<circle cx="1259.6" cy="1687.6" r="14.2"/>
<circle cx="828.6" cy="1705.5" r="14.2"/>
<circle cx="879.3" cy="1705.5" r="14.2"/>
<circle cx="930" cy="1705.5" r="14.2"/>
<circle cx="980.7" cy="1705.5" r="14.2"/>
<circle cx="1031.4" cy="1705.5" r="14.2"/>
<circle cx="1082.1" cy="1705.5" r="14.2"/>
<circle cx="1132.8" cy="1705.5" r="14.2"/>
<circle cx="1183.5" cy="1705.5" r="14.2"/>
<circle cx="1234.2" cy="1705.5" r="14.2"/>
<circle cx="1284.9" cy="1705.5" r="14.2"/>
<circle cx="854" cy="1723.5" r="14.2"/>
<circle cx="904.7" cy="1723.5" r="14.2"/>
<circle cx="955.4" cy="1723.5" r="14.2"/>
<circle cx="1006.1" cy="1723.5" r="14.2"/>
<circle cx="1056.8" cy="1723.5" r="14.2"/>
<circle cx="1107.5" cy="1723.5" r="14.2"/>
<circle cx="1158.2" cy="1723.5" r="14.2"/>
<circle cx="1208.8" cy="1723.5" r="14.2"/>
<circle cx="1259.6" cy="1723.5" r="14.2"/>
<circle cx="828.6" cy="1741.5" r="14.2"/>
<circle cx="879.3" cy="1741.5" r="14.2"/>
<circle cx="930" cy="1741.5" r="14.2"/>
<circle cx="980.7" cy="1741.5" r="14.2"/>
<circle cx="1031.4" cy="1741.5" r="14.2"/>
<circle cx="1082.1" cy="1741.5" r="14.2"/>
<circle cx="1132.8" cy="1741.5" r="14.2"/>
<circle cx="1183.5" cy="1741.5" r="14.2"/>
<circle cx="1234.2" cy="1741.5" r="14.2"/>
<circle cx="1284.9" cy="1741.5" r="14.2"/>
<circle cx="854" cy="1759.4" r="14.2"/>
<circle cx="904.7" cy="1759.4" r="14.2"/>
<circle cx="955.4" cy="1759.4" r="14.2"/>
<circle cx="1006.1" cy="1759.4" r="14.2"/>
<circle cx="1056.8" cy="1759.4" r="14.2"/>
<circle cx="1107.5" cy="1759.4" r="14.2"/>
<circle cx="1158.2" cy="1759.4" r="14.2"/>
<circle cx="1208.8" cy="1759.4" r="14.2"/>
<circle cx="1259.6" cy="1759.4" r="14.2"/>
<circle cx="828.6" cy="1777.3" r="14.2"/>
<circle cx="879.3" cy="1777.3" r="14.2"/>
<circle cx="930" cy="1777.3" r="14.2"/>
<circle cx="980.7" cy="1777.3" r="14.2"/>
<circle cx="1031.4" cy="1777.3" r="14.2"/>
<circle cx="1082.1" cy="1777.3" r="14.2"/>
<circle cx="1132.8" cy="1777.3" r="14.2"/>
<circle cx="1183.5" cy="1777.3" r="14.2"/>
<circle cx="1234.2" cy="1777.3" r="14.2"/>
<circle cx="1284.9" cy="1777.3" r="14.2"/>
<circle cx="854" cy="1795.3" r="14.2"/>
<circle cx="904.7" cy="1795.3" r="14.2"/>
<circle cx="955.4" cy="1795.3" r="14.2"/>
<circle cx="1006.1" cy="1795.3" r="14.2"/>
<circle cx="1056.8" cy="1795.3" r="14.2"/>
<circle cx="1107.5" cy="1795.3" r="14.2"/>
<circle cx="1158.2" cy="1795.3" r="14.2"/>
<circle cx="1208.8" cy="1795.3" r="14.2"/>
<circle cx="1259.6" cy="1795.3" r="14.2"/>
<circle cx="828.6" cy="1813.2" r="14.2"/>
<circle cx="879.3" cy="1813.2" r="14.2"/>
<circle cx="930" cy="1813.2" r="14.2"/>
<circle cx="980.7" cy="1813.2" r="14.2"/>
<circle cx="1031.4" cy="1813.2" r="14.2"/>
<circle cx="1082.1" cy="1813.2" r="14.2"/>
<circle cx="1132.8" cy="1813.2" r="14.2"/>
<circle cx="1183.5" cy="1813.2" r="14.2"/>
<circle cx="1234.2" cy="1813.2" r="14.2"/>
<circle cx="1284.9" cy="1813.2" r="14.2"/>
<circle cx="854" cy="1831.2" r="14.2"/>
<circle cx="904.7" cy="1831.2" r="14.2"/>
<circle cx="955.4" cy="1831.2" r="14.2"/>
<circle cx="1006.1" cy="1831.2" r="14.2"/>
<circle cx="1056.8" cy="1831.2" r="14.2"/>
<circle cx="1107.5" cy="1831.2" r="14.2"/>
<circle cx="1158.2" cy="1831.2" r="14.2"/>
<circle cx="1208.8" cy="1831.2" r="14.2"/>
<circle cx="1259.6" cy="1831.2" r="14.2"/>
<circle cx="828.6" cy="1849.2" r="14.2"/>
<circle cx="879.3" cy="1849.2" r="14.2"/>
<circle cx="930" cy="1849.2" r="14.2"/>
<circle cx="980.7" cy="1849.2" r="14.2"/>
<circle cx="1031.4" cy="1849.2" r="14.2"/>
<circle cx="1082.1" cy="1849.2" r="14.2"/>
<circle cx="1132.8" cy="1849.2" r="14.2"/>
<circle cx="1183.5" cy="1849.2" r="14.2"/>
<circle cx="1234.2" cy="1849.2" r="14.2"/>
<circle cx="1284.9" cy="1849.2" r="14.2"/>
<circle cx="854" cy="1867.1" r="14.2"/>
<circle cx="904.7" cy="1867.1" r="14.2"/>
<circle cx="955.4" cy="1867.1" r="14.2"/>
<circle cx="1006.1" cy="1867.1" r="14.2"/>
<circle cx="1056.8" cy="1867.1" r="14.2"/>
<circle cx="1107.5" cy="1867.1" r="14.2"/>
<circle cx="1158.2" cy="1867.1" r="14.2"/>
<circle cx="1208.8" cy="1867.1" r="14.2"/>
<circle cx="1259.6" cy="1867.1" r="14.2"/>
</g>
<g stroke="#444" stroke-width="1.5">
<circle cx="854" cy="1562" r="14.6" fill="#f2f0ee"/>
<circle cx="854" cy="1597.8" r="14.6" fill="#e6eef6"/>
<circle cx="854" cy="1633.8" r="14.6" fill="#f9e6dc"/>
<circle cx="854" cy="1669.7" r="14.6" fill="#d4e6f2"/>
<circle cx="854" cy="1705.5" r="14.6" fill="#c6def0"/>
<circle cx="854" cy="1741.5" r="14.6" fill="#dbe8f3"/>
<circle cx="854" cy="1777.3" r="14.6" fill="#b2182b"/>
<circle cx="854" cy="1849.2" r="14.6" fill="#000000"/>
<circle cx="879.3" cy="1795.3" r="14.6" fill="#3b80bd"/>
<circle cx="904.7" cy="1741.5" r="14.6" fill="#d2e4f1"/>
<circle cx="904.7" cy="1777.3" r="14.6" fill="#f8e2d6"/>
<circle cx="904.7" cy="1813.2" r="14.6" fill="#4a90c6"/>
<circle cx="930" cy="1687.6" r="14.6" fill="#ebf0f6"/>
<circle cx="930" cy="1795.3" r="14.6" fill="#b6d4ea"/>
<circle cx="930" cy="1831.2" r="14.6" fill="#5a9fd0"/>
<circle cx="955.4" cy="1633.8" r="14.6" fill="#f9e6dc"/>
<circle cx="955.4" cy="1705.5" r="14.6" fill="#d0e3f1"/>
<circle cx="955.4" cy="1777.3" r="14.6" fill="#c8def0"/>
<circle cx="955.4" cy="1849.2" r="14.6" fill="#134a8a"/>
<circle cx="980.7" cy="1579.9" r="14.6" fill="#e8eef5"/>
<circle cx="980.7" cy="1759.4" r="14.6" fill="#f8dccb"/>
<circle cx="1006.1" cy="1633.8" r="14.6" fill="#e4edf6"/>
<circle cx="1006.1" cy="1741.5" r="14.6" fill="#c4dcef"/>
<circle cx="1006.1" cy="1813.2" r="14.6" fill="#f6ece7"/>
<circle cx="1006.1" cy="1849.2" r="14.6" fill="#d0e3f1"/>
<circle cx="1031.4" cy="1723.5" r="14.6" fill="#f6e2d8"/>
<circle cx="1056.8" cy="1562" r="14.6" fill="#f2f0ee"/>
<circle cx="1056.8" cy="1705.5" r="14.6" fill="#bcd7ec"/>
<circle cx="1056.8" cy="1849.2" r="14.6" fill="#d4e6f2"/>
<circle cx="1082.1" cy="1795.3" r="14.6" fill="#f2f1f0"/>
<circle cx="1107.5" cy="1849.2" r="14.6" fill="#dae8f3"/>
<circle cx="1158.2" cy="1777.3" r="14.6" fill="#eef1f4"/>
<circle cx="1158.2" cy="1849.2" r="14.6" fill="#e8eef4"/>
<circle cx="1208.8" cy="1849.2" r="14.6" fill="#eff1f2"/>
<circle cx="1234.2" cy="1759.4" r="14.6" fill="#f1f1f1"/>
<circle cx="1259.6" cy="1849.2" r="14.6" fill="#f1f1f2"/>
</g>
<text x="740.2" y="1557.9" font-family='"Liberation Sans", sans-serif' font-weight="bold" font-size="36">h</text>
<g fill="#000"><rect x="1209.2" y="1626" width="2.5" height="23.9"/><rect x="1209.2" y="1647.6" width="39" height="2.5"/><path d="M1210.4 1612.2 L1202.9 1627.9 L1217.9 1627.9 Z"/><path d="M1264 1648.8 L1247.6 1640.6 L1247.6 1657 Z"/><rect x="1221.5" y="1656.2" width="10.5" height="1.8"/></g>
<text transform="translate(1204.4 1649.5) rotate(-90)" font-family='"Liberation Sans", sans-serif' font-size="22" textLength="43.2" lengthAdjust="spacingAndGlyphs">[001]</text>
<text x="1205.9" y="1677.5" font-family='"Liberation Sans", sans-serif' font-size="22" textLength="44" lengthAdjust="spacingAndGlyphs">[110]</text>
<defs><linearGradient id="rdbu" x1="0" x2="1" y1="0" y2="0"><stop offset="0.00" stop-color="#67001f"/><stop offset="0.10" stop-color="#b2182b"/><stop offset="0.20" stop-color="#d6604d"/><stop offset="0.30" stop-color="#f4a582"/><stop offset="0.40" stop-color="#fddbc7"/><stop offset="0.50" stop-color="#f7f7f7"/><stop offset="0.60" stop-color="#d1e5f0"/><stop offset="0.70" stop-color="#92c5de"/><stop offset="0.80" stop-color="#4393c3"/><stop offset="0.90" stop-color="#2166ac"/><stop offset="1.00" stop-color="#053061"/></linearGradient></defs>
<rect x="781.3" y="1928.1" width="550.7" height="34.4" fill="url(#rdbu)" stroke="#000" stroke-width="2.2"/>
<g stroke="#000" stroke-width="2.2">
<line x1="828.7" y1="1962.5" x2="828.7" y2="1974.7"/>
<line x1="943.3" y1="1962.5" x2="943.3" y2="1974.7"/>
<line x1="1057.4" y1="1962.5" x2="1057.4" y2="1974.7"/>
<line x1="1170.8" y1="1962.5" x2="1170.8" y2="1974.7"/>
<line x1="1285" y1="1962.5" x2="1285" y2="1974.7"/>
</g>
<g font-family='"Liberation Serif", serif' font-size="36" fill="#000">
<text x="776" y="2015.1" textLength="105.3" lengthAdjust="spacingAndGlyphs">&#8722;0.050</text>
<text x="889.4" y="2015.1" textLength="105.3" lengthAdjust="spacingAndGlyphs">&#8722;0.025</text>
<text x="1017" y="2015.1" textLength="76.9" lengthAdjust="spacingAndGlyphs">0.000</text>
<text x="1130.3" y="2015.1" textLength="79" lengthAdjust="spacingAndGlyphs">0.025</text>
<text x="1243.7" y="2015.1" textLength="78.9" lengthAdjust="spacingAndGlyphs">0.050</text>
</g>
<text x="936" y="2059.7" font-family='"Liberation Serif", serif' font-size="37" textLength="238.9" lengthAdjust="spacingAndGlyphs">&#916;<tspan font-style="italic">E</tspan><tspan font-size="26" dy="4">YSR</tspan><tspan dy="-4">(</tspan><tspan font-style="italic">m</tspan> = 0)</text>
</svg><script>var P=[{"c0":92,"x0":92.0,"x1":476.5,"y0":59.5,"y1":840.5,"ys":[[1324,1323,1322,1322,1321,1321,1321,1320,1320,1320,1320,1320,1320,1320,1320,1320,1321,1321,1322,1323,1323,1324,1326,1333,1343,1357,1373,1390,1407,1423,1437,1453,1471,1490,1507,1521,1531,1537,1530,1500,1452,1395,1337,1285,1232,1176,1117,1056,994,922,844,773,720,680,644,617,605,609,622,640,660,685,718,755,790,823,857,889,918,941,961,980,997,1012,1024,1033,1040,1046,1051,1059,1069,1087,1114,1147,1183,1221,1257,1296,1338,1383,1434,1495,1563,1630,1692,1753,1762,1745,1720,1676,1627,1584,1541,1501,1465,1435,1413,1394,1378,1364,1351,1339,1327,1315,1304,1297,1294,1291,1289,1287,1285,1283,1282,1281,1280,1279,1279,1278,1278,1278,1277,1277,1277,1277,1277,1276,1276,1276,1276,1276,1276,1275,1275,1275,1275,1275,1275,1274,1274,1274,1274,1274,1274,1274,1274,1274,1273,1273,1273,1273,1273,1273,1273,1273,1273,1273,1273,1273,1272,1272,1272,1272,1272,1272,1272,1272,1272,1272,1272,1272,1272,1272,1272,1272,1272,1272,1272,1272,1272,1272,1272,1272,1272,1272,1272,1272,1272,1272,1272,1272,1272,1272,1272,1272,1272,1272,1272,1272,1272,1272,1272,1272,1272,1272,1272,1272,1272,1272,1272,1272,1272,1272,1272,1272,1272,1272,1272,1272,1272,1273,1273,1273,1273,1273,1273,1273,1273,1273,1273,1273,1273,1273,1273,1273,1273,1273,1273,1273,1273,1273,1273,1273,1274,1274,1274,1274,1274,1274,1274,1274,1276,1279,1283,1289,1295,1302,1310,1318,1327,1336,1345,1357,1371,1386,1402,1418,1433,1447,1463,1479,1494,1506,1514,1516,1509,1496,1478,1458,1438,1420,1405,1396,1389,1382,1377,1371,1366,1361,1354,1347,1339,1331,1322,1314,1304,1295,1285,1275,1265,1253,1240,1227,1213,1199,1186,1173,1161,1150,1142,1134,1127,1121,1115,1110,1104,1100,1096,1092,1088,1085,1081,1078,1075,1073,1070,1069,1068,1069,1073,1080,1090,1103,1116,1130,1144,1157,1174,1194,1217,1239,1260,1278,1292,1301,1303,1303,1302,1301,1300,1299,1298,1296,1295,1294,1293,1291,1291,1290,1290,1290,1289,1289,1289,1289,1289,1289,1289,1288,1288,1288,1288,1288,1288,1288,1288],[1935,1936,1936,1936,1937,1937,1937,1938,1938,1938,1939,1939,1940,1940,1940,1941,1941,1941,1942,1942,1943,1943,1943,1944,1944,1945,1945,1946,1946,1946,1947,1947,1948,1948,1948,1949,1949,1950,1950,1951,1951,1952,1952,1953,1954,1954,1955,1956,1956,1957,1957,1958,1958,1959,1959,1959,1960,1960,1960,1959,1950,1934,1913,1889,1863,1836,1798,1752,1704,1657,1616,1585,1553,1523,1496,1476,1467,1468,1478,1494,1515,1538,1564,1600,1646,1700,1759,1819,1883,1961,2043,2119,2179,2240,2293,2325,2327,2306,2273,2236,2204,2168,2129,2093,2062,2039,2019,1999,1982,1968,1957,1950,1947,1944,1941,1939,1937,1935,1933,1932,1931,1930,1930,1930,1930,1930,1930,1930,1930,1930,1930,1930,1930,1930,1930,1930,1931,1931,1931,1931,1931,1931,1931,1931,1931,1931,1931,1932,1932,1932,1932,1932,1932,1932,1932,1932,1933,1933,1933,1933,1933,1933,1933,1933,1934,1934,1934,1934,1934,1934,1934,1934,1934,1934,1934,1935,1935,1935,1935,1935,1935,1935,1935,1935,1935,1935,1935,1935,1935,1935,1935,1935,1935,1935,1935,1935,1935,1935,1935,1935,1935,1935,1935,1935,1935,1935,1935,1935,1935,1935,1935,1935,1935,1935,1935,1935,1935,1935,1935,1935,1935,1935,1935,1935,1935,1935,1935,1935,1935,1935,1935,1935,1935,1935,1935,1935,1935,1935,1935,1935,1935,1935,1935,1935,1935,1935,1935,1935,1935,1935,1935,1935,1935,1935,1935,1935,1935,1935,1935,1935,1935,1935,1935,1935,1935,1935,1935,1935,1938,1946,1958,1971,1986,2000,2013,2022,2027,2024,2009,1985,1956,1923,1891,1862,1838,1812,1785,1757,1729,1703,1681,1662,1650,1643,1646,1658,1679,1704,1733,1762,1788,1812,1838,1867,1896,1923,1946,1962,1970,1970,1968,1966,1964,1961,1958,1955,1953,1951,1949,1948,1947,1946,1945,1944,1944,1943,1942,1941,1940,1940,1939,1938,1938,1937,1936,1936,1935,1935,1934,1934,1933,1933,1932,1932,1931,1931,1931,1930,1930,1929,1929,1929,1928,1928,1927,1927,1927,1926,1926,1926,1925,1925,1925,1924,1924,1924,1923,1923,1923,1923,1922,1922,1922,1922,1921,1921,1921,1921,1921,1920,1920,1920,1920,1920,1920],[2607,2608,2609,2611,2612,2613,2614,2615,2616,2617,2618,2619,2620,2621,2622,2623,2624,2624,2625,2626,2626,2627,2627,2628,2628,2629,2629,2630,2630,2630,2631,2631,2631,2632,2632,2632,2632,2633,2633,2633,2633,2633,2633,2633,2634,2634,2634,2634,2634,2634,2634,2634,2634,2634,2634,2634,2634,2634,2634,2634,2632,2628,2624,2617,2610,2602,2594,2585,2575,2560,2543,2522,2501,2479,2459,2441,2420,2399,2377,2357,2339,2326,2319,2320,2336,2365,2401,2441,2481,2519,2564,2612,2660,2702,2737,2773,2804,2823,2824,2813,2795,2772,2748,2728,2713,2699,2685,2671,2659,2648,2640,2634,2631,2627,2624,2621,2619,2616,2614,2613,2611,2610,2610,2610,2610,2610,2610,2610,2610,2610,2610,2610,2610,2610,2610,2610,2610,2610,2610,2610,2610,2610,2610,2610,2610,2610,2610,2610,2610,2610,2610,2610,2610,2610,2610,2610,2610,2610,2610,2610,2610,2610,2610,2610,2610,2610,2610,2610,2610,2610,2610,2610,2610,2610,2610,2610,2610,2610,2610,2610,2610,2610,2610,2610,2610,2610,2610,2610,2610,2610,2610,2610,2610,2610,2610,2610,2610,2610,2611,2611,2611,2611,2611,2611,2611,2611,2611,2611,2611,2611,2611,2611,2611,2611,2611,2611,2611,2611,2611,2611,2611,2611,2611,2611,2611,2611,2611,2611,2611,2611,2611,2611,2611,2611,2612,2612,2612,2612,2612,2612,2612,2612,2612,2612,2612,2612,2612,2612,2612,2612,2612,2612,2612,2612,2612,2612,2613,2613,2613,2613,2613,2613,2613,2613,2613,2614,2618,2625,2632,2641,2649,2657,2663,2670,2677,2684,2690,2695,2698,2697,2689,2676,2657,2636,2613,2591,2569,2542,2512,2481,2452,2429,2412,2396,2382,2370,2362,2360,2366,2379,2397,2418,2440,2461,2485,2513,2542,2569,2591,2608,2624,2639,2653,2665,2673,2677,2677,2675,2673,2670,2667,2663,2659,2654,2650,2647,2643,2641,2639,2638,2636,2634,2633,2631,2630,2628,2626,2625,2623,2622,2621,2619,2618,2616,2615,2614,2612,2611,2610,2608,2607,2606,2605,2604,2603,2602,2601,2600,2599,2598,2597,2596,2595,2594,2593,2592,2592,2591,2590,2590,2589,2589,2588,2588,2587,2587,2586,2586,2586,2586,2585,2585,2585,2585,2585],[3275,3276,3278,3279,3281,3282,3283,3285,3286,3287,3288,3289,3290,3291,3292,3293,3294,3295,3296,3297,3298,3298,3299,3300,3301,3301,3302,3302,3303,3303,3304,3304,3305,3305,3306,3306,3306,3307,3307,3307,3308,3308,3308,3308,3309,3309,3309,3309,3309,3309,3309,3309,3310,3310,3310,3310,3310,3310,3310,3310,3310,3310,3310,3310,3310,3310,3310,3310,3309,3301,3286,3268,3248,3229,3211,3191,3168,3144,3120,3098,3079,3064,3055,3054,3064,3083,3109,3138,3167,3194,3224,3258,3290,3318,3341,3363,3383,3399,3408,3407,3394,3375,3354,3336,3325,3314,3304,3295,3286,3280,3276,3274,3273,3272,3271,3270,3269,3268,3267,3267,3266,3266,3266,3266,3266,3266,3266,3266,3266,3266,3266,3266,3266,3266,3266,3266,3266,3266,3266,3266,3266,3266,3266,3266,3266,3266,3266,3266,3266,3266,3266,3266,3266,3266,3266,3266,3266,3266,3266,3266,3266,3266,3266,3266,3266,3266,3266,3266,3266,3266,3266,3266,3266,3266,3266,3266,3266,3266,3266,3266,3266,3266,3266,3266,3266,3266,3266,3266,3266,3266,3266,3266,3266,3266,3266,3266,3266,3266,3266,3266,3266,3266,3266,3266,3266,3266,3266,3266,3266,3266,3266,3266,3266,3266,3266,3266,3266,3266,3266,3266,3266,3266,3266,3266,3266,3266,3266,3266,3266,3266,3266,3266,3266,3266,3266,3266,3266,3266,3266,3266,3266,3266,3266,3266,3266,3266,3266,3266,3266,3266,3266,3266,3266,3266,3266,3266,3266,3266,3266,3266,3266,3266,3266,3266,3266,3266,3266,3266,3266,3269,3275,3282,3289,3298,3306,3313,3319,3322,3323,3317,3306,3292,3275,3257,3240,3226,3215,3204,3192,3181,3172,3165,3161,3161,3166,3177,3190,3205,3221,3234,3245,3257,3270,3283,3294,3304,3311,3315,3316,3314,3311,3307,3302,3297,3292,3287,3283,3281,3280,3279,3278,3277,3276,3275,3274,3273,3273,3272,3271,3270,3270,3269,3268,3268,3267,3266,3266,3265,3264,3264,3263,3263,3262,3262,3261,3261,3260,3260,3259,3259,3259,3258,3258,3257,3257,3257,3256,3256,3256,3255,3255,3255,3255,3254,3254,3254,3254,3254,3253,3253,3253,3253,3253,3253,3253,3252,3252,3252,3252,3252,3252,3252,3252,3252,3252],[3934,3934,3935,3935,3935,3935,3935,3936,3936,3936,3936,3936,3937,3937,3937,3937,3937,3937,3938,3938,3938,3938,3938,3938,3938,3938,3938,3939,3939,3939,3939,3939,3939,3939,3939,3939,3939,3939,3939,3939,3939,3940,3940,3940,3940,3940,3940,3940,3940,3940,3940,3940,3940,3940,3940,3940,3940,3940,3940,3940,3940,3940,3940,3940,3940,3940,3940,3940,3940,3940,3940,3940,3940,3939,3933,3922,3909,3896,3884,3870,3855,3840,3828,3821,3821,3828,3841,3857,3875,3892,3908,3927,3947,3966,3983,3996,4009,4021,4030,4034,4030,4019,4004,3988,3975,3966,3958,3950,3943,3937,3933,3930,3930,3930,3930,3930,3930,3930,3930,3930,3930,3930,3930,3930,3930,3930,3930,3930,3930,3930,3930,3930,3930,3930,3930,3930,3930,3930,3930,3930,3930,3930,3930,3930,3930,3930,3930,3930,3930,3930,3930,3930,3930,3930,3930,3930,3930,3930,3930,3930,3930,3930,3930,3930,3930,3930,3930,3930,3930,3930,3930,3930,3930,3930,3930,3930,3930,3930,3930,3930,3930,3930,3930,3930,3930,3930,3930,3931,3931,3931,3931,3931,3931,3931,3931,3931,3931,3931,3931,3931,3931,3931,3931,3931,3931,3931,3931,3931,3931,3931,3931,3931,3931,3931,3931,3931,3931,3931,3931,3931,3931,3931,3931,3931,3932,3932,3932,3932,3932,3932,3932,3932,3932,3932,3932,3932,3932,3932,3932,3932,3932,3932,3932,3932,3932,3932,3933,3933,3933,3933,3933,3933,3933,3933,3933,3933,3933,3933,3933,3933,3933,3933,3933,3934,3934,3934,3934,3934,3934,3934,3934,3938,3943,3950,3957,3964,3968,3970,3967,3958,3946,3931,3915,3899,3886,3875,3863,3851,3839,3828,3818,3811,3807,3806,3811,3820,3833,3846,3861,3874,3886,3900,3916,3932,3947,3961,3971,3976,3977,3975,3972,3967,3962,3957,3951,3947,3943,3941,3940,3939,3938,3938,3937,3936,3936,3935,3935,3934,3933,3933,3932,3932,3931,3931,3930,3930,3929,3929,3929,3928,3928,3927,3927,3927,3926,3926,3926,3925,3925,3925,3924,3924,3924,3924,3923,3923,3923,3923,3922,3922,3922,3922,3922,3922,3921,3921,3921,3921,3921,3921,3921,3921,3920,3920,3920,3920,3920,3920,3920,3920,3920,3920,3920,3920,3920],[4605,4605,4605,4605,4605,4605,4605,4605,4605,4605,4605,4605,4605,4605,4605,4605,4605,4605,4605,4605,4605,4605,4605,4605,4605,4605,4605,4605,4605,4605,4605,4605,4605,4604,4604,4604,4604,4604,4604,4604,4604,4604,4604,4604,4604,4604,4604,4604,4604,4603,4603,4603,4603,4603,4603,4603,4603,4603,4603,4602,4602,4602,4602,4602,4602,4602,4602,4601,4601,4601,4601,4601,4601,4600,4600,4600,4599,4589,4576,4564,4557,4552,4547,4543,4541,4540,4543,4549,4557,4567,4576,4584,4594,4606,4617,4627,4635,4639,4640,4637,4632,4626,4620,4615,4611,4609,4608,4607,4606,4605,4604,4603,4602,4601,4601,4600,4600,4600,4600,4600,4600,4600,4600,4600,4600,4600,4600,4600,4600,4600,4600,4600,4600,4600,4600,4600,4600,4599,4599,4599,4599,4599,4599,4599,4599,4599,4599,4599,4599,4599,4599,4599,4599,4599,4599,4599,4599,4599,4599,4599,4599,4599,4599,4599,4599,4599,4599,4599,4599,4599,4599,4599,4599,4599,4599,4599,4599,4599,4599,4599,4599,4599,4599,4599,4599,4599,4599,4599,4599,4599,4599,4599,4599,4599,4599,4599,4599,4599,4599,4599,4599,4599,4599,4599,4599,4599,4599,4599,4599,4599,4599,4599,4599,4599,4599,4599,4599,4599,4599,4599,4599,4599,4599,4599,4599,4599,4599,4599,4599,4599,4599,4599,4599,4599,4599,4599,4599,4599,4599,4599,4599,4599,4599,4599,4599,4599,4599,4599,4599,4599,4599,4599,4599,4599,4599,4599,4599,4599,4599,4599,4599,4598,4598,4598,4598,4598,4598,4598,4598,4598,4598,4598,4598,4598,4598,4598,4598,4598,4598,4595,4591,4586,4581,4576,4572,4569,4566,4563,4561,4559,4557,4556,4556,4557,4561,4565,4571,4577,4583,4588,4592,4596,4601,4606,4610,4614,4617,4619,4620,4620,4618,4616,4613,4610,4607,4604,4602,4600,4600,4599,4599,4599,4598,4598,4598,4598,4597,4597,4597,4596,4596,4596,4596,4595,4595,4595,4595,4594,4594,4594,4594,4594,4593,4593,4593,4593,4593,4593,4592,4592,4592,4592,4592,4592,4592,4591,4591,4591,4591,4591,4591,4591,4591,4591,4591,4591,4591,4590,4590,4590,4590,4590,4590,4590,4590,4590,4590,4590,4590,4590,4590,4590,4590,4590,4590],[5266,5266,5266,5266,5266,5266,5266,5266,5266,5266,5266,5266,5266,5266,5266,5266,5266,5266,5266,5266,5266,5266,5266,5266,5266,5266,5266,5266,5266,5266,5266,5266,5266,5266,5266,5266,5266,5266,5266,5266,5266,5266,5266,5266,5266,5266,5266,5266,5266,5266,5266,5266,5266,5266,5266,5266,5266,5266,5266,5266,5266,5266,5266,5266,5266,5266,5266,5266,5266,5266,5266,5266,5266,5266,5264,5252,5233,5216,5205,5196,5187,5180,5175,5174,5179,5189,5201,5214,5226,5242,5261,5280,5299,5316,5329,5336,5336,5332,5325,5315,5305,5295,5287,5281,5279,5277,5276,5274,5273,5271,5270,5269,5268,5268,5267,5266,5266,5266,5266,5266,5266,5266,5266,5266,5266,5266,5266,5266,5266,5266,5266,5266,5266,5266,5266,5266,5266,5266,5266,5266,5266,5266,5266,5266,5266,5266,5266,5266,5266,5266,5266,5266,5266,5266,5266,5266,5266,5266,5266,5266,5266,5266,5266,5266,5266,5266,5266,5266,5266,5266,5266,5266,5266,5266,5266,5266,5266,5266,5266,5266,5266,5266,5266,5266,5266,5266,5266,5266,5266,5266,5266,5266,5266,5266,5266,5266,5266,5266,5266,5266,5266,5266,5266,5266,5266,5266,5266,5266,5266,5266,5266,5266,5266,5266,5266,5266,5266,5266,5266,5266,5266,5266,5266,5266,5266,5266,5266,5266,5266,5266,5266,5266,5266,5266,5266,5266,5266,5266,5266,5266,5266,5266,5266,5266,5266,5266,5266,5266,5266,5266,5266,5266,5266,5266,5266,5266,5266,5266,5266,5266,5266,5266,5266,5266,5266,5266,5266,5266,5266,5266,5266,5266,5266,5266,5266,5266,5266,5266,5265,5259,5249,5236,5224,5214,5207,5201,5195,5190,5185,5182,5180,5180,5184,5191,5199,5208,5218,5226,5234,5242,5251,5260,5269,5278,5286,5292,5297,5300,5300,5298,5295,5292,5288,5283,5279,5275,5272,5270,5270,5269,5269,5269,5268,5268,5268,5267,5267,5267,5267,5266,5266,5266,5266,5265,5265,5265,5265,5264,5264,5264,5264,5264,5263,5263,5263,5263,5263,5262,5262,5262,5262,5262,5262,5262,5262,5261,5261,5261,5261,5261,5261,5261,5261,5261,5261,5261,5260,5260,5260,5260,5260,5260,5260,5260,5260,5260,5260,5260,5260,5260,5260,5260,5260,5260,5260],[5926,5926,5926,5926,5926,5926,5926,5926,5926,5926,5926,5926,5926,5926,5926,5926,5926,5926,5926,5926,5926,5926,5926,5926,5926,5926,5926,5926,5926,5926,5926,5926,5926,5926,5926,5926,5926,5926,5926,5926,5926,5926,5926,5926,5926,5926,5926,5926,5926,5926,5926,5926,5926,5926,5926,5926,5926,5926,5926,5926,5926,5926,5926,5926,5926,5926,5926,5926,5926,5926,5926,5926,5926,5926,5926,5926,5926,5926,5926,5923,5918,5911,5905,5898,5893,5890,5890,5893,5897,5903,5909,5916,5922,5928,5932,5937,5942,5946,5950,5953,5955,5955,5952,5947,5941,5934,5929,5926,5926,5926,5926,5926,5926,5926,5926,5926,5926,5926,5926,5926,5926,5926,5926,5926,5926,5926,5926,5926,5926,5926,5926,5926,5926,5926,5927,5927,5927,5927,5927,5927,5927,5927,5927,5927,5927,5927,5927,5927,5927,5927,5927,5927,5927,5927,5927,5927,5928,5928,5928,5928,5928,5928,5928,5928,5928,5928,5928,5928,5928,5928,5928,5928,5929,5929,5929,5929,5929,5929,5929,5929,5929,5929,5929,5929,5929,5929,5929,5930,5930,5930,5930,5930,5930,5930,5930,5930,5930,5930,5930,5930,5930,5931,5931,5931,5931,5931,5931,5931,5931,5931,5931,5931,5931,5931,5931,5931,5932,5932,5932,5932,5932,5932,5932,5932,5932,5932,5932,5932,5932,5932,5932,5932,5933,5933,5933,5933,5933,5933,5933,5933,5933,5933,5933,5933,5933,5933,5933,5933,5933,5933,5933,5933,5933,5933,5934,5934,5934,5934,5934,5934,5934,5934,5934,5934,5934,5934,5934,5934,5934,5934,5934,5934,5934,5934,5934,5934,5934,5934,5934,5934,5934,5932,5929,5926,5922,5917,5913,5910,5907,5905,5905,5907,5909,5913,5917,5921,5925,5928,5931,5935,5938,5941,5944,5947,5948,5948,5946,5944,5941,5938,5935,5932,5930,5930,5929,5929,5929,5929,5928,5928,5928,5927,5927,5927,5927,5926,5926,5926,5926,5925,5925,5925,5925,5924,5924,5924,5924,5924,5923,5923,5923,5923,5923,5923,5922,5922,5922,5922,5922,5922,5922,5922,5921,5921,5921,5921,5921,5921,5921,5921,5921,5921,5921,5921,5921,5920,5920,5920,5920,5920,5920,5920,5920,5920,5920,5920,5920,5920,5920,5920,5920,5920,5920,5920,5920],[6590,6590,6590,6590,6590,6590,6590,6590,6590,6590,6590,6590,6590,6590,6590,6590,6590,6590,6590,6590,6590,6590,6590,6590,6590,6590,6590,6590,6590,6590,6590,6590,6590,6590,6590,6590,6590,6590,6590,6590,6590,6590,6590,6590,6590,6590,6590,6590,6590,6590,6590,6590,6590,6590,6590,6590,6590,6590,6590,6590,6590,6590,6590,6590,6590,6590,6590,6590,6590,6590,6590,6590,6590,6590,6590,6590,6590,6590,6589,6585,6578,6568,6557,6547,6538,6531,6527,6528,6532,6539,6548,6558,6567,6576,6584,6592,6601,6610,6619,6626,6631,6633,6631,6625,6617,6608,6600,6596,6595,6595,6595,6595,6595,6595,6595,6595,6595,6595,6595,6595,6595,6595,6595,6595,6595,6595,6595,6595,6595,6595,6595,6595,6595,6595,6595,6595,6595,6595,6595,6595,6595,6595,6595,6595,6595,6595,6595,6595,6595,6595,6595,6595,6595,6596,6596,6596,6596,6596,6596,6596,6596,6596,6596,6596,6596,6596,6596,6596,6596,6596,6596,6596,6596,6596,6596,6596,6596,6596,6596,6596,6596,6596,6596,6596,6596,6596,6596,6596,6596,6596,6596,6596,6596,6596,6596,6597,6597,6597,6597,6597,6597,6597,6597,6597,6597,6597,6597,6597,6597,6597,6597,6597,6597,6597,6597,6597,6597,6597,6597,6597,6597,6597,6597,6597,6597,6597,6597,6597,6597,6597,6597,6597,6597,6597,6597,6597,6597,6597,6598,6598,6598,6598,6598,6598,6598,6598,6598,6598,6598,6598,6598,6598,6598,6598,6598,6598,6598,6598,6598,6598,6598,6598,6598,6598,6598,6598,6598,6598,6598,6598,6598,6598,6598,6598,6598,6598,6598,6598,6598,6598,6598,6598,6598,6598,6595,6590,6584,6577,6569,6562,6556,6551,6548,6549,6553,6560,6569,6577,6583,6591,6599,6605,6609,6610,6609,6607,6605,6602,6599,6596,6594,6592,6590,6590,6590,6589,6589,6589,6588,6588,6588,6587,6587,6587,6587,6586,6586,6586,6586,6585,6585,6585,6585,6585,6584,6584,6584,6584,6584,6583,6583,6583,6583,6583,6583,6582,6582,6582,6582,6582,6582,6582,6582,6581,6581,6581,6581,6581,6581,6581,6581,6581,6581,6581,6581,6581,6580,6580,6580,6580,6580,6580,6580,6580,6580,6580,6580,6580,6580,6580,6580,6580,6580,6580,6580],[7258,7258,7258,7258,7258,7258,7258,7258,7258,7258,7258,7258,7258,7258,7258,7258,7258,7258,7258,7258,7258,7258,7258,7258,7258,7258,7258,7258,7258,7258,7258,7258,7258,7258,7258,7258,7258,7258,7258,7258,7258,7258,7258,7258,7258,7258,7258,7258,7258,7258,7258,7258,7258,7258,7258,7258,7258,7258,7258,7258,7258,7258,7258,7258,7258,7258,7258,7258,7258,7258,7258,7258,7258,7258,7258,7258,7257,7253,7247,7238,7229,7220,7214,7210,7209,7212,7217,7224,7232,7239,7247,7253,7262,7271,7280,7287,7292,7294,7291,7286,7279,7271,7264,7261,7260,7260,7260,7260,7260,7260,7260,7260,7260,7260,7260,7260,7260,7260,7260,7260,7260,7260,7260,7260,7260,7260,7260,7260,7260,7260,7260,7260,7260,7260,7260,7260,7260,7260,7260,7261,7261,7261,7261,7261,7261,7261,7261,7261,7261,7261,7261,7261,7261,7261,7261,7261,7261,7261,7261,7261,7261,7261,7261,7261,7261,7261,7261,7261,7261,7262,7262,7262,7262,7262,7262,7262,7262,7262,7262,7262,7262,7262,7262,7262,7262,7262,7262,7262,7262,7262,7262,7262,7262,7262,7263,7263,7263,7263,7263,7263,7263,7263,7263,7263,7263,7263,7263,7263,7263,7263,7263,7263,7263,7263,7263,7263,7263,7263,7264,7264,7264,7264,7264,7264,7264,7264,7264,7264,7264,7264,7264,7264,7264,7264,7264,7264,7264,7264,7264,7264,7264,7264,7264,7264,7264,7264,7264,7264,7265,7265,7265,7265,7265,7265,7265,7265,7265,7265,7265,7265,7265,7265,7265,7265,7265,7265,7265,7265,7265,7265,7265,7265,7265,7265,7265,7265,7265,7265,7265,7265,7265,7265,7265,7264,7260,7253,7243,7232,7221,7210,7202,7196,7194,7196,7200,7206,7212,7220,7227,7233,7242,7251,7260,7269,7276,7279,7280,7279,7277,7274,7271,7269,7267,7265,7265,7265,7265,7264,7264,7264,7264,7264,7264,7263,7263,7263,7263,7263,7263,7263,7263,7262,7262,7262,7262,7262,7262,7262,7262,7262,7262,7261,7261,7261,7261,7261,7261,7261,7261,7261,7261,7261,7261,7261,7261,7261,7261,7260,7260,7260,7260,7260,7260,7260,7260,7260,7260,7260,7260,7260,7260,7260,7260,7260,7260,7260,7260,7260,7260,7260,7260,7260,7260,7260,7260],[7926,7926,7926,7926,7926,7926,7926,7926,7926,7926,7926,7926,7926,7926,7926,7926,7926,7926,7926,7926,7926,7926,7926,7926,7926,7926,7926,7926,7926,7926,7927,7927,7927,7927,7927,7927,7927,7927,7927,7927,7927,7927,7927,7927,7927,7927,7927,7928,7928,7928,7928,7928,7928,7928,7928,7928,7928,7929,7929,7929,7929,7929,7929,7929,7929,7930,7930,7930,7930,7933,7938,7943,7948,7952,7954,7953,7951,7947,7942,7937,7931,7926,7922,7918,7915,7911,7908,7905,7902,7899,7898,7897,7898,7900,7904,7909,7915,7920,7923,7926,7926,7926,7926,7926,7926,7926,7926,7926,7927,7927,7927,7927,7927,7927,7927,7927,7927,7927,7927,7927,7927,7927,7927,7927,7927,7927,7927,7927,7927,7927,7927,7927,7927,7927,7928,7928,7928,7928,7928,7928,7928,7928,7928,7928,7928,7928,7928,7928,7928,7928,7928,7928,7928,7928,7928,7928,7928,7928,7928,7928,7928,7928,7928,7928,7928,7928,7928,7928,7928,7928,7928,7928,7928,7928,7928,7928,7928,7928,7928,7928,7928,7928,7928,7928,7928,7928,7928,7928,7928,7928,7928,7928,7928,7928,7928,7928,7928,7928,7928,7928,7928,7928,7928,7928,7928,7928,7928,7928,7928,7928,7928,7928,7928,7928,7928,7928,7928,7928,7928,7928,7928,7928,7928,7928,7928,7928,7928,7928,7928,7928,7928,7928,7928,7928,7928,7928,7928,7928,7929,7929,7929,7929,7929,7929,7929,7929,7929,7929,7929,7929,7929,7929,7929,7929,7929,7929,7929,7929,7929,7929,7929,7929,7929,7929,7930,7930,7930,7930,7930,7930,7930,7930,7930,7930,7931,7933,7936,7939,7942,7944,7946,7947,7947,7945,7942,7939,7935,7931,7927,7924,7921,7919,7917,7915,7913,7911,7910,7908,7907,7906,7905,7905,7905,7907,7908,7911,7913,7916,7919,7921,7923,7925,7926,7926,7926,7926,7926,7926,7926,7926,7926,7926,7926,7926,7926,7926,7926,7926,7926,7926,7926,7926,7926,7926,7926,7926,7926,7926,7926,7926,7926,7926,7926,7926,7926,7926,7926,7926,7926,7926,7926,7926,7926,7926,7926,7926,7926,7926,7926,7926,7926,7926,7926,7926,7926,7926,7926,7926,7926,7926,7926,7926,7926,7926,7926,7926,7926,7926,7926,7926,7926,7926,7926,7926,7926]],"refs":[127.2,193.5,261.04,326.6,393.06,459.9,526.6,592.99,659.64,726.24,792.8],"bias":[0.0,0.0,0.0,0.0,0.0,0.0,0.0,0.0,0.0,0.0,0.0,0.0,0.0,0.0,0.0,0.0,0.0,0.0,0.0,0.0,0.0,0.0,0.0,0.0,0.0,0.0,0.0,0.0,0.0,0.0,0.0,0.0,0.0,0.0,0.0,0.0,0.0,0.0,0.0,0.0,0.0,0.0,0.0,0.0,0.0,0.0,0.0,0.0,0.0,0.0,0.0,0.0,0.0,0.0,0.0,0.0,0.0,0.0,0.0,0.0,0.0,0.0,0.0,0.0,0.0,0.0,0.0,0.0,0.0,0.0,0.0,0.0,0.0,0.0,0.0,0.0,0.0,0.0,0.0,0.0,0.0,0.0,0.0,0.0,0.0,0.0,0.0,0.0,0.0,0.0,0.0,0.0,0.0,0.0,0.0,0.0,0.0,0.0,0.0,0.0,0.0,0.0,0.0,0.0,0.0,0.0,0.0,0.0,0.0,0.0,0.0,0.0,0.0,0.0,0.0,0.0,0.0,0.0,0.0,0.0,0.0,0.0,0.0,0.0,0.0,0.0,0.0,0.0,0.0,0.0,0.0,0.0,0.0,0.0,0.0,0.0,0.0,0.0,0.0,0.0,0.0,0.0,0.0,0.0,0.0,0.0,0.0,0.0,0.0,0.0,0.0,0.0,0.0,0.0,0.0,0.0,0.0,0.0,0.0,0.0,0.0,0.0,0.0,0.0,0.0,0.0,0.0,0.0,0.0,0.0,0.0,0.0,0.0,0.0,0.0,0.0,0.0,0.0,0.0,0.0,0.0,0.0,0.0,0.0,0.0,0.0,0.0,0.0,0.0,0.0,0.0,0.0,0.0,0.0,0.0,0.0,0.0,0.0,0.0,0.0,0.0,0.0,0.0,0.0,0.0,0.0,0.0,0.0,0.0,0.0,0.0,0.0,0.0,0.0,0.0,0.0,0.0,0.0,0.0,0.0,0.0,0.0,0.0,0.0,0.0,0.0,0.0,0.0,0.0,0.0,0.0,0.0,0.0,0.0,0.0,0.0,0.0,0.0,0.0,0.0,0.0,0.0,0.0,0.0,0.0,0.0,0.0,0.0,0.0,0.0,0.0,0.0,0.0,0.0,0.0,0.0,0.0,0.0,0.0,0.0,0.0,0.0,0.0,0.0,0.0,0.0,0.0,0.0,0.0,0.0,0.0,0.0,0.0,0.0,0.0,0.0,0.0,0.0,0.0,0.0,0.0,0.0,0.0,0.0,0.0,0.0,0.0,0.0,0.0,0.0,0.0,0.0,0.0,0.0,0.0,0.0,0.0,0.0,0.0,0.0,0.0,0.0,0.0,0.0,0.0,0.0,0.0,0.0,0.0,0.0,0.0,0.0,0.0,0.0,0.0,0.0,0.0,0.0,0.0,0.0,0.0,0.0,0.0,0.0,0.0,0.0,0.0,0.0,0.0,0.0,0.0,0.0,0.0,0.0,0.0,0.0,0.0,0.0,0.0,0.0,0.0,0.0,0.0,0.0,0.0,0.0,0.0,0.0,0.0,0.0,0.0,0.0,0.0,0.0,0.0,0.0,0.0,0.0,0.0,0.0,0.0,0.0,0.0,0.0,0.0,0.0,0.0,0.0,0.0,0.0,0.0,0.22,0.66,1.1,1.54,1.98,2.2,2.2,2.2,2.2,2.2,2.2,2.2,2.2,2.2],"vo":{"2":[2.0,2.0,2.0,2.0,2.0,2.0,2.0,2.0,2.0,2.0,2.0,2.0,2.0,2.0,2.0,2.0,2.0,2.0,2.0,2.0,2.0,2.0,2.0,2.0,2.0,2.0,2.0,2.0,2.0,2.0,2.0,2.0,2.0,2.0,2.0,2.0,2.0,2.0,2.0,2.0,2.0,2.0,2.0,2.0,2.0,2.0,2.0,2.0,2.0,2.0,2.0,2.0,2.0,2.0,2.0,2.0,2.0,2.0,1.93,1.8,1.67,1.53,1.4,1.27,1.13,1.0,0.87,0.73,0.6,0.47,0.33,0.2,0.07,0.0,0.0,0.0,0.0,0.0,0.0,0.0,0.0,0.0,0.0,0.0,0.0,0.0,0.0,0.0,0.0,0.0,0.0,0.0,0.0,0.0,0.0,0.0,0.0,0.0,0.0,0.0,0.0,0.0,0.0,0.0,0.0,0.0,0.0,0.0,0.0,0.0,0.0,0.0,0.0,0.0,0.0,0.0,0.0,0.0,0.0,0.0,0.0,0.0,0.0,0.0,0.0,0.0,0.0,0.0,0.0,0.0,0.0,0.0,0.0,0.0,0.0,0.0,0.0,0.0,0.0,0.0,0.0,0.0,0.0,0.0,0.0,0.0,0.0,0.0,0.0,0.0,0.0,0.0,0.0,0.0,0.0,0.0,0.0,0.0,0.0,0.0,0.0,0.0,0.0,0.0,0.0,0.0,0.0,0.0,0.0,0.0,0.0,0.0,0.0,0.0,0.0,0.0,0.0,0.0,0.0,0.0,0.0,0.0,0.0,0.0,0.0,0.0,0.0,0.0,0.0,0.0,0.0,0.0,0.0,0.0,0.0,0.0,0.0,0.0,0.0,0.0,0.0,0.0,0.0,0.0,0.0,0.0,0.0,0.0,0.0,0.0,0.0,0.0,0.0,0.0,0.0,0.0,0.0,0.0,0.0,0.0,0.0,0.0,0.0,0.0,0.0,0.0,0.0,0.0,0.0,0.0,0.0,0.0,0.0,0.0,0.0,0.0,0.0,0.0,0.0,0.0,0.0,0.0,0.0,0.0,0.0,0.0,0.0,0.0,0.0,0.0,0.0,0.0,0.0,0.0,0.0,0.0,0.0,0.0,0.0,0.0,0.0,0.0,0.0,0.0,0.0,0.0,0.0,0.0,0.0,0.0,0.0,0.0,0.0,0.0,0.0,0.0,0.0,0.0,0.0,0.0,0.0,0.0,0.0,0.0,0.0,0.0,0.0,0.0,0.0,0.0,0.0,0.0,0.0,0.0,0.0,0.0,0.0,0.0,0.0,0.0,0.0,0.0,0.0,0.0,0.0,0.0,0.0,0.0,0.0,0.0,0.0,0.0,0.0,0.0,0.0,0.0,0.0,0.0,0.0,0.0,0.0,0.0,0.0,0.0,0.0,0.0,0.0,0.0,0.0,0.0,0.0,0.0,0.0,0.0,0.0,0.0,0.0,0.0,0.0,0.0,0.0,0.0,0.0,0.0,0.0,0.0,0.0,0.0,0.0,0.0,0.0,0.0,0.0,0.0,0.0,0.0,0.0,0.0,0.0,0.0,0.0,0.0,0.0,0.0,0.0,0.0,0.0,0.0,0.0,0.0,0.0,0.0,0.0,0.0,0.0,0.0,0.0,0.0,0.0,0.0,0.0,0.0,0.0,0.0,0.0],"3":[3.2,3.2,3.2,3.2,3.2,3.2,3.2,3.2,3.2,3.2,3.2,3.2,3.2,3.2,3.2,3.2,3.2,3.2,3.2,3.2,3.2,3.2,3.2,3.2,3.2,3.2,3.2,3.2,3.2,3.2,3.2,3.2,3.2,3.2,3.2,3.2,3.2,3.2,3.2,3.2,3.2,3.2,3.2,3.2,3.2,3.2,3.2,3.2,3.2,3.2,3.2,3.2,3.2,3.2,3.2,3.2,3.2,3.2,3.2,3.2,3.09,2.88,2.67,2.45,2.24,2.03,1.81,1.6,1.39,1.17,0.96,0.75,0.53,0.32,0.11,0.0,0.0,0.0,0.0,0.0,0.0,0.0,0.0,0.0,0.0,0.0,0.0,0.0,0.0,0.0,0.0,0.0,0.0,0.0,0.0,0.0,0.0,0.0,0.0,0.0,0.0,0.0,0.0,0.0,0.0,0.0,0.0,0.0,0.0,0.0,0.0,0.0,0.0,0.0,0.0,0.0,0.0,0.0,0.0,0.0,0.0,0.0,0.0,0.0,0.0,0.0,0.0,0.0,0.0,0.0,0.0,0.0,0.0,0.0,0.0,0.0,0.0,0.0,0.0,0.0,0.0,0.0,0.0,0.0,0.0,0.0,0.0,0.0,0.0,0.0,0.0,0.0,0.0,0.0,0.0,0.0,0.0,0.0,0.0,0.0,0.0,0.0,0.0,0.0,0.0,0.0,0.0,0.0,0.0,0.0,0.0,0.0,0.0,0.0,0.0,0.0,0.0,0.0,0.0,0.0,0.0,0.0,0.0,0.0,0.0,0.0,0.0,0.0,0.0,0.0,0.0,0.0,0.0,0.0,0.0,0.0,0.0,0.0,0.0,0.0,0.0,0.0,0.0,0.0,0.0,0.0,0.0,0.0,0.0,0.0,0.0,0.0,0.0,0.0,0.0,0.0,0.0,0.0,0.0,0.0,0.0,0.0,0.0,0.0,0.0,0.0,0.0,0.0,0.0,0.0,0.0,0.0,0.0,0.0,0.0,0.0,0.0,0.0,0.0,0.0,0.0,0.0,0.0,0.0,0.0,0.0,0.0,0.0,0.0,0.0,0.0,0.0,0.0,0.0,0.0,0.0,0.0,0.0,0.0,0.0,0.0,0.0,0.0,0.0,0.0,0.0,0.0,0.0,0.0,0.0,0.0,0.0,0.0,0.0,0.0,0.0,0.0,0.0,0.0,0.0,0.0,0.0,0.0,0.0,0.0,0.0,0.0,0.0,0.0,0.0,0.0,0.0,0.0,0.0,0.0,0.0,0.0,0.0,0.0,0.0,0.0,0.0,0.0,0.0,0.0,0.0,0.0,0.0,0.0,0.0,0.0,0.0,0.0,0.0,0.0,0.0,0.0,0.0,0.0,0.0,0.0,0.0,0.0,0.0,0.0,0.0,0.0,0.0,0.0,0.0,0.0,0.0,0.0,0.0,0.0,0.0,0.0,0.0,0.0,0.0,0.0,0.0,0.0,0.0,0.0,0.0,0.0,0.0,0.0,0.0,0.0,0.0,0.0,0.0,0.0,0.0,0.0,0.0,0.0,0.0,0.0,0.0,0.0,0.0,0.0,0.0,0.0,0.0,0.0,0.0,0.0,0.0,0.0,0.0,0.0,0.0,0.0,0.0,0.0,0.0,0.0,0.0,0.0,0.0,0.0]}},{"c0":552,"x0":552.5,"x1":938.5,"y0":59.5,"y1":840.5,"ys":[[1345,1343,1341,1340,1338,1336,1334,1332,1330,1328,1326,1323,1321,1319,1316,1313,1310,1306,1303,1300,1298,1296,1295,1295,1297,1300,1304,1308,1314,1320,1326,1332,1337,1343,1349,1357,1365,1374,1383,1392,1400,1407,1413,1418,1422,1423,1421,1415,1405,1392,1377,1361,1341,1308,1266,1218,1172,1132,1099,1067,1036,1008,984,966,948,932,920,915,917,924,934,946,958,971,981,990,997,1005,1012,1019,1028,1037,1047,1059,1073,1088,1107,1129,1156,1186,1219,1256,1303,1372,1441,1487,1494,1493,1491,1488,1479,1468,1456,1442,1426,1409,1391,1375,1359,1346,1335,1325,1316,1307,1301,1296,1294,1293,1292,1290,1289,1288,1287,1286,1285,1284,1284,1283,1283,1282,1282,1281,1281,1281,1280,1280,1280,1280,1280,1280,1280,1280,1280,1280,1280,1280,1280,1280,1280,1280,1280,1280,1280,1280,1280,1280,1280,1280,1280,1280,1280,1280,1280,1280,1280,1280,1280,1280,1280,1280,1280,1280,1280,1280,1280,1280,1280,1280,1280,1280,1280,1280,1280,1280,1280,1280,1280,1280,1280,1280,1280,1280,1280,1280,1280,1280,1280,1280,1280,1280,1280,1280,1280,1280,1280,1280,1280,1280,1280,1280,1280,1280,1280,1280,1280,1280,1280,1280,1280,1280,1280,1280,1280,1280,1280,1280,1280,1280,1280,1280,1280,1281,1281,1281,1281,1281,1281,1281,1281,1281,1281,1281,1281,1281,1281,1281,1281,1281,1281,1281,1281,1281,1281,1281,1281,1281,1281,1281,1281,1281,1282,1284,1286,1289,1292,1296,1300,1304,1309,1314,1318,1323,1328,1332,1338,1344,1350,1358,1365,1373,1381,1390,1398,1406,1414,1421,1428,1434,1440,1444,1448,1450,1452,1452,1449,1444,1437,1428,1417,1404,1390,1375,1359,1339,1303,1257,1209,1166,1136,1106,1077,1049,1023,1000,981,966,957,955,960,970,984,1002,1021,1040,1061,1087,1117,1150,1181,1208,1231,1254,1276,1298,1316,1329,1337,1338,1336,1333,1328,1323,1317,1311,1305,1300,1295,1291,1289,1286,1284,1282,1280,1278,1276,1274,1272,1271,1270,1269,1268,1267,1267,1268,1270,1273,1277,1282,1288,1294,1299,1304,1308,1312,1315,1318,1321,1324,1327,1329,1332,1335,1337,1339,1341,1343,1345],[1963,1959,1956,1953,1950,1947,1944,1942,1940,1939,1937,1936,1935,1934,1933,1932,1931,1931,1931,1930,1930,1930,1930,1930,1931,1932,1934,1936,1938,1941,1944,1948,1951,1955,1958,1962,1965,1968,1972,1975,1979,1983,1987,1992,1996,2001,2005,2009,2013,2017,2020,2023,2025,2026,2027,2027,2026,2024,2021,2017,2000,1974,1942,1907,1873,1842,1807,1770,1731,1692,1654,1619,1587,1560,1533,1506,1480,1455,1435,1419,1411,1410,1416,1429,1447,1469,1495,1523,1563,1621,1694,1775,1861,1946,2050,2164,2271,2354,2423,2429,2415,2392,2364,2334,2288,2230,2169,2113,2071,2046,2023,2003,1987,1975,1970,1968,1966,1965,1963,1962,1960,1959,1958,1957,1956,1955,1954,1953,1953,1952,1952,1951,1951,1951,1950,1950,1950,1950,1950,1950,1950,1950,1950,1950,1950,1950,1950,1950,1950,1950,1950,1950,1950,1950,1950,1950,1950,1950,1950,1950,1950,1950,1950,1950,1950,1950,1950,1950,1950,1950,1950,1950,1950,1950,1950,1950,1950,1950,1950,1950,1950,1950,1950,1950,1950,1950,1950,1950,1951,1951,1951,1951,1951,1951,1951,1951,1951,1951,1951,1951,1951,1951,1951,1951,1951,1951,1951,1951,1951,1951,1951,1951,1951,1952,1952,1952,1952,1952,1952,1952,1952,1952,1952,1952,1952,1952,1952,1952,1952,1953,1953,1953,1953,1953,1953,1953,1953,1953,1953,1953,1953,1954,1954,1954,1954,1954,1954,1954,1954,1954,1954,1955,1955,1955,1955,1955,1955,1955,1955,1956,1956,1956,1956,1956,1960,1966,1974,1983,1994,2005,2016,2026,2035,2045,2057,2069,2080,2089,2095,2098,2091,2068,2035,1995,1954,1916,1884,1849,1810,1771,1734,1701,1674,1656,1650,1658,1678,1706,1737,1767,1793,1823,1856,1889,1919,1943,1959,1963,1960,1954,1945,1935,1925,1916,1910,1906,1907,1910,1914,1920,1927,1934,1941,1947,1952,1958,1963,1969,1975,1980,1986,1991,1995,1999,2002,2005,2006,2006,2004,2002,1998,1993,1988,1983,1977,1972,1966,1962,1958,1954,1950,1945,1941,1938,1936,1935,1935,1936,1937,1938,1940,1941,1943,1945,1946,1948,1949,1950,1950,1951,1951,1952,1952,1953,1953,1954,1954,1954,1955,1955,1955,1955,1956,1956,1956,1956,1956],[2663,2656,2650,2644,2638,2633,2629,2625,2621,2618,2615,2612,2609,2607,2606,2604,2603,2602,2601,2600,2600,2599,2599,2599,2599,2601,2603,2606,2610,2615,2620,2625,2631,2638,2644,2651,2658,2665,2672,2679,2685,2691,2697,2703,2709,2715,2722,2729,2736,2743,2751,2758,2765,2772,2779,2785,2791,2796,2801,2805,2808,2810,2812,2811,2790,2745,2688,2628,2572,2506,2434,2359,2289,2226,2175,2124,2072,2024,1980,1944,1919,1907,1911,1933,1969,2015,2068,2123,2180,2254,2339,2429,2513,2587,2669,2750,2819,2861,2868,2860,2845,2826,2806,2788,2773,2758,2742,2727,2711,2696,2682,2670,2660,2653,2649,2647,2644,2642,2640,2638,2636,2634,2633,2631,2630,2628,2627,2626,2625,2624,2623,2623,2622,2621,2621,2621,2620,2620,2620,2620,2620,2620,2619,2619,2619,2619,2619,2619,2619,2619,2618,2618,2618,2618,2618,2618,2618,2618,2618,2618,2617,2617,2617,2617,2617,2617,2617,2617,2617,2617,2617,2616,2616,2616,2616,2616,2616,2616,2616,2616,2616,2616,2616,2616,2615,2615,2615,2615,2615,2615,2615,2615,2615,2615,2615,2615,2615,2615,2615,2615,2614,2614,2614,2614,2614,2614,2614,2614,2614,2614,2614,2614,2614,2614,2614,2614,2614,2614,2614,2614,2614,2614,2614,2614,2614,2614,2613,2613,2613,2613,2613,2613,2613,2613,2613,2613,2613,2613,2613,2613,2613,2613,2613,2613,2613,2613,2613,2613,2613,2613,2613,2613,2613,2613,2613,2613,2613,2613,2613,2613,2613,2613,2613,2613,2613,2613,2613,2613,2615,2620,2628,2639,2651,2664,2678,2691,2704,2715,2725,2735,2746,2758,2769,2780,2791,2801,2809,2817,2822,2825,2826,2825,2823,2820,2816,2812,2807,2802,2797,2791,2784,2776,2767,2756,2745,2732,2717,2694,2666,2635,2605,2578,2557,2544,2533,2522,2512,2503,2495,2490,2486,2485,2486,2489,2493,2499,2505,2512,2518,2525,2531,2539,2547,2557,2566,2575,2584,2591,2596,2599,2599,2598,2597,2595,2593,2590,2587,2584,2581,2578,2575,2573,2571,2569,2567,2566,2564,2562,2561,2559,2558,2557,2556,2556,2556,2556,2557,2558,2560,2562,2564,2567,2570,2574,2578,2582,2586,2591,2596,2602,2608,2614,2620,2627,2634,2641,2649],[3288,3286,3284,3282,3280,3278,3276,3275,3274,3272,3271,3270,3270,3269,3268,3268,3267,3267,3267,3266,3266,3266,3266,3266,3266,3267,3268,3269,3270,3272,3273,3275,3277,3279,3281,3283,3286,3288,3290,3293,3295,3297,3299,3301,3303,3306,3309,3312,3315,3318,3321,3324,3327,3330,3332,3334,3336,3337,3337,3337,3336,3334,3331,3327,3322,3317,3310,3303,3296,3288,3279,3270,3259,3241,3217,3191,3162,3135,3111,3090,3068,3045,3023,3003,2986,2974,2968,2972,2990,3019,3055,3094,3132,3168,3208,3250,3293,3332,3368,3407,3440,3457,3455,3443,3425,3404,3384,3367,3354,3343,3331,3321,3312,3306,3302,3300,3298,3296,3295,3293,3292,3290,3289,3288,3287,3286,3285,3284,3283,3283,3282,3282,3281,3281,3280,3280,3280,3280,3280,3280,3280,3280,3280,3280,3280,3280,3280,3280,3280,3280,3280,3280,3280,3280,3280,3280,3280,3280,3280,3280,3280,3280,3280,3280,3280,3280,3280,3280,3280,3280,3280,3280,3280,3280,3280,3280,3280,3280,3280,3280,3280,3280,3280,3280,3280,3280,3280,3280,3280,3280,3280,3280,3280,3280,3280,3280,3280,3280,3280,3280,3280,3280,3280,3280,3280,3280,3280,3280,3280,3280,3280,3280,3280,3280,3280,3280,3280,3280,3280,3280,3280,3280,3280,3280,3280,3280,3280,3280,3280,3280,3280,3280,3280,3280,3280,3280,3280,3280,3280,3280,3280,3280,3280,3280,3280,3280,3280,3280,3280,3280,3280,3280,3280,3280,3280,3280,3280,3280,3280,3280,3280,3280,3280,3280,3280,3280,3280,3280,3280,3280,3280,3283,3292,3304,3318,3335,3352,3368,3383,3396,3405,3409,3406,3394,3376,3354,3331,3309,3291,3269,3247,3225,3206,3193,3188,3192,3203,3219,3236,3253,3267,3284,3303,3321,3336,3347,3352,3349,3338,3323,3304,3285,3268,3255,3246,3239,3231,3224,3218,3212,3208,3205,3203,3203,3205,3209,3214,3221,3228,3235,3243,3250,3257,3263,3270,3278,3286,3293,3300,3305,3309,3310,3310,3310,3310,3310,3310,3310,3310,3310,3310,3310,3310,3309,3309,3309,3309,3309,3308,3308,3308,3307,3307,3306,3306,3305,3305,3304,3303,3303,3302,3301,3300,3299,3298,3297,3296,3295,3293,3292,3290,3289,3287,3286,3284,3282,3280],[3955,3954,3953,3952,3952,3951,3950,3949,3949,3948,3948,3947,3946,3946,3945,3945,3945,3944,3944,3943,3943,3943,3943,3942,3942,3942,3942,3941,3941,3941,3941,3941,3941,3941,3940,3940,3940,3940,3940,3940,3940,3940,3940,3940,3940,3940,3940,3940,3940,3940,3940,3941,3941,3942,3943,3943,3944,3945,3946,3947,3948,3948,3949,3950,3951,3952,3952,3953,3954,3954,3955,3955,3955,3954,3946,3933,3916,3896,3876,3858,3842,3824,3805,3785,3767,3752,3741,3735,3737,3749,3767,3789,3814,3838,3862,3891,3921,3949,3971,3992,4011,4020,4018,4010,3998,3985,3972,3963,3958,3954,3950,3946,3943,3940,3938,3936,3935,3934,3934,3934,3934,3934,3934,3934,3934,3934,3934,3934,3934,3934,3934,3934,3934,3934,3934,3934,3934,3934,3934,3934,3934,3934,3934,3934,3934,3934,3934,3934,3934,3934,3934,3934,3934,3934,3934,3934,3934,3934,3935,3935,3935,3935,3935,3935,3935,3935,3935,3935,3935,3935,3935,3935,3935,3935,3935,3935,3935,3935,3935,3935,3935,3936,3936,3936,3936,3936,3936,3936,3936,3936,3936,3936,3936,3936,3936,3937,3937,3937,3937,3937,3937,3937,3937,3937,3937,3937,3938,3938,3938,3938,3938,3938,3938,3938,3938,3939,3939,3939,3939,3939,3939,3939,3939,3940,3940,3940,3940,3940,3940,3940,3941,3941,3941,3941,3941,3941,3942,3942,3942,3942,3942,3942,3943,3943,3943,3943,3943,3943,3944,3944,3944,3944,3944,3945,3945,3945,3945,3946,3946,3946,3946,3946,3947,3947,3947,3947,3948,3948,3948,3950,3953,3958,3963,3969,3975,3981,3987,3992,3997,4001,4004,4005,4005,4003,4000,3996,3991,3986,3981,3976,3971,3966,3962,3958,3955,3952,3950,3947,3944,3942,3939,3937,3934,3932,3929,3927,3924,3921,3919,3915,3912,3908,3904,3900,3896,3892,3888,3884,3881,3878,3875,3873,3871,3870,3870,3871,3874,3879,3885,3892,3899,3907,3914,3921,3927,3933,3938,3944,3950,3955,3961,3966,3970,3974,3976,3977,3977,3976,3974,3971,3969,3966,3962,3959,3956,3954,3952,3950,3950,3949,3949,3948,3947,3947,3946,3946,3946,3945,3945,3944,3944,3944,3943,3943,3943,3942,3942,3942,3942,3942,3941,3941,3941,3941,3941,3941,3941],[4605,4605,4605,4605,4605,4605,4605,4605,4605,4606,4606,4606,4606,4606,4606,4607,4607,4607,4607,4607,4608,4608,4608,4609,4609,4609,4610,4610,4610,4611,4611,4611,4612,4612,4613,4613,4614,4614,4615,4615,4616,4616,4617,4617,4618,4618,4619,4620,4620,4622,4623,4625,4628,4630,4633,4636,4639,4642,4645,4647,4650,4652,4653,4654,4655,4653,4644,4629,4610,4587,4562,4537,4512,4488,4460,4430,4398,4366,4337,4311,4289,4268,4246,4226,4209,4196,4190,4194,4214,4246,4285,4328,4375,4442,4518,4590,4648,4706,4763,4814,4850,4867,4863,4845,4819,4788,4757,4731,4710,4690,4670,4652,4636,4625,4620,4619,4617,4616,4615,4614,4613,4612,4611,4610,4609,4609,4608,4607,4607,4607,4606,4606,4606,4605,4605,4605,4605,4605,4605,4605,4605,4605,4605,4605,4605,4605,4605,4605,4605,4605,4605,4605,4605,4605,4605,4605,4605,4605,4605,4605,4605,4605,4605,4605,4605,4605,4605,4605,4605,4605,4605,4605,4605,4605,4605,4605,4605,4605,4605,4605,4605,4605,4605,4605,4606,4606,4606,4606,4606,4606,4606,4606,4606,4606,4606,4606,4606,4606,4606,4606,4606,4606,4606,4606,4606,4606,4606,4606,4607,4607,4607,4607,4607,4607,4607,4607,4607,4607,4607,4607,4607,4607,4607,4608,4608,4608,4608,4608,4608,4608,4608,4608,4608,4608,4609,4609,4609,4609,4609,4609,4609,4609,4609,4610,4610,4610,4610,4610,4610,4610,4610,4611,4611,4611,4611,4611,4611,4611,4612,4612,4612,4612,4612,4612,4612,4614,4617,4623,4630,4639,4648,4657,4666,4674,4685,4698,4710,4722,4732,4738,4740,4732,4714,4689,4659,4626,4594,4564,4536,4504,4469,4434,4402,4376,4361,4358,4368,4387,4412,4440,4468,4493,4523,4557,4591,4622,4646,4660,4662,4659,4655,4649,4642,4635,4629,4623,4618,4612,4607,4601,4595,4591,4587,4585,4584,4585,4587,4589,4593,4597,4601,4605,4608,4612,4616,4620,4625,4630,4634,4637,4639,4640,4640,4639,4637,4635,4632,4630,4627,4623,4620,4617,4613,4610,4607,4605,4602,4601,4599,4598,4597,4596,4594,4593,4592,4591,4590,4589,4588,4587,4586,4585,4584,4583,4582,4581,4581,4580,4579,4579,4578,4578,4578,4577,4577,4577,4577],[5280,5280,5280,5280,5280,5280,5280,5280,5280,5280,5281,5281,5281,5281,5281,5281,5282,5282,5282,5282,5282,5283,5283,5283,5283,5284,5284,5284,5285,5285,5285,5286,5286,5287,5287,5287,5288,5288,5289,5289,5290,5290,5291,5291,5292,5292,5293,5293,5294,5294,5295,5296,5296,5297,5298,5298,5299,5300,5300,5302,5304,5306,5309,5312,5315,5318,5322,5326,5329,5333,5336,5340,5342,5345,5347,5349,5350,5350,5344,5327,5304,5278,5252,5229,5212,5194,5176,5162,5153,5152,5152,5152,5152,5152,5152,5152,5152,5152,5152,5154,5167,5188,5210,5231,5257,5277,5280,5280,5280,5280,5280,5280,5280,5280,5280,5280,5280,5280,5280,5280,5280,5280,5280,5280,5280,5280,5280,5280,5280,5280,5280,5280,5280,5280,5280,5280,5280,5280,5280,5280,5280,5280,5280,5280,5280,5280,5280,5280,5280,5280,5280,5280,5280,5280,5280,5280,5280,5280,5280,5280,5280,5280,5280,5280,5280,5280,5280,5280,5280,5280,5280,5280,5280,5280,5280,5280,5280,5280,5280,5280,5280,5280,5280,5280,5280,5280,5280,5280,5280,5280,5280,5280,5280,5280,5280,5280,5280,5280,5280,5280,5280,5280,5280,5280,5280,5280,5280,5280,5280,5280,5280,5280,5280,5280,5280,5280,5280,5280,5280,5280,5280,5280,5280,5280,5280,5280,5280,5280,5280,5280,5280,5280,5280,5280,5280,5280,5280,5280,5280,5280,5280,5280,5280,5280,5280,5280,5280,5280,5280,5280,5280,5280,5280,5280,5280,5280,5280,5280,5280,5280,5280,5280,5280,5280,5280,5280,5280,5280,5280,5280,5280,5282,5288,5296,5306,5316,5327,5336,5344,5353,5362,5372,5381,5390,5397,5403,5407,5408,5404,5396,5384,5371,5357,5345,5336,5327,5318,5310,5302,5294,5287,5281,5274,5268,5261,5255,5249,5244,5238,5233,5229,5225,5221,5219,5216,5213,5211,5209,5207,5205,5204,5203,5202,5202,5204,5207,5212,5217,5223,5230,5236,5242,5248,5252,5258,5264,5270,5275,5281,5286,5290,5293,5294,5294,5293,5292,5291,5289,5287,5285,5282,5280,5278,5276,5274,5272,5271,5270,5270,5270,5269,5269,5269,5269,5268,5268,5268,5268,5268,5267,5267,5267,5267,5267,5267,5267,5266,5266,5266,5266,5266,5266,5266,5266,5266,5266,5266],[5948,5948,5948,5948,5948,5948,5948,5948,5949,5949,5949,5949,5949,5949,5949,5949,5949,5949,5949,5949,5949,5949,5949,5949,5949,5949,5949,5949,5949,5950,5950,5950,5950,5950,5950,5950,5950,5950,5950,5950,5950,5950,5950,5950,5950,5950,5950,5950,5950,5950,5950,5950,5950,5950,5950,5950,5950,5950,5950,5950,5950,5950,5950,5950,5950,5950,5950,5950,5950,5950,5950,5950,5950,5950,5950,5950,5950,5950,5949,5946,5939,5931,5921,5912,5904,5896,5889,5880,5873,5866,5863,5863,5866,5872,5879,5888,5896,5904,5916,5930,5943,5955,5961,5962,5961,5960,5958,5956,5954,5952,5950,5949,5948,5948,5948,5948,5948,5948,5948,5948,5948,5948,5948,5948,5948,5948,5948,5948,5948,5948,5948,5948,5948,5948,5948,5948,5948,5948,5948,5948,5948,5948,5948,5948,5948,5948,5948,5948,5948,5948,5948,5948,5948,5948,5948,5948,5948,5948,5948,5948,5948,5948,5948,5948,5948,5948,5948,5948,5948,5948,5948,5948,5948,5948,5948,5948,5948,5948,5948,5948,5948,5948,5948,5948,5948,5948,5948,5948,5948,5948,5948,5948,5948,5948,5948,5948,5948,5948,5948,5948,5948,5948,5948,5948,5948,5948,5948,5948,5948,5948,5948,5948,5948,5948,5949,5949,5949,5949,5949,5949,5949,5949,5949,5949,5949,5949,5949,5949,5949,5949,5949,5949,5949,5949,5949,5949,5949,5949,5949,5949,5949,5949,5949,5949,5949,5949,5949,5949,5949,5949,5949,5949,5949,5949,5949,5949,5949,5949,5949,5949,5949,5949,5950,5950,5950,5950,5950,5950,5950,5950,5950,5950,5950,5950,5950,5950,5950,5950,5950,5952,5956,5961,5965,5970,5974,5976,5976,5972,5966,5958,5949,5939,5930,5922,5916,5912,5912,5915,5918,5923,5929,5934,5937,5940,5940,5940,5940,5940,5940,5940,5940,5940,5940,5940,5940,5940,5940,5940,5940,5940,5940,5940,5940,5940,5940,5940,5940,5940,5939,5939,5939,5939,5939,5939,5939,5939,5939,5939,5939,5938,5938,5938,5938,5938,5938,5937,5937,5937,5937,5937,5936,5936,5936,5936,5935,5935,5935,5935,5934,5934,5934,5933,5933,5932,5932,5932,5931,5931,5930,5930,5930,5929,5929,5928,5928,5927,5926,5926,5925,5925,5924,5923,5923,5922,5921,5921,5920],[6605,6605,6605,6605,6605,6605,6605,6605,6605,6605,6605,6605,6605,6605,6605,6605,6605,6605,6605,6605,6605,6605,6605,6605,6605,6605,6605,6605,6605,6605,6605,6605,6605,6605,6605,6605,6605,6605,6605,6605,6605,6605,6605,6605,6605,6605,6605,6605,6605,6605,6605,6605,6605,6605,6605,6605,6605,6605,6605,6605,6605,6605,6605,6605,6605,6605,6605,6605,6605,6605,6605,6605,6605,6605,6605,6605,6605,6605,6605,6602,6597,6591,6584,6578,6573,6570,6571,6574,6581,6588,6597,6604,6609,6611,6613,6614,6615,6617,6618,6619,6619,6620,6620,6620,6619,6618,6616,6614,6611,6609,6607,6606,6605,6605,6605,6605,6605,6605,6605,6605,6605,6605,6605,6605,6605,6605,6605,6605,6605,6605,6605,6605,6605,6605,6605,6605,6605,6605,6605,6605,6605,6605,6605,6605,6605,6605,6606,6606,6606,6606,6606,6606,6606,6606,6606,6606,6606,6606,6606,6606,6606,6606,6606,6606,6606,6606,6606,6606,6606,6606,6606,6606,6606,6606,6606,6607,6607,6607,6607,6607,6607,6607,6607,6607,6607,6607,6607,6607,6607,6607,6607,6607,6607,6607,6607,6607,6607,6607,6608,6608,6608,6608,6608,6608,6608,6608,6608,6608,6608,6608,6608,6608,6608,6608,6608,6608,6608,6608,6608,6608,6608,6609,6609,6609,6609,6609,6609,6609,6609,6609,6609,6609,6609,6609,6609,6609,6609,6609,6609,6609,6609,6609,6609,6609,6609,6609,6609,6609,6609,6609,6610,6610,6610,6610,6610,6610,6610,6610,6610,6610,6610,6610,6610,6610,6610,6610,6610,6610,6610,6610,6610,6610,6610,6610,6610,6610,6610,6610,6610,6610,6610,6610,6610,6609,6604,6596,6585,6573,6562,6554,6549,6548,6551,6557,6563,6571,6579,6587,6593,6601,6610,6619,6626,6631,6633,6633,6632,6631,6629,6627,6625,6622,6620,6618,6616,6614,6612,6610,6610,6609,6608,6607,6606,6605,6604,6604,6603,6602,6601,6600,6600,6599,6598,6597,6597,6596,6595,6595,6594,6593,6593,6592,6591,6591,6590,6589,6589,6588,6588,6587,6586,6586,6585,6585,6584,6584,6583,6583,6582,6582,6582,6581,6581,6580,6580,6580,6579,6579,6579,6578,6578,6578,6578,6577,6577,6577,6577,6577,6577,6576,6576,6576,6576,6576,6576,6576,6576],[7265,7265,7265,7265,7265,7265,7265,7265,7265,7265,7265,7265,7265,7265,7265,7265,7265,7265,7265,7265,7265,7265,7265,7265,7265,7265,7265,7266,7266,7266,7266,7266,7266,7266,7266,7266,7266,7266,7266,7266,7266,7266,7267,7267,7267,7267,7267,7267,7267,7267,7267,7267,7268,7268,7268,7268,7268,7268,7268,7269,7269,7269,7269,7269,7269,7270,7270,7270,7270,7272,7274,7278,7281,7285,7288,7291,7293,7294,7293,7291,7288,7285,7281,7276,7273,7269,7267,7265,7265,7265,7265,7265,7265,7265,7265,7265,7265,7265,7265,7265,7265,7265,7265,7265,7265,7265,7265,7265,7265,7265,7265,7265,7265,7265,7265,7265,7265,7265,7265,7265,7266,7266,7266,7266,7266,7266,7266,7266,7266,7266,7266,7266,7266,7266,7266,7266,7266,7266,7266,7266,7266,7266,7266,7266,7266,7266,7266,7267,7267,7267,7267,7267,7267,7267,7267,7267,7267,7267,7267,7267,7267,7267,7267,7267,7267,7267,7267,7267,7268,7268,7268,7268,7268,7268,7268,7268,7268,7268,7268,7268,7268,7268,7268,7268,7268,7268,7268,7269,7269,7269,7269,7269,7269,7269,7269,7269,7269,7269,7269,7269,7269,7269,7269,7269,7269,7269,7270,7270,7270,7270,7270,7270,7270,7270,7270,7270,7270,7270,7270,7270,7270,7270,7270,7270,7270,7270,7270,7271,7271,7271,7271,7271,7271,7271,7271,7271,7271,7271,7271,7271,7271,7271,7271,7271,7271,7271,7271,7271,7271,7271,7271,7271,7271,7271,7272,7272,7272,7272,7272,7272,7272,7272,7272,7272,7272,7272,7272,7272,7272,7272,7272,7272,7272,7272,7272,7272,7272,7272,7272,7272,7272,7272,7272,7272,7272,7272,7272,7270,7266,7262,7257,7252,7248,7245,7244,7245,7247,7250,7254,7257,7261,7263,7265,7265,7265,7265,7265,7265,7265,7265,7265,7265,7265,7265,7265,7265,7265,7265,7265,7265,7265,7265,7265,7265,7265,7265,7265,7265,7265,7265,7265,7265,7265,7265,7265,7265,7265,7265,7264,7264,7264,7264,7264,7264,7264,7264,7264,7264,7264,7264,7264,7264,7264,7263,7263,7263,7263,7263,7263,7263,7263,7263,7262,7262,7262,7262,7262,7262,7262,7261,7261,7261,7261,7261,7261,7260,7260,7260,7260,7260,7259,7259,7259,7259,7258,7258,7258],[7940,7940,7940,7940,7940,7940,7940,7940,7940,7940,7940,7940,7940,7940,7940,7940,7940,7940,7940,7940,7940,7940,7940,7940,7940,7940,7940,7940,7940,7940,7940,7940,7940,7940,7940,7941,7941,7941,7941,7941,7941,7941,7941,7941,7941,7941,7941,7941,7941,7941,7941,7941,7941,7941,7942,7942,7942,7942,7942,7942,7942,7942,7942,7942,7942,7942,7943,7943,7943,7943,7943,7943,7943,7943,7943,7944,7944,7944,7944,7944,7944,7944,7945,7945,7945,7946,7950,7957,7966,7975,7984,7991,7996,7997,7993,7986,7977,7967,7958,7950,7946,7945,7945,7945,7944,7944,7944,7944,7944,7944,7944,7944,7943,7943,7943,7943,7943,7943,7943,7943,7943,7942,7942,7942,7942,7942,7942,7942,7942,7942,7942,7942,7942,7941,7941,7941,7941,7941,7941,7941,7941,7941,7941,7941,7941,7941,7941,7941,7941,7941,7941,7941,7941,7940,7940,7940,7940,7940,7940,7940,7940,7940,7940,7940,7940,7940,7940,7940,7940,7940,7940,7940,7940,7940,7940,7940,7940,7940,7940,7940,7940,7940,7940,7940,7940,7940,7940,7940,7940,7940,7940,7940,7940,7940,7940,7940,7940,7940,7940,7940,7940,7940,7940,7940,7940,7940,7940,7940,7940,7940,7940,7940,7940,7940,7940,7940,7940,7940,7940,7940,7940,7940,7940,7940,7940,7940,7940,7939,7939,7939,7939,7939,7939,7939,7939,7939,7939,7939,7939,7939,7939,7939,7939,7939,7939,7939,7939,7939,7939,7939,7938,7938,7938,7938,7938,7938,7938,7938,7938,7938,7938,7938,7938,7937,7937,7937,7937,7937,7937,7937,7937,7937,7936,7936,7936,7936,7936,7936,7936,7936,7935,7935,7935,7935,7932,7928,7923,7917,7911,7906,7901,7898,7897,7898,7899,7901,7904,7907,7910,7914,7917,7921,7924,7926,7929,7931,7934,7936,7939,7941,7944,7946,7949,7951,7954,7958,7961,7964,7967,7968,7968,7965,7960,7953,7946,7940,7934,7931,7930,7929,7928,7928,7927,7926,7926,7925,7924,7924,7923,7923,7922,7922,7921,7921,7920,7920,7919,7919,7918,7918,7918,7917,7917,7917,7916,7916,7916,7915,7915,7915,7915,7915,7914,7914,7914,7914,7914,7913,7913,7913,7913,7913,7913,7913,7913,7912,7912,7912,7912,7912,7912,7912,7912,7912,7912,7912,7912]],"refs":[128.01,195.07,261.49,328.0,393.64,460.58,528.0,594.83,660.73,726.88,793.99],"bias":[0.0,0.0,0.0,0.0,0.0,0.0,0.0,0.0,0.0,0.0,0.0,0.0,0.0,0.0,0.0,0.0,0.0,0.0,0.0,0.0,0.0,0.0,0.0,0.0,0.0,0.0,0.0,0.0,0.0,0.0,0.0,0.0,0.0,0.0,0.0,0.0,0.0,0.0,0.0,0.0,0.0,0.0,0.0,0.0,0.0,0.0,0.0,0.0,0.0,0.0,0.0,0.0,0.0,0.0,0.0,0.0,0.0,0.0,0.0,0.0,0.0,0.0,0.0,0.0,0.0,0.0,0.0,0.0,0.0,0.0,0.0,0.0,0.0,0.0,0.0,0.0,0.0,0.0,0.0,0.0,0.0,0.0,0.0,0.0,0.0,0.0,0.0,0.0,0.0,0.0,0.0,0.0,0.0,0.0,0.0,0.0,0.0,0.0,0.0,0.0,0.0,0.0,0.0,0.0,0.0,0.0,0.0,0.0,0.0,0.0,0.0,0.0,0.0,0.0,0.0,0.0,0.0,0.0,0.0,0.0,0.0,0.0,0.0,0.0,0.0,0.0,0.0,0.0,0.0,0.0,0.0,0.0,0.0,0.0,0.0,0.0,0.0,0.0,0.0,0.0,0.0,0.0,0.0,0.0,0.0,0.0,0.0,0.0,0.0,0.0,0.0,0.0,0.0,0.0,0.0,0.0,0.0,0.0,0.0,0.0,0.0,0.0,0.0,0.0,0.0,0.0,0.0,0.0,0.0,0.0,0.0,0.0,0.0,0.0,0.0,0.0,0.0,0.0,0.0,0.0,0.0,0.0,0.0,0.0,0.0,0.0,0.0,0.0,0.0,0.0,0.0,0.0,0.0,0.0,0.0,0.0,0.0,0.0,0.0,0.0,0.0,0.0,0.0,0.0,0.0,0.0,0.0,0.0,0.0,0.0,0.0,0.0,0.0,0.0,0.0,0.0,0.0,0.0,0.0,0.0,0.0,0.0,0.0,0.0,0.0,0.0,0.0,0.0,0.0,0.0,0.0,0.0,0.0,0.0,0.0,0.0,0.0,0.0,0.0,0.0,0.0,0.0,0.0,0.0,0.0,0.0,0.0,0.0,0.0,0.0,0.0,0.0,0.0,0.0,0.0,0.0,0.0,0.0,0.0,0.0,0.0,0.0,0.0,0.0,0.0,0.0,0.0,0.0,0.0,0.0,0.0,0.0,0.0,0.0,0.0,0.0,0.0,0.0,0.0,0.0,0.0,0.0,0.0,0.0,0.0,0.0,0.0,0.0,0.0,0.0,0.0,0.0,0.0,0.0,0.0,0.0,0.0,0.0,0.0,0.0,0.0,0.0,0.0,0.0,0.0,0.0,0.0,0.0,0.0,0.0,0.0,0.0,0.0,0.0,0.0,0.0,0.0,0.0,0.0,0.0,0.0,0.0,0.0,0.0,0.0,0.0,0.0,0.0,0.0,0.0,0.0,0.0,0.0,0.0,0.0,0.0,0.0,0.0,0.0,0.0,0.0,0.0,0.0,0.0,0.0,0.0,0.0,0.0,0.0,0.0,0.0,0.0,0.0,0.0,0.0,0.0,0.0,0.0,0.0,0.0,0.0,0.0,0.0,0.0,0.0,0.0,0.0,0.0,0.0,0.0,0.0,0.0,0.0,0.0,0.0,0.0,0.0,0.0,0.0,0.0,0.0,0.0,0.0,0.0,0.0,0.0,0.0],"vo":{"0":[-2.92,-3.0,-3.0,-3.0,-3.0,-3.0,-3.0,-3.0,-3.0,-3.0,-3.0,-3.0,-3.0,-3.0,-3.0,-3.0,-3.0,-3.0,-3.0,-3.0,-3.0,-3.0,-3.0,-3.0,-3.0,-3.0,-3.0,-3.0,-3.0,-3.0,-3.0,-3.0,-3.0,-3.0,-3.0,-3.0,-3.0,-3.0,-3.0,-3.0,-3.0,-3.0,-3.0,-3.0,-3.0,-3.0,-3.0,-3.0,-3.0,-3.0,-3.0,-3.0,-3.0,-2.92,-2.75,-2.58,-2.42,-2.25,-2.08,-1.92,-1.75,-1.58,-1.42,-1.25,-1.08,-0.92,-0.75,-0.58,-0.42,-0.25,-0.08,0.0,0.0,0.0,0.0,0.0,0.0,0.0,0.0,0.0,0.0,0.0,0.0,0.0,0.0,0.0,0.0,0.0,0.0,0.0,0.0,0.0,0.0,0.0,0.0,0.0,0.0,0.0,0.0,0.0,0.0,0.0,0.0,0.0,0.0,0.0,0.0,0.0,0.0,0.0,0.0,0.0,0.0,0.0,0.0,0.0,0.0,0.0,0.0,0.0,0.0,0.0,0.0,0.0,0.0,0.0,0.0,0.0,0.0,0.0,0.0,0.0,0.0,0.0,0.0,0.0,0.0,0.0,0.0,0.0,0.0,0.0,0.0,0.0,0.0,0.0,0.0,0.0,0.0,0.0,0.0,0.0,0.0,0.0,0.0,0.0,0.0,0.0,0.0,0.0,0.0,0.0,0.0,0.0,0.0,0.0,0.0,0.0,0.0,0.0,0.0,0.0,0.0,0.0,0.0,0.0,0.0,0.0,0.0,0.0,0.0,0.0,0.0,0.0,0.0,0.0,0.0,0.0,0.0,0.0,0.0,0.0,0.0,0.0,0.0,0.0,0.0,0.0,0.0,0.0,0.0,0.0,0.0,0.0,0.0,0.0,0.0,0.0,0.0,0.0,0.0,0.0,0.0,0.0,0.0,0.0,0.0,0.0,0.0,0.0,0.0,0.0,0.0,0.0,0.0,0.0,0.0,0.0,0.0,0.0,0.0,0.0,0.0,0.0,0.0,0.0,0.0,0.0,0.0,0.0,0.0,0.0,0.0,0.0,0.0,0.0,0.0,0.0,0.0,0.0,0.0,0.0,0.0,0.0,0.0,0.0,0.0,0.0,0.0,0.0,0.0,0.0,0.0,0.0,0.0,0.0,0.0,0.0,0.0,0.0,0.0,0.0,0.0,0.0,0.0,0.0,0.0,0.0,0.0,0.0,0.0,0.0,0.0,0.0,0.0,0.0,0.0,0.0,0.0,0.0,0.0,0.0,0.0,0.0,0.0,0.0,0.0,0.0,0.0,0.0,0.0,0.0,0.0,0.0,0.0,0.0,0.0,0.0,0.0,0.0,0.0,0.0,0.0,0.0,0.0,0.0,0.0,0.0,0.0,0.0,0.0,0.0,0.0,0.0,0.0,0.0,0.0,0.0,0.0,0.0,0.0,0.0,0.0,0.0,0.0,0.0,0.0,0.0,0.0,0.0,0.0,0.0,0.0,0.0,0.0,0.0,0.0,0.0,0.0,0.0,0.0,0.0,0.0,0.0,0.0,0.0,0.0,0.0,0.0,0.0,0.0,0.0,0.0,0.0,0.0,0.0,0.0,0.0,0.0,0.0,0.0,0.0,0.0,0.0,0.0,0.0,0.0,0.0,0.0,0.0,0.0,0.0,0.0,0.0,0.0,0.0,0.0],"1":[-2.92,-3.0,-3.0,-3.0,-3.0,-3.0,-3.0,-3.0,-3.0,-3.0,-3.0,-3.0,-3.0,-3.0,-3.0,-3.0,-3.0,-3.0,-3.0,-3.0,-3.0,-3.0,-3.0,-3.0,-3.0,-3.0,-3.0,-3.0,-3.0,-3.0,-3.0,-3.0,-3.0,-3.0,-3.0,-3.0,-3.0,-3.0,-3.0,-3.0,-3.0,-3.0,-3.0,-3.0,-3.0,-3.0,-3.0,-3.0,-3.0,-3.0,-3.0,-3.0,-3.0,-2.92,-2.75,-2.58,-2.42,-2.25,-2.08,-1.92,-1.75,-1.58,-1.42,-1.25,-1.08,-0.92,-0.75,-0.58,-0.42,-0.25,-0.08,0.0,0.0,0.0,0.0,0.0,0.0,0.0,0.0,0.0,0.0,0.0,0.0,0.0,0.0,0.0,0.0,0.0,0.0,0.0,0.0,0.0,0.0,0.0,0.0,0.0,0.0,0.0,0.0,0.0,0.0,0.0,0.0,0.0,0.0,0.0,0.0,0.0,0.0,0.0,0.0,0.0,0.0,0.0,0.0,0.0,0.0,0.0,0.0,0.0,0.0,0.0,0.0,0.0,0.0,0.0,0.0,0.0,0.0,0.0,0.0,0.0,0.0,0.0,0.0,0.0,0.0,0.0,0.0,0.0,0.0,0.0,0.0,0.0,0.0,0.0,0.0,0.0,0.0,0.0,0.0,0.0,0.0,0.0,0.0,0.0,0.0,0.0,0.0,0.0,0.0,0.0,0.0,0.0,0.0,0.0,0.0,0.0,0.0,0.0,0.0,0.0,0.0,0.0,0.0,0.0,0.0,0.0,0.0,0.0,0.0,0.0,0.0,0.0,0.0,0.0,0.0,0.0,0.0,0.0,0.0,0.0,0.0,0.0,0.0,0.0,0.0,0.0,0.0,0.0,0.0,0.0,0.0,0.0,0.0,0.0,0.0,0.0,0.0,0.0,0.0,0.0,0.0,0.0,0.0,0.0,0.0,0.0,0.0,0.0,0.0,0.0,0.0,0.0,0.0,0.0,0.0,0.0,0.0,0.0,0.0,0.0,0.0,0.0,0.0,0.0,0.0,0.0,0.0,0.0,0.0,0.0,0.0,0.0,0.0,0.0,0.0,0.0,0.0,0.0,0.0,0.0,0.0,0.0,0.0,0.0,0.0,0.0,0.0,0.0,0.0,0.0,0.0,0.0,0.0,0.0,0.0,0.0,0.0,0.0,0.0,0.0,0.0,0.0,0.0,0.0,0.0,0.0,0.0,0.0,0.0,0.0,0.0,0.0,0.0,0.0,0.0,0.0,0.0,0.0,0.0,0.0,0.0,0.0,0.0,0.0,0.0,0.0,0.0,0.0,0.0,0.0,0.0,0.0,0.0,0.0,0.0,0.0,0.0,0.0,0.0,0.0,0.0,0.0,0.0,0.0,0.0,0.0,0.0,0.0,0.0,0.0,0.0,0.0,0.0,0.0,0.0,0.0,0.0,0.0,0.0,0.0,0.0,0.0,0.0,0.0,0.0,0.0,0.0,0.0,0.0,0.0,0.0,0.0,0.0,0.0,0.0,0.0,0.0,0.0,0.0,0.0,0.0,0.0,0.0,0.0,0.0,0.0,0.0,0.0,0.0,0.0,0.0,0.0,0.0,0.0,0.0,0.0,0.0,0.0,0.0,0.0,0.0,0.0,0.0,0.0,0.0,0.0,0.0,0.0,0.0,0.0,0.0,0.0,0.0,0.0,0.0],"2":[-2.92,-3.0,-3.0,-3.0,-3.0,-3.0,-3.0,-3.0,-3.0,-3.0,-3.0,-3.0,-3.0,-3.0,-3.0,-3.0,-3.0,-3.0,-3.0,-3.0,-3.0,-3.0,-3.0,-3.0,-3.0,-3.0,-3.0,-3.0,-3.0,-3.0,-3.0,-3.0,-3.0,-3.0,-3.0,-3.0,-3.0,-3.0,-3.0,-3.0,-3.0,-3.0,-3.0,-3.0,-3.0,-3.0,-3.0,-3.0,-3.0,-3.0,-3.0,-3.0,-3.0,-2.92,-2.75,-2.58,-2.42,-2.25,-2.08,-1.92,-1.75,-1.58,-1.42,-1.25,-1.08,-0.92,-0.75,-0.58,-0.42,-0.25,-0.08,0.0,0.0,0.0,0.0,0.0,0.0,0.0,0.0,0.0,0.0,0.0,0.0,0.0,0.0,0.0,0.0,0.0,0.0,0.0,0.0,0.0,0.0,0.0,0.0,0.0,0.0,0.0,0.0,0.0,0.0,0.0,0.0,0.0,0.0,0.0,0.0,0.0,0.0,0.0,0.0,0.0,0.0,0.0,0.0,0.0,0.0,0.0,0.0,0.0,0.0,0.0,0.0,0.0,0.0,0.0,0.0,0.0,0.0,0.0,0.0,0.0,0.0,0.0,0.0,0.0,0.0,0.0,0.0,0.0,0.0,0.0,0.0,0.0,0.0,0.0,0.0,0.0,0.0,0.0,0.0,0.0,0.0,0.0,0.0,0.0,0.0,0.0,0.0,0.0,0.0,0.0,0.0,0.0,0.0,0.0,0.0,0.0,0.0,0.0,0.0,0.0,0.0,0.0,0.0,0.0,0.0,0.0,0.0,0.0,0.0,0.0,0.0,0.0,0.0,0.0,0.0,0.0,0.0,0.0,0.0,0.0,0.0,0.0,0.0,0.0,0.0,0.0,0.0,0.0,0.0,0.0,0.0,0.0,0.0,0.0,0.0,0.0,0.0,0.0,0.0,0.0,0.0,0.0,0.0,0.0,0.0,0.0,0.0,0.0,0.0,0.0,0.0,0.0,0.0,0.0,0.0,0.0,0.0,0.0,0.0,0.0,0.0,0.0,0.0,0.0,0.0,0.0,0.0,0.0,0.0,0.0,0.0,0.0,0.0,0.0,0.0,0.0,0.0,0.0,0.0,0.0,0.0,0.0,0.0,0.0,0.0,0.0,0.0,0.0,0.0,0.0,0.0,0.0,0.0,0.0,0.0,0.0,0.0,0.0,0.0,0.0,0.0,0.0,0.0,0.0,0.0,0.0,0.0,0.0,0.0,0.0,0.0,0.0,0.0,0.0,0.0,0.0,0.0,0.0,0.0,0.0,0.0,0.0,0.0,0.0,0.0,0.0,0.0,0.0,0.0,0.0,0.0,0.0,0.0,0.0,0.0,0.0,0.0,0.0,0.0,0.0,0.0,0.0,0.0,0.0,0.0,0.0,0.0,0.0,0.0,0.0,0.0,0.0,0.0,0.0,0.0,0.0,0.0,0.0,0.0,0.0,0.0,0.0,0.0,0.0,0.0,0.0,0.0,0.0,0.0,0.0,0.0,0.0,0.0,0.0,0.0,0.0,0.0,0.0,0.0,0.0,0.0,0.0,0.0,0.0,0.0,0.0,0.0,0.0,0.0,0.0,0.0,0.0,0.0,0.0,0.0,0.0,0.0,0.0,0.0,0.0,0.0,0.0,0.0,0.0,0.0,0.0,0.0,0.0,0.0,0.0,0.0,0.0,0.0,0.0,0.0],"3":[-2.92,-3.0,-3.0,-3.0,-3.0,-3.0,-3.0,-3.0,-3.0,-3.0,-3.0,-3.0,-3.0,-3.0,-3.0,-3.0,-3.0,-3.0,-3.0,-3.0,-3.0,-3.0,-3.0,-3.0,-3.0,-3.0,-3.0,-3.0,-3.0,-3.0,-3.0,-3.0,-3.0,-3.0,-3.0,-3.0,-3.0,-3.0,-3.0,-3.0,-3.0,-3.0,-3.0,-3.0,-3.0,-3.0,-3.0,-3.0,-3.0,-3.0,-3.0,-3.0,-3.0,-2.92,-2.75,-2.58,-2.42,-2.25,-2.08,-1.92,-1.75,-1.58,-1.42,-1.25,-1.08,-0.92,-0.75,-0.58,-0.42,-0.25,-0.08,0.0,0.0,0.0,0.0,0.0,0.0,0.0,0.0,0.0,0.0,0.0,0.0,0.0,0.0,0.0,0.0,0.0,0.0,0.0,0.0,0.0,0.0,0.0,0.0,0.0,0.0,0.0,0.0,0.0,0.0,0.0,0.0,0.0,0.0,0.0,0.0,0.0,0.0,0.0,0.0,0.0,0.0,0.0,0.0,0.0,0.0,0.0,0.0,0.0,0.0,0.0,0.0,0.0,0.0,0.0,0.0,0.0,0.0,0.0,0.0,0.0,0.0,0.0,0.0,0.0,0.0,0.0,0.0,0.0,0.0,0.0,0.0,0.0,0.0,0.0,0.0,0.0,0.0,0.0,0.0,0.0,0.0,0.0,0.0,0.0,0.0,0.0,0.0,0.0,0.0,0.0,0.0,0.0,0.0,0.0,0.0,0.0,0.0,0.0,0.0,0.0,0.0,0.0,0.0,0.0,0.0,0.0,0.0,0.0,0.0,0.0,0.0,0.0,0.0,0.0,0.0,0.0,0.0,0.0,0.0,0.0,0.0,0.0,0.0,0.0,0.0,0.0,0.0,0.0,0.0,0.0,0.0,0.0,0.0,0.0,0.0,0.0,0.0,0.0,0.0,0.0,0.0,0.0,0.0,0.0,0.0,0.0,0.0,0.0,0.0,0.0,0.0,0.0,0.0,0.0,0.0,0.0,0.0,0.0,0.0,0.0,0.0,0.0,0.0,0.0,0.0,0.0,0.0,0.0,0.0,0.0,0.0,0.0,0.0,0.0,0.0,0.0,0.0,0.0,0.0,0.0,0.0,0.0,0.0,0.0,0.0,0.0,0.0,0.0,0.0,0.0,0.0,0.0,0.0,0.0,0.0,0.0,0.0,0.0,0.0,0.0,0.0,0.0,0.0,0.0,0.0,0.0,0.0,0.0,0.0,0.0,0.0,0.0,0.0,0.0,0.0,0.0,0.0,0.0,0.0,0.0,0.0,0.0,0.0,0.0,0.0,0.0,0.0,0.0,0.0,0.0,0.0,0.0,0.0,0.0,0.0,0.0,0.0,0.0,0.0,0.0,0.0,0.0,0.0,0.0,0.0,0.0,0.0,0.0,0.0,0.0,0.0,0.0,0.0,0.0,0.0,0.0,0.0,0.0,0.0,0.0,0.0,0.0,0.0,0.0,0.0,0.0,0.0,0.0,0.0,0.0,0.0,0.0,0.0,0.0,0.0,0.0,0.0,0.0,0.0,0.0,0.0,0.0,0.0,0.0,0.0,0.0,0.0,0.0,0.0,0.0,0.0,0.0,0.0,0.0,0.0,0.0,0.0,0.0,0.0,0.0,0.0,0.0,0.0,0.0,0.0,0.0,0.0,0.0,0.0,0.0,0.0,0.0,0.0,0.0,0.0],"4":[-2.53,-2.6,-2.6,-2.6,-2.6,-2.6,-2.6,-2.6,-2.6,-2.6,-2.6,-2.6,-2.6,-2.6,-2.6,-2.6,-2.6,-2.6,-2.6,-2.6,-2.6,-2.6,-2.6,-2.6,-2.6,-2.6,-2.6,-2.6,-2.6,-2.6,-2.6,-2.6,-2.6,-2.6,-2.6,-2.6,-2.6,-2.6,-2.6,-2.6,-2.6,-2.6,-2.6,-2.6,-2.6,-2.6,-2.6,-2.6,-2.6,-2.6,-2.6,-2.6,-2.6,-2.53,-2.38,-2.24,-2.09,-1.95,-1.81,-1.66,-1.52,-1.37,-1.23,-1.08,-0.94,-0.79,-0.65,-0.51,-0.36,-0.22,-0.07,0.0,0.0,0.0,0.0,0.0,0.0,0.0,0.0,0.0,0.0,0.0,0.0,0.0,0.0,0.0,0.0,0.0,0.0,0.0,0.0,0.0,0.0,0.0,0.0,0.0,0.0,0.0,0.0,0.0,0.0,0.0,0.0,0.0,0.0,0.0,0.0,0.0,0.0,0.0,0.0,0.0,0.0,0.0,0.0,0.0,0.0,0.0,0.0,0.0,0.0,0.0,0.0,0.0,0.0,0.0,0.0,0.0,0.0,0.0,0.0,0.0,0.0,0.0,0.0,0.0,0.0,0.0,0.0,0.0,0.0,0.0,0.0,0.0,0.0,0.0,0.0,0.0,0.0,0.0,0.0,0.0,0.0,0.0,0.0,0.0,0.0,0.0,0.0,0.0,0.0,0.0,0.0,0.0,0.0,0.0,0.0,0.0,0.0,0.0,0.0,0.0,0.0,0.0,0.0,0.0,0.0,0.0,0.0,0.0,0.0,0.0,0.0,0.0,0.0,0.0,0.0,0.0,0.0,0.0,0.0,0.0,0.0,0.0,0.0,0.0,0.0,0.0,0.0,0.0,0.0,0.0,0.0,0.0,0.0,0.0,0.0,0.0,0.0,0.0,0.0,0.0,0.0,0.0,0.0,0.0,0.0,0.0,0.0,0.0,0.0,0.0,0.0,0.0,0.0,0.0,0.0,0.0,0.0,0.0,0.0,0.0,0.0,0.0,0.0,0.0,0.0,0.0,0.0,0.0,0.0,0.0,0.0,0.0,0.0,0.0,0.0,0.0,0.0,0.0,0.0,0.0,0.0,0.0,0.0,0.0,0.0,0.0,0.0,0.0,0.0,0.0,0.0,0.0,0.0,0.0,0.0,0.0,0.0,0.0,0.0,0.0,0.0,0.0,0.0,0.0,0.0,0.0,0.0,0.0,0.0,0.0,0.0,0.0,0.0,0.0,0.0,0.0,0.0,0.0,0.0,0.0,0.0,0.0,0.0,0.0,0.0,0.0,0.0,0.0,0.0,0.0,0.0,0.0,0.0,0.0,0.0,0.0,0.0,0.0,0.0,0.0,0.0,0.0,0.0,0.0,0.0,0.0,0.0,0.0,0.0,0.0,0.0,0.0,0.0,0.0,0.0,0.0,0.0,0.0,0.0,0.0,0.0,0.0,0.0,0.0,0.0,0.0,0.0,0.0,0.0,0.0,0.0,0.0,0.0,0.0,0.0,0.0,0.0,0.0,0.0,0.0,0.0,0.0,0.0,0.0,0.0,0.0,0.0,0.0,0.0,0.0,0.0,0.0,0.0,0.0,0.0,0.0,0.0,0.0,0.0,0.0,0.0,0.0,0.0,0.0,0.0,0.0,0.0,0.0,0.0,0.0,0.0,0.0,0.0,0.0,0.0],"5":[-2.53,-2.6,-2.6,-2.6,-2.6,-2.6,-2.6,-2.6,-2.6,-2.6,-2.6,-2.6,-2.6,-2.6,-2.6,-2.6,-2.6,-2.6,-2.6,-2.6,-2.6,-2.6,-2.6,-2.6,-2.6,-2.6,-2.6,-2.6,-2.6,-2.6,-2.6,-2.6,-2.6,-2.6,-2.6,-2.6,-2.6,-2.6,-2.6,-2.6,-2.6,-2.6,-2.6,-2.6,-2.6,-2.6,-2.6,-2.6,-2.6,-2.6,-2.6,-2.6,-2.6,-2.53,-2.38,-2.24,-2.09,-1.95,-1.81,-1.66,-1.52,-1.37,-1.23,-1.08,-0.94,-0.79,-0.65,-0.51,-0.36,-0.22,-0.07,0.0,0.0,0.0,0.0,0.0,0.0,0.0,0.0,0.0,0.0,0.0,0.0,0.0,0.0,0.0,0.0,0.0,0.0,0.0,0.0,0.0,0.0,0.0,0.0,0.0,0.0,0.0,0.0,0.0,0.0,0.0,0.0,0.0,0.0,0.0,0.0,0.0,0.0,0.0,0.0,0.0,0.0,0.0,0.0,0.0,0.0,0.0,0.0,0.0,0.0,0.0,0.0,0.0,0.0,0.0,0.0,0.0,0.0,0.0,0.0,0.0,0.0,0.0,0.0,0.0,0.0,0.0,0.0,0.0,0.0,0.0,0.0,0.0,0.0,0.0,0.0,0.0,0.0,0.0,0.0,0.0,0.0,0.0,0.0,0.0,0.0,0.0,0.0,0.0,0.0,0.0,0.0,0.0,0.0,0.0,0.0,0.0,0.0,0.0,0.0,0.0,0.0,0.0,0.0,0.0,0.0,0.0,0.0,0.0,0.0,0.0,0.0,0.0,0.0,0.0,0.0,0.0,0.0,0.0,0.0,0.0,0.0,0.0,0.0,0.0,0.0,0.0,0.0,0.0,0.0,0.0,0.0,0.0,0.0,0.0,0.0,0.0,0.0,0.0,0.0,0.0,0.0,0.0,0.0,0.0,0.0,0.0,0.0,0.0,0.0,0.0,0.0,0.0,0.0,0.0,0.0,0.0,0.0,0.0,0.0,0.0,0.0,0.0,0.0,0.0,0.0,0.0,0.0,0.0,0.0,0.0,0.0,0.0,0.0,0.0,0.0,0.0,0.0,0.0,0.0,0.0,0.0,0.0,0.0,0.0,0.0,0.0,0.0,0.0,0.0,0.0,0.0,0.0,0.0,0.0,0.0,0.0,0.0,0.0,0.0,0.0,0.0,0.0,0.0,0.0,0.0,0.0,0.0,0.0,0.0,0.0,0.0,0.0,0.0,0.0,0.0,0.0,0.0,0.0,0.0,0.0,0.0,0.0,0.0,0.0,0.0,0.0,0.0,0.0,0.0,0.0,0.0,0.0,0.0,0.0,0.0,0.0,0.0,0.0,0.0,0.0,0.0,0.0,0.0,0.0,0.0,0.0,0.0,0.0,0.0,0.0,0.0,0.0,0.0,0.0,0.0,0.0,0.0,0.0,0.0,0.0,0.0,0.0,0.0,0.0,0.0,0.0,0.0,0.0,0.0,0.0,0.0,0.0,0.0,0.0,0.0,0.0,0.0,0.0,0.0,0.0,0.0,0.0,0.0,0.0,0.0,0.0,0.0,0.0,0.0,0.0,0.0,0.0,0.0,0.0,0.0,0.0,0.0,0.0,0.0,0.0,0.0,0.0,0.0,0.0,0.0,0.0,0.0,0.0,0.0,0.0,0.0,0.0,0.0,0.0,0.0],"6":[-1.94,-2.0,-2.0,-2.0,-2.0,-2.0,-2.0,-2.0,-2.0,-2.0,-2.0,-2.0,-2.0,-2.0,-2.0,-2.0,-2.0,-2.0,-2.0,-2.0,-2.0,-2.0,-2.0,-2.0,-2.0,-2.0,-2.0,-2.0,-2.0,-2.0,-2.0,-2.0,-2.0,-2.0,-2.0,-2.0,-2.0,-2.0,-2.0,-2.0,-2.0,-2.0,-2.0,-2.0,-2.0,-2.0,-2.0,-2.0,-2.0,-2.0,-2.0,-2.0,-2.0,-1.94,-1.83,-1.72,-1.61,-1.5,-1.39,-1.28,-1.17,-1.06,-0.94,-0.83,-0.72,-0.61,-0.5,-0.39,-0.28,-0.17,-0.06,0.0,0.0,0.0,0.0,0.0,0.0,0.0,0.0,0.0,0.0,0.0,0.0,0.0,0.0,0.0,0.0,0.0,0.0,0.0,0.0,0.0,0.0,0.0,0.0,0.0,0.0,0.0,0.0,0.0,0.0,0.0,0.0,0.0,0.0,0.0,0.0,0.0,0.0,0.0,0.0,0.0,0.0,0.0,0.0,0.0,0.0,0.0,0.0,0.0,0.0,0.0,0.0,0.0,0.0,0.0,0.0,0.0,0.0,0.0,0.0,0.0,0.0,0.0,0.0,0.0,0.0,0.0,0.0,0.0,0.0,0.0,0.0,0.0,0.0,0.0,0.0,0.0,0.0,0.0,0.0,0.0,0.0,0.0,0.0,0.0,0.0,0.0,0.0,0.0,0.0,0.0,0.0,0.0,0.0,0.0,0.0,0.0,0.0,0.0,0.0,0.0,0.0,0.0,0.0,0.0,0.0,0.0,0.0,0.0,0.0,0.0,0.0,0.0,0.0,0.0,0.0,0.0,0.0,0.0,0.0,0.0,0.0,0.0,0.0,0.0,0.0,0.0,0.0,0.0,0.0,0.0,0.0,0.0,0.0,0.0,0.0,0.0,0.0,0.0,0.0,0.0,0.0,0.0,0.0,0.0,0.0,0.0,0.0,0.0,0.0,0.0,0.0,0.0,0.0,0.0,0.0,0.0,0.0,0.0,0.0,0.0,0.0,0.0,0.0,0.0,0.0,0.0,0.0,0.0,0.0,0.0,0.0,0.0,0.0,0.0,0.0,0.0,0.0,0.0,0.0,0.0,0.0,0.0,0.0,0.0,0.0,0.0,0.0,0.0,0.0,0.0,0.0,0.0,0.0,0.0,0.0,0.0,0.0,0.0,0.0,0.0,0.0,0.0,0.0,0.0,0.0,0.0,0.0,0.0,0.0,0.0,0.0,0.0,0.0,0.0,0.0,0.0,0.0,0.0,0.0,0.0,0.0,0.0,0.0,0.0,0.0,0.0,0.0,0.0,0.0,0.0,0.0,0.0,0.0,0.0,0.0,0.0,0.0,0.0,0.0,0.0,0.0,0.0,0.0,0.0,0.0,0.0,0.0,0.0,0.0,0.0,0.0,0.0,0.0,0.0,0.0,0.0,0.0,0.0,0.0,0.0,0.0,0.0,0.0,0.0,0.0,0.0,0.0,0.0,0.0,0.0,0.0,0.0,0.0,0.0,0.0,0.0,0.0,0.0,0.0,0.0,0.0,0.0,0.0,0.0,0.0,0.0,0.0,0.0,0.0,0.0,0.0,0.0,0.0,0.0,0.0,0.0,0.0,0.0,0.0,0.0,0.0,0.0,0.0,0.0,0.0,0.0,0.0,0.0,0.0,0.0,0.0,0.0,0.0,0.0,0.0]}},{"c0":1013,"x0":1013.0,"x1":1399.5,"y0":59.5,"y1":840.5,"ys":[[1253,1253,1254,1255,1256,1258,1259,1261,1264,1269,1275,1281,1286,1291,1294,1295,1294,1291,1286,1280,1273,1266,1258,1250,1243,1237,1229,1221,1212,1203,1194,1186,1178,1171,1166,1162,1160,1160,1161,1161,1163,1164,1166,1167,1169,1171,1175,1179,1184,1188,1192,1195,1196,1195,1193,1190,1186,1181,1177,1172,1168,1163,1159,1154,1148,1142,1136,1129,1121,1111,1100,1087,1074,1060,1047,1033,1016,997,978,962,951,947,954,973,1001,1033,1070,1125,1193,1265,1336,1416,1498,1571,1627,1682,1728,1754,1752,1725,1683,1640,1601,1557,1512,1469,1433,1408,1386,1366,1347,1331,1317,1305,1297,1292,1287,1283,1278,1275,1271,1268,1266,1263,1262,1261,1260,1260,1260,1260,1260,1260,1260,1260,1260,1260,1260,1260,1260,1260,1260,1260,1260,1260,1260,1260,1260,1260,1260,1260,1260,1260,1260,1260,1260,1260,1260,1260,1260,1260,1260,1260,1260,1260,1260,1260,1260,1260,1260,1260,1260,1260,1260,1260,1260,1260,1260,1260,1260,1260,1260,1260,1260,1260,1260,1260,1260,1260,1260,1260,1260,1260,1260,1261,1261,1261,1261,1261,1261,1261,1261,1261,1261,1261,1261,1261,1261,1261,1261,1261,1261,1261,1261,1261,1261,1261,1261,1261,1261,1261,1261,1261,1261,1261,1261,1261,1262,1262,1262,1262,1262,1262,1262,1262,1262,1262,1262,1262,1262,1262,1262,1262,1262,1262,1262,1262,1263,1263,1263,1263,1263,1263,1263,1263,1263,1263,1263,1263,1263,1263,1263,1264,1264,1264,1264,1264,1264,1264,1266,1269,1273,1277,1282,1290,1302,1315,1329,1339,1345,1342,1329,1310,1277,1227,1164,1080,993,919,848,784,731,688,647,612,590,586,606,645,698,760,859,997,1075,1122,1161,1205,1262,1324,1382,1426,1445,1441,1428,1411,1393,1378,1369,1361,1353,1347,1340,1335,1330,1325,1321,1317,1313,1310,1307,1304,1302,1299,1297,1294,1292,1290,1288,1286,1284,1282,1281,1279,1277,1275,1274,1272,1270,1269,1267,1266,1265,1263,1262,1261,1259,1258,1257,1255,1254,1253,1252,1251,1250,1249,1248,1247,1246,1245,1244,1243,1242,1241,1240,1239,1238,1237,1235,1234,1232,1231,1229,1227,1226,1224,1222,1220,1218],[2375,2375,2375,2375,2375,2375,2375,2375,2375,2375,2375,2375,2375,2375,2375,2375,2375,2375,2375,2375,2375,2375,2375,2374,2374,2374,2374,2374,2374,2374,2374,2374,2374,2374,2374,2374,2374,2374,2374,2373,2373,2373,2373,2373,2373,2373,2373,2373,2373,2372,2372,2372,2372,2372,2372,2372,2372,2371,2371,2371,2371,2371,2371,2371,2370,2370,2370,2370,2370,2369,2369,2368,2367,2367,2366,2365,2363,2362,2361,2359,2355,2349,2343,2336,2331,2327,2325,2328,2335,2345,2355,2364,2369,2370,2370,2370,2370,2370,2370,2370,2370,2370,2370,2370,2370,2370,2370,2370,2370,2370,2370,2370,2370,2370,2370,2370,2370,2370,2370,2370,2370,2370,2370,2370,2370,2370,2370,2370,2370,2370,2370,2370,2370,2370,2370,2370,2370,2370,2370,2370,2370,2370,2370,2370,2370,2370,2370,2370,2370,2370,2370,2370,2370,2370,2370,2370,2370,2370,2370,2370,2370,2370,2370,2370,2370,2370,2370,2370,2370,2370,2370,2370,2370,2370,2370,2370,2370,2370,2370,2370,2370,2370,2370,2370,2370,2370,2370,2370,2370,2370,2370,2370,2370,2370,2370,2370,2370,2370,2370,2370,2370,2370,2370,2370,2370,2370,2370,2370,2370,2370,2370,2370,2370,2370,2370,2370,2370,2370,2370,2370,2370,2370,2370,2370,2370,2370,2370,2370,2370,2370,2370,2370,2370,2370,2370,2370,2370,2370,2370,2370,2370,2370,2370,2370,2370,2370,2370,2370,2370,2370,2370,2370,2370,2370,2370,2370,2370,2370,2370,2370,2370,2370,2370,2370,2370,2370,2370,2370,2370,2370,2370,2370,2370,2370,2370,2370,2370,2370,2370,2370,2370,2370,2370,2370,2370,2370,2370,2370,2374,2380,2388,2398,2407,2415,2422,2427,2428,2427,2426,2425,2422,2420,2416,2413,2409,2406,2402,2398,2392,2385,2377,2368,2359,2351,2343,2336,2332,2329,2326,2324,2321,2320,2318,2317,2317,2319,2325,2332,2341,2349,2355,2359,2360,2361,2361,2361,2362,2362,2362,2363,2363,2363,2364,2364,2364,2365,2365,2365,2365,2366,2366,2366,2366,2366,2367,2367,2367,2367,2367,2367,2368,2368,2368,2368,2368,2368,2368,2368,2368,2368,2369,2369,2369,2369,2369,2369,2369,2369,2369,2369,2369,2369,2369,2369,2369,2369,2369],[3480,3480,3480,3480,3480,3480,3480,3480,3480,3480,3480,3480,3480,3480,3480,3480,3480,3480,3481,3481,3481,3481,3481,3481,3481,3481,3481,3481,3481,3481,3482,3482,3482,3482,3482,3482,3482,3483,3483,3483,3483,3483,3484,3484,3484,3484,3484,3485,3485,3485,3485,3486,3486,3486,3486,3487,3487,3487,3488,3488,3488,3489,3489,3489,3490,3490,3493,3497,3502,3507,3512,3517,3520,3522,3519,3507,3489,3468,3446,3428,3413,3398,3383,3368,3355,3345,3339,3338,3343,3353,3367,3383,3399,3414,3426,3441,3457,3472,3486,3498,3506,3508,3506,3503,3498,3492,3487,3483,3480,3480,3480,3480,3480,3480,3480,3480,3480,3480,3480,3480,3480,3480,3480,3480,3480,3480,3480,3480,3480,3480,3480,3480,3480,3480,3480,3480,3480,3480,3480,3480,3480,3480,3480,3480,3480,3480,3480,3480,3480,3480,3480,3480,3480,3480,3480,3480,3480,3480,3480,3480,3480,3480,3480,3480,3480,3480,3480,3480,3480,3480,3480,3480,3480,3480,3480,3480,3480,3480,3480,3480,3480,3480,3480,3480,3480,3480,3480,3480,3480,3480,3480,3480,3480,3480,3480,3480,3480,3480,3480,3480,3480,3480,3480,3480,3480,3480,3480,3480,3480,3480,3480,3480,3480,3480,3480,3480,3480,3480,3480,3480,3480,3480,3480,3480,3480,3480,3480,3480,3480,3480,3480,3480,3480,3480,3480,3480,3480,3480,3480,3480,3480,3480,3480,3480,3480,3480,3480,3480,3480,3480,3480,3480,3480,3480,3480,3480,3480,3480,3480,3480,3480,3480,3480,3480,3480,3480,3480,3480,3480,3480,3480,3480,3480,3480,3480,3480,3483,3488,3494,3501,3507,3512,3515,3515,3512,3507,3500,3492,3485,3478,3473,3470,3470,3472,3474,3478,3482,3487,3492,3498,3503,3507,3511,3513,3515,3515,3512,3506,3499,3490,3481,3472,3464,3457,3452,3449,3446,3444,3441,3439,3437,3436,3435,3434,3434,3436,3441,3447,3454,3460,3466,3469,3470,3471,3471,3471,3472,3472,3472,3472,3473,3473,3473,3474,3474,3474,3474,3475,3475,3475,3475,3475,3476,3476,3476,3476,3476,3476,3476,3477,3477,3477,3477,3477,3477,3477,3477,3477,3477,3478,3478,3478,3478,3478,3478,3478,3478,3478,3478,3478,3478,3478,3478,3478,3478,3478,3478],[4584,4584,4584,4584,4584,4584,4584,4584,4584,4584,4584,4584,4584,4584,4584,4584,4584,4584,4584,4584,4584,4584,4584,4584,4584,4584,4584,4584,4584,4585,4585,4585,4585,4585,4585,4585,4585,4585,4585,4585,4585,4585,4585,4585,4585,4585,4586,4586,4586,4586,4586,4586,4586,4586,4586,4586,4587,4587,4587,4587,4587,4587,4587,4587,4588,4588,4588,4588,4588,4588,4588,4589,4589,4589,4589,4589,4590,4590,4590,4590,4592,4596,4600,4605,4611,4616,4620,4624,4626,4627,4624,4618,4609,4600,4592,4585,4581,4580,4580,4580,4580,4580,4580,4580,4580,4580,4580,4580,4580,4580,4580,4580,4580,4580,4580,4580,4580,4580,4580,4580,4580,4580,4580,4580,4580,4580,4580,4580,4580,4580,4580,4580,4580,4580,4580,4580,4580,4580,4580,4580,4580,4580,4580,4580,4580,4580,4580,4580,4580,4580,4580,4580,4580,4580,4580,4580,4580,4580,4580,4580,4580,4580,4580,4580,4580,4580,4580,4580,4580,4580,4580,4580,4580,4580,4580,4580,4580,4580,4580,4580,4581,4581,4581,4581,4581,4581,4581,4581,4581,4581,4581,4581,4581,4581,4581,4581,4581,4581,4581,4581,4581,4581,4581,4581,4581,4581,4581,4581,4581,4581,4581,4581,4581,4581,4581,4581,4581,4581,4581,4581,4581,4581,4581,4582,4582,4582,4582,4582,4582,4582,4582,4582,4582,4582,4582,4582,4582,4582,4582,4582,4582,4582,4582,4582,4582,4582,4582,4582,4582,4583,4583,4583,4583,4583,4583,4583,4583,4583,4583,4583,4583,4583,4583,4583,4583,4583,4583,4583,4583,4584,4584,4584,4584,4584,4584,4584,4584,4584,4584,4584,4584,4584,4584,4584,4584,4585,4585,4585,4585,4585,4585,4585,4585,4587,4589,4592,4596,4600,4604,4608,4612,4615,4617,4618,4617,4613,4608,4602,4595,4589,4584,4581,4580,4580,4579,4579,4579,4579,4579,4578,4578,4578,4578,4578,4577,4577,4577,4577,4577,4576,4576,4576,4576,4576,4576,4576,4575,4575,4575,4575,4575,4575,4575,4575,4575,4575,4574,4574,4574,4574,4574,4574,4574,4574,4574,4574,4574,4574,4574,4574,4574,4573,4573,4573,4573,4573,4573,4573,4573,4573,4573,4573,4573,4573,4573,4573,4573,4573,4573,4573,4573,4573,4573,4573,4573,4573,4573],[5692,5692,5692,5692,5692,5692,5692,5692,5692,5692,5692,5692,5692,5692,5692,5692,5692,5692,5692,5692,5692,5693,5693,5693,5693,5693,5693,5693,5693,5693,5693,5693,5693,5693,5694,5694,5694,5694,5694,5694,5694,5694,5694,5695,5695,5695,5695,5695,5695,5696,5696,5696,5696,5696,5696,5697,5697,5697,5697,5698,5698,5698,5698,5699,5699,5699,5699,5700,5700,5700,5702,5704,5707,5710,5714,5716,5719,5720,5720,5719,5716,5713,5709,5705,5700,5696,5692,5688,5684,5679,5675,5670,5665,5661,5657,5654,5651,5650,5651,5655,5662,5670,5679,5685,5689,5690,5690,5690,5690,5690,5690,5691,5691,5691,5691,5691,5691,5691,5691,5691,5691,5691,5691,5691,5691,5691,5691,5691,5692,5692,5692,5692,5692,5692,5692,5692,5692,5692,5692,5692,5692,5692,5692,5692,5692,5692,5692,5692,5692,5692,5692,5692,5692,5692,5692,5692,5692,5692,5692,5692,5692,5692,5692,5692,5692,5692,5692,5692,5692,5692,5693,5693,5693,5693,5693,5693,5693,5693,5693,5693,5693,5693,5693,5693,5693,5693,5693,5693,5693,5693,5693,5693,5693,5693,5693,5693,5693,5693,5693,5693,5693,5693,5693,5693,5693,5693,5693,5693,5693,5693,5693,5693,5693,5693,5693,5693,5693,5693,5693,5693,5693,5693,5693,5693,5693,5693,5693,5693,5693,5693,5693,5693,5693,5693,5693,5693,5693,5693,5693,5693,5693,5693,5693,5693,5693,5693,5693,5694,5694,5694,5694,5694,5694,5694,5694,5694,5694,5694,5694,5694,5694,5694,5694,5694,5694,5695,5695,5695,5695,5695,5695,5695,5695,5696,5697,5699,5701,5703,5705,5706,5708,5709,5710,5710,5709,5708,5707,5705,5703,5701,5699,5697,5695,5693,5692,5691,5690,5690,5690,5690,5690,5690,5690,5690,5690,5690,5690,5690,5690,5690,5690,5690,5690,5690,5690,5690,5690,5690,5690,5690,5690,5690,5690,5690,5690,5690,5690,5690,5690,5690,5690,5690,5690,5690,5690,5690,5691,5691,5691,5691,5691,5691,5691,5691,5691,5691,5691,5691,5691,5691,5691,5691,5691,5692,5692,5692,5692,5692,5692,5692,5692,5692,5692,5692,5693,5693,5693,5693,5693,5693,5693,5693,5694,5694,5694,5694,5694,5694,5695,5695,5695,5695,5695,5695,5696,5696,5696],[6805,6805,6805,6805,6805,6805,6805,6805,6805,6805,6805,6805,6805,6805,6805,6805,6805,6805,6805,6805,6805,6805,6805,6805,6805,6805,6805,6805,6805,6806,6806,6806,6806,6806,6806,6806,6806,6806,6806,6806,6806,6806,6806,6806,6806,6806,6806,6807,6807,6807,6807,6807,6807,6807,6807,6807,6807,6807,6808,6808,6808,6808,6808,6808,6808,6808,6808,6809,6809,6809,6809,6809,6809,6809,6810,6810,6810,6810,6811,6813,6814,6817,6819,6821,6823,6824,6825,6825,6824,6822,6819,6816,6814,6811,6808,6806,6805,6805,6805,6805,6805,6805,6805,6805,6805,6805,6805,6805,6805,6805,6805,6805,6805,6805,6805,6805,6805,6805,6805,6805,6805,6805,6805,6805,6805,6805,6805,6805,6805,6805,6805,6805,6805,6805,6805,6805,6805,6805,6805,6805,6805,6805,6805,6805,6805,6805,6805,6805,6805,6805,6805,6805,6805,6805,6805,6805,6805,6805,6805,6805,6805,6805,6805,6805,6805,6805,6805,6805,6805,6805,6805,6805,6805,6805,6805,6805,6805,6805,6805,6805,6805,6805,6805,6805,6805,6805,6805,6805,6805,6805,6805,6805,6805,6805,6805,6805,6805,6805,6805,6805,6805,6805,6805,6805,6805,6805,6805,6805,6805,6805,6805,6805,6805,6805,6805,6805,6805,6805,6805,6805,6805,6805,6805,6805,6805,6805,6805,6805,6805,6805,6805,6805,6805,6805,6805,6805,6805,6805,6805,6805,6805,6805,6805,6805,6805,6805,6805,6805,6805,6805,6805,6805,6805,6805,6805,6805,6805,6805,6805,6805,6805,6805,6805,6805,6805,6805,6805,6805,6805,6805,6805,6805,6805,6805,6805,6805,6805,6805,6805,6805,6805,6805,6805,6805,6805,6805,6805,6805,6802,6798,6793,6790,6790,6793,6797,6802,6808,6812,6815,6815,6815,6815,6815,6815,6815,6815,6815,6815,6815,6815,6815,6815,6815,6815,6815,6815,6815,6815,6815,6815,6815,6815,6815,6815,6815,6815,6815,6815,6815,6815,6815,6814,6814,6814,6814,6814,6814,6814,6814,6814,6814,6814,6814,6814,6814,6813,6813,6813,6813,6813,6813,6813,6813,6813,6812,6812,6812,6812,6812,6812,6812,6811,6811,6811,6811,6811,6810,6810,6810,6810,6810,6809,6809,6809,6809,6808,6808,6808,6807,6807,6807,6807,6806,6806,6806,6805,6805],[7907,7907,7907,7907,7907,7907,7907,7907,7907,7907,7907,7907,7907,7907,7907,7907,7907,7907,7907,7907,7907,7907,7907,7907,7907,7907,7907,7907,7907,7907,7907,7907,7908,7908,7908,7908,7908,7908,7908,7908,7908,7908,7908,7908,7908,7908,7908,7908,7908,7908,7909,7909,7909,7909,7909,7909,7909,7909,7909,7909,7909,7909,7910,7910,7910,7910,7910,7910,7911,7912,7913,7914,7916,7917,7918,7919,7920,7920,7919,7918,7916,7915,7913,7911,7909,7908,7907,7907,7907,7907,7907,7907,7907,7907,7907,7907,7907,7907,7907,7907,7907,7907,7907,7907,7907,7907,7907,7907,7907,7907,7906,7906,7906,7906,7906,7906,7906,7906,7906,7906,7906,7906,7906,7906,7906,7906,7906,7906,7906,7906,7906,7906,7906,7906,7906,7906,7906,7906,7906,7906,7906,7906,7906,7906,7906,7906,7906,7906,7906,7906,7906,7906,7906,7906,7906,7906,7906,7906,7906,7906,7906,7906,7906,7906,7906,7906,7906,7906,7906,7906,7906,7906,7906,7906,7906,7906,7906,7906,7906,7906,7906,7906,7906,7906,7906,7906,7906,7906,7906,7906,7906,7906,7906,7906,7906,7906,7906,7906,7906,7906,7906,7906,7906,7906,7906,7906,7906,7906,7906,7906,7906,7906,7906,7906,7906,7906,7906,7906,7906,7906,7906,7906,7906,7906,7906,7906,7906,7906,7906,7906,7906,7906,7906,7906,7906,7906,7906,7906,7906,7906,7906,7906,7906,7906,7906,7906,7906,7906,7906,7906,7906,7906,7906,7906,7906,7906,7906,7906,7906,7906,7906,7906,7906,7906,7906,7906,7906,7906,7906,7906,7905,7905,7905,7905,7905,7905,7905,7905,7905,7905,7905,7905,7905,7905,7905,7905,7905,7905,7905,7905,7905,7905,7905,7902,7897,7893,7890,7890,7892,7895,7898,7902,7905,7908,7910,7910,7910,7910,7910,7910,7910,7910,7910,7910,7910,7910,7910,7910,7910,7910,7910,7910,7910,7910,7910,7910,7910,7910,7910,7910,7910,7910,7910,7910,7910,7910,7910,7910,7910,7910,7910,7910,7910,7910,7910,7910,7910,7910,7910,7910,7909,7909,7909,7909,7909,7909,7909,7909,7909,7909,7909,7909,7909,7909,7909,7909,7909,7909,7909,7909,7908,7908,7908,7908,7908,7908,7908,7908,7908,7908,7908,7908,7907,7907,7907,7907,7907]],"refs":[126.05,237.0,348.0,458.07,569.26,680.5,790.6],"bias":[0.0,0.0,0.0,0.0,0.0,0.0,0.0,0.0,0.0,0.0,0.0,0.0,0.0,0.0,0.0,0.0,0.0,0.0,0.0,0.0,0.0,0.0,0.0,0.0,0.0,0.0,0.0,0.0,0.0,0.0,0.0,0.0,0.0,0.0,0.0,0.0,0.0,0.0,0.0,0.0,0.0,0.0,0.0,0.0,0.0,0.0,0.0,0.0,0.0,0.0,0.0,0.0,0.0,0.0,0.0,0.0,0.0,0.0,0.0,0.0,0.0,0.0,0.0,-0.13,-0.39,-0.65,-0.91,-1.17,-1.43,-1.69,-1.95,-2.21,-2.47,-2.6,-2.6,-2.6,-2.6,-2.6,-2.6,-2.6,-2.6,-2.6,-2.6,-2.6,-2.6,-2.6,-2.6,-2.6,-2.6,-2.6,-2.6,-2.6,-2.6,-2.6,-2.6,-2.47,-2.21,-1.95,-1.69,-1.43,-1.17,-0.91,-0.65,-0.39,-0.13,0.0,0.0,0.0,0.0,0.0,0.0,0.0,0.0,0.0,0.0,0.0,0.0,0.0,0.0,0.0,0.0,0.0,0.0,0.0,0.0,0.0,0.0,0.0,0.0,0.0,0.0,0.0,0.0,0.0,0.0,0.0,0.0,0.0,0.0,0.0,0.0,0.0,0.0,0.0,0.0,0.0,0.0,0.0,0.0,0.0,0.0,0.0,0.0,0.0,0.0,0.0,0.0,0.0,0.0,0.0,0.0,0.0,0.0,0.0,0.0,0.0,0.0,0.0,0.0,0.0,0.0,0.0,0.0,0.0,0.0,0.0,0.0,0.0,0.0,0.0,0.0,0.0,0.0,0.0,0.0,0.0,0.0,0.0,0.0,0.0,0.0,0.0,0.0,0.0,0.0,0.0,0.0,0.0,0.0,0.0,0.0,0.0,0.0,0.0,0.0,0.0,0.0,0.0,0.0,0.0,0.0,0.0,0.0,0.0,0.0,0.0,0.0,0.0,0.0,0.0,0.0,0.0,0.0,0.0,0.0,0.0,0.0,0.0,0.0,0.0,0.0,0.0,0.0,0.0,0.0,0.0,0.0,0.0,0.0,0.0,0.0,0.0,0.0,0.0,0.0,0.0,0.0,0.0,0.0,0.0,0.0,0.0,0.0,0.0,0.0,0.0,0.0,0.0,0.0,0.0,0.0,0.0,0.0,0.0,0.0,0.0,0.0,0.0,0.0,-0.1,-0.29,-0.48,-0.67,-0.86,-1.05,-1.25,-1.44,-1.63,-1.82,-2.01,-2.2,-2.3,-2.3,-2.3,-2.3,-2.3,-2.3,-2.3,-2.3,-2.3,-2.3,-2.3,-2.3,-2.3,-2.3,-2.3,-2.3,-2.3,-2.3,-2.3,-2.3,-2.3,-2.3,-2.3,-2.3,-2.3,-2.3,-2.3,-2.3,-2.3,-2.3,-2.3,-2.3,-2.2,-2.01,-1.82,-1.63,-1.44,-1.25,-1.05,-0.86,-0.67,-0.48,-0.29,-0.1,0.0,0.0,0.0,0.0,0.0,0.0,0.0,0.0,0.0,0.0,0.0,0.0,0.0,0.0,0.0,0.0,0.0,0.0,0.0,0.0,0.0,0.0,0.0,0.0,0.0,0.0,0.0,0.0,0.0,0.0,0.0,0.0,0.0,0.0,0.0,0.0,0.0,0.0,0.0,0.0,0.0,0.0,0.0,0.0,0.0,0.0,0.0,0.0,0.0,0.0,0.0,0.0,0.0,0.0,0.0,0.0,0.0,0.0,0.0,0.0,0.0,0.0],"vo":{"0":[-4.0,-4.0,-4.0,-4.0,-4.0,-4.0,-4.0,-4.0,-4.0,-4.0,-4.0,-4.0,-4.0,-4.0,-4.0,-4.0,-4.0,-4.0,-4.0,-4.0,-4.0,-4.0,-4.0,-3.75,-3.25,-2.75,-2.25,-1.75,-1.25,-0.75,-0.25,0.0,0.0,0.0,0.0,0.0,0.0,0.0,0.0,0.0,0.0,0.0,0.0,0.0,0.0,0.0,0.0,0.0,0.0,0.0,0.0,0.0,0.0,0.0,0.0,0.0,0.0,0.0,0.0,0.0,0.0,0.0,0.0,0.0,0.0,0.0,0.0,0.0,0.0,0.0,0.0,0.0,0.0,0.0,0.0,0.0,0.0,0.0,0.0,0.0,0.0,0.0,0.0,0.0,0.0,0.0,0.0,0.0,0.0,0.0,0.0,0.0,0.0,0.0,0.0,0.0,0.0,0.0,0.0,0.0,0.0,0.0,0.0,0.0,0.0,0.0,0.0,0.0,0.0,0.0,0.0,0.0,0.0,0.0,0.0,0.0,0.0,0.0,0.0,0.0,0.0,0.0,0.0,0.0,0.0,0.0,0.0,0.0,0.0,0.0,0.0,0.0,0.0,0.0,0.0,0.0,0.0,0.0,0.0,0.0,0.0,0.0,0.0,0.0,0.0,0.0,0.0,0.0,0.0,0.0,0.0,0.0,0.0,0.0,0.0,0.0,0.0,0.0,0.0,0.0,0.0,0.0,0.0,0.0,0.0,0.0,0.0,0.0,0.0,0.0,0.0,0.0,0.0,0.0,0.0,0.0,0.0,0.0,0.0,0.0,0.0,0.0,0.0,0.0,0.0,0.0,0.0,0.0,0.0,0.0,0.0,0.0,0.0,0.0,0.0,0.0,0.0,0.0,0.0,0.0,0.0,0.0,0.0,0.0,0.0,0.0,0.0,0.0,0.0,0.0,0.0,0.0,0.0,0.0,0.0,0.0,0.0,0.0,0.0,0.0,0.0,0.0,0.0,0.0,0.0,0.0,0.0,0.0,0.0,0.0,0.0,0.0,0.0,0.0,0.0,0.0,0.0,0.0,0.0,0.0,0.0,0.0,0.0,0.0,0.0,0.0,0.0,0.0,0.0,0.0,0.0,0.0,0.0,0.0,0.0,0.0,0.0,0.0,0.0,0.0,0.0,0.0,0.0,0.0,0.0,0.0,0.0,0.0,0.0,0.0,0.0,0.0,0.0,0.0,0.0,0.0,0.0,0.0,0.0,0.0,0.0,0.0,0.0,0.0,0.0,0.0,0.0,0.0,0.0,0.0,0.0,0.0,0.0,0.0,0.0,0.0,0.0,0.0,0.0,0.0,0.0,0.0,0.0,0.0,0.0,-0.23,-0.7,-1.16,-1.62,-2.09,-2.55,-3.02,-3.48,-3.95,-4.41,-4.88,-5.34,-5.8,-6.27,-6.5,-6.5,-6.5,-6.5,-6.5,-6.5,-6.5,-6.5,-6.5,-6.5,-6.5,-6.5,-6.5,-6.5,-6.5,-6.5,-6.5,-6.5,-6.5,-6.5,-6.5,-6.5,-6.5,-6.5,-6.5,-6.5,-6.5,-6.5,-6.5,-6.5,-6.5,-6.5,-6.5,-6.5,-6.5,-6.5,-6.5,-6.5,-6.5,-6.5,-6.5,-6.5,-6.5,-6.5,-6.5,-6.5,-6.5,-6.5,-6.5,-6.5,-6.5,-6.5,-6.5,-6.5,-6.5,-6.5,-6.5,-6.5,-6.5,-6.5,-6.5,-6.5,-6.5,-6.5,-6.5,-6.5,-6.5,-6.5]}}];var CM=[[-48,0,0,255],[-38,10,40,250],[-28,35,110,240],[-18,60,165,235],[-10,140,205,242],[-6,196,231,249],[-3,228,244,252],[-1.2,255,255,255],[2.0,255,255,255],[4,248,222,210],[7,240,188,165],[11,232,142,106],[16,224,108,62],[22,217,84,30],[35,226,120,30],[50,240,180,25],[68,255,240,0]];
(function(){
var cv=document.getElementById('cv');var ctx=cv.getContext('2d');
var img=ctx.createImageData(cv.width,cv.height);var d=img.data;
for(var i=0;i<d.length;i+=4){d[i]=255;d[i+1]=255;d[i+2]=255;d[i+3]=0;}
function cmap(v){
 if(v<=CM[0][0])return [CM[0][1],CM[0][2],CM[0][3]];
 for(var k=1;k<CM.length;k++){if(v<=CM[k][0]){var a=CM[k-1],b=CM[k];var t=(v-a[0])/(b[0]-a[0]);return [a[1]+(b[1]-a[1])*t,a[2]+(b[2]-a[2])*t,a[3]+(b[3]-a[3])*t];}}
 var L=CM[CM.length-1];return [L[1],L[2],L[3]];
}
P.forEach(function(p){
 var n=p.ys[0].length;var W=cv.width;
 for(var j=0;j<n;j++){
  var px=p.c0+j; if(px<p.x0+0.5||px>p.x1-1.5)continue;
  for(var g=0;g<p.ys.length-1;g++){
   var ya=p.ys[g][j]/10,yb=p.ys[g+1][j]/10;var bi=p.bias[j];var va=p.refs[g]-ya+bi,vb=p.refs[g+1]-yb+bi;if(p.vo[g])va+=p.vo[g][j];if(p.vo[g+1])vb+=p.vo[g+1][j];
   if(yb<ya){var tt=ya;ya=yb;yb=tt;tt=va;va=vb;vb=tt;}
   var s=Math.max(Math.floor(ya),Math.ceil(p.y0+1)),e=Math.min(Math.ceil(yb),Math.floor(p.y1-1));
   for(var py=s;py<=e;py++){
    var t=(py+0.5-ya)/(yb-ya);if(t<0)t=0;if(t>1)t=1;
    var c=cmap(va*(1-t)+vb*t);var o=(py*W+px)*4;
    d[o]=c[0];d[o+1]=c[1];d[o+2]=c[2];d[o+3]=255;
   }
  }
 }
});
ctx.putImageData(img,0,0);
})();
</script></body></html>
